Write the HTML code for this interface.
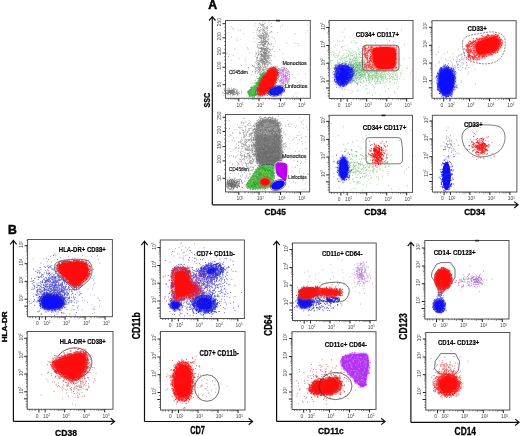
<!DOCTYPE html>
<html><head><meta charset="utf-8"><style>html,body{margin:0;padding:0;background:#fff;width:520px;height:436px;overflow:hidden}text{font-family:"Liberation Sans",sans-serif}</style></head>
<body><svg width="520" height="436" viewBox="0 0 520 436" style="display:block;font-family:'Liberation Sans',sans-serif"><filter id="gb" x="0" y="0" width="100%" height="100%"><feGaussianBlur stdDeviation="0.45"/></filter><g filter="url(#gb)"><rect width="520" height="436" fill="#fff"/><text x="208.2" y="8.6" font-size="12.2" font-weight="bold" fill="#000" stroke="#000" stroke-width="0.5">A</text><path d="M212.3 204.8V16.8M209.1 20.5L212.3 16.6L215.5 20.5" fill="none" stroke="#111" stroke-width="1.2"/><path d="M212.3 204.8H517.9M514.2 201.6L518.1 204.8L514.2 208" fill="none" stroke="#111" stroke-width="1.15"/><text transform="translate(209.5,107.5) rotate(-90)" font-size="9.64" font-weight="bold" fill="#000" stroke="#000" stroke-width="0.3" textLength="14.7" lengthAdjust="spacingAndGlyphs">SSC</text><text x="264.6" y="215" font-size="8.66" font-weight="bold" fill="#000" stroke="#000" stroke-width="0.3" textLength="21.2" lengthAdjust="spacingAndGlyphs">CD45</text><text x="364.2" y="215.2" font-size="8.66" font-weight="bold" fill="#000" stroke="#000" stroke-width="0.3" textLength="22.2" lengthAdjust="spacingAndGlyphs">CD34</text><text x="464.2" y="215.2" font-size="8.66" font-weight="bold" fill="#000" stroke="#000" stroke-width="0.3" textLength="21.0" lengthAdjust="spacingAndGlyphs">CD34</text><text x="7.9" y="233.8" font-size="12.2" font-weight="bold" fill="#000" stroke="#000" stroke-width="0.5">B</text><path d="M13.4 421.4V240.6M10.2 244.3L13.4 240.4L16.6 244.3" fill="none" stroke="#111" stroke-width="1.2"/><path d="M13.4 421.4H114.4M110.7 418.2L114.6 421.4L110.7 424.6" fill="none" stroke="#111" stroke-width="1.15"/><path d="M144.5 421.5V241.4M141.3 245.1L144.5 241.2L147.7 245.1" fill="none" stroke="#111" stroke-width="1.2"/><path d="M144.5 421.5H252.4M248.7 418.3L252.6 421.5L248.7 424.7" fill="none" stroke="#111" stroke-width="1.15"/><path d="M276.6 421.4V241.4M273.4 245.1L276.6 241.2L279.8 245.1" fill="none" stroke="#111" stroke-width="1.2"/><path d="M276.6 421.4H384.9M381.2 418.2L385.1 421.4L381.2 424.6" fill="none" stroke="#111" stroke-width="1.15"/><path d="M410.9 422.3V242.4M407.7 246.1L410.9 242.2L414.1 246.1" fill="none" stroke="#111" stroke-width="1.2"/><path d="M410.9 422.3H518.9M515.2 419.1L519.1 422.3L515.2 425.5" fill="none" stroke="#111" stroke-width="1.15"/><text transform="translate(6.9,342.3) rotate(-90)" font-size="6.84" font-weight="bold" fill="#000" stroke="#000" stroke-width="0.3" textLength="31.0" lengthAdjust="spacingAndGlyphs">HLA-DR</text><text transform="translate(139.9,339.2) rotate(-90)" font-size="10.34" font-weight="bold" fill="#000" stroke="#000" stroke-width="0.3" textLength="27.0" lengthAdjust="spacingAndGlyphs">CD11b</text><text transform="translate(272.3,335.7) rotate(-90)" font-size="10.34" font-weight="bold" fill="#000" stroke="#000" stroke-width="0.3" textLength="20.7" lengthAdjust="spacingAndGlyphs">CD64</text><text transform="translate(406.7,339.7) rotate(-90)" font-size="10.61" font-weight="bold" fill="#000" stroke="#000" stroke-width="0.3" textLength="26.4" lengthAdjust="spacingAndGlyphs">CD123</text><text x="55" y="435.6" font-size="9.78" font-weight="bold" fill="#000" stroke="#000" stroke-width="0.3" textLength="22.0" lengthAdjust="spacingAndGlyphs">CD38</text><text x="190.2" y="434" font-size="10.06" font-weight="bold" fill="#000" stroke="#000" stroke-width="0.3" textLength="14.8" lengthAdjust="spacingAndGlyphs">CD7</text><text x="318" y="434.2" font-size="9.50" font-weight="bold" fill="#000" stroke="#000" stroke-width="0.3" textLength="25.8" lengthAdjust="spacingAndGlyphs">CD11c</text><text x="454.6" y="434.8" font-size="10.06" font-weight="bold" fill="#000" stroke="#000" stroke-width="0.3" textLength="21.4" lengthAdjust="spacingAndGlyphs">CD14</text><rect x="225.5" y="20.5" width="84.8" height="77.8" fill="none" stroke="#555" stroke-width="1"/><path d="M244.9 98.3v1.2M248.4 98.3v1.2M251 98.3v1.2M252.9 98.3v1.8M254.5 98.3v1.2M255.9 98.3v1.2M257 98.3v1.2M258.1 98.3v1.2M265.5 98.3v1.2M269.3 98.3v1.2M271.9 98.3v1.2M274 98.3v1.8M275.7 98.3v1.2M277.2 98.3v1.2M278.4 98.3v1.2M279.5 98.3v1.2M286.5 98.3v1.2M290 98.3v1.2M292.5 98.3v1.2M294.5 98.3v1.8M296.1 98.3v1.2M297.4 98.3v1.2M298.6 98.3v1.2M299.6 98.3v1.2M228.5 98.3v1.2M231 98.3v1.2M232.9 98.3v1.2M234.4 98.3v1.2M235.7 98.3v1.2M236.9 98.3v1.2M237.9 98.3v1.2M225.5 80.3h-1.3M225.5 76h-1.3M225.5 71.7h-1.3M225.5 63.7h-1.3M225.5 60.1h-1.3M225.5 56.6h-1.3M225.5 49.2h-1.3M225.5 45.5h-1.3M225.5 41.7h-1.3M225.5 34.4h-1.3M225.5 30.8h-1.3M225.5 27.2h-1.3" stroke="#444" stroke-width="0.7" fill="none"/><path d="M238.8 98.3v3M259 98.3v3M280.5 98.3v3M300.5 98.3v3M225.5 84.7h-3M225.5 67.3h-3M225.5 53h-3M225.5 37.9h-3M225.5 23.7h-3" stroke="#222" stroke-width="1" fill="none"/><text x="236.6" y="106.5" fill="#444" font-size="4.9">10<tspan font-size="3" dy="-1.5">1</tspan></text><text x="256.8" y="106.5" fill="#444" font-size="4.9">10<tspan font-size="3" dy="-1.5">2</tspan></text><text x="278.3" y="106.5" fill="#444" font-size="4.9">10<tspan font-size="3" dy="-1.5">3</tspan></text><text x="298.3" y="106.5" fill="#444" font-size="4.9">10<tspan font-size="3" dy="-1.5">4</tspan></text><text transform="translate(220.9,87.2) rotate(-90)" fill="#444" font-size="4.9">50</text><text transform="translate(220.9,69.8) rotate(-90)" fill="#444" font-size="4.9">100</text><text transform="translate(220.9,55.5) rotate(-90)" fill="#444" font-size="4.9">150</text><text transform="translate(220.9,40.4) rotate(-90)" fill="#444" font-size="4.9">200</text><text transform="translate(220.9,26.2) rotate(-90)" fill="#444" font-size="4.9">250</text><rect x="329.2" y="20.5" width="83.8" height="78" fill="none" stroke="#555" stroke-width="1"/><path d="M353.1 98.5v1.2M356.5 98.5v1.2M358.9 98.5v1.2M360.8 98.5v1.8M362.4 98.5v1.2M363.7 98.5v1.2M364.8 98.5v1.2M365.8 98.5v1.2M372.7 98.5v1.2M376.2 98.5v1.2M378.7 98.5v1.2M380.7 98.5v1.8M382.3 98.5v1.2M383.6 98.5v1.2M384.8 98.5v1.2M385.8 98.5v1.2M392.7 98.5v1.2M396.2 98.5v1.2M398.7 98.5v1.2M400.7 98.5v1.8M402.3 98.5v1.2M403.6 98.5v1.2M404.8 98.5v1.2M405.8 98.5v1.2M331.7 98.5v1.5M334.2 98.5v1.5M337.2 98.5v1.5M343.7 98.5v1.5M329.2 75.6h-1.2M329.2 72.5h-1.2M329.2 70.3h-1.2M329.2 68.6h-1.8M329.2 67.1h-1.2M329.2 66h-1.2M329.2 64.9h-1.2M329.2 64h-1.2M329.2 57.9h-1.2M329.2 54.8h-1.2M329.2 52.5h-1.2M329.2 50.8h-1.8M329.2 49.4h-1.2M329.2 48.2h-1.2M329.2 47.2h-1.2M329.2 46.3h-1.2M329.2 40.1h-1.2M329.2 36.9h-1.2M329.2 34.7h-1.2M329.2 32.9h-1.8M329.2 31.5h-1.2M329.2 30.3h-1.2M329.2 29.2h-1.2M329.2 28.3h-1.2M329.2 96h-1.5M329.2 93.5h-1.5M329.2 90.5h-1.5M329.2 84h-1.5M329.2 22.2h-1.2" stroke="#444" stroke-width="0.7" fill="none"/><path d="M347.2 98.5v3M366.7 98.5v3M386.7 98.5v3M406.7 98.5v3M340.9 98.5v3.2M329.2 81h-3M329.2 63.2h-3M329.2 45.5h-3M329.2 27.5h-3M329.2 88h-3.2" stroke="#222" stroke-width="1" fill="none"/><text x="337.7" y="106.7" fill="#444" font-size="4.9">0</text><text x="345" y="106.7" fill="#444" font-size="4.9">10<tspan font-size="3" dy="-1.5">2</tspan></text><text x="364.5" y="106.7" fill="#444" font-size="4.9">10<tspan font-size="3" dy="-1.5">3</tspan></text><text x="384.5" y="106.7" fill="#444" font-size="4.9">10<tspan font-size="3" dy="-1.5">4</tspan></text><text x="404.5" y="106.7" fill="#444" font-size="4.9">10<tspan font-size="3" dy="-1.5">5</tspan></text><text transform="translate(324.6,83.2) rotate(-90)" fill="#444" font-size="4.9">10<tspan font-size="3" dy="-1.5">2</tspan></text><text transform="translate(324.6,65.4) rotate(-90)" fill="#444" font-size="4.9">10<tspan font-size="3" dy="-1.5">3</tspan></text><text transform="translate(324.6,47.7) rotate(-90)" fill="#444" font-size="4.9">10<tspan font-size="3" dy="-1.5">4</tspan></text><text transform="translate(324.6,29.7) rotate(-90)" fill="#444" font-size="4.9">10<tspan font-size="3" dy="-1.5">5</tspan></text><rect x="432" y="20.7" width="84.1" height="77.6" fill="none" stroke="#555" stroke-width="1"/><path d="M455.9 98.3v1.2M459.3 98.3v1.2M461.7 98.3v1.2M463.6 98.3v1.8M465.2 98.3v1.2M466.5 98.3v1.2M467.6 98.3v1.2M468.6 98.3v1.2M475.5 98.3v1.2M479 98.3v1.2M481.5 98.3v1.2M483.5 98.3v1.8M485.1 98.3v1.2M486.4 98.3v1.2M487.6 98.3v1.2M488.6 98.3v1.2M495.5 98.3v1.2M499 98.3v1.2M501.5 98.3v1.2M503.5 98.3v1.8M505.1 98.3v1.2M506.4 98.3v1.2M507.6 98.3v1.2M508.6 98.3v1.2M434.5 98.3v1.5M437 98.3v1.5M440 98.3v1.5M446.5 98.3v1.5M432 75.4h-1.2M432 72.3h-1.2M432 70.1h-1.2M432 68.4h-1.8M432 66.9h-1.2M432 65.8h-1.2M432 64.7h-1.2M432 63.8h-1.2M432 57.7h-1.2M432 54.6h-1.2M432 52.3h-1.2M432 50.6h-1.8M432 49.2h-1.2M432 48h-1.2M432 47h-1.2M432 46.1h-1.2M432 39.9h-1.2M432 36.7h-1.2M432 34.5h-1.2M432 32.7h-1.8M432 31.3h-1.2M432 30.1h-1.2M432 29h-1.2M432 28.1h-1.2M432 95.8h-1.5M432 93.3h-1.5M432 90.3h-1.5M432 83.8h-1.5M432 22h-1.2" stroke="#444" stroke-width="0.7" fill="none"/><path d="M450 98.3v3M469.5 98.3v3M489.5 98.3v3M509.5 98.3v3M443.7 98.3v3.2M432 80.8h-3M432 63h-3M432 45.3h-3M432 27.3h-3M432 87.8h-3.2" stroke="#222" stroke-width="1" fill="none"/><text x="440.5" y="106.5" fill="#444" font-size="4.9">0</text><text x="447.8" y="106.5" fill="#444" font-size="4.9">10<tspan font-size="3" dy="-1.5">2</tspan></text><text x="467.3" y="106.5" fill="#444" font-size="4.9">10<tspan font-size="3" dy="-1.5">3</tspan></text><text x="487.3" y="106.5" fill="#444" font-size="4.9">10<tspan font-size="3" dy="-1.5">4</tspan></text><text x="507.3" y="106.5" fill="#444" font-size="4.9">10<tspan font-size="3" dy="-1.5">5</tspan></text><text transform="translate(427.4,83) rotate(-90)" fill="#444" font-size="4.9">10<tspan font-size="3" dy="-1.5">2</tspan></text><text transform="translate(427.4,65.2) rotate(-90)" fill="#444" font-size="4.9">10<tspan font-size="3" dy="-1.5">3</tspan></text><text transform="translate(427.4,47.5) rotate(-90)" fill="#444" font-size="4.9">10<tspan font-size="3" dy="-1.5">4</tspan></text><text transform="translate(427.4,29.5) rotate(-90)" fill="#444" font-size="4.9">10<tspan font-size="3" dy="-1.5">5</tspan></text><rect x="225.5" y="114.5" width="84.1" height="77.4" fill="none" stroke="#555" stroke-width="1"/><path d="M244.9 191.9v1.2M248.4 191.9v1.2M251 191.9v1.2M252.9 191.9v1.8M254.5 191.9v1.2M255.9 191.9v1.2M257 191.9v1.2M258.1 191.9v1.2M265.5 191.9v1.2M269.3 191.9v1.2M271.9 191.9v1.2M274 191.9v1.8M275.7 191.9v1.2M277.2 191.9v1.2M278.4 191.9v1.2M279.5 191.9v1.2M286.5 191.9v1.2M290 191.9v1.2M292.5 191.9v1.2M294.5 191.9v1.8M296.1 191.9v1.2M297.4 191.9v1.2M298.6 191.9v1.2M299.6 191.9v1.2M228.5 191.9v1.2M231 191.9v1.2M232.9 191.9v1.2M234.4 191.9v1.2M235.7 191.9v1.2M236.9 191.9v1.2M237.9 191.9v1.2M225.5 174h-1.3M225.5 169.6h-1.3M225.5 165.2h-1.3M225.5 157.3h-1.3M225.5 153.8h-1.3M225.5 150.2h-1.3M225.5 142.8h-1.3M225.5 139.1h-1.3M225.5 135.3h-1.3M225.5 128h-1.3M225.5 124.4h-1.3M225.5 120.9h-1.3" stroke="#444" stroke-width="0.7" fill="none"/><path d="M238.8 191.9v3M259 191.9v3M280.5 191.9v3M300.5 191.9v3M225.5 178.3h-3M225.5 160.9h-3M225.5 146.6h-3M225.5 131.5h-3M225.5 117.3h-3" stroke="#222" stroke-width="1" fill="none"/><text x="236.6" y="200.1" fill="#444" font-size="4.9">10<tspan font-size="3" dy="-1.5">1</tspan></text><text x="256.8" y="200.1" fill="#444" font-size="4.9">10<tspan font-size="3" dy="-1.5">2</tspan></text><text x="278.3" y="200.1" fill="#444" font-size="4.9">10<tspan font-size="3" dy="-1.5">3</tspan></text><text x="298.3" y="200.1" fill="#444" font-size="4.9">10<tspan font-size="3" dy="-1.5">4</tspan></text><text transform="translate(220.9,180.8) rotate(-90)" fill="#444" font-size="4.9">50</text><text transform="translate(220.9,163.4) rotate(-90)" fill="#444" font-size="4.9">100</text><text transform="translate(220.9,149.1) rotate(-90)" fill="#444" font-size="4.9">150</text><text transform="translate(220.9,134) rotate(-90)" fill="#444" font-size="4.9">200</text><text transform="translate(220.9,119.8) rotate(-90)" fill="#444" font-size="4.9">250</text><rect x="329.2" y="115.3" width="83.3" height="77.1" fill="none" stroke="#555" stroke-width="1"/><path d="M353.1 192.4v1.2M356.5 192.4v1.2M358.9 192.4v1.2M360.8 192.4v1.8M362.4 192.4v1.2M363.7 192.4v1.2M364.8 192.4v1.2M365.8 192.4v1.2M372.7 192.4v1.2M376.2 192.4v1.2M378.7 192.4v1.2M380.7 192.4v1.8M382.3 192.4v1.2M383.6 192.4v1.2M384.8 192.4v1.2M385.8 192.4v1.2M392.7 192.4v1.2M396.2 192.4v1.2M398.7 192.4v1.2M400.7 192.4v1.8M402.3 192.4v1.2M403.6 192.4v1.2M404.8 192.4v1.2M405.8 192.4v1.2M331.7 192.4v1.5M334.2 192.4v1.5M337.2 192.4v1.5M343.7 192.4v1.5M329.2 169.5h-1.2M329.2 166.4h-1.2M329.2 164.2h-1.2M329.2 162.5h-1.8M329.2 161h-1.2M329.2 159.9h-1.2M329.2 158.8h-1.2M329.2 157.9h-1.2M329.2 151.8h-1.2M329.2 148.7h-1.2M329.2 146.4h-1.2M329.2 144.7h-1.8M329.2 143.3h-1.2M329.2 142.1h-1.2M329.2 141.1h-1.2M329.2 140.2h-1.2M329.2 134h-1.2M329.2 130.8h-1.2M329.2 128.6h-1.2M329.2 126.8h-1.8M329.2 125.4h-1.2M329.2 124.2h-1.2M329.2 123.1h-1.2M329.2 122.2h-1.2M329.2 189.9h-1.5M329.2 187.4h-1.5M329.2 184.4h-1.5M329.2 177.9h-1.5M329.2 116.1h-1.2" stroke="#444" stroke-width="0.7" fill="none"/><path d="M347.2 192.4v3M366.7 192.4v3M386.7 192.4v3M406.7 192.4v3M340.9 192.4v3.2M329.2 174.9h-3M329.2 157.1h-3M329.2 139.4h-3M329.2 121.4h-3M329.2 181.9h-3.2" stroke="#222" stroke-width="1" fill="none"/><text x="337.7" y="200.6" fill="#444" font-size="4.9">0</text><text x="345" y="200.6" fill="#444" font-size="4.9">10<tspan font-size="3" dy="-1.5">2</tspan></text><text x="364.5" y="200.6" fill="#444" font-size="4.9">10<tspan font-size="3" dy="-1.5">3</tspan></text><text x="384.5" y="200.6" fill="#444" font-size="4.9">10<tspan font-size="3" dy="-1.5">4</tspan></text><text x="404.5" y="200.6" fill="#444" font-size="4.9">10<tspan font-size="3" dy="-1.5">5</tspan></text><text transform="translate(324.6,177.1) rotate(-90)" fill="#444" font-size="4.9">10<tspan font-size="3" dy="-1.5">2</tspan></text><text transform="translate(324.6,159.3) rotate(-90)" fill="#444" font-size="4.9">10<tspan font-size="3" dy="-1.5">3</tspan></text><text transform="translate(324.6,141.6) rotate(-90)" fill="#444" font-size="4.9">10<tspan font-size="3" dy="-1.5">4</tspan></text><text transform="translate(324.6,123.6) rotate(-90)" fill="#444" font-size="4.9">10<tspan font-size="3" dy="-1.5">5</tspan></text><rect x="432.4" y="115.3" width="84.5" height="76.7" fill="none" stroke="#555" stroke-width="1"/><path d="M456.3 192v1.2M459.7 192v1.2M462.1 192v1.2M464 192v1.8M465.6 192v1.2M466.9 192v1.2M468 192v1.2M469 192v1.2M475.9 192v1.2M479.4 192v1.2M481.9 192v1.2M483.9 192v1.8M485.5 192v1.2M486.8 192v1.2M488 192v1.2M489 192v1.2M495.9 192v1.2M499.4 192v1.2M501.9 192v1.2M503.9 192v1.8M505.5 192v1.2M506.8 192v1.2M508 192v1.2M509 192v1.2M434.9 192v1.5M437.4 192v1.5M440.4 192v1.5M446.9 192v1.5M432.4 169.1h-1.2M432.4 166h-1.2M432.4 163.8h-1.2M432.4 162.1h-1.8M432.4 160.6h-1.2M432.4 159.5h-1.2M432.4 158.4h-1.2M432.4 157.5h-1.2M432.4 151.4h-1.2M432.4 148.3h-1.2M432.4 146h-1.2M432.4 144.3h-1.8M432.4 142.9h-1.2M432.4 141.7h-1.2M432.4 140.7h-1.2M432.4 139.8h-1.2M432.4 133.6h-1.2M432.4 130.4h-1.2M432.4 128.2h-1.2M432.4 126.4h-1.8M432.4 125h-1.2M432.4 123.8h-1.2M432.4 122.7h-1.2M432.4 121.8h-1.2M432.4 189.5h-1.5M432.4 187h-1.5M432.4 184h-1.5M432.4 177.5h-1.5" stroke="#444" stroke-width="0.7" fill="none"/><path d="M450.4 192v3M469.9 192v3M489.9 192v3M509.9 192v3M444.1 192v3.2M432.4 174.5h-3M432.4 156.7h-3M432.4 139h-3M432.4 121h-3M432.4 181.5h-3.2" stroke="#222" stroke-width="1" fill="none"/><text x="440.9" y="200.2" fill="#444" font-size="4.9">0</text><text x="448.2" y="200.2" fill="#444" font-size="4.9">10<tspan font-size="3" dy="-1.5">2</tspan></text><text x="467.7" y="200.2" fill="#444" font-size="4.9">10<tspan font-size="3" dy="-1.5">3</tspan></text><text x="487.7" y="200.2" fill="#444" font-size="4.9">10<tspan font-size="3" dy="-1.5">4</tspan></text><text x="507.7" y="200.2" fill="#444" font-size="4.9">10<tspan font-size="3" dy="-1.5">5</tspan></text><text transform="translate(427.8,176.7) rotate(-90)" fill="#444" font-size="4.9">10<tspan font-size="3" dy="-1.5">2</tspan></text><text transform="translate(427.8,158.9) rotate(-90)" fill="#444" font-size="4.9">10<tspan font-size="3" dy="-1.5">3</tspan></text><text transform="translate(427.8,141.2) rotate(-90)" fill="#444" font-size="4.9">10<tspan font-size="3" dy="-1.5">4</tspan></text><text transform="translate(427.8,123.2) rotate(-90)" fill="#444" font-size="4.9">10<tspan font-size="3" dy="-1.5">5</tspan></text><rect x="27.6" y="239.5" width="84.8" height="77.2" fill="none" stroke="#555" stroke-width="1"/><path d="M51.5 316.7v1.2M54.9 316.7v1.2M57.3 316.7v1.2M59.2 316.7v1.8M60.8 316.7v1.2M62.1 316.7v1.2M63.2 316.7v1.2M64.2 316.7v1.2M71.1 316.7v1.2M74.6 316.7v1.2M77.1 316.7v1.2M79.1 316.7v1.8M80.7 316.7v1.2M82 316.7v1.2M83.2 316.7v1.2M84.2 316.7v1.2M91.1 316.7v1.2M94.6 316.7v1.2M97.1 316.7v1.2M99.1 316.7v1.8M100.7 316.7v1.2M102 316.7v1.2M103.2 316.7v1.2M104.2 316.7v1.2M30.1 316.7v1.5M32.6 316.7v1.5M35.6 316.7v1.5M42.1 316.7v1.5M27.6 293.8h-1.2M27.6 290.7h-1.2M27.6 288.5h-1.2M27.6 286.8h-1.8M27.6 285.3h-1.2M27.6 284.2h-1.2M27.6 283.1h-1.2M27.6 282.2h-1.2M27.6 276.1h-1.2M27.6 273h-1.2M27.6 270.7h-1.2M27.6 269h-1.8M27.6 267.6h-1.2M27.6 266.4h-1.2M27.6 265.4h-1.2M27.6 264.5h-1.2M27.6 258.3h-1.2M27.6 255.1h-1.2M27.6 252.9h-1.2M27.6 251.1h-1.8M27.6 249.7h-1.2M27.6 248.5h-1.2M27.6 247.4h-1.2M27.6 246.5h-1.2M27.6 314.2h-1.5M27.6 311.7h-1.5M27.6 308.7h-1.5M27.6 302.2h-1.5M27.6 240.4h-1.2" stroke="#444" stroke-width="0.7" fill="none"/><path d="M45.6 316.7v3M65.1 316.7v3M85.1 316.7v3M105.1 316.7v3M39.3 316.7v3.2M27.6 299.2h-3M27.6 281.4h-3M27.6 263.7h-3M27.6 245.7h-3M27.6 306.2h-3.2" stroke="#222" stroke-width="1" fill="none"/><text x="36.1" y="324.9" fill="#444" font-size="4.9">0</text><text x="43.4" y="324.9" fill="#444" font-size="4.9">10<tspan font-size="3" dy="-1.5">2</tspan></text><text x="62.9" y="324.9" fill="#444" font-size="4.9">10<tspan font-size="3" dy="-1.5">3</tspan></text><text x="82.9" y="324.9" fill="#444" font-size="4.9">10<tspan font-size="3" dy="-1.5">4</tspan></text><text x="102.9" y="324.9" fill="#444" font-size="4.9">10<tspan font-size="3" dy="-1.5">5</tspan></text><text transform="translate(23,301.4) rotate(-90)" fill="#444" font-size="4.9">10<tspan font-size="3" dy="-1.5">2</tspan></text><text transform="translate(23,283.6) rotate(-90)" fill="#444" font-size="4.9">10<tspan font-size="3" dy="-1.5">3</tspan></text><text transform="translate(23,265.9) rotate(-90)" fill="#444" font-size="4.9">10<tspan font-size="3" dy="-1.5">4</tspan></text><text transform="translate(23,247.9) rotate(-90)" fill="#444" font-size="4.9">10<tspan font-size="3" dy="-1.5">5</tspan></text><rect x="27.2" y="331.5" width="85.8" height="77.8" fill="none" stroke="#555" stroke-width="1"/><path d="M51.1 409.3v1.2M54.5 409.3v1.2M56.9 409.3v1.2M58.8 409.3v1.8M60.4 409.3v1.2M61.7 409.3v1.2M62.8 409.3v1.2M63.8 409.3v1.2M70.7 409.3v1.2M74.2 409.3v1.2M76.7 409.3v1.2M78.7 409.3v1.8M80.3 409.3v1.2M81.6 409.3v1.2M82.8 409.3v1.2M83.8 409.3v1.2M90.7 409.3v1.2M94.2 409.3v1.2M96.7 409.3v1.2M98.7 409.3v1.8M100.3 409.3v1.2M101.6 409.3v1.2M102.8 409.3v1.2M103.8 409.3v1.2M29.7 409.3v1.5M32.2 409.3v1.5M35.2 409.3v1.5M41.7 409.3v1.5M27.2 386.4h-1.2M27.2 383.3h-1.2M27.2 381.1h-1.2M27.2 379.4h-1.8M27.2 377.9h-1.2M27.2 376.8h-1.2M27.2 375.7h-1.2M27.2 374.8h-1.2M27.2 368.7h-1.2M27.2 365.6h-1.2M27.2 363.3h-1.2M27.2 361.6h-1.8M27.2 360.2h-1.2M27.2 359h-1.2M27.2 358h-1.2M27.2 357.1h-1.2M27.2 350.9h-1.2M27.2 347.7h-1.2M27.2 345.5h-1.2M27.2 343.7h-1.8M27.2 342.3h-1.2M27.2 341.1h-1.2M27.2 340h-1.2M27.2 339.1h-1.2M27.2 406.8h-1.5M27.2 404.3h-1.5M27.2 401.3h-1.5M27.2 394.8h-1.5M27.2 333h-1.2" stroke="#444" stroke-width="0.7" fill="none"/><path d="M45.2 409.3v3M64.7 409.3v3M84.7 409.3v3M104.7 409.3v3M38.9 409.3v3.2M27.2 391.8h-3M27.2 374h-3M27.2 356.3h-3M27.2 338.3h-3M27.2 398.8h-3.2" stroke="#222" stroke-width="1" fill="none"/><text x="35.7" y="417.5" fill="#444" font-size="4.9">0</text><text x="43" y="417.5" fill="#444" font-size="4.9">10<tspan font-size="3" dy="-1.5">2</tspan></text><text x="62.5" y="417.5" fill="#444" font-size="4.9">10<tspan font-size="3" dy="-1.5">3</tspan></text><text x="82.5" y="417.5" fill="#444" font-size="4.9">10<tspan font-size="3" dy="-1.5">4</tspan></text><text x="102.5" y="417.5" fill="#444" font-size="4.9">10<tspan font-size="3" dy="-1.5">5</tspan></text><text transform="translate(22.6,394) rotate(-90)" fill="#444" font-size="4.9">10<tspan font-size="3" dy="-1.5">2</tspan></text><text transform="translate(22.6,376.2) rotate(-90)" fill="#444" font-size="4.9">10<tspan font-size="3" dy="-1.5">3</tspan></text><text transform="translate(22.6,358.5) rotate(-90)" fill="#444" font-size="4.9">10<tspan font-size="3" dy="-1.5">4</tspan></text><text transform="translate(22.6,340.5) rotate(-90)" fill="#444" font-size="4.9">10<tspan font-size="3" dy="-1.5">5</tspan></text><rect x="160.3" y="240" width="84.1" height="78.5" fill="none" stroke="#555" stroke-width="1"/><path d="M184.2 318.5v1.2M187.6 318.5v1.2M190 318.5v1.2M191.9 318.5v1.8M193.5 318.5v1.2M194.8 318.5v1.2M195.9 318.5v1.2M196.9 318.5v1.2M203.8 318.5v1.2M207.3 318.5v1.2M209.8 318.5v1.2M211.8 318.5v1.8M213.4 318.5v1.2M214.7 318.5v1.2M215.9 318.5v1.2M216.9 318.5v1.2M223.8 318.5v1.2M227.3 318.5v1.2M229.8 318.5v1.2M231.8 318.5v1.8M233.4 318.5v1.2M234.7 318.5v1.2M235.9 318.5v1.2M236.9 318.5v1.2M162.8 318.5v1.5M165.3 318.5v1.5M168.3 318.5v1.5M174.8 318.5v1.5M160.3 295.6h-1.2M160.3 292.5h-1.2M160.3 290.3h-1.2M160.3 288.6h-1.8M160.3 287.1h-1.2M160.3 286h-1.2M160.3 284.9h-1.2M160.3 284h-1.2M160.3 277.9h-1.2M160.3 274.8h-1.2M160.3 272.5h-1.2M160.3 270.8h-1.8M160.3 269.4h-1.2M160.3 268.2h-1.2M160.3 267.2h-1.2M160.3 266.3h-1.2M160.3 260.1h-1.2M160.3 256.9h-1.2M160.3 254.7h-1.2M160.3 252.9h-1.8M160.3 251.5h-1.2M160.3 250.3h-1.2M160.3 249.2h-1.2M160.3 248.3h-1.2M160.3 316h-1.5M160.3 313.5h-1.5M160.3 310.5h-1.5M160.3 304h-1.5M160.3 242.2h-1.2" stroke="#444" stroke-width="0.7" fill="none"/><path d="M178.3 318.5v3M197.8 318.5v3M217.8 318.5v3M237.8 318.5v3M172 318.5v3.2M160.3 301h-3M160.3 283.2h-3M160.3 265.5h-3M160.3 247.5h-3M160.3 308h-3.2" stroke="#222" stroke-width="1" fill="none"/><text x="168.8" y="326.7" fill="#444" font-size="4.9">0</text><text x="176.1" y="326.7" fill="#444" font-size="4.9">10<tspan font-size="3" dy="-1.5">2</tspan></text><text x="195.6" y="326.7" fill="#444" font-size="4.9">10<tspan font-size="3" dy="-1.5">3</tspan></text><text x="215.6" y="326.7" fill="#444" font-size="4.9">10<tspan font-size="3" dy="-1.5">4</tspan></text><text x="235.6" y="326.7" fill="#444" font-size="4.9">10<tspan font-size="3" dy="-1.5">5</tspan></text><text transform="translate(155.7,303.2) rotate(-90)" fill="#444" font-size="4.9">10<tspan font-size="3" dy="-1.5">2</tspan></text><text transform="translate(155.7,285.4) rotate(-90)" fill="#444" font-size="4.9">10<tspan font-size="3" dy="-1.5">3</tspan></text><text transform="translate(155.7,267.7) rotate(-90)" fill="#444" font-size="4.9">10<tspan font-size="3" dy="-1.5">4</tspan></text><text transform="translate(155.7,249.7) rotate(-90)" fill="#444" font-size="4.9">10<tspan font-size="3" dy="-1.5">5</tspan></text><rect x="160.5" y="331.5" width="84.5" height="78.5" fill="none" stroke="#555" stroke-width="1"/><path d="M184.4 410v1.2M187.8 410v1.2M190.2 410v1.2M192.1 410v1.8M193.7 410v1.2M195 410v1.2M196.1 410v1.2M197.1 410v1.2M204 410v1.2M207.5 410v1.2M210 410v1.2M212 410v1.8M213.6 410v1.2M214.9 410v1.2M216.1 410v1.2M217.1 410v1.2M224 410v1.2M227.5 410v1.2M230 410v1.2M232 410v1.8M233.6 410v1.2M234.9 410v1.2M236.1 410v1.2M237.1 410v1.2M163 410v1.5M165.5 410v1.5M168.5 410v1.5M175 410v1.5M160.5 387.1h-1.2M160.5 384h-1.2M160.5 381.8h-1.2M160.5 380.1h-1.8M160.5 378.6h-1.2M160.5 377.5h-1.2M160.5 376.4h-1.2M160.5 375.5h-1.2M160.5 369.4h-1.2M160.5 366.3h-1.2M160.5 364h-1.2M160.5 362.3h-1.8M160.5 360.9h-1.2M160.5 359.7h-1.2M160.5 358.7h-1.2M160.5 357.8h-1.2M160.5 351.6h-1.2M160.5 348.4h-1.2M160.5 346.2h-1.2M160.5 344.4h-1.8M160.5 343h-1.2M160.5 341.8h-1.2M160.5 340.7h-1.2M160.5 339.8h-1.2M160.5 407.5h-1.5M160.5 405h-1.5M160.5 402h-1.5M160.5 395.5h-1.5M160.5 333.7h-1.2" stroke="#444" stroke-width="0.7" fill="none"/><path d="M178.5 410v3M198 410v3M218 410v3M238 410v3M172.2 410v3.2M160.5 392.5h-3M160.5 374.7h-3M160.5 357h-3M160.5 339h-3M160.5 399.5h-3.2" stroke="#222" stroke-width="1" fill="none"/><text x="169" y="418.2" fill="#444" font-size="4.9">0</text><text x="176.3" y="418.2" fill="#444" font-size="4.9">10<tspan font-size="3" dy="-1.5">2</tspan></text><text x="195.8" y="418.2" fill="#444" font-size="4.9">10<tspan font-size="3" dy="-1.5">3</tspan></text><text x="215.8" y="418.2" fill="#444" font-size="4.9">10<tspan font-size="3" dy="-1.5">4</tspan></text><text x="235.8" y="418.2" fill="#444" font-size="4.9">10<tspan font-size="3" dy="-1.5">5</tspan></text><text transform="translate(155.9,394.7) rotate(-90)" fill="#444" font-size="4.9">10<tspan font-size="3" dy="-1.5">2</tspan></text><text transform="translate(155.9,376.9) rotate(-90)" fill="#444" font-size="4.9">10<tspan font-size="3" dy="-1.5">3</tspan></text><text transform="translate(155.9,359.2) rotate(-90)" fill="#444" font-size="4.9">10<tspan font-size="3" dy="-1.5">4</tspan></text><text transform="translate(155.9,341.2) rotate(-90)" fill="#444" font-size="4.9">10<tspan font-size="3" dy="-1.5">5</tspan></text><rect x="292.5" y="243" width="83.7" height="77.5" fill="none" stroke="#555" stroke-width="1"/><path d="M316.4 320.5v1.2M319.8 320.5v1.2M322.2 320.5v1.2M324.1 320.5v1.8M325.7 320.5v1.2M327 320.5v1.2M328.1 320.5v1.2M329.1 320.5v1.2M336 320.5v1.2M339.5 320.5v1.2M342 320.5v1.2M344 320.5v1.8M345.6 320.5v1.2M346.9 320.5v1.2M348.1 320.5v1.2M349.1 320.5v1.2M356 320.5v1.2M359.5 320.5v1.2M362 320.5v1.2M364 320.5v1.8M365.6 320.5v1.2M366.9 320.5v1.2M368.1 320.5v1.2M369.1 320.5v1.2M295 320.5v1.5M297.5 320.5v1.5M300.5 320.5v1.5M307 320.5v1.5M292.5 297.6h-1.2M292.5 294.5h-1.2M292.5 292.3h-1.2M292.5 290.6h-1.8M292.5 289.1h-1.2M292.5 288h-1.2M292.5 286.9h-1.2M292.5 286h-1.2M292.5 279.9h-1.2M292.5 276.8h-1.2M292.5 274.5h-1.2M292.5 272.8h-1.8M292.5 271.4h-1.2M292.5 270.2h-1.2M292.5 269.2h-1.2M292.5 268.3h-1.2M292.5 262.1h-1.2M292.5 258.9h-1.2M292.5 256.7h-1.2M292.5 254.9h-1.8M292.5 253.5h-1.2M292.5 252.3h-1.2M292.5 251.2h-1.2M292.5 250.3h-1.2M292.5 318h-1.5M292.5 315.5h-1.5M292.5 312.5h-1.5M292.5 306h-1.5M292.5 244.2h-1.2" stroke="#444" stroke-width="0.7" fill="none"/><path d="M310.5 320.5v3M330 320.5v3M350 320.5v3M370 320.5v3M304.2 320.5v3.2M292.5 303h-3M292.5 285.2h-3M292.5 267.5h-3M292.5 249.5h-3M292.5 310h-3.2" stroke="#222" stroke-width="1" fill="none"/><text x="301" y="328.7" fill="#444" font-size="4.9">0</text><text x="308.3" y="328.7" fill="#444" font-size="4.9">10<tspan font-size="3" dy="-1.5">2</tspan></text><text x="327.8" y="328.7" fill="#444" font-size="4.9">10<tspan font-size="3" dy="-1.5">3</tspan></text><text x="347.8" y="328.7" fill="#444" font-size="4.9">10<tspan font-size="3" dy="-1.5">4</tspan></text><text x="367.8" y="328.7" fill="#444" font-size="4.9">10<tspan font-size="3" dy="-1.5">5</tspan></text><text transform="translate(287.9,305.2) rotate(-90)" fill="#444" font-size="4.9">10<tspan font-size="3" dy="-1.5">2</tspan></text><text transform="translate(287.9,287.4) rotate(-90)" fill="#444" font-size="4.9">10<tspan font-size="3" dy="-1.5">3</tspan></text><text transform="translate(287.9,269.7) rotate(-90)" fill="#444" font-size="4.9">10<tspan font-size="3" dy="-1.5">4</tspan></text><text transform="translate(287.9,251.7) rotate(-90)" fill="#444" font-size="4.9">10<tspan font-size="3" dy="-1.5">5</tspan></text><rect x="292" y="331.7" width="84" height="77.8" fill="none" stroke="#555" stroke-width="1"/><path d="M315.9 409.5v1.2M319.3 409.5v1.2M321.7 409.5v1.2M323.6 409.5v1.8M325.2 409.5v1.2M326.5 409.5v1.2M327.6 409.5v1.2M328.6 409.5v1.2M335.5 409.5v1.2M339 409.5v1.2M341.5 409.5v1.2M343.5 409.5v1.8M345.1 409.5v1.2M346.4 409.5v1.2M347.6 409.5v1.2M348.6 409.5v1.2M355.5 409.5v1.2M359 409.5v1.2M361.5 409.5v1.2M363.5 409.5v1.8M365.1 409.5v1.2M366.4 409.5v1.2M367.6 409.5v1.2M368.6 409.5v1.2M294.5 409.5v1.5M297 409.5v1.5M300 409.5v1.5M306.5 409.5v1.5M292 386.6h-1.2M292 383.5h-1.2M292 381.3h-1.2M292 379.6h-1.8M292 378.1h-1.2M292 377h-1.2M292 375.9h-1.2M292 375h-1.2M292 368.9h-1.2M292 365.8h-1.2M292 363.5h-1.2M292 361.8h-1.8M292 360.4h-1.2M292 359.2h-1.2M292 358.2h-1.2M292 357.3h-1.2M292 351.1h-1.2M292 347.9h-1.2M292 345.7h-1.2M292 343.9h-1.8M292 342.5h-1.2M292 341.3h-1.2M292 340.2h-1.2M292 339.3h-1.2M292 407h-1.5M292 404.5h-1.5M292 401.5h-1.5M292 395h-1.5M292 333.2h-1.2" stroke="#444" stroke-width="0.7" fill="none"/><path d="M310 409.5v3M329.5 409.5v3M349.5 409.5v3M369.5 409.5v3M303.7 409.5v3.2M292 392h-3M292 374.2h-3M292 356.5h-3M292 338.5h-3M292 399h-3.2" stroke="#222" stroke-width="1" fill="none"/><text x="300.5" y="417.7" fill="#444" font-size="4.9">0</text><text x="307.8" y="417.7" fill="#444" font-size="4.9">10<tspan font-size="3" dy="-1.5">2</tspan></text><text x="327.3" y="417.7" fill="#444" font-size="4.9">10<tspan font-size="3" dy="-1.5">3</tspan></text><text x="347.3" y="417.7" fill="#444" font-size="4.9">10<tspan font-size="3" dy="-1.5">4</tspan></text><text x="367.3" y="417.7" fill="#444" font-size="4.9">10<tspan font-size="3" dy="-1.5">5</tspan></text><text transform="translate(287.4,394.2) rotate(-90)" fill="#444" font-size="4.9">10<tspan font-size="3" dy="-1.5">2</tspan></text><text transform="translate(287.4,376.4) rotate(-90)" fill="#444" font-size="4.9">10<tspan font-size="3" dy="-1.5">3</tspan></text><text transform="translate(287.4,358.7) rotate(-90)" fill="#444" font-size="4.9">10<tspan font-size="3" dy="-1.5">4</tspan></text><text transform="translate(287.4,340.7) rotate(-90)" fill="#444" font-size="4.9">10<tspan font-size="3" dy="-1.5">5</tspan></text><rect x="424.8" y="240.5" width="84.2" height="78.5" fill="none" stroke="#555" stroke-width="1"/><path d="M448.7 319v1.2M452.1 319v1.2M454.5 319v1.2M456.4 319v1.8M458 319v1.2M459.3 319v1.2M460.4 319v1.2M461.4 319v1.2M468.3 319v1.2M471.8 319v1.2M474.3 319v1.2M476.3 319v1.8M477.9 319v1.2M479.2 319v1.2M480.4 319v1.2M481.4 319v1.2M488.3 319v1.2M491.8 319v1.2M494.3 319v1.2M496.3 319v1.8M497.9 319v1.2M499.2 319v1.2M500.4 319v1.2M501.4 319v1.2M427.3 319v1.5M429.8 319v1.5M432.8 319v1.5M439.3 319v1.5M424.8 296.1h-1.2M424.8 293h-1.2M424.8 290.8h-1.2M424.8 289.1h-1.8M424.8 287.6h-1.2M424.8 286.5h-1.2M424.8 285.4h-1.2M424.8 284.5h-1.2M424.8 278.4h-1.2M424.8 275.3h-1.2M424.8 273h-1.2M424.8 271.3h-1.8M424.8 269.9h-1.2M424.8 268.7h-1.2M424.8 267.7h-1.2M424.8 266.8h-1.2M424.8 260.6h-1.2M424.8 257.4h-1.2M424.8 255.2h-1.2M424.8 253.4h-1.8M424.8 252h-1.2M424.8 250.8h-1.2M424.8 249.7h-1.2M424.8 248.8h-1.2M424.8 316.5h-1.5M424.8 314h-1.5M424.8 311h-1.5M424.8 304.5h-1.5M424.8 242.7h-1.2" stroke="#444" stroke-width="0.7" fill="none"/><path d="M442.8 319v3M462.3 319v3M482.3 319v3M502.3 319v3M436.5 319v3.2M424.8 301.5h-3M424.8 283.7h-3M424.8 266h-3M424.8 248h-3M424.8 308.5h-3.2" stroke="#222" stroke-width="1" fill="none"/><text x="433.3" y="327.2" fill="#444" font-size="4.9">0</text><text x="440.6" y="327.2" fill="#444" font-size="4.9">10<tspan font-size="3" dy="-1.5">2</tspan></text><text x="460.1" y="327.2" fill="#444" font-size="4.9">10<tspan font-size="3" dy="-1.5">3</tspan></text><text x="480.1" y="327.2" fill="#444" font-size="4.9">10<tspan font-size="3" dy="-1.5">4</tspan></text><text x="500.1" y="327.2" fill="#444" font-size="4.9">10<tspan font-size="3" dy="-1.5">5</tspan></text><text transform="translate(420.2,303.7) rotate(-90)" fill="#444" font-size="4.9">10<tspan font-size="3" dy="-1.5">2</tspan></text><text transform="translate(420.2,285.9) rotate(-90)" fill="#444" font-size="4.9">10<tspan font-size="3" dy="-1.5">3</tspan></text><text transform="translate(420.2,268.2) rotate(-90)" fill="#444" font-size="4.9">10<tspan font-size="3" dy="-1.5">4</tspan></text><text transform="translate(420.2,250.2) rotate(-90)" fill="#444" font-size="4.9">10<tspan font-size="3" dy="-1.5">5</tspan></text><rect x="425.8" y="332.5" width="84" height="77.5" fill="none" stroke="#555" stroke-width="1"/><path d="M449.7 410v1.2M453.1 410v1.2M455.5 410v1.2M457.4 410v1.8M459 410v1.2M460.3 410v1.2M461.4 410v1.2M462.4 410v1.2M469.3 410v1.2M472.8 410v1.2M475.3 410v1.2M477.3 410v1.8M478.9 410v1.2M480.2 410v1.2M481.4 410v1.2M482.4 410v1.2M489.3 410v1.2M492.8 410v1.2M495.3 410v1.2M497.3 410v1.8M498.9 410v1.2M500.2 410v1.2M501.4 410v1.2M502.4 410v1.2M428.3 410v1.5M430.8 410v1.5M433.8 410v1.5M440.3 410v1.5M425.8 387.1h-1.2M425.8 384h-1.2M425.8 381.8h-1.2M425.8 380.1h-1.8M425.8 378.6h-1.2M425.8 377.5h-1.2M425.8 376.4h-1.2M425.8 375.5h-1.2M425.8 369.4h-1.2M425.8 366.3h-1.2M425.8 364h-1.2M425.8 362.3h-1.8M425.8 360.9h-1.2M425.8 359.7h-1.2M425.8 358.7h-1.2M425.8 357.8h-1.2M425.8 351.6h-1.2M425.8 348.4h-1.2M425.8 346.2h-1.2M425.8 344.4h-1.8M425.8 343h-1.2M425.8 341.8h-1.2M425.8 340.7h-1.2M425.8 339.8h-1.2M425.8 407.5h-1.5M425.8 405h-1.5M425.8 402h-1.5M425.8 395.5h-1.5M425.8 333.7h-1.2" stroke="#444" stroke-width="0.7" fill="none"/><path d="M443.8 410v3M463.3 410v3M483.3 410v3M503.3 410v3M437.5 410v3.2M425.8 392.5h-3M425.8 374.7h-3M425.8 357h-3M425.8 339h-3M425.8 399.5h-3.2" stroke="#222" stroke-width="1" fill="none"/><text x="434.3" y="418.2" fill="#444" font-size="4.9">0</text><text x="441.6" y="418.2" fill="#444" font-size="4.9">10<tspan font-size="3" dy="-1.5">2</tspan></text><text x="461.1" y="418.2" fill="#444" font-size="4.9">10<tspan font-size="3" dy="-1.5">3</tspan></text><text x="481.1" y="418.2" fill="#444" font-size="4.9">10<tspan font-size="3" dy="-1.5">4</tspan></text><text x="501.1" y="418.2" fill="#444" font-size="4.9">10<tspan font-size="3" dy="-1.5">5</tspan></text><text transform="translate(421.2,394.7) rotate(-90)" fill="#444" font-size="4.9">10<tspan font-size="3" dy="-1.5">2</tspan></text><text transform="translate(421.2,376.9) rotate(-90)" fill="#444" font-size="4.9">10<tspan font-size="3" dy="-1.5">3</tspan></text><text transform="translate(421.2,359.2) rotate(-90)" fill="#444" font-size="4.9">10<tspan font-size="3" dy="-1.5">4</tspan></text><text transform="translate(421.2,341.2) rotate(-90)" fill="#444" font-size="4.9">10<tspan font-size="3" dy="-1.5">5</tspan></text><defs><filter id="b03" x="-30%" y="-30%" width="160%" height="160%"><feGaussianBlur stdDeviation="0.35"/></filter><filter id="b08" x="-30%" y="-30%" width="160%" height="160%"><feGaussianBlur stdDeviation="0.8"/></filter><filter id="b15" x="-40%" y="-40%" width="180%" height="180%"><feGaussianBlur stdDeviation="1.5"/></filter><filter id="b25" x="-50%" y="-50%" width="200%" height="200%"><feGaussianBlur stdDeviation="2.5"/></filter></defs><path d="M276 20.6h4" stroke="#222" stroke-width="1.6"/><path d="M253.3 32.9h0M280.4 27.0h0M270.9 49.2h0M231.3 60.0h0M229.6 54.4h0M232.3 28.4h0M261.7 84.2h0M236.8 38.4h0M278.5 93.3h0M274.3 51.6h0M307.3 25.0h0M297.6 43.5h0M238.4 30.4h0M252.0 83.4h0M241.5 65.6h0M279.4 49.7h0M271.9 26.3h0M231.4 37.1h0M282.8 53.9h0M252.5 65.9h0M264.0 44.2h0M292.3 74.5h0M246.7 65.0h0M270.0 87.8h0M286.9 43.3h0M307.7 30.4h0M261.1 78.9h0M239.1 58.6h0M229.7 72.2h0M289.8 64.9h0M299.0 45.3h0M284.1 66.6h0M274.5 56.1h0M296.0 93.1h0M265.8 71.8h0M231.5 74.7h0M280.1 96.8h0M294.6 43.1h0M258.4 72.2h0M228.4 56.5h0M240.4 30.4h0M231.4 79.7h0M237.2 40.3h0M258.9 87.6h0M233.2 55.5h0M272.0 88.5h0M294.3 87.0h0M249.6 53.0h0M256.2 88.5h0M305.8 32.9h0M241.1 39.1h0M245.8 58.3h0M275.3 41.4h0M226.8 53.3h0M257.1 64.4h0M305.4 73.8h0M269.2 68.3h0M282.5 25.6h0M301.0 80.6h0M298.9 82.0h0M259.0 51.7h0M235.1 69.6h0M231.7 26.6h0M243.8 33.8h0M254.7 25.5h0M226.5 33.0h0M234.9 49.1h0M228.6 87.8h0M277.3 32.8h0M247.4 47.8h0M256.7 30.8h0M296.8 96.8h0M265.1 58.2h0M233.6 29.2h0M254.9 41.6h0M295.1 33.7h0M228.4 93.6h0M270.2 32.6h0M271.5 23.5h0M270.2 95.7h0M298.0 74.3h0M248.1 49.3h0M240.3 80.0h0M270.6 80.6h0M253.8 38.4h0M293.7 96.2h0M297.1 82.6h0M294.3 77.6h0M245.3 60.7h0M255.9 23.7h0" stroke="#9a9a9a" stroke-width="0.80" stroke-linecap="round" fill="none" opacity="1"/><path d="M265.7 37.1h0M263.3 48.3h0M266.4 33.6h0M271.2 26.8h0M266.1 33.9h0M263.9 41.6h0M264.1 41.1h0M259.2 23.9h0M265.2 28.3h0M260.6 24.2h0M267.0 42.0h0M267.6 28.5h0M263.5 26.9h0M265.6 48.7h0M261.0 48.5h0M266.3 34.6h0M258.0 47.3h0M263.2 31.2h0M264.6 39.3h0M267.7 27.8h0M266.7 47.9h0M267.6 34.6h0M261.4 44.1h0M263.8 37.0h0M267.5 33.9h0M257.1 32.9h0M258.3 42.6h0M264.4 31.1h0M263.5 42.7h0M263.7 46.6h0M263.3 44.3h0M267.7 48.9h0M261.6 43.0h0M258.2 27.3h0M258.0 44.6h0M260.1 35.9h0M263.0 35.8h0M261.8 37.9h0M268.5 36.4h0M265.0 44.0h0M262.9 25.9h0M261.9 44.6h0M258.9 31.2h0M266.3 42.3h0M263.5 42.4h0M264.0 26.6h0M259.1 30.9h0M266.1 31.5h0M261.0 29.8h0M259.2 35.1h0M260.2 38.9h0M256.9 38.6h0M265.5 33.8h0M257.3 29.0h0M264.3 32.3h0M265.7 42.0h0M265.4 38.6h0M267.2 41.3h0M266.0 46.5h0M262.7 32.2h0M268.9 21.9h0M264.8 55.4h0M260.9 41.5h0M268.8 35.0h0M265.1 43.2h0M261.0 35.3h0M264.3 42.6h0M263.4 34.4h0M260.7 33.1h0M266.0 36.8h0M261.1 29.3h0M271.0 45.1h0M265.2 39.8h0M268.2 39.4h0M263.3 40.2h0M258.1 44.3h0M264.4 30.4h0M267.2 50.5h0M259.6 30.7h0M264.3 37.5h0M262.4 28.2h0M269.4 44.3h0M260.2 25.2h0M268.3 43.9h0M268.6 42.5h0M261.1 38.1h0M257.5 30.0h0M263.3 40.2h0M261.5 35.0h0M264.8 39.0h0M265.3 37.7h0M262.6 42.3h0M263.6 29.4h0M261.7 36.0h0M263.2 37.3h0M263.5 37.4h0M263.1 25.9h0M264.7 44.4h0M264.7 34.5h0M264.8 28.3h0M258.2 36.5h0M260.9 41.9h0M260.6 48.6h0M262.4 25.0h0M261.4 40.2h0M264.9 37.4h0M267.7 41.7h0M263.4 40.8h0M268.1 43.8h0M266.4 27.3h0M263.1 41.8h0M262.7 44.6h0M265.2 43.3h0M262.9 56.4h0M267.0 34.3h0M263.8 56.8h0M262.5 43.0h0M266.2 36.1h0M260.2 37.5h0M264.5 45.0h0M265.7 36.2h0M265.9 40.3h0M264.1 36.4h0M262.8 41.5h0M260.5 31.0h0M263.5 24.3h0M261.6 40.5h0M265.1 35.6h0M262.9 24.7h0M268.6 40.1h0M266.6 28.9h0M263.0 21.4h0M265.7 43.5h0M258.2 35.6h0M265.3 21.9h0M258.4 27.5h0M261.7 24.8h0M263.6 38.0h0M265.3 41.6h0M267.7 45.3h0M259.8 32.0h0M260.5 27.4h0M263.3 36.0h0M264.9 23.3h0M260.0 35.8h0M262.9 33.5h0M263.3 29.9h0M265.5 38.8h0M263.3 30.6h0M260.8 36.3h0M259.3 37.6h0M263.9 25.0h0M262.8 33.5h0M264.8 40.9h0M263.4 29.2h0M263.1 35.5h0M265.6 38.4h0M261.5 25.2h0M262.5 30.1h0M260.4 35.1h0M262.1 36.8h0M265.0 32.7h0M270.0 33.4h0M266.6 37.0h0M261.4 38.0h0M265.2 54.7h0M264.4 46.2h0M265.6 43.6h0M264.9 34.8h0M264.9 27.4h0M266.8 27.9h0M264.2 53.0h0M262.9 36.2h0M266.8 36.2h0M261.2 38.1h0M265.1 41.7h0M261.3 50.0h0M268.2 36.1h0M264.3 32.6h0M267.5 30.4h0M265.4 32.2h0M261.6 41.7h0M267.2 35.9h0M261.6 42.5h0M263.4 38.5h0M267.8 45.1h0M262.0 54.3h0M263.5 42.3h0M261.7 35.6h0M258.6 50.3h0M267.3 26.3h0M259.3 23.0h0M266.8 32.3h0" stroke="#8a8a8a" stroke-width="0.84" stroke-linecap="round" fill="none" opacity="1"/><path d="M263.8 52.2h0M263.6 45.2h0M264.1 42.1h0M263.7 57.8h0M265.7 52.9h0M260.7 56.4h0M262.3 69.1h0M266.8 54.0h0M262.3 48.7h0M260.6 51.8h0M265.1 59.6h0M266.0 73.9h0M261.5 55.1h0M274.1 38.2h0M262.1 56.5h0M264.6 58.7h0M263.1 58.3h0M264.2 61.9h0M257.2 47.0h0M264.0 45.7h0M260.2 60.6h0M261.7 60.7h0M266.7 57.8h0M265.8 54.1h0M258.9 54.7h0M265.6 50.2h0M263.6 61.7h0M260.8 60.8h0M270.7 50.0h0M264.5 53.6h0M269.5 57.8h0M267.2 48.8h0M263.9 54.9h0M257.6 68.0h0M267.2 39.3h0M266.7 53.8h0M265.6 58.3h0M258.6 53.1h0M269.4 49.8h0M260.3 42.8h0M259.6 58.0h0M270.1 58.9h0M264.9 75.1h0M262.1 48.9h0M265.9 59.9h0M260.3 44.5h0M265.0 57.2h0M259.3 53.2h0M262.0 59.1h0M263.6 54.2h0M262.7 64.5h0M269.0 51.7h0M267.0 48.2h0M264.3 61.7h0M269.5 51.6h0M263.7 56.8h0M258.6 55.1h0M261.6 58.3h0M259.9 37.2h0M264.1 57.3h0M262.0 63.0h0M263.0 49.5h0M265.7 40.9h0M261.6 54.8h0M267.1 53.5h0M265.1 49.1h0M265.1 70.0h0M261.5 76.3h0M261.7 55.2h0M264.6 64.2h0M259.5 36.1h0M266.2 62.2h0M266.2 78.7h0M264.7 57.3h0M267.3 58.3h0M270.0 43.9h0M262.6 24.0h0M266.9 51.6h0M267.3 74.4h0M264.0 52.7h0M262.2 47.5h0M261.7 60.8h0M264.1 55.6h0M263.4 63.2h0M265.8 53.7h0M266.4 53.6h0M259.8 68.1h0M265.7 46.4h0M267.9 58.1h0M258.4 69.5h0M265.2 63.0h0M264.7 53.7h0M258.4 63.7h0M264.1 52.4h0M265.3 55.7h0M266.4 51.7h0M263.9 35.7h0M262.5 61.1h0M268.8 51.7h0M263.6 69.3h0M262.8 61.6h0M270.0 55.4h0M268.4 48.6h0M264.7 54.3h0M264.4 65.2h0M272.6 49.0h0M261.9 59.5h0M260.2 59.5h0M266.1 52.5h0M265.9 41.1h0M266.7 41.1h0M261.5 50.0h0M262.6 62.7h0M264.3 51.4h0M266.0 69.2h0M264.0 58.3h0M268.5 57.4h0M259.4 77.4h0M272.0 37.1h0M263.9 58.8h0M267.5 61.0h0M263.0 45.5h0M264.4 64.3h0M260.1 45.8h0M263.9 37.6h0M263.1 51.1h0M265.6 48.7h0M260.8 51.5h0M263.8 49.0h0M264.0 61.8h0M268.3 70.3h0M261.2 51.2h0M255.1 72.1h0M261.4 54.7h0M265.9 42.8h0M265.7 54.8h0M257.4 57.6h0M268.3 38.2h0M266.9 56.9h0M265.7 59.0h0M268.7 53.0h0M267.1 51.3h0M266.6 47.7h0M263.6 70.6h0M265.6 53.6h0M259.9 47.9h0M264.7 63.5h0M265.5 59.7h0M263.8 67.2h0M262.6 50.1h0M267.2 55.6h0M263.0 49.8h0M263.1 60.6h0M265.3 44.1h0M265.5 56.6h0M260.4 62.0h0M263.0 52.0h0M266.9 66.9h0M261.5 58.9h0M260.8 75.8h0M262.2 65.8h0M261.7 62.3h0M272.0 32.1h0M262.4 59.5h0M263.7 49.0h0M271.7 55.7h0M258.1 62.7h0M257.8 65.4h0M261.9 56.3h0M268.5 56.1h0M259.0 39.7h0M268.3 61.7h0M261.1 62.7h0M265.8 60.8h0M255.9 52.3h0M267.2 61.6h0M267.2 32.9h0M264.6 59.4h0M273.2 46.4h0M262.8 55.3h0M267.2 51.0h0M268.1 47.9h0M265.0 50.3h0M264.6 48.8h0M258.2 64.8h0M265.1 50.0h0M264.7 63.9h0M260.5 54.0h0M265.9 59.7h0M262.8 36.0h0M268.5 58.0h0M264.0 52.5h0M264.9 51.2h0M260.3 48.3h0M261.9 49.5h0M259.8 60.7h0M259.3 60.9h0M260.3 58.2h0M268.9 56.8h0M261.4 55.4h0M264.5 39.4h0M261.8 56.5h0M262.3 55.7h0M266.6 61.9h0M267.3 60.3h0M263.0 54.8h0M263.0 52.2h0M263.4 39.5h0M262.8 54.8h0M260.5 54.8h0M265.9 53.5h0M271.5 31.5h0M263.3 38.6h0M267.5 78.9h0M255.0 56.2h0M265.9 52.3h0M266.0 34.8h0M267.1 58.3h0M264.1 49.7h0M266.3 50.6h0M264.8 50.4h0M255.9 54.7h0M264.7 61.8h0M260.8 54.7h0M266.2 56.3h0M268.5 72.9h0M260.7 37.7h0M267.1 68.8h0M267.3 62.3h0M261.8 48.6h0M267.2 46.8h0M257.5 46.0h0M273.0 72.3h0M261.5 48.4h0M264.8 48.3h0M268.7 54.3h0M260.1 66.8h0M261.9 57.0h0M264.0 52.2h0M265.2 48.8h0M257.4 35.1h0M259.4 48.2h0M263.9 55.5h0M266.0 56.1h0M261.1 48.6h0M256.4 53.5h0M265.7 59.8h0M263.6 53.4h0M267.4 55.1h0M266.7 60.2h0M264.8 66.8h0M261.9 51.8h0M261.1 47.8h0M269.6 70.8h0M264.1 60.1h0M268.2 62.3h0M268.3 43.6h0M261.7 59.1h0M269.2 55.9h0M260.9 51.8h0M261.6 47.3h0M269.4 49.4h0M264.1 74.5h0M268.3 58.0h0M261.8 58.7h0M269.8 60.6h0M268.5 55.9h0M265.9 53.2h0M265.5 66.7h0M258.8 54.4h0M264.9 49.9h0M262.9 62.1h0M271.2 60.7h0M265.2 41.0h0M270.9 55.7h0M263.9 44.9h0M263.8 45.1h0M264.3 59.2h0M264.1 57.5h0M260.9 67.9h0M261.6 38.6h0M263.3 48.1h0M260.4 51.8h0M265.0 44.4h0M263.5 67.8h0M266.5 53.6h0M264.5 53.9h0M263.8 61.6h0M263.7 33.4h0M263.9 47.0h0M266.3 49.5h0M264.5 74.6h0M260.2 44.9h0M258.9 33.4h0M257.2 58.3h0M261.7 38.2h0M258.7 60.6h0M261.2 51.7h0M265.2 67.2h0M271.0 64.3h0M264.5 56.7h0M270.5 67.9h0M262.9 59.1h0M265.0 55.5h0M262.2 43.1h0M262.1 41.1h0M268.4 59.8h0M259.7 67.6h0M267.2 37.8h0M270.6 62.3h0M271.4 43.9h0M265.9 58.8h0M264.7 56.5h0M267.8 41.6h0M259.5 42.5h0M262.0 49.6h0M265.3 57.4h0M264.1 48.9h0M262.4 63.6h0M266.7 55.9h0M262.8 69.0h0M261.9 60.8h0M268.2 52.6h0M267.0 45.0h0M267.6 56.8h0M258.3 61.0h0M260.8 66.5h0M261.6 53.5h0M265.0 52.0h0M264.9 50.0h0M266.4 55.0h0M264.8 30.2h0M268.2 55.3h0M257.6 55.9h0M265.7 64.6h0M260.1 68.9h0M263.4 76.6h0M263.5 61.1h0M262.7 45.0h0M267.9 63.2h0M269.5 62.7h0M261.9 40.0h0M261.7 48.9h0M261.1 60.2h0M265.2 52.6h0M264.6 53.7h0M264.8 61.8h0M267.5 48.8h0M258.6 67.8h0M264.4 65.0h0M258.1 52.0h0M264.1 42.0h0M262.1 61.5h0M267.9 69.3h0M260.9 42.4h0M265.9 63.5h0M264.7 43.3h0M266.8 62.1h0M266.0 50.6h0M265.1 62.1h0M262.0 38.4h0M265.2 59.3h0M264.0 63.0h0M261.9 54.3h0M262.9 60.1h0M269.7 52.7h0M271.4 68.8h0M266.8 60.3h0M270.4 53.4h0M263.6 45.4h0M265.7 67.1h0M265.9 58.8h0M263.3 56.5h0M258.9 64.4h0M262.5 45.1h0M261.3 47.6h0M267.1 64.5h0M259.1 63.3h0M267.2 49.8h0M258.6 48.3h0" stroke="#7e7e7e" stroke-width="0.84" stroke-linecap="round" fill="none" opacity="1"/><path d="M258.8 69.7h0M260.2 57.9h0M263.2 60.3h0M266.5 62.0h0M258.5 63.7h0M259.3 74.5h0M266.3 71.0h0M263.6 60.3h0M259.4 65.2h0M257.1 70.5h0M258.3 64.5h0M256.8 57.7h0M265.0 74.7h0M262.9 63.1h0M248.5 68.9h0M268.1 69.5h0M266.6 75.4h0M267.6 65.8h0M267.3 71.9h0M254.3 66.0h0M254.9 67.5h0M264.9 62.7h0M251.7 74.5h0M263.9 75.4h0M255.4 73.3h0M272.4 78.0h0M260.9 69.3h0M261.2 73.0h0M267.2 68.4h0M255.2 71.7h0M259.7 71.1h0M263.3 76.1h0M267.7 65.7h0M263.7 76.8h0M259.3 70.2h0M268.0 74.3h0M264.6 61.4h0M255.7 69.2h0M263.9 80.7h0M257.7 73.7h0M265.9 59.6h0M257.9 68.8h0M259.5 67.2h0M264.4 64.0h0M264.3 64.8h0M259.3 70.7h0M259.1 69.4h0M270.0 68.1h0M261.3 71.7h0M260.2 73.4h0M255.6 71.1h0M259.4 64.0h0M270.8 63.7h0M270.8 71.3h0M269.3 63.1h0M268.0 75.3h0M261.4 67.4h0M274.3 68.9h0M259.9 64.9h0M264.2 69.7h0M262.9 76.6h0M260.4 70.4h0M269.3 63.0h0M267.2 77.2h0M255.2 62.5h0M256.8 58.8h0M264.3 58.7h0M264.5 75.3h0M253.9 66.4h0M252.4 71.9h0M258.3 66.7h0M262.3 70.7h0M260.3 68.1h0M259.3 68.6h0M256.1 68.3h0M252.3 65.5h0M271.6 68.4h0M255.7 69.3h0M257.1 59.7h0M258.3 71.7h0M263.9 67.5h0M257.4 62.6h0M268.7 69.2h0M257.2 57.4h0M255.2 80.4h0M256.3 67.6h0M263.1 67.2h0M260.6 61.1h0M256.7 76.4h0M258.2 72.2h0M253.5 66.6h0M263.3 73.2h0M256.4 71.0h0M263.9 64.3h0M264.4 63.5h0M258.0 67.9h0M248.4 67.5h0M257.0 60.7h0M259.9 71.8h0M260.0 74.3h0M256.2 61.4h0M269.8 70.0h0M266.7 63.9h0M266.0 69.3h0M265.2 68.1h0M268.0 64.8h0M257.2 60.6h0M267.8 64.3h0M256.8 63.3h0M259.8 61.6h0M260.5 64.9h0M259.2 63.2h0M262.2 65.7h0M262.6 69.2h0M263.7 57.1h0M259.3 64.0h0M265.9 60.1h0M258.4 66.5h0M260.3 73.0h0M259.8 72.8h0" stroke="#8a8a8a" stroke-width="0.84" stroke-linecap="round" fill="none" opacity="1"/><path d="M225.9 89.1h0M235.3 92.7h0M232.7 92.2h0M232.7 90.1h0M234.3 91.1h0M234.4 92.1h0M224.1 89.9h0M234.9 91.8h0M229.6 92.4h0M229.5 91.1h0M231.4 92.2h0M236.3 92.1h0M237.6 94.9h0M237.0 93.7h0M231.5 92.2h0M230.5 90.8h0M230.8 91.0h0M236.7 92.9h0M229.4 88.9h0M230.8 91.3h0M227.2 90.2h0M223.1 92.9h0M230.8 96.1h0M230.9 91.8h0M236.1 92.2h0M231.6 91.4h0M228.9 94.4h0M234.5 94.7h0M229.8 92.0h0M227.9 93.5h0M226.1 92.9h0M234.8 94.3h0M227.7 93.7h0M228.5 90.8h0M226.4 93.8h0M236.8 91.0h0M228.3 91.5h0M239.8 93.6h0M229.1 89.1h0M228.6 93.9h0M237.5 91.6h0M228.6 91.2h0M224.4 93.5h0M227.2 93.7h0M225.0 90.0h0M232.0 90.8h0M233.7 92.0h0M226.9 93.0h0M233.9 88.9h0M237.4 92.8h0M233.7 89.0h0M228.5 91.4h0M234.8 89.7h0M227.9 88.8h0M230.2 92.6h0M225.1 91.1h0M232.8 94.5h0M233.3 91.5h0M226.9 90.5h0M228.7 92.2h0M230.8 94.7h0M232.0 90.3h0M236.4 93.5h0M231.4 90.8h0M224.5 90.4h0M234.2 90.7h0M226.4 92.3h0M231.9 93.0h0M233.3 94.3h0M228.1 93.6h0M227.5 93.1h0M231.6 92.4h0M234.4 92.0h0M234.9 93.4h0M231.5 91.1h0M228.4 91.2h0M230.3 92.0h0M241.4 93.0h0M233.7 90.6h0M228.5 91.5h0M231.7 90.3h0M236.6 91.1h0M234.8 88.3h0M231.0 92.4h0M231.7 93.0h0M232.0 92.3h0M224.4 90.9h0M222.8 93.0h0M232.1 91.7h0M228.1 91.1h0M237.5 94.8h0M230.8 94.1h0M225.4 88.9h0M229.3 90.6h0M229.0 92.3h0M241.6 90.9h0M231.2 92.4h0M230.9 93.5h0M237.2 90.0h0M231.6 91.6h0M232.2 89.5h0M224.8 88.3h0M232.8 92.3h0M231.3 88.2h0M229.7 90.8h0M226.1 90.5h0M233.4 92.9h0M230.9 92.8h0M228.9 92.1h0M231.1 92.9h0M230.8 91.8h0M230.5 91.0h0M238.8 92.8h0M232.5 95.7h0M235.9 89.5h0M233.4 93.3h0M237.6 94.1h0M233.7 90.1h0M228.0 92.4h0M232.8 90.4h0M229.7 91.4h0M231.2 92.5h0M230.0 90.0h0M235.3 94.6h0M230.6 93.6h0M232.6 93.1h0M232.7 90.8h0M233.0 93.6h0M227.9 95.1h0M238.3 94.9h0M238.0 93.2h0M229.8 91.0h0M228.2 92.2h0M230.9 93.1h0M223.9 95.7h0M239.0 92.0h0M233.4 92.8h0M232.0 91.7h0M230.6 90.7h0M231.6 92.0h0M232.1 90.6h0M231.1 92.1h0M233.1 90.3h0M232.5 93.6h0M233.1 91.4h0M229.3 91.6h0M233.6 94.5h0M230.4 91.0h0M232.3 92.3h0M227.8 90.8h0" stroke="#7a7a7a" stroke-width="0.90" stroke-linecap="round" fill="none" opacity="1"/><path d="M248.5 92C248.9 90.7 250.4 89.1 251.5 88C252.6 86.9 253.9 86.8 255 85.5C256.1 84.2 257 81.8 258 80C259 78.2 260 75.8 261 74.5C262 73.2 263.7 71.2 264 72C264.3 72.8 263.8 76.3 263 79C262.2 81.7 260 85.4 259 88C258 90.6 258 93.1 257 94.5C256 95.9 254.3 96.2 253 96.5C251.7 96.8 249.8 96.8 249 96C248.2 95.2 248.1 93.3 248.5 92Z" fill="#4cc04c" stroke="none" stroke-width="0.8" opacity="1"/><path d="M262.4 75.1h0M248.1 92.5h0M252.2 86.1h0M249.6 90.5h0M248.4 92.5h0M258.4 88.3h0M249.3 96.5h0M264.0 75.4h0M257.8 94.7h0M261.0 74.9h0M261.3 83.7h0M253.8 85.7h0M254.2 96.6h0M252.5 87.8h0M262.8 73.1h0M259.5 77.5h0M257.8 91.0h0M254.5 86.3h0M257.9 91.4h0M253.7 87.9h0M257.1 78.5h0M259.1 80.4h0M260.4 84.2h0M250.5 89.5h0M263.9 76.0h0M263.4 77.5h0M256.1 94.0h0M260.8 85.0h0M254.2 85.6h0M248.4 91.5h0M258.4 90.4h0M248.2 91.3h0M247.6 92.3h0M250.4 90.6h0M262.5 81.2h0M264.2 77.4h0M254.4 96.9h0M254.5 82.9h0M260.5 85.6h0M254.5 95.5h0M260.4 77.8h0M256.9 94.8h0M260.8 74.9h0M255.3 95.2h0M264.6 72.9h0M262.9 78.0h0M262.3 74.5h0M249.2 96.2h0M258.7 87.7h0M257.5 94.6h0M256.0 82.8h0M260.8 75.3h0M257.9 93.1h0M257.6 88.8h0M257.0 83.8h0M252.3 95.7h0M252.8 95.8h0M249.9 96.9h0M257.9 90.5h0M254.2 96.1h0M257.9 91.5h0M255.8 83.6h0M264.6 72.8h0M262.0 74.3h0M248.5 93.8h0M263.9 71.1h0M259.6 83.5h0M262.5 83.5h0M256.6 93.2h0M251.6 87.0h0M252.7 97.3h0M259.1 80.8h0M263.3 76.4h0M265.3 74.0h0M255.9 94.2h0M265.1 77.6h0M258.8 84.4h0M259.7 77.8h0M249.6 94.5h0M249.6 93.7h0M249.4 90.7h0M262.3 73.6h0M247.9 91.2h0M264.5 71.7h0M256.3 82.6h0M256.3 82.6h0M250.4 87.3h0M251.7 95.0h0M248.0 94.2h0M265.0 74.2h0M253.2 97.6h0M249.6 91.0h0M249.3 89.8h0M248.5 91.1h0M251.5 87.7h0M253.9 94.7h0M251.2 88.3h0M258.1 78.6h0M250.9 89.4h0M265.5 74.7h0" stroke="#3aa83a" stroke-width="1.00" stroke-linecap="round" fill="none" opacity="1"/><path d="M256.4 91C256.5 89.2 257.7 86.8 258.6 84.7C259.5 82.6 260.6 80.2 261.8 78.2C263.1 76.2 264.8 74.3 266.2 72.7C267.6 71.1 268.7 69.4 270 68.5C271.3 67.6 272.8 67.3 274 67.3C275.2 67.3 276.6 67.6 277.3 68.5C277.9 69.5 278 71.3 278 73C277.9 74.8 277.6 76.8 277 79C276.3 81.2 275.2 84.4 274 86.5C272.7 88.6 271.2 90.4 269.5 91.8C267.8 93.2 265.9 94.1 264 94.8C262.1 95.4 259.5 96.2 258.2 95.6C257 94.9 256.4 92.8 256.4 91Z" fill="#ff9090" opacity="0.85" filter="url(#b08)"/><path d="M258 89.6C258.1 88 259.2 86 259.9 84.2C260.7 82.3 261.6 80.3 262.7 78.6C263.8 76.9 265.3 75.2 266.5 73.8C267.6 72.5 268.6 71 269.7 70.2C270.8 69.5 272.1 69.2 273.2 69.2C274.2 69.2 275.4 69.4 276 70.2C276.6 71.1 276.7 72.6 276.6 74.1C276.6 75.6 276.3 77.3 275.8 79.3C275.2 81.2 274.2 83.9 273.2 85.7C272.1 87.5 270.7 89.1 269.3 90.3C267.9 91.5 266.2 92.3 264.6 92.9C263 93.4 260.7 94.1 259.6 93.5C258.5 93 258 91.1 258 89.6Z" fill="#ff1010" filter="url(#b03)"/><path d="M266.7 73.1h0M271.0 69.9h0M272.9 68.1h0M271.4 89.2h0M275.6 69.3h0M271.9 69.8h0M273.7 86.8h0M275.8 68.0h0M276.0 70.1h0M271.1 68.4h0M263.9 93.1h0M263.9 94.1h0M274.5 85.0h0M267.0 72.7h0M277.2 72.1h0M259.3 85.4h0M259.8 95.0h0M257.4 92.6h0M263.1 94.5h0M272.2 87.1h0M270.5 69.5h0M272.5 68.0h0M264.4 94.5h0M267.8 92.6h0M259.4 85.3h0M275.6 69.1h0M273.8 86.4h0M258.2 90.2h0M275.1 82.3h0M276.8 77.5h0M261.6 79.8h0M277.3 73.1h0M271.4 88.1h0M277.3 72.7h0M276.0 69.8h0M277.7 73.0h0M264.1 76.6h0M262.2 79.9h0M257.1 91.0h0M261.4 94.4h0M259.2 85.0h0M263.2 76.8h0M258.0 94.5h0M263.0 77.3h0M271.3 87.7h0M258.0 90.4h0M269.6 89.9h0M267.8 91.1h0M259.7 85.1h0M261.0 93.1h0M275.8 78.3h0M256.8 90.1h0M264.5 92.9h0M275.0 68.2h0M277.0 71.2h0M272.3 68.6h0M276.1 71.1h0M259.3 84.1h0M272.1 68.7h0M275.7 69.2h0M258.8 94.4h0M267.8 91.0h0M277.1 69.5h0M277.4 73.7h0M258.0 87.2h0M277.3 72.9h0M257.5 89.6h0M276.9 74.9h0M262.2 79.2h0M277.5 74.9h0M258.0 89.8h0M257.8 88.7h0M263.4 77.5h0M260.2 81.9h0M262.1 79.7h0M277.1 75.5h0M257.3 88.6h0M259.2 84.8h0M260.7 82.6h0M276.4 75.6h0M274.7 83.5h0M275.0 82.9h0M277.6 72.6h0M276.5 77.0h0M260.9 94.8h0M259.4 92.2h0M267.9 71.8h0M271.7 87.6h0M261.4 94.8h0M268.9 70.2h0M274.5 69.5h0M272.1 88.1h0M276.9 75.3h0M257.6 89.7h0M269.9 70.4h0M268.7 70.7h0M274.1 69.4h0M258.2 88.8h0M263.3 93.6h0M273.4 68.2h0M267.4 72.1h0M260.8 93.4h0M275.4 68.4h0M257.8 91.8h0M257.9 89.4h0M264.6 94.1h0M273.5 86.1h0M275.9 79.4h0M275.4 80.8h0M275.7 78.3h0M277.1 76.0h0M273.5 84.5h0M264.6 76.1h0M267.5 71.6h0M273.1 68.1h0M258.2 94.2h0M273.8 69.1h0M275.6 80.7h0M264.2 76.4h0M258.9 93.5h0M275.7 68.6h0M272.0 88.3h0M265.3 93.5h0M265.7 73.4h0M276.5 78.1h0M275.6 69.6h0M259.1 94.3h0M261.1 80.3h0M262.8 93.8h0M262.2 77.9h0M277.0 75.1h0M264.8 94.3h0M275.4 68.9h0M272.8 69.5h0M273.4 68.0h0M263.2 77.3h0M258.7 88.2h0M275.5 81.1h0M258.8 87.9h0M258.3 89.4h0M275.4 70.1h0M266.5 92.2h0M269.5 70.7h0M265.1 93.9h0M277.0 78.1h0M275.4 69.4h0M269.6 89.7h0M260.5 81.6h0M271.7 88.1h0M269.6 69.8h0M271.1 89.0h0M257.7 87.9h0M274.7 68.1h0M259.9 94.1h0M273.7 67.7h0M274.0 67.4h0M276.9 75.4h0M277.1 69.9h0M266.1 92.7h0M261.9 78.5h0M264.0 76.8h0M269.9 91.2h0M273.3 86.0h0M274.5 68.9h0M264.4 75.3h0M276.0 79.4h0M262.2 79.9h0M266.9 73.4h0M276.4 78.0h0M273.8 85.1h0M273.4 69.3h0M270.0 90.2h0M271.2 68.2h0M270.4 89.1h0M257.3 91.5h0M262.6 94.9h0M272.4 86.3h0M262.3 94.9h0M272.7 68.2h0M273.9 84.5h0M264.8 74.7h0M265.4 93.0h0M258.2 90.5h0M275.9 69.3h0M264.5 75.8h0M261.9 78.1h0M277.0 74.6h0M276.3 79.9h0M258.3 94.7h0M271.0 89.4h0M273.0 68.6h0M257.1 89.9h0M274.5 69.8h0M263.9 75.6h0M263.6 93.5h0M277.4 71.1h0M274.0 84.9h0M276.5 73.4h0M266.2 72.8h0M260.4 95.2h0M276.6 79.1h0M276.3 71.1h0M271.2 68.3h0M267.6 71.4h0M271.5 87.5h0M272.3 68.2h0M258.4 94.0h0M267.0 91.8h0M270.6 68.9h0M264.9 75.3h0M271.0 88.7h0M270.3 68.8h0M270.9 68.9h0M275.2 82.7h0M259.0 92.4h0M275.9 68.1h0M263.3 77.1h0M264.0 93.2h0M275.7 69.3h0M277.0 73.7h0M264.3 93.9h0M270.2 69.5h0M271.8 87.4h0M261.1 80.4h0M270.0 68.9h0M269.1 70.8h0M274.4 82.8h0M257.3 89.5h0M259.8 82.9h0M259.4 92.9h0M276.6 70.6h0M268.6 91.5h0M257.9 90.2h0M261.2 79.7h0M259.1 94.8h0M276.0 70.4h0M259.5 82.9h0M264.1 93.9h0M273.5 85.0h0M267.4 71.5h0M257.5 89.5h0M277.5 71.9h0M277.8 73.3h0M269.1 71.1h0M257.4 90.9h0M269.4 91.8h0M275.3 69.6h0M275.8 80.6h0M276.5 72.9h0M271.7 87.4h0M262.2 94.9h0M260.3 83.5h0M259.0 83.9h0M275.7 81.9h0M259.3 93.3h0M268.6 70.0h0M272.6 87.9h0M276.4 72.9h0M258.1 88.6h0M258.0 89.3h0" stroke="#ff1010" stroke-width="1.00" stroke-linecap="round" fill="none" opacity="1"/><path d="M276.9 69.8h0M261.7 80.1h0M261.3 80.5h0M275.0 68.7h0M258.1 94.1h0M276.0 70.4h0M260.0 95.9h0M273.7 68.9h0M260.8 94.8h0M265.6 73.6h0M274.1 69.4h0M275.6 69.2h0M258.5 85.3h0M275.6 82.7h0M274.6 67.6h0M271.3 88.3h0M272.1 88.5h0M260.3 93.2h0M277.5 75.2h0M258.1 87.6h0M275.8 70.2h0M275.1 69.3h0M266.3 73.7h0M259.8 84.4h0M259.5 95.0h0M257.4 93.5h0M276.6 77.0h0M259.0 86.6h0M278.4 72.5h0M271.7 89.5h0M272.1 88.4h0M271.0 88.7h0M275.1 81.3h0M268.3 71.5h0M257.2 94.4h0M267.4 71.0h0M274.1 68.7h0M269.5 70.6h0M264.3 93.6h0M272.5 69.2h0M260.5 95.2h0M262.8 94.8h0M277.8 72.9h0M271.1 69.5h0M259.7 93.2h0M265.7 74.9h0M258.1 88.1h0M258.1 95.7h0M275.6 79.8h0M277.1 71.8h0M274.0 68.4h0M275.7 78.9h0M258.4 88.9h0M263.8 75.9h0M260.7 94.9h0M277.0 70.9h0M262.5 78.0h0M273.8 87.1h0M258.3 94.1h0M268.4 91.4h0M261.8 94.1h0M258.2 90.4h0M274.3 83.0h0M269.5 68.7h0M262.4 95.4h0M262.9 95.2h0M264.2 76.0h0M261.3 79.5h0M258.7 90.7h0M265.3 93.2h0M277.5 78.3h0M277.9 75.1h0M271.3 68.9h0M268.5 71.8h0M276.0 80.3h0M260.0 82.8h0M276.0 82.4h0M266.7 92.3h0M267.7 70.9h0M260.5 93.9h0" stroke="#b04040" stroke-width="0.90" stroke-linecap="round" fill="none" opacity="1"/><path d="M255.5 91.8C255.5 89.8 256.9 87.3 257.8 85C258.8 82.7 259.9 80.1 261.3 78C262.7 75.8 264.6 73.8 266 72C267.5 70.3 268.7 68.5 270.2 67.5C271.6 66.5 273.2 66.2 274.5 66.2C275.8 66.2 277.3 66.5 278 67.5C278.8 68.5 278.8 70.5 278.8 72.4C278.7 74.3 278.4 76.4 277.7 78.8C277 81.3 275.8 84.6 274.5 86.9C273.1 89.3 271.4 91.2 269.6 92.7C267.8 94.2 265.7 95.2 263.7 95.9C261.6 96.6 258.8 97.5 257.4 96.8C256 96.1 255.4 93.8 255.5 91.8Z" fill="none" stroke="#444" stroke-width="0.6" opacity="1" stroke-dasharray="1.2 0.8"/><path d="M283.7 75.8h0M285.3 81.5h0M283.0 72.5h0M284.9 76.1h0M283.2 79.5h0M279.9 75.9h0M281.1 69.5h0M284.7 69.0h0M287.4 81.1h0M284.9 78.9h0M284.9 83.1h0M283.9 70.9h0M283.0 83.3h0M283.6 74.2h0M280.6 70.0h0M285.6 74.0h0M283.3 71.7h0M281.9 79.8h0M279.5 76.8h0M284.1 69.1h0M281.5 80.8h0M281.7 75.6h0M284.2 75.9h0M283.7 77.8h0M288.2 79.9h0M280.8 70.4h0M286.4 79.7h0M286.1 72.0h0M281.1 79.5h0M280.9 74.0h0M286.3 76.5h0M283.5 69.6h0M286.4 76.8h0M279.9 72.3h0M283.1 74.1h0M285.3 75.4h0M286.9 75.6h0M287.5 82.7h0M283.9 76.6h0M282.7 70.1h0M282.8 73.7h0M283.1 84.3h0M284.0 77.2h0M280.0 70.1h0M285.6 76.7h0M283.3 76.8h0M283.7 81.2h0M287.5 73.5h0M285.1 75.5h0M285.0 79.5h0M288.0 74.3h0M283.7 70.2h0M285.3 78.5h0M279.5 73.6h0M281.3 82.1h0M283.0 83.1h0M287.0 79.4h0M283.3 83.1h0M285.3 78.1h0M280.5 80.6h0M282.0 83.4h0M279.5 73.3h0M285.7 70.9h0M286.1 80.1h0M286.7 72.5h0M281.6 80.6h0M287.4 80.8h0M286.7 78.6h0M280.4 81.8h0M283.4 83.1h0M283.5 82.4h0M282.7 77.2h0M285.8 80.8h0M282.3 69.7h0M282.8 83.9h0M284.4 69.2h0M283.6 80.9h0M283.9 82.3h0M280.5 73.6h0M288.1 72.8h0M288.0 71.5h0M283.4 77.1h0M280.9 80.2h0M282.9 70.9h0M285.8 75.9h0M287.1 78.5h0M280.8 78.6h0M282.7 71.0h0M287.7 71.8h0M282.2 80.7h0M288.2 79.7h0M287.1 77.4h0M283.4 70.0h0M283.0 71.5h0M283.0 70.6h0M283.5 69.4h0M288.4 78.8h0M280.2 75.0h0M281.0 78.2h0M283.4 74.2h0M283.5 74.5h0M287.5 83.0h0M279.7 75.4h0M281.9 70.4h0M283.4 75.8h0M287.0 73.5h0M285.2 70.0h0M283.4 75.6h0M283.9 75.0h0M281.3 80.1h0M285.4 76.9h0M285.4 77.7h0M282.9 71.1h0M283.1 70.6h0M282.2 82.2h0M281.9 82.9h0M286.7 78.2h0M285.1 78.8h0M280.7 72.7h0M284.0 68.8h0M286.1 81.7h0M281.7 77.3h0M284.0 83.0h0M287.7 75.5h0M286.3 80.0h0M285.8 70.0h0M282.1 71.8h0M282.7 79.4h0M285.9 76.0h0M283.3 74.9h0M281.3 73.6h0M280.1 80.9h0M285.6 77.9h0M285.3 72.5h0M285.3 76.9h0M284.0 76.9h0M285.6 81.9h0M279.6 73.4h0M279.8 72.1h0M284.0 73.4h0M288.0 75.3h0M279.8 80.6h0M280.7 71.9h0M279.9 71.0h0M284.3 80.8h0M282.6 70.8h0M282.2 75.6h0M280.2 69.8h0M282.2 82.7h0M283.0 80.5h0M281.7 76.2h0M280.6 81.1h0M286.6 70.7h0M286.1 81.9h0M282.0 74.5h0M281.7 72.4h0M287.1 77.7h0M282.8 78.7h0M285.9 75.6h0M285.3 74.6h0" stroke="#d070e8" stroke-width="1.00" stroke-linecap="round" fill="none" opacity="1"/><path d="M279.1 69.3C280 68 282.5 67.5 284 67.7C285.6 67.9 287.5 68.9 288.4 70.4C289.3 72 289.6 74.8 289.5 77C289.4 79.2 289 82.2 287.9 83.6C286.8 85.1 284.3 86 282.9 85.8C281.6 85.7 280.4 84.2 279.6 82.5C278.9 80.9 278.6 78.1 278.5 75.9C278.4 73.7 278.2 70.7 279.1 69.3Z" fill="none" stroke="#555" stroke-width="0.6" opacity="1" stroke-dasharray="1.5 0.8"/><ellipse cx="276.5" cy="90.8" rx="7.6" ry="4.3" transform="rotate(-18 276.5 90.8)" fill="#1010ff" stroke="none" stroke-width="0.8" opacity="1"/><path d="M271.5 92.4h0M277.4 92.0h0M272.6 89.9h0M273.1 92.2h0M272.2 87.3h0M283.8 90.7h0M270.3 91.0h0M271.0 90.7h0M272.0 89.8h0M272.4 92.2h0M272.7 89.5h0M281.1 95.7h0M268.9 94.2h0M274.5 95.0h0M274.9 89.5h0M275.4 90.0h0M275.6 86.9h0M270.3 89.7h0M276.3 93.5h0M281.2 93.9h0M280.3 89.4h0M279.7 90.0h0M278.4 89.4h0M279.4 91.8h0M276.3 93.0h0M267.3 90.6h0M275.5 94.8h0M272.3 93.9h0M269.2 94.5h0M276.0 87.5h0M279.3 88.9h0M269.5 87.9h0M275.7 89.4h0M278.5 94.1h0M276.9 89.0h0M274.1 94.7h0M274.2 90.0h0M267.0 93.4h0M279.4 91.5h0M273.8 90.1h0M272.5 92.0h0M284.7 90.9h0M272.9 92.0h0M269.3 92.7h0M280.5 90.1h0M274.0 90.4h0M279.1 92.4h0M278.7 89.2h0M277.2 94.1h0M277.3 92.3h0M277.0 92.2h0M274.5 91.3h0M273.9 89.2h0M278.4 88.5h0M282.1 90.2h0M277.9 93.1h0M275.4 91.3h0M275.8 91.8h0M274.6 93.6h0M268.5 93.0h0M281.4 88.3h0M274.3 91.4h0M274.6 92.8h0M273.2 90.8h0M280.7 90.7h0M276.6 89.2h0M276.5 90.3h0M272.1 92.4h0M278.7 92.7h0M282.0 88.4h0M267.3 95.3h0M278.7 94.0h0M275.7 92.2h0M279.1 92.7h0M273.7 90.0h0M278.2 90.8h0M273.3 91.4h0M270.8 89.7h0M273.7 92.1h0M273.7 95.3h0M277.3 89.2h0M278.0 91.7h0M274.4 94.0h0M279.8 93.2h0M282.1 90.3h0M269.0 92.4h0M278.5 90.5h0M272.0 91.8h0M281.4 88.0h0M277.8 95.5h0M272.8 93.6h0M273.4 91.5h0M274.1 92.0h0M278.0 89.0h0M282.0 89.6h0M274.6 89.8h0M273.0 92.1h0M279.3 88.4h0M274.3 88.9h0M280.9 89.1h0M269.5 90.8h0M278.7 88.4h0M281.7 92.1h0M280.5 93.1h0M270.9 95.3h0M267.7 93.6h0M276.5 91.8h0M284.1 91.9h0M275.6 91.9h0M278.6 87.8h0M279.1 92.5h0M277.8 91.1h0M277.3 92.2h0M278.9 90.4h0M280.5 90.9h0M279.6 87.3h0M278.0 89.2h0M271.8 94.4h0M274.8 90.4h0M274.0 89.3h0" stroke="#2020e0" stroke-width="1.00" stroke-linecap="round" fill="none" opacity="1"/><ellipse cx="276.5" cy="90.8" rx="8.6" ry="5.1" transform="rotate(-18 276.5 90.8)" fill="none" stroke="#333" stroke-width="0.6" opacity="1"/><text x="229" y="73.8" font-size="4.47" fill="#111" stroke="#111" stroke-width="0.15" textLength="18.7" lengthAdjust="spacingAndGlyphs">CD45dim</text><text x="282.4" y="65" font-size="4.61" fill="#111" stroke="#111" stroke-width="0.15" textLength="24.2" lengthAdjust="spacingAndGlyphs">Monocitos</text><text x="285" y="88" font-size="4.75" fill="#111" stroke="#111" stroke-width="0.15" textLength="22.3" lengthAdjust="spacingAndGlyphs">Linfocitos</text><path d="M368.7 31.4h0M375.6 42.9h0M357.5 90.9h0M390.1 58.9h0M339.8 80.1h0M357.5 64.4h0M407.4 68.4h0M342.3 75.7h0M334.1 47.1h0M330.8 68.4h0M364.6 32.2h0M357.2 71.9h0M335.7 45.1h0M372.7 64.2h0M342.3 46.5h0M354.5 70.5h0M366.2 50.8h0M339.5 62.7h0M344.5 36.8h0M333.2 67.5h0M342.6 32.0h0M388.3 88.5h0M385.3 91.3h0M404.5 44.7h0M384.9 59.4h0M397.7 88.9h0M404.1 59.2h0M339.7 41.3h0M396.3 83.0h0M360.1 52.6h0M397.1 77.2h0M394.5 91.6h0M409.4 57.8h0M347.8 78.5h0M366.6 68.5h0M394.7 93.1h0M392.8 37.5h0M387.1 29.0h0M363.6 63.2h0M388.9 97.5h0M378.3 58.8h0M348.0 90.1h0M337.6 70.7h0M399.3 78.7h0M372.6 95.2h0M389.6 33.0h0M401.5 29.8h0M350.7 93.1h0M344.5 63.0h0M399.2 59.4h0M356.5 42.7h0M400.8 65.5h0M342.4 96.1h0M352.1 91.4h0M386.1 59.3h0M389.6 48.7h0M387.6 43.2h0M379.9 69.0h0M366.5 89.0h0M389.5 40.5h0" stroke="#9a9a9a" stroke-width="0.80" stroke-linecap="round" fill="none" opacity="1"/><path d="M368.8 60.1h0M392.2 50.8h0M369.2 74.5h0M389.3 75.9h0M356.7 60.6h0M375.0 64.2h0M369.6 92.1h0M366.5 62.5h0M371.6 57.7h0M355.5 62.0h0M337.4 40.9h0M364.8 59.4h0M352.2 50.8h0M374.0 89.6h0M367.9 69.4h0M354.9 75.0h0M377.0 54.3h0M353.4 51.8h0M385.7 75.2h0M341.8 57.1h0M359.1 64.6h0M334.4 53.7h0M380.5 75.3h0M369.6 62.9h0M342.2 63.3h0M369.7 57.9h0M370.9 61.2h0M389.0 69.9h0M338.4 71.4h0M368.0 55.7h0M357.9 50.6h0M392.3 66.0h0M343.9 54.0h0M355.2 71.3h0M353.9 60.3h0M363.8 62.5h0M345.4 71.2h0M355.1 57.9h0M357.2 77.9h0M391.6 53.8h0M349.0 62.9h0M333.9 52.0h0M358.4 64.6h0M347.8 71.6h0M384.5 86.9h0M342.8 68.5h0M368.4 74.7h0M380.4 76.1h0M364.2 64.6h0M371.0 69.7h0M349.5 79.7h0M392.5 53.8h0M352.8 64.2h0M381.2 61.1h0M349.6 61.8h0M368.2 76.0h0M352.3 66.2h0M358.4 70.0h0M355.7 70.9h0M341.0 74.1h0M341.2 60.1h0M336.1 65.5h0M382.3 78.1h0M341.8 58.2h0M377.2 60.0h0M355.6 61.5h0M344.4 79.0h0M369.0 67.7h0M374.4 87.6h0M361.1 68.9h0M363.1 58.9h0M371.3 73.6h0M344.1 46.0h0M339.3 65.6h0M374.6 70.3h0M360.8 61.7h0M359.4 68.4h0M359.2 54.6h0M357.4 57.3h0M342.8 58.6h0M353.6 66.1h0M389.3 78.7h0M347.0 53.2h0M354.1 56.5h0M396.0 77.2h0M351.4 84.1h0M373.6 86.4h0M354.0 63.4h0M359.8 79.4h0M378.8 66.1h0M342.9 50.6h0M373.6 68.1h0M363.4 80.7h0M366.5 45.8h0M336.5 74.6h0M377.8 83.2h0M380.7 57.3h0M362.7 65.3h0M368.9 61.5h0M352.1 74.9h0M373.0 47.6h0M378.1 71.0h0M375.9 77.6h0M375.1 77.3h0M355.7 57.9h0M349.5 52.1h0M386.7 67.7h0M343.8 59.1h0M379.8 69.7h0M370.9 59.4h0M358.8 64.5h0M355.2 65.6h0M352.0 68.1h0M351.1 53.2h0M342.9 66.5h0M385.5 52.6h0M346.0 57.8h0M344.8 60.4h0M392.4 49.6h0M363.8 75.8h0M344.9 68.6h0M359.3 54.4h0M383.5 63.2h0M363.9 72.9h0M361.5 74.2h0M350.7 68.4h0M378.2 69.8h0M387.6 62.7h0M340.8 71.7h0M365.4 54.7h0M356.2 60.9h0M331.3 65.7h0M355.8 67.3h0M375.6 65.8h0M351.1 55.9h0M386.4 72.8h0M392.2 63.8h0M362.3 74.8h0M347.0 55.4h0M350.3 74.6h0M376.2 63.9h0M366.1 44.7h0M373.5 62.6h0M359.0 49.0h0M377.3 81.3h0M391.8 73.8h0M374.5 60.4h0M375.7 67.6h0M363.7 76.9h0M373.0 68.0h0M351.1 67.9h0M350.8 73.9h0M378.5 74.0h0M356.6 52.7h0M379.1 74.2h0M359.6 56.9h0M332.8 51.7h0M364.1 58.0h0M374.8 69.4h0M366.9 67.2h0M379.9 73.3h0M345.2 61.2h0M350.9 59.4h0M350.4 62.5h0M392.1 84.6h0M363.4 50.3h0M373.3 59.9h0M361.9 71.7h0M358.6 49.2h0M375.8 65.1h0M371.2 58.2h0M365.4 59.8h0M348.3 55.5h0M365.4 63.1h0M381.8 68.0h0M365.8 64.2h0M373.6 51.7h0M351.7 72.0h0M370.6 61.2h0M368.2 80.0h0M372.6 57.6h0M372.6 75.0h0M343.4 55.2h0M359.1 51.4h0M365.7 66.4h0M371.0 61.0h0M373.0 70.6h0M361.7 70.3h0M355.6 59.8h0M362.2 70.2h0M355.7 62.6h0M388.8 64.2h0M352.8 65.3h0M348.3 70.4h0M339.3 59.0h0M377.5 75.4h0M355.8 65.0h0M360.9 82.1h0M366.5 63.7h0M356.2 56.5h0M377.4 67.4h0M380.2 83.1h0M359.7 69.6h0M336.8 50.1h0M368.9 74.7h0M339.8 52.6h0M361.7 75.8h0M377.6 52.3h0M343.6 62.5h0M335.7 57.5h0M368.2 72.2h0M370.3 60.4h0M368.8 69.2h0M367.9 76.3h0M394.4 67.9h0M346.0 65.0h0M346.1 57.9h0M375.1 92.7h0M369.9 65.6h0M364.0 58.0h0M356.1 70.5h0M356.7 60.2h0M372.1 65.2h0M394.9 59.3h0M387.7 66.4h0M365.5 64.0h0M360.9 64.5h0M355.4 43.2h0M401.1 76.5h0M392.0 68.5h0M363.1 57.6h0M363.8 64.9h0M349.1 54.2h0M341.4 66.0h0M375.9 82.9h0M359.8 55.7h0M338.9 55.2h0M375.0 60.5h0M351.1 82.8h0M388.6 72.5h0M376.5 72.9h0M368.1 56.2h0M381.4 56.8h0M331.8 62.9h0M387.7 80.8h0M358.6 74.4h0M377.3 60.9h0M337.7 45.2h0M352.5 68.3h0M355.6 53.4h0M356.6 54.8h0M351.7 41.8h0M353.8 62.3h0M340.4 59.8h0M360.8 64.9h0M366.1 72.7h0M335.8 72.8h0M346.9 74.5h0M332.6 60.8h0M364.9 73.9h0M372.5 68.1h0M372.8 67.1h0M362.1 68.6h0M352.4 72.0h0M363.1 87.2h0M356.4 67.7h0M376.3 75.6h0M330.4 62.0h0M381.4 76.8h0M366.1 67.2h0M382.9 83.1h0M340.8 59.9h0M351.2 67.3h0M347.4 74.2h0M351.3 72.7h0M379.2 69.0h0M379.6 66.7h0M369.7 62.3h0M362.6 73.8h0M382.5 62.0h0M338.9 54.2h0M341.1 58.0h0M361.9 54.6h0M361.8 62.4h0M387.8 69.8h0M345.0 49.4h0M366.2 71.3h0M347.9 61.2h0M371.3 58.1h0M373.6 55.3h0M367.9 63.2h0M359.5 73.7h0M371.8 76.4h0M352.4 75.8h0M352.0 52.9h0M376.7 73.6h0M348.0 49.1h0M353.4 65.0h0M378.8 65.4h0M363.6 66.2h0M368.1 77.5h0M367.9 78.6h0M370.8 57.1h0M357.2 60.1h0M336.1 53.5h0M349.2 82.0h0M373.7 74.6h0M375.8 76.3h0M398.7 68.4h0M374.8 67.2h0M365.7 75.5h0M373.1 74.3h0M360.1 75.1h0M343.9 67.9h0M375.7 84.0h0M373.8 79.0h0M377.1 81.0h0M350.2 37.1h0M363.7 71.9h0M347.2 69.9h0M358.6 57.9h0M342.8 41.2h0M394.0 79.8h0M385.2 71.6h0M363.0 61.9h0M334.1 76.7h0M342.3 73.0h0M344.3 58.2h0M386.3 70.1h0M372.5 79.6h0M387.4 61.7h0M366.5 65.6h0M357.8 71.1h0M368.8 75.1h0M376.9 63.4h0M336.3 64.3h0M385.7 77.2h0M350.7 67.8h0M344.9 85.8h0M337.2 67.4h0M357.2 47.5h0M360.9 63.2h0M343.4 62.9h0M357.4 60.7h0M369.8 60.7h0M355.8 65.1h0M375.6 61.8h0M380.0 67.2h0M358.2 73.5h0M350.4 57.1h0M357.8 62.5h0M355.3 68.7h0M365.9 58.8h0M342.6 69.1h0M366.6 62.1h0M396.2 67.8h0M362.8 74.2h0M374.4 76.8h0M346.5 57.7h0M381.9 72.6h0M368.9 61.5h0M355.1 51.2h0M332.3 53.0h0M354.6 73.6h0M346.6 63.8h0M351.5 64.0h0M350.7 63.3h0M352.1 64.8h0M363.1 54.7h0M379.3 65.7h0M397.6 51.4h0M338.0 61.3h0M361.2 69.4h0M363.4 62.1h0M350.7 64.3h0M388.9 79.6h0M338.9 75.1h0M369.4 64.8h0M375.9 56.1h0M365.8 76.9h0M353.7 60.6h0M361.7 66.9h0M340.3 71.0h0M361.4 59.3h0M370.5 61.4h0M371.5 72.4h0M370.1 61.9h0M341.9 47.2h0M350.3 54.0h0M397.6 60.7h0M363.3 67.2h0M366.3 82.3h0M353.7 70.7h0M366.9 65.6h0M353.2 73.7h0M362.3 73.0h0M375.0 81.5h0M368.0 63.9h0M358.7 90.1h0M365.5 84.7h0M367.6 73.9h0M353.8 72.5h0M365.0 71.3h0M377.8 66.2h0M366.3 56.4h0M367.8 68.5h0M371.3 67.5h0M362.3 61.8h0M361.9 74.0h0M348.6 50.8h0M381.1 66.9h0M380.5 77.4h0M366.2 62.5h0M344.3 62.3h0M364.3 49.0h0M372.9 72.4h0M374.9 73.0h0M355.0 70.5h0M346.5 56.7h0M375.1 70.7h0M346.9 73.5h0M374.3 52.1h0M373.6 66.2h0M351.0 64.5h0M361.6 65.1h0M377.9 80.5h0M351.1 42.7h0M370.2 70.1h0M352.8 61.6h0M368.4 65.1h0M355.0 70.6h0M391.7 69.2h0M365.4 72.1h0M344.6 68.1h0M368.9 68.2h0M363.7 68.9h0M362.5 58.6h0M361.8 57.1h0M346.5 69.4h0M395.2 75.9h0M376.9 72.9h0M383.3 74.7h0M346.6 65.3h0M349.8 58.1h0M389.6 76.5h0M359.9 64.9h0M378.1 83.8h0M358.7 76.7h0M330.4 60.6h0M368.3 65.0h0M367.7 70.2h0M392.5 74.7h0M338.4 72.9h0M361.5 74.1h0M369.7 73.2h0M356.9 57.1h0M352.4 75.6h0M359.6 64.1h0M372.8 62.7h0M353.7 59.7h0M356.0 73.4h0M362.2 70.0h0M334.5 65.1h0M374.8 75.6h0M371.4 61.6h0M352.4 55.9h0M337.4 63.0h0M359.2 66.3h0M359.3 67.4h0M396.7 79.4h0M350.3 68.9h0M368.7 66.2h0M381.5 70.8h0M353.6 69.9h0M369.1 74.9h0M350.1 70.3h0M378.3 76.5h0M376.5 71.0h0M359.1 65.3h0M369.6 74.0h0M359.7 62.0h0M364.7 60.6h0M399.4 43.0h0M398.6 60.3h0M374.5 67.0h0M378.1 66.5h0M358.3 60.2h0M349.7 59.7h0M386.7 84.9h0M379.7 56.1h0M352.0 59.1h0M366.1 46.5h0M383.5 61.3h0M388.2 59.8h0M363.0 71.1h0M382.1 79.4h0M349.4 59.4h0M344.1 80.8h0M371.9 50.9h0M361.8 60.9h0M350.6 62.2h0M357.6 71.4h0M330.9 52.5h0M353.3 75.1h0M368.0 73.5h0M350.8 70.8h0M365.2 56.2h0M390.8 77.9h0M357.7 62.0h0M368.9 70.1h0M375.9 68.3h0M400.6 72.7h0M335.3 68.4h0M365.4 78.3h0M377.1 73.3h0M356.3 58.5h0M381.9 80.7h0M372.5 59.0h0M385.7 86.2h0M350.8 52.6h0M352.2 69.0h0M355.9 64.7h0M348.2 71.3h0M361.2 75.7h0M368.4 70.6h0M385.1 68.8h0M351.2 80.2h0M379.9 53.9h0M362.2 67.4h0M346.9 71.8h0M365.8 54.8h0M358.6 75.1h0M344.9 62.3h0M367.6 68.1h0M365.0 69.1h0M350.2 48.5h0M364.3 63.3h0M383.5 71.6h0M358.8 57.5h0M354.2 60.9h0M371.9 72.1h0M354.4 63.5h0M350.3 65.5h0M392.6 66.3h0M380.6 58.4h0M353.2 60.4h0M354.1 51.8h0M368.1 93.2h0M355.0 72.9h0M366.9 58.4h0M351.9 62.4h0M368.6 55.8h0M361.3 53.9h0M351.8 64.5h0M360.3 55.1h0M364.7 66.4h0M353.0 61.5h0M352.4 74.3h0M353.8 64.0h0M373.2 61.4h0M370.0 65.2h0M355.0 69.5h0M330.1 64.2h0M389.9 67.8h0M333.5 54.5h0M377.6 73.2h0M362.6 60.0h0M342.3 63.9h0M378.1 72.1h0M361.3 54.0h0M379.9 94.6h0M357.6 67.8h0M366.9 85.4h0M335.0 56.3h0M341.0 58.0h0M344.9 29.2h0M365.5 77.4h0M375.0 73.1h0M377.1 71.2h0M389.5 60.8h0M353.9 40.5h0M333.5 55.4h0M354.5 64.6h0M337.2 65.0h0M346.4 77.8h0M365.8 64.1h0M337.7 60.5h0M372.4 47.5h0M365.7 74.6h0M342.7 76.6h0M374.2 87.7h0M372.1 64.7h0M354.4 63.6h0M377.6 62.3h0M353.8 58.4h0M363.4 78.2h0M347.0 73.4h0M378.5 67.4h0M355.2 74.8h0M347.6 73.7h0M383.6 59.8h0M362.1 83.5h0M374.0 51.6h0M337.6 65.0h0M364.0 51.0h0M367.0 68.7h0M330.3 61.2h0M365.9 55.3h0M363.1 48.5h0M366.2 69.1h0M357.1 67.1h0M374.0 63.6h0M410.4 73.3h0M392.7 73.8h0M390.8 78.6h0M361.7 74.8h0M379.4 67.0h0M369.0 75.7h0M369.2 62.6h0M351.9 69.5h0M359.0 73.3h0M373.9 77.3h0M354.5 55.4h0M364.6 73.5h0M342.3 67.8h0M368.1 50.1h0M359.7 63.4h0M387.3 78.3h0M374.8 81.3h0M370.3 69.3h0M387.4 64.3h0M354.4 57.4h0M351.8 63.7h0M372.2 69.7h0M372.7 76.2h0M381.8 68.1h0M348.6 72.2h0M339.2 85.2h0M361.2 63.4h0M356.7 54.3h0M341.7 71.8h0M365.7 64.7h0M388.2 64.8h0M349.6 50.9h0M367.0 65.6h0M353.9 54.7h0M380.4 82.7h0M380.8 68.6h0M337.3 72.8h0M365.0 90.0h0M376.1 76.1h0M352.6 66.6h0M337.0 70.3h0M395.7 53.0h0M366.9 88.4h0M368.6 69.5h0M369.6 55.6h0M357.4 65.8h0M346.5 65.8h0M355.4 65.3h0M342.6 67.9h0M357.3 65.7h0M348.0 71.4h0M345.9 57.1h0M361.5 76.5h0M369.0 69.0h0M372.2 76.7h0M379.9 70.2h0M348.4 55.2h0M374.4 65.0h0M333.4 68.2h0M354.8 60.3h0M373.7 67.1h0M347.9 56.6h0M364.7 68.3h0M356.5 62.9h0M341.4 73.4h0M388.1 63.3h0M376.5 69.9h0M362.0 61.6h0M352.7 67.3h0M369.8 80.6h0M366.8 57.1h0M357.6 62.3h0M346.7 64.2h0M348.4 56.5h0M365.0 52.5h0M350.8 58.9h0M351.4 65.4h0M371.5 75.8h0M365.7 78.8h0M373.8 67.2h0M335.0 70.0h0M359.4 65.6h0M334.1 72.2h0M345.0 67.1h0M380.4 57.4h0M364.5 60.2h0M343.7 75.9h0M358.8 70.8h0M368.6 65.5h0M337.0 78.0h0M368.9 70.0h0M347.2 45.8h0M349.5 75.9h0M335.2 55.0h0M378.3 77.5h0M383.1 70.5h0M369.3 57.9h0M331.4 54.7h0M371.0 82.0h0M346.3 61.6h0M383.0 77.4h0M371.8 76.8h0M403.5 79.3h0M365.6 55.7h0M364.8 65.3h0M356.3 64.4h0M367.5 60.3h0M382.9 76.2h0M370.9 76.1h0M363.0 64.9h0M361.2 51.3h0M341.5 47.3h0M336.5 55.4h0M365.8 69.3h0M360.7 62.8h0M365.1 73.3h0M359.4 59.6h0M353.0 74.4h0M372.5 75.1h0M381.2 79.6h0M355.9 64.7h0M356.2 65.1h0M361.9 79.5h0M367.2 72.2h0M378.2 79.1h0M359.9 67.4h0M375.1 71.9h0M376.3 65.1h0M352.8 70.2h0M330.9 81.8h0M397.0 62.2h0M331.3 48.0h0M360.0 72.2h0M376.5 52.8h0M376.8 82.2h0M360.7 69.5h0M380.8 69.8h0M337.6 56.1h0M371.2 67.5h0M384.0 62.3h0M352.6 64.7h0M340.1 64.8h0M362.1 65.2h0M374.4 66.7h0M367.0 42.6h0M361.2 48.6h0M354.2 42.4h0M335.3 64.2h0M342.1 61.9h0M352.6 66.2h0M353.6 64.6h0M360.6 70.2h0M359.2 66.6h0M367.2 60.3h0M380.9 71.6h0M365.9 75.3h0M396.3 65.2h0M375.9 66.5h0M369.9 77.1h0M383.8 67.3h0M342.7 61.3h0M380.2 66.0h0M368.6 74.2h0M360.4 69.3h0M356.3 60.6h0M355.6 74.3h0M358.3 68.0h0M356.5 74.8h0M368.7 73.4h0M349.6 58.5h0M373.8 76.0h0M343.5 67.2h0M343.1 40.3h0M360.5 66.8h0M382.3 77.2h0M356.2 66.9h0M371.1 56.7h0M346.6 50.8h0M365.0 52.1h0M382.1 52.6h0M361.8 63.3h0M371.5 71.2h0M369.9 62.2h0M382.8 57.2h0M352.5 66.5h0M389.4 82.0h0M378.7 74.6h0M377.8 77.9h0M356.8 80.2h0M345.4 75.6h0M380.1 57.1h0M357.6 63.9h0M344.0 60.4h0M352.3 59.7h0M385.1 70.0h0M390.8 51.6h0M384.3 60.2h0M377.9 78.3h0M381.7 64.0h0M392.8 67.1h0M356.9 73.6h0M361.1 57.4h0M363.7 62.0h0M378.4 60.7h0M375.9 66.3h0M379.4 81.3h0M356.7 56.0h0M351.9 83.4h0M350.6 55.4h0M373.3 69.2h0M361.5 64.3h0M375.1 59.1h0M355.3 71.6h0M331.6 60.7h0M367.1 93.4h0M339.4 51.7h0M338.5 55.8h0M372.0 58.0h0M370.0 65.1h0" stroke="#98d498" stroke-width="0.90" stroke-linecap="round" fill="none" opacity="1"/><path d="M354.3 57.6h0M368.1 66.5h0M350.3 64.6h0M357.6 78.3h0M364.2 75.0h0M353.5 69.7h0M354.6 71.8h0M364.6 62.4h0M350.5 65.4h0M363.7 61.2h0M354.0 76.0h0M337.8 75.7h0M335.5 78.2h0M350.2 59.4h0M360.9 75.4h0M342.5 56.0h0M359.8 78.2h0M358.8 62.4h0M356.7 74.0h0M362.4 64.4h0M346.9 73.7h0M360.7 67.3h0M344.7 66.0h0M357.6 67.8h0M377.8 64.9h0M357.0 70.0h0M360.6 70.6h0M344.1 71.9h0M351.4 71.5h0M360.3 85.5h0M351.3 69.9h0M352.7 76.1h0M350.3 68.6h0M359.8 65.3h0M364.4 64.7h0M370.0 79.7h0M355.7 63.1h0M351.0 64.9h0M346.9 75.9h0M349.9 71.7h0M349.6 68.4h0M362.3 68.8h0M364.9 73.1h0M370.1 67.5h0M343.9 67.9h0M355.2 65.9h0M357.4 70.6h0M353.3 80.5h0M359.9 79.7h0M360.8 57.4h0M356.9 76.0h0M376.5 73.4h0M364.3 71.7h0M372.5 78.5h0M349.6 61.1h0M349.6 62.6h0M359.6 65.9h0M366.9 54.3h0M361.0 74.4h0M372.5 77.9h0M357.7 65.8h0M359.7 68.9h0M361.8 70.5h0M359.6 72.1h0M356.5 67.5h0M353.2 65.6h0M358.3 69.8h0M351.6 81.3h0M358.3 68.4h0M353.8 68.3h0M358.8 54.1h0M347.2 74.6h0M364.0 62.1h0M361.1 72.6h0M361.2 62.5h0M358.0 66.4h0M338.9 63.3h0M364.6 71.9h0M349.5 69.4h0M352.7 70.1h0M362.7 63.3h0M361.8 68.5h0M335.0 74.4h0M358.7 63.4h0M380.9 73.3h0M360.8 77.1h0M360.4 81.1h0M374.8 75.2h0M360.5 66.4h0M355.9 65.7h0M354.3 69.1h0M358.4 72.8h0M366.5 67.6h0M370.8 67.5h0M354.1 69.3h0M359.4 69.0h0M363.2 81.7h0M355.8 72.8h0M347.4 65.5h0M345.8 61.5h0M364.0 77.3h0M370.0 82.6h0M354.7 79.9h0M360.9 62.3h0M391.2 66.1h0M354.0 75.1h0M365.5 70.2h0M378.1 78.8h0M348.1 80.3h0M353.5 78.8h0M371.2 77.9h0M368.4 67.0h0M369.3 67.2h0M359.7 62.7h0M342.5 65.4h0M364.1 82.2h0M362.4 75.2h0M363.6 70.5h0M346.2 74.7h0M359.2 67.8h0M361.9 71.8h0M363.5 69.4h0M369.6 71.6h0M354.4 73.4h0M352.3 68.5h0M358.6 71.8h0M346.5 63.4h0M364.4 60.8h0M355.4 68.1h0M349.2 64.3h0M366.6 72.5h0M357.4 77.2h0M364.5 69.3h0M367.7 72.8h0M356.8 64.8h0M355.3 68.9h0M343.8 74.5h0M360.5 72.5h0M364.1 63.8h0M355.3 75.5h0M361.0 70.7h0M358.0 65.5h0M358.0 77.8h0M365.6 70.1h0M362.2 69.4h0M377.3 61.9h0M364.1 74.4h0M381.4 69.4h0M368.4 75.2h0M359.4 69.0h0M361.4 78.8h0M353.6 73.9h0M359.4 70.3h0M348.6 72.8h0M334.4 74.4h0M353.8 72.7h0M360.2 75.5h0M360.7 57.4h0M379.3 68.9h0M353.9 66.2h0M344.8 63.1h0M367.6 68.6h0M348.7 66.2h0M355.7 58.5h0M374.2 66.4h0M357.1 69.9h0M363.2 68.4h0M364.4 66.3h0M364.8 69.8h0M358.1 66.6h0M366.5 66.1h0M347.9 71.8h0M366.7 80.8h0M342.3 78.8h0M360.5 65.1h0M359.3 63.9h0M356.5 71.1h0M359.4 78.1h0M356.4 67.4h0M377.4 67.2h0M356.2 58.0h0M345.9 76.5h0M356.1 77.8h0M357.8 75.3h0M362.3 63.4h0M359.8 67.6h0M359.4 64.8h0M356.1 63.8h0M352.2 69.2h0M369.0 65.5h0M360.0 74.3h0M353.5 74.4h0M376.9 71.4h0M342.7 72.8h0M356.6 67.0h0M351.2 62.6h0M359.2 62.4h0M369.6 76.2h0M349.3 75.0h0M344.1 58.1h0M351.2 70.7h0M353.8 72.1h0M363.7 60.7h0M351.9 76.5h0M343.2 82.9h0M368.5 76.7h0M354.7 73.0h0M345.2 63.2h0M356.5 80.7h0M359.7 63.9h0M361.0 76.5h0M342.0 72.9h0M354.8 68.1h0M366.2 78.7h0M374.0 69.7h0M362.9 71.4h0M344.5 70.6h0M365.6 70.6h0M336.6 69.3h0M362.1 67.5h0M377.0 77.8h0M358.8 70.0h0M361.5 68.7h0M354.4 66.8h0M361.0 70.9h0M357.2 73.9h0M368.0 68.9h0M378.1 73.4h0M353.3 73.2h0M350.9 75.1h0M357.5 67.8h0M356.4 62.7h0M357.9 72.1h0M354.4 72.1h0M351.6 66.8h0M356.8 69.9h0M364.6 75.5h0M352.7 73.9h0M352.6 60.0h0M351.8 67.5h0M357.2 65.6h0M356.1 71.5h0M345.3 74.5h0M355.7 66.0h0M360.5 74.8h0M362.6 76.4h0M370.2 75.8h0M350.9 60.9h0M368.2 69.8h0M372.7 84.9h0M351.7 61.6h0M363.2 76.9h0M369.0 78.1h0M340.5 62.1h0M372.2 79.5h0M353.2 70.2h0M364.6 69.6h0M356.7 73.4h0M368.1 70.4h0M347.7 68.7h0M347.1 61.3h0M348.1 72.8h0M354.1 73.1h0M364.4 60.9h0M366.3 79.9h0M353.1 70.6h0M362.6 74.1h0M334.3 74.8h0M354.9 60.2h0M363.7 72.5h0M353.5 65.2h0M357.9 68.4h0M366.4 65.4h0M356.7 64.7h0M352.3 77.8h0M363.2 71.3h0M353.2 64.6h0M361.6 60.5h0M347.4 73.3h0M349.8 69.6h0M358.0 72.7h0M368.2 83.6h0M355.2 78.1h0M361.8 66.1h0M361.0 82.5h0M356.3 71.8h0M352.3 55.5h0M361.2 74.1h0M369.3 82.3h0M353.8 74.1h0M361.9 74.5h0M354.5 63.8h0M356.3 62.4h0M353.8 74.8h0M357.0 68.8h0M345.7 68.3h0M352.7 69.2h0M346.8 62.9h0M362.3 70.6h0M351.9 69.9h0" stroke="#68b878" stroke-width="0.90" stroke-linecap="round" fill="none" opacity="1"/><path d="M376.3 77.9h0M370.3 78.5h0M376.6 75.2h0M391.5 76.5h0M385.0 78.4h0M374.2 77.9h0M362.8 74.8h0M370.5 72.5h0M393.5 74.8h0M389.6 75.5h0M375.0 75.2h0M381.2 79.4h0M376.4 69.2h0M392.6 77.7h0M389.4 73.2h0M381.1 75.7h0M376.1 83.7h0M398.5 86.5h0M397.3 77.1h0M379.5 71.7h0M385.9 77.1h0M387.8 74.5h0M378.9 76.7h0M377.7 71.8h0M374.6 73.5h0M383.2 71.3h0M381.5 72.4h0M377.5 69.8h0M364.0 76.3h0M390.1 81.2h0M380.7 76.8h0M378.8 81.4h0M384.5 71.8h0M368.1 80.4h0M394.6 83.0h0M377.0 65.0h0M383.5 78.3h0M374.3 81.4h0M381.4 75.9h0M372.8 75.9h0M375.7 68.2h0M396.0 75.4h0M371.4 81.1h0M386.5 79.3h0M374.3 68.8h0M385.0 78.6h0M375.4 79.8h0M371.8 67.3h0M368.2 75.7h0M383.3 80.9h0M380.4 74.6h0M375.0 68.8h0M397.3 81.1h0M392.0 68.5h0M366.4 72.1h0M377.7 79.7h0M394.3 71.8h0M381.9 78.7h0M377.8 75.7h0M368.1 76.8h0M383.8 79.7h0M390.0 81.6h0M372.2 72.2h0M395.6 73.9h0M383.2 71.0h0M373.4 75.2h0M376.6 67.1h0M380.2 76.2h0M368.6 70.5h0M375.3 72.1h0M375.2 73.5h0M389.1 68.4h0M367.2 71.6h0M385.1 76.8h0M379.3 75.8h0M385.7 76.3h0M381.4 69.1h0M371.1 75.3h0M359.8 78.1h0M380.5 82.2h0M375.1 83.8h0M383.5 77.2h0M377.1 72.8h0M394.0 78.4h0M368.6 74.7h0M384.5 74.2h0M387.1 66.9h0M383.6 68.4h0M387.9 78.5h0M365.4 75.0h0M366.2 65.8h0M380.6 68.8h0M379.5 76.2h0M393.6 77.1h0M358.7 68.0h0M385.5 74.1h0M376.3 72.9h0M376.9 74.2h0M377.0 71.1h0M381.6 69.0h0M370.2 77.3h0M369.7 77.5h0M376.0 77.4h0M375.3 76.4h0M382.4 72.9h0M395.9 74.8h0M385.7 71.2h0M381.3 77.6h0M392.5 79.4h0M377.4 78.3h0M389.1 70.4h0M376.9 75.4h0M387.0 76.6h0M382.6 70.2h0M377.6 79.1h0M375.8 75.0h0M384.5 72.1h0M376.3 77.8h0M382.3 76.5h0M368.4 78.6h0M396.6 71.7h0M381.7 74.3h0M402.0 70.8h0M372.5 76.0h0M358.9 74.7h0M400.6 74.5h0M385.0 66.9h0M369.7 73.1h0M375.4 78.0h0M393.3 68.7h0M397.3 79.4h0M378.0 69.3h0M380.8 76.9h0M374.5 73.3h0M370.7 71.0h0M380.8 80.7h0M385.7 71.2h0M360.7 71.6h0M396.8 72.9h0M386.8 73.9h0M393.1 72.3h0M378.2 69.5h0M364.4 75.4h0M364.9 73.8h0M376.3 70.4h0M374.9 73.8h0M374.0 72.0h0M390.5 74.4h0M388.3 72.1h0M376.9 81.4h0M401.7 73.2h0M380.0 83.1h0M398.9 70.1h0M382.5 73.9h0M361.0 69.2h0M394.4 73.2h0M355.3 78.1h0M389.9 78.3h0M384.9 82.6h0M395.5 79.3h0M383.8 74.2h0M374.6 71.4h0M392.7 76.9h0M383.9 72.7h0M386.2 81.8h0M383.9 76.1h0M376.4 73.8h0M383.2 81.2h0M377.0 74.1h0M392.0 72.0h0M368.8 79.5h0M394.3 79.6h0M387.8 74.5h0M374.3 79.0h0M389.6 69.8h0M368.9 80.6h0M397.4 75.2h0M411.6 70.6h0M381.6 73.1h0M351.6 73.8h0" stroke="#88cc88" stroke-width="0.90" stroke-linecap="round" fill="none" opacity="1"/><path d="M348.1 66.1h0M354.6 73.2h0M355.3 67.6h0M361.3 70.4h0M349.9 70.3h0M355.0 77.0h0M353.5 73.0h0M351.4 74.2h0M354.3 74.7h0M352.9 80.0h0M354.7 72.9h0M354.1 81.1h0M353.2 76.1h0M348.1 73.1h0M351.9 82.2h0M357.2 82.8h0M349.0 73.9h0M351.3 71.0h0M352.4 71.5h0M355.7 75.6h0M353.2 71.5h0M351.9 77.7h0M359.0 81.8h0M351.6 73.2h0M346.8 77.5h0M354.7 69.9h0M355.4 82.0h0M350.9 76.5h0M354.4 70.3h0M351.5 76.3h0M353.8 64.1h0M359.6 75.4h0M356.4 71.1h0M350.7 79.6h0M360.6 77.8h0M352.7 75.3h0M348.8 64.2h0M356.8 83.4h0M352.4 80.0h0M351.4 65.3h0M350.6 83.1h0M358.4 79.8h0M350.8 70.5h0M350.3 70.9h0M358.1 77.0h0M355.3 69.7h0M355.1 71.7h0M354.1 80.0h0M357.4 65.4h0M356.1 75.1h0M357.7 84.7h0M353.3 74.7h0M348.4 79.6h0M356.1 76.8h0M356.4 79.0h0M359.2 72.6h0M348.3 70.6h0M352.5 66.1h0M349.8 80.4h0M351.6 74.7h0M357.8 83.7h0M350.6 67.1h0M354.4 70.6h0M351.5 68.3h0M349.1 77.3h0M349.9 73.8h0M353.8 75.5h0M348.9 63.7h0M349.4 72.1h0M352.6 75.2h0M348.5 77.1h0M355.2 78.9h0M354.7 82.0h0M350.0 73.4h0M353.3 67.1h0M348.2 80.1h0M350.7 65.8h0M348.4 80.4h0M349.9 70.7h0M360.4 65.3h0M356.8 71.0h0M353.9 66.2h0M350.1 77.3h0M347.4 78.9h0M350.9 76.6h0M353.4 71.3h0M352.8 78.6h0M356.7 74.0h0M353.9 78.1h0M352.0 65.3h0" stroke="#4a8aa0" stroke-width="0.90" stroke-linecap="round" fill="none" opacity="1"/><path d="M336.6 66.6C337.5 65.4 339.1 65.1 340.9 65C342.6 64.8 345.3 64.9 347.2 65.5C349.2 66.1 351.5 67.1 352.5 68.7C353.5 70.3 353.6 72.9 353 75C352.5 77.2 350.8 79.6 349.3 81.4C347.8 83.2 345.8 85 344 85.6C342.3 86.3 340.2 86.2 338.7 85.1C337.3 84 336.1 81.5 335.6 79.3C335 77.1 335.4 74 335.6 71.9C335.7 69.7 335.7 67.7 336.6 66.6Z" fill="#3030e8" opacity="1" filter="url(#b08)"/><path d="M337 67C337.8 65.9 339.3 65.7 341 65.5C342.7 65.3 345.2 65.4 347 66C348.8 66.6 351.1 67.5 352 69C352.9 70.5 353 73 352.5 75C352 77 350.4 79.3 349 81C347.6 82.7 345.7 84.4 344 85C342.3 85.6 340.3 85.5 339 84.5C337.7 83.5 336.5 81.1 336 79C335.5 76.9 335.8 74 336 72C336.2 70 336.2 68.1 337 67Z" fill="#1010ff" filter="url(#b03)"/><path d="M335.9 70.9h0M339.5 65.3h0M349.4 67.4h0M347.8 81.7h0M346.0 84.8h0M351.1 77.2h0M338.0 66.2h0M345.3 66.4h0M336.2 68.7h0M335.9 71.0h0M350.8 70.6h0M345.9 83.4h0M347.3 82.7h0M343.8 85.9h0M352.1 69.1h0M335.4 67.9h0M336.8 73.4h0M339.2 65.5h0M343.5 66.8h0M347.8 65.8h0M336.6 81.2h0M335.7 75.9h0M335.8 68.1h0M342.0 84.4h0M345.6 65.6h0M338.2 67.0h0M343.5 65.9h0M343.5 84.8h0M337.5 69.4h0M351.5 79.0h0M347.7 67.8h0M352.3 75.1h0M346.5 67.2h0M352.2 74.1h0M342.4 65.3h0M350.9 69.2h0M340.4 86.2h0M341.1 68.0h0M346.4 83.9h0M335.9 71.8h0M335.7 82.3h0M347.7 83.4h0M342.4 83.3h0M343.6 85.5h0M349.2 79.4h0M341.8 65.7h0M349.8 79.1h0M335.0 79.7h0M337.4 67.3h0M350.6 76.2h0M337.8 82.3h0M339.0 66.6h0M337.4 67.5h0M347.2 80.8h0M351.5 78.6h0M344.7 66.1h0M349.9 78.5h0M341.4 66.9h0M352.7 70.9h0M335.6 75.7h0M348.6 81.7h0M337.1 82.9h0M345.0 82.8h0M339.0 82.5h0M349.1 68.8h0M351.1 73.4h0M346.6 65.1h0M338.3 65.3h0M345.0 82.4h0M345.7 65.0h0M340.1 64.7h0M335.5 77.4h0M344.3 83.8h0M339.9 66.1h0M334.7 68.9h0M344.7 85.8h0M337.4 82.0h0M343.6 66.1h0M336.7 82.9h0M352.2 74.2h0M343.4 85.4h0M352.4 75.1h0M351.5 74.8h0M340.7 66.4h0M336.8 69.7h0M342.0 65.7h0M352.5 69.3h0M335.6 67.9h0M349.4 68.9h0M343.9 85.0h0M352.2 68.9h0M344.9 66.0h0M350.7 68.4h0M343.1 67.2h0M340.1 85.0h0M347.8 82.0h0M345.1 66.1h0M341.9 64.0h0M343.1 66.0h0M341.7 66.6h0M339.2 64.2h0M335.0 76.9h0M334.5 80.4h0M339.2 66.3h0M348.5 81.1h0M339.1 81.3h0M352.3 76.4h0M350.4 76.9h0M349.0 80.1h0M347.0 83.5h0M348.6 66.3h0M335.3 73.2h0M350.8 80.5h0M340.0 85.2h0M338.8 75.0h0M336.7 71.7h0M341.4 84.2h0M337.0 79.9h0M338.9 67.2h0M342.1 83.9h0M337.0 68.6h0M347.1 82.6h0M335.9 81.8h0M343.2 65.3h0M339.4 81.3h0M341.0 84.6h0M351.7 68.7h0M346.4 81.9h0M333.9 71.5h0M335.1 68.5h0M352.5 75.0h0M349.9 76.4h0M339.6 65.6h0M350.1 81.0h0M343.8 86.4h0M343.1 86.6h0M335.5 71.4h0M351.4 75.9h0M337.3 74.5h0M352.6 72.3h0M345.3 64.3h0M352.6 72.4h0M347.5 65.9h0M352.7 73.2h0M351.6 76.2h0M337.2 70.8h0M341.6 84.9h0M346.5 84.7h0M347.1 83.0h0M350.3 79.5h0M336.6 67.6h0M335.8 75.7h0M337.8 70.2h0M348.4 64.9h0M340.6 85.0h0M344.6 84.7h0M344.3 84.7h0M343.0 86.4h0M348.8 69.0h0M338.9 80.7h0M335.1 73.7h0M341.6 65.1h0M350.5 78.5h0M352.1 70.1h0M352.9 76.6h0M334.4 79.2h0M352.4 74.1h0M338.5 84.7h0M341.0 64.7h0M337.9 80.9h0M344.5 81.3h0M335.9 71.4h0M339.5 66.9h0M336.7 75.1h0M346.0 82.9h0M335.4 66.3h0M336.3 75.5h0M345.9 63.8h0M335.1 73.4h0M334.8 69.4h0M351.0 72.6h0M350.6 68.6h0M351.6 74.8h0M351.7 71.4h0M351.4 74.8h0M341.9 84.4h0M335.9 68.2h0M338.0 83.7h0M339.5 67.4h0M346.9 84.5h0M342.1 63.7h0M344.5 65.0h0M343.3 65.5h0M335.1 65.3h0M334.5 74.6h0M342.9 63.4h0M350.8 75.4h0M343.4 85.1h0M348.2 66.7h0M351.9 67.5h0M350.1 76.6h0M336.9 79.0h0M337.1 80.9h0M352.0 77.1h0M351.0 78.9h0M353.2 73.5h0M339.9 65.7h0M342.5 85.3h0M334.9 75.8h0M353.5 67.3h0M348.9 83.0h0M342.2 66.7h0M336.6 77.0h0M339.5 83.0h0M352.8 71.8h0M337.9 72.0h0M341.4 83.5h0M339.4 85.7h0M346.8 82.4h0M337.5 67.6h0" stroke="#2828e8" stroke-width="1.00" stroke-linecap="round" fill="none" opacity="1"/><path d="M346.7 80.6h0M338.5 75.2h0M335.2 73.8h0M352.6 70.0h0M335.0 75.6h0M334.3 74.2h0M352.1 81.0h0M348.4 78.9h0M349.9 81.0h0M346.9 81.8h0M349.4 74.1h0M339.4 83.5h0M338.2 65.3h0M347.0 70.9h0M335.2 69.5h0M349.0 71.7h0M338.6 67.9h0M339.0 87.8h0M336.1 84.7h0M336.3 80.7h0M334.5 81.1h0M337.8 69.4h0M351.8 73.6h0M339.9 85.5h0M343.4 85.2h0M353.6 74.1h0M337.2 67.5h0M339.5 70.3h0M336.3 65.1h0M348.0 76.5h0M337.9 70.9h0M336.4 87.3h0M345.1 86.0h0M337.5 75.0h0M339.2 85.1h0M349.6 68.1h0M338.8 65.7h0M335.6 72.2h0M350.8 73.5h0M350.8 78.8h0M349.6 71.1h0M340.0 70.8h0M344.7 67.7h0M349.3 81.8h0M332.8 72.9h0M342.7 89.1h0M335.5 75.3h0M352.7 81.0h0M350.1 78.6h0M335.4 81.6h0M349.7 80.2h0M350.9 64.0h0M351.8 70.7h0M346.2 68.4h0M334.7 67.4h0M333.6 74.7h0M350.1 82.4h0M351.5 73.5h0M345.6 84.1h0M333.1 77.9h0M336.9 65.5h0M351.6 75.2h0M347.4 80.8h0M336.3 71.7h0M334.1 81.3h0M339.2 70.4h0M339.3 72.5h0M336.8 72.5h0M352.4 72.5h0M351.1 79.4h0M341.0 67.2h0M338.0 62.9h0M341.0 88.0h0M337.0 66.8h0M351.0 73.0h0M345.0 89.2h0M340.2 80.9h0M348.6 75.8h0M339.3 85.1h0M350.3 68.3h0" stroke="#5060c0" stroke-width="0.90" stroke-linecap="round" fill="none" opacity="1"/><rect x="362.6" y="45.2" width="36.4" height="25.6" rx="3.5" fill="#ffc8c8" fill-opacity="0.55" stroke="#444" stroke-width="0.8"/><path d="M378.9 69.2h0M376.7 55.8h0M396.1 63.1h0M379.1 55.7h0M371.4 50.0h0M379.6 61.2h0M367.5 57.5h0M369.7 60.3h0M375.4 61.8h0M389.8 55.8h0M376.6 48.3h0M371.0 60.8h0M390.6 49.7h0M396.2 67.5h0M376.1 58.9h0M386.2 54.1h0M376.1 63.1h0M380.0 56.5h0M382.6 49.2h0M379.5 53.3h0M369.5 58.6h0M387.2 58.6h0M380.5 61.9h0M377.9 69.1h0M371.1 46.7h0M382.8 62.5h0M376.6 55.7h0M375.3 52.1h0M390.1 66.4h0M373.2 59.5h0M379.2 49.5h0M388.2 58.7h0M396.7 67.4h0M393.8 52.5h0M367.6 65.1h0M367.6 62.3h0M369.8 62.7h0M365.8 48.5h0M392.6 58.4h0M378.9 68.9h0M389.9 51.7h0M387.3 55.4h0M379.3 53.7h0M371.5 53.5h0M373.0 50.8h0M392.8 55.2h0M382.5 65.2h0M386.4 50.1h0M395.4 67.9h0M391.7 54.1h0M391.4 61.3h0M365.0 55.2h0M387.0 59.0h0M395.3 64.7h0M391.6 69.0h0M375.3 67.4h0M364.1 64.9h0M366.9 58.0h0M378.6 48.2h0M385.0 64.6h0M371.4 52.1h0M389.4 58.7h0M364.6 53.6h0M395.1 52.8h0M373.5 56.9h0M393.3 65.1h0M376.7 61.8h0M364.9 48.0h0M376.3 61.1h0M368.6 47.5h0M392.2 50.8h0M365.8 48.5h0M366.6 53.1h0M383.1 61.6h0M373.4 58.4h0M375.0 59.8h0M367.6 60.9h0M364.0 67.7h0M370.9 59.3h0M370.2 56.7h0M372.7 61.2h0M389.7 65.9h0M396.1 57.0h0M382.1 54.6h0M373.5 58.2h0M396.1 47.8h0M388.7 53.9h0M383.7 52.6h0M387.7 57.9h0M374.2 56.8h0M364.2 48.8h0M394.0 48.4h0M377.1 61.9h0M365.2 67.9h0M370.8 68.6h0M378.3 60.0h0M383.9 48.5h0M380.7 63.7h0M390.1 63.4h0M386.5 49.4h0M377.5 58.2h0M365.3 64.1h0M367.4 59.5h0M372.8 50.2h0M395.4 60.8h0M388.2 60.4h0M382.6 66.6h0M366.1 55.2h0M371.2 60.2h0M377.0 67.7h0M371.7 52.7h0M394.3 63.1h0M378.2 55.1h0M388.2 49.9h0M387.8 51.7h0M390.6 48.2h0M394.2 66.3h0M364.8 50.2h0M394.2 65.3h0M373.6 64.9h0M383.1 52.2h0M386.7 56.0h0M368.7 66.1h0M387.7 52.1h0M378.1 62.2h0M376.3 52.4h0M381.4 68.4h0M367.1 52.3h0M379.9 69.1h0M396.8 46.7h0M385.2 49.7h0M370.8 49.6h0M380.5 69.4h0M395.9 54.9h0M393.6 62.3h0M366.5 67.2h0M373.0 69.0h0M368.4 67.2h0M380.9 58.4h0M370.0 57.7h0M389.1 59.3h0M396.3 58.8h0M393.8 49.6h0M388.3 60.3h0M393.1 54.2h0M379.3 65.2h0M372.4 55.0h0M391.9 61.4h0M380.2 46.9h0M389.2 56.0h0M371.8 55.4h0M368.5 65.8h0M390.3 68.7h0M386.2 50.2h0M377.9 69.4h0M364.0 54.4h0M368.9 50.4h0M373.1 60.7h0M366.2 66.4h0M378.2 50.5h0M367.3 58.6h0M375.5 58.0h0M367.6 54.7h0M380.7 48.4h0M380.5 65.8h0M383.5 49.5h0M384.8 48.4h0M368.7 46.7h0M381.5 50.6h0M373.2 49.3h0M393.5 49.8h0M386.3 65.0h0M378.8 59.9h0M375.0 65.3h0M386.6 48.3h0M387.2 49.7h0M379.9 50.7h0M380.0 61.6h0M388.2 54.0h0M365.8 56.9h0M394.2 59.2h0M384.4 64.1h0M385.1 68.3h0M395.5 63.5h0M390.6 49.8h0M372.7 62.9h0M383.2 66.3h0M389.5 54.1h0M369.7 61.6h0M367.7 57.9h0M373.1 55.7h0M385.6 61.1h0M384.4 47.9h0M393.5 62.7h0M393.9 60.6h0M385.3 66.9h0M388.6 61.1h0M365.3 47.1h0M387.7 66.0h0M376.8 51.3h0M378.6 65.8h0M388.9 49.5h0M370.7 51.3h0M388.6 52.3h0M393.3 56.0h0M370.4 56.1h0M368.6 66.7h0M364.8 56.1h0M376.5 47.4h0M371.3 69.2h0M392.3 56.2h0M392.8 67.4h0M392.3 63.2h0M382.7 58.3h0M387.6 60.3h0M396.1 50.6h0M393.6 63.9h0M378.6 66.0h0M373.4 55.5h0M383.0 68.8h0M372.0 66.0h0M385.7 67.7h0M373.9 61.8h0M393.3 66.8h0M387.0 65.8h0M384.9 59.2h0M370.3 58.4h0M396.2 68.3h0M365.4 53.5h0M371.9 65.9h0M370.0 64.1h0M370.5 54.3h0M396.1 49.4h0M383.2 52.8h0M388.9 48.0h0M386.3 52.4h0M395.6 54.1h0M386.1 47.2h0M395.0 61.1h0M394.2 63.6h0M366.0 63.6h0M376.6 51.1h0M393.4 61.8h0M375.5 48.2h0M385.4 47.9h0M371.9 47.6h0M369.7 63.7h0M372.8 69.2h0M373.2 64.9h0M388.3 61.3h0M384.0 49.7h0M391.3 67.7h0M381.5 50.8h0M366.8 52.4h0M396.1 53.8h0M373.3 58.6h0M365.1 64.7h0M389.7 53.6h0M365.0 67.2h0M390.7 64.1h0M371.0 68.4h0M385.1 47.2h0M396.4 62.6h0M370.1 67.0h0M383.7 61.1h0M364.9 51.4h0M390.1 46.8h0M370.4 48.1h0M383.2 49.7h0M389.9 56.9h0M389.8 67.5h0M396.1 50.9h0M376.0 64.8h0M375.0 68.1h0M375.1 60.9h0M372.4 63.1h0M373.4 56.2h0M387.9 65.5h0M368.6 50.5h0M371.0 64.1h0M386.2 63.0h0M390.7 51.9h0M380.4 46.6h0M375.6 60.3h0M372.6 64.8h0M371.0 56.7h0M386.6 51.6h0M385.9 55.7h0M365.6 48.9h0M385.5 65.4h0M386.4 66.3h0M386.0 64.4h0M391.7 60.2h0M381.5 50.2h0M371.8 48.5h0M367.7 55.5h0M373.6 59.4h0M391.3 52.7h0M393.5 65.7h0M370.3 60.1h0M370.5 48.0h0M371.3 51.2h0M364.3 47.1h0M390.6 66.4h0M392.5 48.2h0M364.8 66.2h0M376.4 54.4h0M387.1 58.7h0M374.9 50.0h0M367.8 62.9h0M393.9 47.4h0M371.4 58.6h0M372.8 57.8h0M380.6 52.6h0M367.9 56.1h0M390.8 49.7h0M381.8 65.1h0M382.8 54.5h0M394.6 64.5h0M396.9 53.4h0M380.0 56.9h0M391.7 60.8h0M382.2 58.3h0M393.4 54.6h0M368.3 50.6h0M372.0 48.7h0M396.2 59.3h0M390.3 56.9h0M381.2 51.7h0M393.4 56.2h0M377.4 63.6h0M392.7 69.4h0M379.9 56.3h0M391.3 56.3h0M370.7 57.5h0M374.1 52.4h0M389.5 54.5h0M384.6 53.5h0M367.8 64.5h0M389.6 62.7h0M384.1 50.5h0M380.5 65.7h0M389.9 60.1h0M384.8 50.4h0M365.8 66.0h0M364.6 52.3h0M377.2 62.6h0M387.0 66.4h0M394.7 52.7h0M372.2 49.3h0M374.9 48.9h0M395.7 59.7h0M380.2 47.8h0M394.1 52.1h0M389.4 51.2h0M372.9 49.7h0M381.7 53.0h0M382.9 62.9h0M371.5 49.5h0M381.0 55.7h0M378.7 55.0h0M369.4 49.3h0M388.0 61.1h0M386.7 61.2h0M380.9 51.0h0M394.2 58.8h0M379.1 52.5h0M376.4 69.1h0M377.4 65.0h0M368.1 60.3h0M373.0 51.9h0M374.0 55.6h0M385.2 55.9h0M392.4 50.1h0M392.2 56.5h0M390.2 55.6h0M372.5 67.1h0M385.0 63.1h0M381.2 62.8h0M395.6 63.5h0M396.0 54.5h0M373.8 66.8h0M391.5 66.9h0M378.4 56.0h0M395.3 51.2h0M369.5 50.5h0M374.0 56.1h0M376.6 57.1h0M365.2 54.4h0M380.8 47.7h0M379.9 67.3h0M385.6 68.3h0M392.4 57.9h0M364.7 47.9h0M383.0 65.9h0M374.9 49.5h0M389.0 58.9h0M379.4 49.4h0M382.3 59.7h0M387.4 67.2h0M366.5 65.6h0M374.6 56.1h0M375.4 65.1h0M378.6 48.1h0M379.6 49.9h0M364.5 47.7h0M376.6 56.9h0M364.0 49.6h0M393.8 59.0h0M396.3 59.0h0M395.5 62.4h0M376.8 47.7h0M368.9 64.7h0M385.9 53.3h0M369.4 61.2h0M394.7 52.2h0M396.9 58.8h0M370.9 50.7h0M387.5 67.8h0M370.7 52.0h0M368.7 51.3h0M371.4 56.1h0M371.8 61.7h0M371.9 52.6h0M377.8 50.4h0M365.7 48.6h0M364.2 62.0h0M365.6 57.5h0M393.3 60.6h0M374.1 55.7h0M378.1 53.9h0M365.8 50.1h0M368.7 51.3h0M374.9 48.9h0M384.3 51.1h0M380.8 62.4h0M380.4 63.5h0M389.7 56.8h0M371.0 47.5h0M386.9 55.0h0M373.6 48.4h0M369.9 67.0h0M379.6 66.0h0M391.9 52.2h0M371.5 66.9h0M371.8 60.3h0M394.9 57.2h0M378.0 68.5h0M392.5 67.8h0M387.3 51.7h0" stroke="#ff2a2a" stroke-width="1.10" stroke-linecap="round" fill="none" opacity="1"/><path d="M364.5 47.0h0M374.2 59.0h0M373.7 68.5h0M366.6 68.8h0M367.0 50.6h0M367.0 69.4h0M374.3 54.6h0M369.3 65.4h0M372.8 67.1h0M368.0 51.8h0M369.6 68.0h0M370.7 66.6h0M366.2 58.2h0M374.1 59.6h0M372.7 65.1h0M368.9 62.4h0M371.6 56.6h0M369.7 65.1h0M373.7 69.2h0M368.0 62.1h0M370.1 66.1h0M366.6 57.2h0M366.8 65.0h0M371.8 46.6h0M365.2 49.8h0M370.5 64.3h0M367.8 48.3h0M370.4 60.6h0M368.7 52.7h0M367.8 51.8h0M372.9 55.3h0M371.8 59.1h0M366.5 52.9h0M371.4 66.4h0M374.1 50.0h0M366.9 48.8h0M366.1 55.4h0M371.9 67.6h0M370.5 49.8h0M368.1 49.8h0M367.1 59.7h0M369.5 50.5h0M367.0 67.1h0M370.9 60.3h0M367.5 53.4h0M372.4 46.8h0M371.2 68.5h0M371.0 47.6h0M364.4 64.6h0M366.0 56.2h0M371.2 62.0h0M367.2 62.2h0M374.1 57.3h0M368.4 62.3h0M373.6 62.3h0M374.2 64.5h0M374.5 52.3h0M371.4 51.3h0M365.3 54.4h0M374.4 53.3h0" stroke="#c04040" stroke-width="0.90" stroke-linecap="round" fill="none" opacity="1"/><path d="M372.5 48.6C373.8 47.1 376.9 47.1 379.8 46.8C382.8 46.5 387.6 46.3 390.3 46.8C393 47.3 395.1 46.7 396.1 49.6C397.1 52.6 396.7 61.1 396.1 64.3C395.5 67.6 395.3 68.2 392.4 69.1C389.5 69.9 381.9 70.2 378.8 69.4C375.6 68.6 374.7 66.6 373.5 64.3C372.4 62.1 372.1 58.6 371.9 55.9C371.8 53.3 371.2 50.1 372.5 48.6Z" fill="#ff5050" opacity="1" filter="url(#b08)"/><path d="M373 49C374.2 47.5 377.2 47.6 380 47.3C382.8 47 387.4 46.8 390 47.3C392.6 47.8 394.6 47.2 395.5 50C396.4 52.8 396.1 60.9 395.5 64C394.9 67.1 394.8 67.7 392 68.5C389.2 69.3 382 69.5 379 68.8C376 68 375.1 66.1 374 64C372.9 61.9 372.7 58.5 372.5 56C372.3 53.5 371.8 50.5 373 49Z" fill="#ff1010" filter="url(#b03)"/><text x="355.8" y="36.5" font-size="7.26" font-weight="bold" fill="#000" stroke="#000" stroke-width="0.2" textLength="43.2" lengthAdjust="spacingAndGlyphs">CD34+ CD117+</text><path d="M461.0 80.7h0M470.8 51.2h0M455.7 78.2h0M459.3 61.6h0M466.4 59.5h0M468.0 74.3h0M445.8 76.8h0M450.5 68.0h0M457.9 64.7h0M441.9 80.0h0M474.8 46.2h0M468.1 61.0h0M458.1 57.1h0M464.3 60.2h0M473.4 59.3h0M439.0 47.0h0M472.4 56.7h0M456.6 57.1h0M484.2 56.6h0M457.1 59.1h0M468.8 67.6h0M466.5 65.2h0M461.7 62.8h0M448.4 69.9h0M458.1 61.2h0M457.5 65.4h0M452.4 64.0h0M458.0 84.5h0M445.3 59.2h0M451.8 62.3h0M438.2 52.1h0M475.9 59.4h0M457.5 67.8h0M441.6 57.7h0M463.3 63.9h0M452.4 65.9h0M467.3 57.1h0M462.1 64.8h0M435.2 65.4h0M448.8 70.8h0M444.3 53.2h0M464.4 55.7h0M475.2 69.5h0M438.8 63.0h0M473.2 65.1h0M462.9 62.1h0M466.6 62.3h0M451.1 74.1h0M464.2 53.7h0M448.3 64.0h0M455.7 68.8h0M464.4 57.8h0M447.4 52.2h0M450.0 57.9h0M455.1 67.4h0M475.3 83.9h0M448.5 63.5h0M447.5 66.8h0M460.3 70.2h0M446.3 79.1h0M460.8 54.9h0M453.3 67.2h0M461.5 58.0h0M456.8 63.0h0M450.4 69.9h0M462.9 59.1h0M448.7 68.5h0M458.5 64.7h0M458.4 69.8h0M470.6 61.2h0M465.4 68.6h0M456.9 61.2h0M446.4 70.3h0M463.5 48.9h0M458.6 49.3h0M468.7 72.2h0M453.1 54.2h0M459.7 59.4h0M462.1 54.1h0M441.7 68.8h0M467.4 65.3h0M460.3 60.6h0M462.7 56.9h0M455.3 66.1h0M464.6 52.6h0M459.1 55.1h0M452.8 67.3h0M443.3 64.1h0M445.6 64.9h0M461.1 82.3h0M463.2 59.0h0M436.4 54.4h0M458.7 55.5h0M464.7 53.5h0M444.5 65.4h0M439.2 61.7h0M461.4 54.6h0M461.1 54.5h0M453.6 59.8h0M450.6 60.9h0M469.9 53.2h0M449.7 84.0h0M473.2 62.1h0M456.4 61.7h0M454.6 65.6h0M461.8 59.4h0M446.9 60.6h0M479.1 63.4h0M445.0 65.0h0M460.2 66.1h0M458.1 64.2h0M466.0 67.3h0M452.2 76.5h0M463.9 63.0h0M444.6 69.2h0M458.7 67.6h0M466.6 62.6h0M453.0 77.5h0M462.6 67.6h0" stroke="#8a8aa8" stroke-width="0.80" stroke-linecap="round" fill="none" opacity="1"/><path d="M462.5 42C462.8 38.4 465.1 37.4 468 36C470.9 34.6 475.7 34.2 480 33.5C484.3 32.8 490 31.5 494 32C498 32.5 502.2 34 504 36.5C505.8 39 505.3 43.8 505 47C504.7 50.2 503.8 53.4 502 56C500.2 58.6 497.7 61.2 494 62.5C490.3 63.8 484.7 64.3 480 63.5C475.3 62.7 468.9 61.1 466 57.5C463.1 53.9 462.2 45.6 462.5 42Z" fill="none" stroke="#444" stroke-width="0.6" opacity="1" stroke-dasharray="2 1"/><path d="M491.8 40.4h0M497.5 42.9h0M476.4 46.2h0M474.0 53.7h0M480.3 54.9h0M498.2 39.8h0M489.3 39.6h0M480.6 52.6h0M482.2 55.2h0M486.2 41.7h0M474.1 48.4h0M472.7 46.3h0M481.9 44.3h0M473.2 44.4h0M485.1 40.1h0M477.7 47.7h0M498.3 46.7h0M484.2 43.5h0M470.9 46.5h0M487.5 43.7h0M491.5 50.1h0M484.5 49.5h0M485.5 40.9h0M478.5 52.1h0M480.2 47.8h0M474.6 50.1h0M490.4 46.3h0M475.8 51.8h0M480.9 43.0h0M470.9 49.5h0M490.7 53.3h0M488.2 38.6h0M488.0 41.6h0M485.7 53.2h0M478.5 50.5h0M492.8 51.0h0M487.1 51.4h0M485.6 40.7h0M499.3 40.7h0M496.8 43.3h0M473.4 48.9h0M487.6 37.9h0M483.4 47.7h0M477.5 51.1h0M481.8 54.5h0M489.6 41.5h0M494.6 36.3h0M470.0 56.3h0M493.4 44.4h0M483.6 42.1h0M485.0 47.7h0M473.2 47.8h0M489.3 39.1h0M484.4 38.7h0M496.4 40.5h0M499.1 42.1h0M489.7 37.2h0M477.9 54.2h0M467.4 48.1h0M487.7 38.5h0M482.9 56.2h0M485.6 50.3h0M482.3 43.8h0M468.8 53.0h0M494.7 40.4h0M495.3 44.4h0M495.5 41.1h0M477.0 47.7h0M474.4 41.5h0M478.7 46.4h0M486.5 49.2h0M497.5 48.6h0M499.0 46.6h0M477.8 46.7h0M470.8 49.1h0M476.9 47.9h0M481.2 48.7h0M469.2 49.7h0M487.4 40.0h0M496.7 49.8h0M484.3 52.8h0M482.1 51.9h0M479.4 48.4h0M491.4 49.1h0M487.1 44.4h0M478.7 50.7h0M481.9 45.7h0M479.6 42.3h0M473.5 50.5h0M484.7 50.3h0M489.1 44.8h0M484.4 50.1h0M488.8 43.7h0M493.5 38.6h0M496.5 46.9h0M482.1 51.5h0M486.8 40.8h0M484.6 42.3h0M479.1 40.8h0M470.2 55.6h0M481.7 45.6h0M474.9 55.9h0M474.5 55.9h0M478.1 54.2h0M486.2 43.9h0M475.8 41.0h0M477.6 54.5h0M467.2 47.1h0M483.9 39.2h0M490.1 40.4h0M491.7 39.5h0M496.3 42.8h0M477.5 57.9h0M479.5 44.7h0M492.1 37.3h0M469.9 55.6h0M477.9 39.6h0M473.1 52.7h0M499.6 44.8h0M490.7 46.2h0M473.8 42.8h0M478.3 41.4h0M493.4 37.7h0M479.9 52.5h0M487.5 50.6h0M486.9 37.8h0M484.1 52.8h0M468.3 51.8h0M471.1 44.3h0M484.8 42.5h0M491.2 47.4h0M488.5 43.2h0M482.6 48.2h0M481.0 45.8h0M474.4 47.1h0M492.5 52.5h0M483.1 43.2h0M484.9 53.4h0M491.2 47.6h0M493.6 48.7h0M492.6 48.3h0M472.9 56.3h0M485.4 46.8h0M475.9 57.3h0M483.6 47.1h0M469.1 45.4h0M469.1 50.7h0M473.7 51.6h0M488.1 40.3h0M482.4 45.3h0M473.0 44.7h0M469.1 51.9h0M480.3 47.4h0M471.8 52.6h0M490.0 38.0h0M496.0 37.1h0M494.8 40.0h0M484.6 52.0h0M472.1 52.1h0M481.3 39.5h0M482.8 41.3h0M495.3 38.1h0M489.9 42.4h0M495.3 39.2h0M497.6 39.0h0M489.0 47.9h0M486.0 54.2h0M491.0 46.4h0M474.2 55.8h0M491.0 39.5h0M494.6 52.0h0M490.1 44.1h0M498.2 39.1h0M474.6 45.7h0M475.7 52.5h0M477.8 48.9h0M477.5 48.2h0M484.7 39.1h0M492.9 37.7h0M474.8 52.8h0M493.9 49.8h0M498.1 45.4h0M474.6 46.5h0M477.0 44.4h0M493.0 43.0h0M490.7 49.2h0M467.7 47.3h0M495.9 50.5h0M495.3 50.3h0M481.2 40.1h0M492.2 42.4h0M489.1 50.7h0M478.0 41.4h0M488.5 50.1h0M474.1 52.0h0M491.7 48.7h0M484.6 47.9h0M481.5 40.2h0M484.9 45.3h0M487.6 37.5h0M484.8 38.6h0M484.9 54.4h0M489.4 46.4h0M472.3 57.0h0M496.0 46.8h0M468.7 51.2h0M480.4 44.7h0M479.6 41.9h0M471.7 50.6h0M484.3 45.5h0M492.0 47.2h0M485.6 50.9h0M488.1 52.8h0M478.9 53.2h0M486.4 41.5h0M471.2 50.0h0M486.6 41.2h0M476.9 55.4h0M476.1 46.7h0M493.6 49.1h0M470.2 53.3h0M490.8 36.6h0M498.4 42.3h0M482.5 47.7h0M485.5 48.7h0M469.2 55.2h0M484.4 37.9h0M483.7 40.0h0M481.4 52.1h0M492.1 39.3h0M476.6 57.9h0M487.9 39.9h0M487.3 41.3h0M469.5 50.7h0M469.3 52.8h0M477.7 40.0h0M494.2 38.0h0M488.1 38.9h0M488.8 38.6h0M475.9 46.0h0M485.3 38.3h0M489.3 51.3h0M486.5 44.5h0M494.3 37.1h0M485.2 48.1h0M475.0 44.4h0M486.8 44.3h0M482.1 38.8h0M497.3 38.8h0M492.6 49.2h0M476.5 51.1h0M493.9 40.4h0M474.6 45.1h0M486.7 41.7h0M491.2 39.1h0M486.2 48.9h0M482.5 48.3h0M486.5 44.9h0M482.6 52.7h0M469.0 46.9h0M473.3 44.4h0M472.3 57.1h0M477.0 42.6h0M493.1 48.2h0M496.8 49.8h0M488.4 45.4h0M494.8 45.9h0M493.5 36.9h0M473.0 50.0h0M489.7 46.3h0M488.7 45.3h0M486.2 43.4h0M482.5 45.2h0M474.5 51.0h0M476.9 43.7h0M493.7 43.9h0M497.5 46.8h0M495.9 38.6h0M483.2 46.3h0M499.3 44.5h0M484.6 52.4h0M494.8 51.0h0M470.6 50.5h0M496.0 46.5h0M481.2 50.4h0M470.8 50.9h0M472.4 42.6h0M490.1 38.7h0M479.4 49.9h0M494.9 40.0h0M485.6 49.5h0M485.4 49.3h0M479.7 41.1h0M489.7 50.7h0M498.9 41.4h0M486.1 54.6h0M484.0 54.4h0M473.7 44.7h0M485.1 49.3h0M495.3 46.1h0M480.4 49.7h0M477.0 55.0h0M499.3 40.2h0M472.5 43.7h0M482.0 38.9h0M493.9 39.2h0M485.0 41.9h0M488.5 38.3h0M483.5 55.1h0M469.4 54.8h0M489.3 41.2h0M497.0 39.6h0M483.3 52.4h0M487.0 37.1h0M488.1 40.2h0M479.6 52.2h0M493.2 46.0h0M490.5 49.1h0M474.5 41.5h0M487.9 53.0h0M488.2 39.0h0M475.5 49.0h0M492.1 45.2h0M490.1 43.3h0M480.8 48.9h0M470.7 57.0h0M478.5 57.2h0M490.0 44.3h0M494.2 50.9h0M481.7 50.8h0M489.7 43.2h0M473.5 50.6h0M472.4 45.5h0M470.0 47.7h0M480.2 42.4h0M492.0 52.6h0M469.2 49.3h0M474.4 43.1h0M475.5 47.1h0M488.2 41.7h0M477.1 53.9h0M476.8 55.3h0M475.1 47.3h0M491.2 48.1h0M493.5 37.9h0M488.1 40.5h0M490.8 39.8h0M468.1 48.8h0M477.3 43.5h0M495.9 48.6h0M470.9 51.7h0M491.0 48.7h0M498.8 46.5h0M488.6 36.9h0M477.0 42.5h0M481.3 47.4h0M470.8 51.5h0M477.9 54.2h0M491.4 44.2h0M472.6 52.9h0M495.9 37.5h0M480.9 48.2h0M490.1 40.3h0M494.4 49.6h0M489.8 51.0h0M476.9 41.9h0M479.4 54.2h0M486.8 42.0h0M497.1 47.5h0M491.5 43.5h0M489.4 44.9h0M484.4 39.7h0M479.3 45.1h0M491.7 39.2h0M473.6 50.4h0M482.8 55.9h0M478.8 47.5h0M496.0 40.0h0M476.5 48.4h0M490.2 50.5h0M477.3 43.4h0M479.6 42.3h0M473.9 46.9h0M472.0 43.1h0M484.6 43.1h0M470.6 55.7h0M476.9 45.7h0M489.9 41.6h0M479.6 56.3h0M488.1 45.8h0M474.1 53.7h0M498.0 41.1h0M495.3 44.2h0M475.1 41.1h0M473.8 54.6h0M498.7 42.9h0M493.7 42.5h0M486.3 40.1h0M497.3 47.5h0M486.7 53.9h0M484.4 46.9h0M490.7 46.5h0M486.2 42.5h0M486.4 47.4h0M469.4 54.1h0M498.7 44.4h0M487.9 51.4h0M493.5 52.1h0M494.3 43.4h0M493.5 49.3h0M499.0 43.1h0M492.3 51.6h0M477.6 50.6h0M468.1 50.8h0M476.2 48.2h0M495.6 49.2h0M471.3 43.9h0M474.3 46.0h0M476.5 55.4h0M496.8 40.0h0M479.8 55.7h0M479.1 50.1h0M492.5 43.4h0M472.2 53.9h0M477.3 51.8h0M481.3 52.0h0M489.2 41.5h0M473.8 46.3h0M483.5 56.1h0M490.2 45.6h0M481.7 49.4h0M487.0 40.4h0M474.4 44.1h0M474.3 54.6h0M490.9 53.5h0M485.8 41.2h0M468.2 49.3h0M467.4 47.5h0M492.8 38.8h0M481.5 48.0h0M487.3 39.6h0M470.7 48.8h0M475.4 50.6h0M476.5 43.6h0M498.6 38.8h0M471.4 46.5h0M477.4 42.9h0M479.4 55.2h0M475.3 40.8h0M478.7 42.9h0M489.3 52.1h0M493.3 39.7h0M490.1 37.3h0M489.5 40.7h0M482.6 52.3h0M488.6 49.8h0M478.9 51.3h0M471.7 46.1h0M489.2 45.4h0M473.9 57.4h0M476.7 48.0h0M483.3 39.8h0M496.7 42.5h0M498.4 39.7h0M470.0 51.7h0M468.7 46.3h0M478.8 52.4h0M468.5 52.2h0M498.9 42.4h0M480.4 52.6h0M477.2 55.1h0M482.7 39.0h0M485.6 44.6h0M494.5 44.4h0M489.1 38.2h0M478.6 56.8h0M483.5 44.9h0M487.6 49.3h0M475.7 55.8h0M482.0 53.4h0M484.2 49.1h0M492.7 40.9h0M490.1 52.8h0M493.6 40.2h0M496.2 50.3h0M495.8 36.9h0M472.5 48.3h0M489.2 44.5h0M469.4 56.0h0M469.4 56.0h0M474.8 51.8h0M486.7 41.0h0M477.9 41.1h0M484.8 42.0h0M485.1 42.1h0M471.0 51.6h0M475.7 57.4h0M480.5 41.6h0M479.3 52.5h0M487.8 42.2h0" stroke="#ff2020" stroke-width="1.00" stroke-linecap="round" fill="none" opacity="1"/><path d="M474.5 43.8C475.6 41.1 480.2 40.1 483.4 38.8C486.7 37.5 491.2 36.1 493.9 36C496.7 35.9 498.6 36.8 499.7 38.2C500.8 39.7 501.2 42.6 500.6 44.7C499.9 46.9 498.1 49.5 495.7 51.1C493.4 52.7 489.4 53.8 486.2 54.5C483 55.1 478.7 56.8 476.7 55C474.7 53.3 473.3 46.6 474.5 43.8Z" fill="#ff4040" opacity="1" filter="url(#b08)"/><path d="M476 44C477 41.6 481.1 40.7 484 39.5C486.9 38.3 491 37.1 493.4 37C495.8 36.9 497.5 37.7 498.5 39C499.5 40.3 499.9 42.9 499.3 44.8C498.7 46.7 497.1 49 495 50.5C492.9 52 489.3 52.9 486.5 53.5C483.7 54.1 479.8 55.6 478 54C476.2 52.4 475 46.4 476 44Z" fill="#ff1010" filter="url(#b03)"/><path d="M495.3 51.9h0M470.6 58.5h0M467.9 54.9h0M498.5 40.1h0M475.1 59.2h0M501.8 47.0h0M499.5 48.8h0M499.7 39.8h0M482.8 55.1h0M498.1 45.1h0M479.0 38.3h0M466.4 57.9h0M484.3 56.3h0M484.2 54.4h0M492.3 35.6h0M480.1 39.1h0M490.0 55.7h0M489.7 35.7h0M490.5 53.0h0M468.0 54.7h0M476.8 39.5h0M476.9 59.2h0M472.0 42.9h0M502.5 42.8h0M468.8 54.0h0M469.8 46.2h0M482.8 40.1h0M475.4 42.0h0M477.4 59.0h0M497.6 52.6h0M483.2 38.4h0M486.5 36.5h0M470.6 41.3h0M481.9 39.0h0M493.4 36.2h0M467.1 49.8h0M486.4 36.0h0M480.9 55.9h0M496.9 38.7h0M469.2 44.8h0M470.7 52.3h0M491.5 37.2h0M498.8 39.6h0M471.1 42.2h0M476.5 38.4h0M468.6 49.1h0M473.2 40.8h0M500.4 40.3h0M501.7 44.0h0M470.9 57.8h0M498.0 45.7h0M492.5 54.2h0M481.4 38.1h0M468.8 45.7h0M469.3 41.3h0M497.2 36.1h0M497.2 36.7h0M468.5 56.3h0M480.3 38.5h0M497.8 37.2h0M489.7 53.0h0M493.7 52.9h0M501.4 45.2h0M470.6 43.5h0M502.4 40.9h0M468.5 50.0h0M479.2 55.3h0M496.0 50.6h0M498.3 50.4h0M484.2 58.1h0M491.0 35.4h0M494.4 36.3h0M499.8 40.0h0M467.8 46.5h0M488.1 35.1h0M496.4 36.1h0M494.1 52.0h0M496.0 48.1h0M467.9 45.0h0M469.3 45.4h0M467.9 56.6h0M491.6 35.2h0M464.4 48.9h0M474.9 56.4h0M497.4 48.4h0M493.3 36.2h0M497.6 41.5h0M499.1 36.9h0M484.6 38.0h0M468.6 53.8h0M495.3 53.3h0M500.3 46.8h0M485.6 37.6h0M495.0 36.6h0M467.6 44.7h0M485.2 58.2h0M500.1 44.2h0M488.6 55.3h0M468.4 43.3h0M486.0 36.3h0M478.3 40.0h0M474.4 56.3h0M492.8 35.1h0M501.8 44.8h0M483.6 56.4h0M500.4 42.1h0M466.3 51.1h0M497.3 49.8h0M468.3 55.7h0M468.4 45.2h0M483.9 55.2h0M494.6 36.8h0M476.2 38.1h0M468.0 46.1h0M501.1 40.0h0M470.2 59.5h0M481.0 58.5h0M475.9 40.9h0M485.7 37.0h0M499.7 45.3h0M486.6 56.1h0M469.8 41.4h0M473.7 57.9h0M498.3 42.6h0M500.4 47.7h0M467.6 50.9h0M473.5 39.9h0M499.5 41.5h0M493.7 36.0h0M473.3 58.5h0M500.2 44.2h0M497.3 51.6h0M487.3 56.0h0M502.2 43.7h0M466.8 46.9h0M469.2 57.4h0M477.8 60.0h0M468.1 45.4h0M497.5 42.7h0M497.5 47.3h0M484.9 54.9h0M485.3 55.9h0M479.2 57.3h0M473.2 42.2h0M497.7 47.3h0M494.1 52.3h0M482.5 57.5h0M497.1 52.3h0M488.2 35.3h0M489.8 54.5h0M479.3 39.5h0M469.6 55.5h0M487.6 34.4h0M475.6 56.2h0M469.3 44.2h0M496.8 50.5h0M497.2 35.1h0M478.1 58.4h0M500.0 44.3h0M468.7 56.2h0M495.3 51.6h0M491.6 36.4h0M466.3 46.0h0M485.2 54.9h0M475.3 40.5h0M474.1 58.2h0M471.2 42.8h0M473.1 41.4h0M496.9 50.1h0M470.7 41.8h0M499.7 45.8h0M468.5 57.2h0M466.4 49.2h0M465.5 45.8h0M472.5 58.1h0M492.1 55.6h0M499.9 39.2h0M499.6 37.8h0M473.5 59.5h0M500.4 41.0h0M499.7 43.9h0M500.1 46.4h0M497.6 36.4h0M468.5 42.3h0M499.4 37.7h0M494.4 36.2h0M471.8 55.9h0M499.8 41.9h0M500.3 42.2h0M486.3 38.3h0M478.0 38.7h0M497.9 45.0h0M469.0 44.0h0M469.9 43.5h0M482.3 38.2h0M487.9 36.9h0M488.5 35.2h0M494.8 35.9h0M467.6 46.4h0M501.1 42.6h0M495.3 34.5h0M473.8 57.0h0M470.3 58.7h0M498.6 42.6h0M483.9 38.7h0M467.4 46.9h0M498.0 48.6h0M479.6 39.7h0M494.3 36.0h0M495.7 49.2h0M469.4 54.6h0M497.3 39.4h0M479.3 56.4h0M501.1 39.7h0M473.2 59.9h0M466.8 50.2h0M498.4 48.1h0M471.4 42.5h0M479.7 38.5h0M473.3 41.1h0M483.3 38.0h0M473.3 59.6h0M466.6 44.3h0M496.0 52.0h0M499.9 39.9h0M496.9 37.1h0M495.2 38.4h0M495.4 47.9h0M466.5 45.9h0M495.3 36.5h0M498.0 35.1h0M479.8 59.6h0M485.7 54.8h0M486.0 54.4h0M485.0 36.6h0M499.2 45.8h0M499.5 40.0h0M498.9 35.7h0M481.6 35.6h0M486.3 36.9h0M491.8 52.5h0M468.8 56.7h0M468.3 55.7h0M496.2 36.6h0M478.7 40.0h0M499.9 44.8h0M488.9 54.2h0M494.5 36.2h0M481.8 56.9h0M475.7 42.5h0M472.6 42.4h0M467.4 47.6h0M500.8 42.5h0M472.0 56.5h0M479.0 56.8h0M467.4 48.1h0M468.8 57.0h0M479.7 58.7h0M494.6 52.3h0M467.5 52.7h0M467.2 45.8h0M494.1 36.2h0M469.9 45.3h0M497.9 41.9h0M499.2 40.8h0M499.2 45.8h0M465.9 49.9h0M497.7 48.8h0M497.9 49.4h0M471.6 43.7h0M501.4 45.5h0M495.3 34.9h0M486.6 56.2h0M495.8 37.0h0M488.5 35.8h0M496.5 36.8h0M476.7 57.7h0M479.6 56.4h0M487.6 35.6h0M471.4 46.6h0M497.4 38.4h0M471.9 56.7h0M467.6 52.3h0M473.5 42.1h0M470.3 43.8h0M495.0 37.1h0M467.7 52.4h0M497.4 35.8h0M475.4 40.4h0M498.0 36.2h0M468.0 49.3h0M482.3 58.8h0M470.8 44.0h0M482.5 36.0h0M498.9 47.7h0M473.1 42.0h0M482.0 56.7h0M467.7 51.2h0M498.8 43.8h0M476.4 60.8h0M490.4 54.7h0M486.4 36.7h0M498.0 47.6h0M492.0 36.7h0M486.8 37.5h0M499.5 43.8h0M474.6 59.1h0M500.3 43.4h0M472.7 58.0h0M488.8 53.3h0M468.9 52.8h0M485.0 54.0h0M489.0 35.4h0M491.3 54.1h0M488.1 54.4h0M501.4 39.7h0M498.3 48.8h0M475.5 40.5h0M475.9 44.3h0M483.4 56.3h0M473.5 38.4h0M501.2 44.0h0M493.1 53.1h0M483.6 36.9h0M493.9 33.9h0M467.8 44.9h0M492.9 51.2h0M486.0 37.2h0M496.1 48.7h0M496.5 34.8h0M468.8 47.1h0M499.0 49.5h0M499.9 39.9h0M483.0 36.3h0M484.1 56.5h0M493.7 52.5h0M499.9 41.2h0M482.3 56.6h0M490.5 37.1h0M488.6 52.1h0M491.3 54.5h0M489.9 38.4h0M472.7 57.2h0M478.2 59.5h0M474.5 57.3h0M481.1 38.5h0M466.2 49.9h0M502.1 42.0h0M471.9 56.3h0M468.7 59.0h0" stroke="#ff2020" stroke-width="1.00" stroke-linecap="round" fill="none" opacity="1"/><path d="M439.9 69.9C441.3 68.1 444 66.9 446 66.9C448 66.9 450.5 68.1 452 69.9C453.6 71.8 454.7 75 455.1 78C455.4 81 454.9 85.2 454.1 88.1C453.2 90.9 451.9 93.9 450 95.1C448.2 96.4 444.9 96.8 443 95.6C441 94.4 439.3 91 438.4 88.1C437.6 85.1 437.7 81 437.9 78C438.2 75 438.6 71.8 439.9 69.9Z" fill="#3030e8" opacity="1" filter="url(#b08)"/><path d="M440.6 71.1C441.8 69.5 444.2 68.4 446 68.4C447.8 68.4 450.1 69.5 451.4 71.1C452.8 72.8 453.8 75.6 454.1 78.3C454.4 81 454 84.8 453.2 87.3C452.5 89.9 451.3 92.5 449.6 93.6C448 94.7 445.1 95.1 443.3 94.1C441.6 93 440 89.9 439.3 87.3C438.5 84.7 438.6 81 438.8 78.3C439.1 75.6 439.4 72.8 440.6 71.1Z" fill="#1010ff" filter="url(#b03)"/><path d="M447.9 68.6h0M438.6 76.2h0M448.6 95.6h0M436.8 83.0h0M439.1 75.2h0M440.1 69.2h0M448.6 68.2h0M445.8 97.2h0M437.7 78.3h0M450.0 94.2h0M451.9 87.3h0M448.3 96.5h0M452.4 92.1h0M454.1 87.8h0M439.5 70.8h0M443.2 92.4h0M452.1 70.5h0M453.0 69.2h0M444.3 94.3h0M437.7 87.2h0M438.2 89.5h0M452.0 90.1h0M453.1 82.9h0M438.5 89.5h0M450.3 69.8h0M452.3 70.4h0M451.9 86.1h0M438.1 81.8h0M448.5 66.9h0M440.0 93.7h0M454.6 70.1h0M442.4 93.1h0M444.4 93.7h0M452.8 70.6h0M441.8 67.5h0M452.5 88.7h0M454.2 80.9h0M440.2 68.3h0M442.8 93.4h0M440.9 69.8h0M444.5 95.2h0M441.7 88.5h0M440.7 70.1h0M438.4 77.8h0M448.7 67.6h0M441.5 67.9h0M444.0 66.5h0M439.3 74.5h0M450.3 93.3h0M438.6 74.0h0M437.5 84.9h0M447.3 69.4h0M440.4 68.0h0M440.5 91.9h0M452.1 80.9h0M441.2 69.6h0M437.9 80.0h0M445.3 96.4h0M439.6 77.0h0M443.1 70.0h0M450.4 95.9h0M454.2 72.2h0M453.0 76.7h0M454.9 89.8h0M441.9 92.3h0M451.9 68.8h0M453.3 86.7h0M436.6 77.0h0M447.4 96.3h0M445.7 95.0h0M439.0 84.8h0M453.2 77.0h0M451.6 69.2h0M447.8 95.8h0M444.0 68.7h0M441.3 68.4h0M446.2 97.0h0M449.5 93.4h0M437.8 84.0h0M451.0 94.2h0M446.2 66.5h0M445.7 93.7h0M437.7 89.2h0M442.9 95.7h0M442.9 72.6h0M446.3 96.1h0M443.9 95.0h0M454.0 74.9h0M435.2 77.9h0M450.8 70.0h0M437.4 73.0h0M444.7 66.7h0M444.6 69.4h0M439.3 75.3h0M438.7 74.5h0M454.3 75.6h0M438.5 84.5h0M443.5 69.0h0M443.5 69.8h0M439.4 79.4h0M437.0 80.1h0M440.1 73.6h0M437.8 89.8h0M437.7 86.6h0M436.9 75.6h0M449.2 94.7h0M450.8 70.0h0M440.7 71.2h0M437.5 88.0h0M440.6 91.8h0M454.9 72.1h0M446.7 96.6h0M454.6 83.2h0M439.0 87.3h0M442.3 70.9h0M444.9 95.3h0M440.8 70.3h0M441.0 87.3h0M454.5 74.1h0M451.4 89.3h0M453.4 85.3h0M457.3 87.9h0M437.9 74.1h0M438.1 87.4h0M439.2 72.4h0M453.3 70.0h0M439.7 87.2h0M455.3 71.4h0M454.7 87.1h0M448.6 96.4h0M448.5 92.3h0M438.1 86.8h0M453.3 78.2h0M451.9 95.0h0M441.8 71.6h0M448.5 94.1h0M444.3 95.2h0M446.9 68.5h0M445.6 67.3h0M446.0 68.9h0M438.0 73.4h0M439.4 81.0h0M443.1 95.2h0M440.9 91.3h0M451.4 93.9h0M452.8 70.8h0M446.6 68.9h0M440.6 92.0h0M455.3 74.2h0M453.3 68.7h0M437.8 84.0h0M455.0 76.5h0M451.7 86.3h0M437.5 76.2h0M451.8 69.9h0M446.3 67.8h0M438.6 74.2h0M437.8 85.7h0M454.3 79.0h0M438.5 85.9h0M441.3 70.5h0M454.6 76.6h0M446.5 96.3h0M440.5 73.5h0M441.9 96.7h0M439.5 90.4h0M438.2 90.4h0M446.6 94.8h0M454.1 75.5h0M439.0 79.2h0M438.3 88.9h0M443.8 97.4h0M453.6 84.1h0M440.9 90.0h0M446.4 67.0h0M436.7 76.6h0M450.9 95.5h0M440.8 68.5h0M450.7 92.5h0M441.5 69.4h0M450.3 90.7h0M450.5 91.7h0M451.5 68.0h0M450.6 91.6h0M446.4 67.6h0M451.8 96.5h0M438.6 74.9h0M450.0 91.0h0M443.8 65.8h0M456.1 72.9h0M455.7 87.0h0M437.5 83.8h0M440.7 92.1h0M440.9 70.9h0M453.4 86.2h0M455.3 78.8h0M439.2 71.2h0M448.5 69.9h0M452.3 88.7h0M448.9 88.9h0M441.4 72.0h0M453.6 71.4h0M453.9 73.5h0M450.8 92.7h0M439.4 93.5h0M451.0 92.8h0M438.4 83.3h0M442.0 68.5h0M452.5 91.0h0M439.6 91.6h0M445.4 64.9h0M454.6 77.7h0M452.5 71.7h0M451.7 68.8h0M452.8 84.9h0M447.9 94.5h0M456.7 87.2h0M447.6 68.4h0M442.3 94.4h0M441.3 71.0h0M453.2 89.6h0M449.5 67.7h0M445.2 95.4h0M454.3 76.9h0M440.3 91.4h0M439.5 69.9h0M438.6 86.4h0M453.7 84.3h0M442.9 90.9h0M442.1 93.7h0M447.0 95.2h0M438.7 83.3h0M441.6 70.8h0M448.5 67.3h0M443.2 94.8h0M452.4 94.0h0M443.2 66.9h0M438.9 89.2h0M454.1 79.5h0M449.6 94.9h0M455.4 77.9h0M439.5 76.7h0M444.9 94.5h0M455.6 81.4h0M439.3 74.3h0M456.8 85.7h0M444.7 93.8h0M447.3 65.6h0M447.2 67.7h0M438.8 81.3h0" stroke="#2020e8" stroke-width="1.00" stroke-linecap="round" fill="none" opacity="1"/><text x="467.6" y="31" font-size="6.84" font-weight="bold" fill="#000" stroke="#000" stroke-width="0.2" textLength="19.2" lengthAdjust="spacingAndGlyphs">CD33+</text><path d="M288.8 124.7h0M235.1 148.5h0M229.3 128.6h0M241.6 123.6h0M229.9 148.3h0M227.7 188.9h0M303.0 120.2h0M247.0 176.0h0M249.6 170.7h0M281.8 167.7h0M278.5 154.3h0M272.4 116.4h0M289.0 126.4h0M239.6 127.0h0M289.3 181.0h0M266.6 155.6h0M291.9 170.7h0M285.3 172.0h0M264.5 189.5h0M244.3 144.8h0M260.1 176.8h0M236.6 183.2h0M281.8 159.8h0M240.3 127.2h0M244.9 141.2h0M278.8 189.3h0M245.6 139.6h0M244.4 181.1h0M230.6 173.4h0M297.8 143.6h0M297.6 161.3h0M256.1 156.5h0M255.5 135.0h0M240.8 133.2h0M264.6 133.6h0M254.7 129.3h0M246.0 177.6h0M281.5 157.7h0M299.1 151.5h0M275.4 186.7h0M238.9 183.8h0M274.5 176.6h0M237.9 165.6h0M301.5 138.0h0M288.4 187.0h0M276.7 185.3h0M232.9 164.3h0M230.9 151.2h0M229.6 156.4h0M302.5 150.1h0M303.8 128.0h0M240.7 189.7h0M260.1 139.9h0M303.0 124.5h0M307.8 129.4h0M269.2 160.2h0M297.3 161.5h0M280.9 172.3h0M229.3 128.3h0M257.1 137.8h0M241.2 187.2h0M265.0 167.4h0M260.4 188.1h0M263.9 150.6h0M305.2 136.9h0M248.0 157.3h0M300.5 163.6h0M261.5 130.8h0M287.9 120.4h0M251.3 151.1h0M250.0 174.6h0M285.7 126.0h0M300.9 121.5h0M229.1 136.5h0M301.6 162.1h0M247.3 158.0h0M262.4 186.3h0M307.7 173.6h0M270.5 180.0h0M294.0 160.4h0M244.2 184.9h0M278.6 116.2h0M261.9 123.2h0M260.2 178.2h0M265.4 147.5h0M305.0 148.6h0M295.2 166.9h0M230.1 162.4h0M226.9 120.5h0M247.8 148.8h0M298.9 155.1h0M266.6 129.6h0M297.5 165.6h0M299.6 173.8h0M284.2 180.5h0M253.4 132.6h0M238.6 141.5h0M299.6 117.9h0M265.4 117.5h0M295.4 183.0h0M248.3 144.4h0M305.8 159.5h0M274.2 151.5h0M280.9 168.1h0M291.3 124.1h0M299.2 132.0h0M268.3 165.6h0M269.0 165.7h0M289.7 123.2h0M303.6 179.9h0M240.8 167.7h0M291.2 154.7h0M277.9 165.4h0M273.4 179.4h0M263.7 120.8h0M267.1 175.4h0M251.6 184.3h0M303.8 173.3h0M284.2 190.5h0M274.7 136.3h0M260.8 185.1h0M283.4 185.4h0M232.7 171.4h0M251.1 125.7h0M288.0 155.9h0M286.4 155.8h0M302.3 189.6h0M305.5 161.8h0M261.0 118.9h0M286.5 144.7h0M260.2 123.4h0M296.0 155.6h0M250.1 144.6h0M296.6 126.0h0M229.2 120.5h0M299.3 139.4h0M252.8 129.2h0M292.4 155.7h0M270.3 187.7h0M303.2 175.4h0M293.6 181.9h0M228.8 141.8h0M260.6 116.5h0M291.9 166.9h0M292.1 140.1h0M228.3 181.0h0M300.1 168.6h0M272.2 139.8h0M308.4 174.5h0M259.0 145.4h0M256.5 120.9h0M289.2 148.8h0M254.7 135.0h0M232.8 133.5h0M247.7 166.5h0M273.5 163.6h0M256.7 161.3h0M295.0 167.4h0M234.2 129.8h0M277.4 188.3h0M294.5 138.2h0M236.4 186.3h0M289.9 136.2h0M265.4 122.0h0M293.3 139.3h0M258.2 132.7h0M233.4 171.1h0M268.1 143.3h0M282.0 189.9h0M275.7 180.2h0M232.5 132.7h0M252.4 147.4h0M238.2 163.4h0M298.9 135.5h0M233.5 156.8h0M245.5 162.7h0M231.6 155.8h0M305.7 184.1h0M268.6 134.1h0M278.8 155.2h0M245.7 122.7h0M290.0 143.8h0M248.1 131.3h0M257.3 122.4h0M291.1 158.4h0M282.4 184.3h0M247.5 178.0h0M243.8 137.1h0M251.7 181.5h0M270.3 157.4h0M301.6 141.7h0M274.1 142.8h0M239.4 186.2h0M307.1 182.2h0M293.7 181.7h0M295.4 151.6h0M270.1 138.3h0M296.2 137.5h0M243.9 118.1h0M288.3 138.6h0M306.4 126.6h0M280.8 182.2h0M302.0 138.0h0M252.7 182.2h0M239.9 164.3h0M285.4 145.7h0M262.0 171.3h0M284.0 131.9h0M265.7 190.6h0M241.6 121.6h0M279.8 164.5h0M264.3 184.9h0M271.6 126.4h0M244.2 118.3h0M233.7 189.1h0M302.2 179.9h0M252.3 189.5h0M305.7 142.4h0M254.1 174.4h0M228.6 185.4h0M299.6 171.1h0M236.1 138.0h0M288.2 124.5h0M241.7 164.2h0M272.4 135.0h0M258.6 159.2h0M252.2 133.3h0M297.0 135.6h0M275.1 169.1h0M280.2 166.4h0M295.6 127.4h0M249.0 187.3h0M274.1 167.5h0M266.8 169.8h0M274.6 146.7h0M306.8 148.8h0M236.9 129.8h0M254.2 181.9h0M287.9 168.8h0M301.6 122.8h0M282.4 125.4h0M253.1 167.2h0M279.1 135.8h0M231.4 170.4h0M287.6 166.3h0M230.0 134.5h0M227.7 181.9h0M274.9 156.4h0M305.0 189.0h0M246.4 176.1h0M281.8 118.7h0M280.9 140.9h0M265.3 165.5h0M237.6 124.9h0M278.2 176.5h0M279.1 141.4h0M301.2 134.7h0M306.2 136.8h0M302.4 144.0h0M303.5 177.6h0" stroke="#9a9a9a" stroke-width="0.80" stroke-linecap="round" fill="none" opacity="1"/><path d="M239.9 133.4h0M256.3 149.5h0M251.2 133.8h0M258.5 152.4h0M247.2 153.6h0M258.4 145.9h0M254.0 147.4h0M256.1 123.7h0M262.6 131.8h0M254.3 136.4h0M244.0 155.9h0M231.0 135.5h0M253.5 167.4h0M263.1 136.8h0M251.0 156.2h0M245.6 148.7h0M238.7 148.3h0M252.0 150.6h0M237.8 155.0h0M253.2 161.2h0M238.1 185.4h0M259.4 157.5h0M248.0 163.6h0M246.0 156.5h0M251.7 140.5h0M264.2 135.0h0M247.1 139.4h0M255.9 153.8h0M253.0 137.4h0M253.0 133.0h0M251.6 145.2h0M244.2 155.7h0M241.5 143.9h0M233.5 137.8h0M247.4 124.8h0M252.0 147.9h0M243.4 130.4h0M264.6 145.8h0M246.0 130.9h0M243.3 132.4h0M252.1 136.0h0M251.6 163.2h0M251.2 177.4h0M252.6 148.1h0M249.0 163.4h0M265.7 151.1h0M266.2 148.4h0M252.4 159.2h0M264.4 129.4h0M256.4 156.3h0M253.4 160.1h0M247.2 149.0h0M266.4 158.5h0M250.9 149.1h0M250.3 135.2h0M246.7 142.2h0M247.6 150.1h0M240.4 154.5h0M255.4 142.6h0M250.4 133.3h0M257.1 151.1h0M257.8 148.9h0M264.6 155.0h0M255.0 135.4h0M251.9 145.5h0M249.9 150.6h0M250.3 158.2h0M251.4 144.9h0M254.2 139.4h0M245.5 145.1h0M250.8 150.7h0M257.4 155.5h0M240.9 151.2h0M248.2 153.3h0M257.2 149.7h0M250.4 125.1h0M243.8 122.8h0M246.2 135.0h0M255.9 140.9h0M261.9 148.9h0M257.1 143.1h0M246.6 145.8h0M245.8 139.6h0M261.1 161.7h0M256.5 136.8h0M253.1 154.7h0M250.0 133.6h0M254.2 155.5h0M238.7 127.6h0M263.3 156.0h0M253.0 154.2h0M252.1 140.1h0M251.0 157.5h0M249.5 136.7h0M250.6 160.7h0M249.5 128.7h0M251.8 156.9h0M249.9 139.8h0M254.3 147.9h0M253.5 154.6h0M257.8 169.9h0M244.3 135.5h0M246.7 142.4h0M241.4 161.8h0M262.1 128.9h0M247.2 167.3h0M249.7 135.9h0M246.1 134.4h0M251.3 128.1h0M250.5 163.5h0M243.0 151.4h0M256.6 138.1h0M258.1 135.3h0M251.7 160.9h0M241.2 153.5h0M242.8 125.4h0M238.4 164.2h0M256.8 147.5h0M246.8 156.3h0M250.0 174.2h0M256.5 135.8h0M246.7 157.0h0M246.5 163.3h0M263.5 178.4h0M247.3 160.6h0M241.5 141.9h0M252.5 152.4h0M259.9 116.8h0M247.2 148.0h0M254.2 146.9h0M253.7 131.2h0M240.5 142.4h0M262.5 140.3h0M248.2 150.0h0M242.2 140.5h0M232.1 140.3h0M248.4 140.3h0M233.6 156.0h0M258.7 139.8h0M246.6 168.8h0M262.4 147.7h0M245.9 171.2h0M262.1 147.8h0M250.7 139.0h0M249.5 147.2h0M246.5 149.6h0M256.9 155.7h0M255.2 138.7h0M242.7 165.0h0M250.7 170.5h0M258.3 136.0h0M249.6 130.4h0M251.8 170.0h0M252.8 177.2h0M252.7 154.3h0M261.9 128.1h0M269.8 152.7h0M255.5 138.8h0M251.4 161.0h0M243.5 158.7h0M239.6 186.3h0M253.5 146.6h0M248.6 147.8h0M261.0 147.5h0M245.8 144.8h0M254.2 137.8h0M251.4 133.3h0M252.5 152.1h0M232.6 164.2h0M242.1 155.0h0M234.7 141.1h0M247.8 141.7h0M255.0 123.2h0M241.4 146.2h0M257.0 150.6h0M244.9 131.9h0M248.4 146.7h0M249.1 168.9h0M250.1 156.9h0M255.0 172.5h0M236.4 144.0h0M243.1 168.0h0M245.5 150.0h0M245.7 141.7h0M252.4 142.3h0M240.5 159.6h0M249.5 155.8h0M248.2 164.9h0M248.7 123.5h0M253.4 153.9h0M257.9 144.3h0M226.9 140.9h0M239.2 142.1h0M241.5 137.9h0M246.7 150.3h0M248.1 167.5h0M243.3 133.1h0M247.7 153.6h0M260.1 144.6h0M246.9 149.3h0M249.2 150.2h0M243.4 134.1h0M244.4 156.7h0M241.7 149.0h0M245.8 127.1h0M242.2 155.4h0M252.0 149.6h0M241.8 122.3h0M245.8 130.1h0M259.5 146.9h0M249.6 146.5h0M262.4 172.1h0M242.9 144.1h0M249.9 134.8h0M262.2 170.0h0M268.3 131.3h0M248.9 171.3h0M250.2 173.4h0M264.8 150.3h0M246.4 135.3h0M241.5 172.1h0M241.1 160.2h0M249.1 135.0h0M249.8 141.0h0M256.9 123.8h0M241.2 157.8h0M249.3 161.6h0M245.0 121.2h0M253.8 160.0h0M244.0 134.8h0M252.7 139.9h0M240.2 142.0h0M243.6 144.7h0M251.4 133.2h0M242.4 148.1h0M261.7 151.0h0M249.4 162.4h0M246.1 145.1h0M253.2 143.6h0M249.1 123.1h0M251.0 156.3h0M249.4 154.1h0M245.2 156.7h0M244.6 142.6h0M240.0 161.7h0M235.3 147.6h0M259.6 161.2h0M254.7 144.6h0M248.4 140.1h0M242.0 122.8h0M250.4 141.8h0M255.5 153.3h0M257.5 149.5h0M251.6 145.5h0M238.2 151.1h0M255.8 136.6h0M258.6 158.5h0M243.9 143.9h0M253.9 151.7h0M245.1 147.3h0M240.8 140.9h0M247.8 153.5h0M246.9 140.7h0M251.5 136.9h0M245.6 126.7h0M252.1 170.2h0M255.2 146.0h0M246.7 133.3h0M248.3 130.2h0M257.2 138.0h0M247.9 149.5h0M246.6 166.1h0M246.1 158.4h0M259.1 153.3h0M248.1 153.8h0M243.7 137.4h0M259.2 170.0h0M258.8 172.3h0M258.7 119.5h0M259.8 165.0h0M255.2 165.6h0M251.2 138.0h0M252.7 161.9h0M244.5 172.1h0M249.8 154.9h0M244.6 157.7h0M252.6 162.1h0M240.6 152.4h0M253.5 143.7h0M248.5 178.2h0M250.5 134.6h0M248.2 153.7h0M239.5 132.1h0M226.3 128.5h0M237.9 162.6h0M252.6 158.6h0M241.1 161.7h0M251.3 141.3h0M253.8 143.6h0M244.9 149.1h0M253.1 142.6h0M247.4 146.4h0M253.6 169.0h0M245.5 143.5h0M254.2 146.6h0M245.5 136.2h0M248.1 125.6h0M249.5 152.3h0M251.5 146.5h0M246.8 170.1h0M240.1 132.8h0M256.9 149.7h0M252.7 163.3h0M248.1 136.7h0M256.3 163.0h0M251.2 139.4h0M251.2 152.9h0M243.7 123.8h0M260.1 144.2h0M259.7 157.1h0M246.3 165.0h0M249.9 161.0h0M246.7 164.5h0M251.7 138.0h0M248.1 150.6h0M244.3 137.8h0M251.1 138.2h0M238.3 173.7h0M244.4 154.5h0M246.0 142.8h0M249.8 156.9h0M245.0 152.8h0M242.6 159.6h0M252.9 163.1h0M244.5 145.1h0M238.5 145.4h0M242.1 129.8h0M240.0 128.2h0M258.2 165.6h0M242.5 130.4h0M255.3 150.8h0M258.3 151.8h0M254.3 154.1h0M245.9 129.2h0M249.9 167.7h0M239.5 158.9h0M245.1 126.2h0M250.3 162.9h0M245.3 163.2h0M259.2 152.0h0M260.5 145.6h0M253.1 140.3h0M252.7 146.2h0M250.2 162.4h0M259.5 156.6h0M247.0 147.1h0M250.0 156.9h0M249.3 149.7h0M252.7 167.5h0M260.3 145.4h0M263.0 158.0h0M246.3 140.1h0M245.9 149.1h0M235.4 157.9h0M264.7 134.5h0M261.3 138.3h0M260.5 161.6h0M249.5 159.0h0M254.0 148.6h0M253.0 169.7h0M242.4 174.8h0M255.3 132.9h0M241.9 139.5h0M259.6 145.3h0M257.6 124.9h0M253.3 137.5h0M261.4 177.2h0M250.7 160.4h0M262.3 154.9h0M258.6 147.2h0M251.5 134.1h0M242.0 156.2h0M249.5 139.6h0M254.8 134.6h0M248.8 158.9h0M253.3 142.9h0M249.5 145.4h0M242.1 127.6h0M244.6 156.3h0M252.3 152.1h0M240.2 155.2h0M253.9 138.7h0M244.5 136.6h0M253.9 139.7h0M255.5 146.2h0M250.7 161.2h0M255.0 148.5h0M243.9 146.6h0M248.1 155.8h0M251.6 135.0h0M243.2 163.2h0M251.1 149.4h0M250.1 128.6h0M247.5 132.0h0M249.8 156.1h0M239.2 148.2h0M236.6 148.0h0M251.9 145.3h0M247.5 132.1h0M251.4 148.8h0M249.2 140.0h0M233.1 150.2h0M252.3 159.0h0M262.0 128.6h0M248.6 155.6h0M252.9 129.1h0M244.9 140.1h0M248.6 139.7h0M245.2 178.3h0M251.1 163.7h0M243.8 169.1h0M249.1 120.3h0M242.3 143.5h0M244.7 161.0h0M244.4 159.3h0M241.0 155.8h0M236.0 156.3h0M242.9 159.5h0M247.9 155.2h0M242.3 146.6h0M241.9 167.8h0M244.9 132.9h0M257.9 142.1h0M243.8 144.9h0M250.6 167.0h0M249.5 162.2h0M253.1 144.9h0M251.3 166.3h0M248.5 128.8h0M259.6 117.7h0M248.8 150.0h0M249.3 148.6h0" stroke="#8c8c8c" stroke-width="0.90" stroke-linecap="round" fill="none" opacity="1"/><linearGradient id="gg" x1="0" y1="0" x2="0" y2="1"><stop offset="0" stop-color="#969696"/><stop offset="0.3" stop-color="#828282"/><stop offset="0.7" stop-color="#727272"/><stop offset="1" stop-color="#6e6e6e"/></linearGradient><path d="M259 123C260.1 121.9 261.2 121 263 120.5C264.8 120 267.9 119.9 270 120C272.1 120.1 274.1 120.4 275.5 121.2C276.9 122 277.7 122.7 278.5 125C279.3 127.3 280 131.2 280.5 135C281 138.8 281.5 143.8 281.5 148C281.5 152.2 281.4 157 280.5 160C279.6 163 279.1 165 276 166C272.9 167 265.2 167 262 166C258.8 165 258.1 163 257 160C255.9 157 255.8 152.2 255.5 148C255.2 143.8 255.3 138.5 255.5 135C255.7 131.5 255.9 129 256.5 127C257.1 125 257.9 124.1 259 123Z" fill="url(#gg)" filter="url(#b08)"/><path d="M273.5 128.3h0M270.5 141.0h0M276.4 141.6h0M278.3 139.0h0M260.2 141.4h0M263.5 148.5h0M261.7 138.8h0M272.6 160.7h0M268.3 160.6h0M274.2 148.4h0M268.8 139.6h0M259.6 159.2h0M265.9 157.7h0M260.0 144.3h0M255.5 146.7h0M279.6 143.9h0M262.8 144.7h0M264.3 137.9h0M272.4 142.3h0M279.4 150.1h0M267.1 162.4h0M277.3 129.1h0M278.2 149.3h0M270.7 129.4h0M271.0 122.3h0M275.7 164.8h0M272.4 153.2h0M258.6 149.8h0M262.8 163.1h0M274.0 127.5h0M269.4 120.2h0M264.0 160.6h0M274.5 141.9h0M270.6 132.2h0M257.5 159.5h0M273.7 122.1h0M266.8 151.8h0M276.0 160.3h0M258.6 155.0h0M265.3 133.4h0M256.0 131.5h0M269.6 158.1h0M260.3 131.7h0M272.3 132.4h0M265.9 153.1h0M262.1 122.1h0M280.9 143.8h0M265.1 130.2h0M276.0 164.6h0M269.5 130.4h0M258.6 141.6h0M267.3 141.6h0M274.4 139.1h0M268.7 159.8h0M273.0 126.2h0M277.3 123.8h0M268.8 130.9h0M269.6 137.3h0M260.4 162.5h0M273.3 160.5h0M267.8 133.3h0M278.0 128.9h0M280.5 157.3h0M258.4 136.8h0M269.9 161.4h0M271.3 162.9h0M262.9 129.5h0M264.2 139.0h0M271.2 158.5h0M259.5 139.3h0M278.6 147.2h0M277.0 135.7h0M279.9 137.4h0M257.9 145.2h0M261.7 137.5h0M267.4 147.8h0M264.3 158.4h0M278.0 126.7h0M268.6 151.1h0M275.8 150.9h0M256.3 145.5h0M263.9 143.6h0M277.2 123.8h0M264.9 165.4h0M264.0 127.3h0M276.0 131.6h0M271.8 152.2h0M273.6 140.3h0M271.5 160.8h0M258.1 159.3h0M276.3 157.8h0M260.7 131.2h0M263.7 155.0h0M266.7 121.9h0M259.4 139.0h0M256.7 148.9h0M255.6 139.6h0M277.0 152.5h0M276.2 162.9h0M270.3 152.3h0M264.2 138.4h0M276.2 146.6h0M271.8 152.1h0M263.5 150.2h0M272.2 152.2h0M262.0 149.6h0M269.7 139.3h0M268.4 163.1h0M259.7 147.6h0M273.8 138.8h0M260.9 124.8h0M260.9 126.8h0M274.9 123.3h0M266.7 140.1h0M264.2 125.2h0M279.7 156.7h0M267.1 142.4h0M278.6 162.2h0M266.0 165.2h0M274.2 160.6h0M268.2 147.5h0M279.6 137.2h0M257.4 135.8h0M268.1 129.3h0M277.5 155.1h0M273.1 151.6h0M274.0 127.7h0M271.7 165.2h0M262.6 158.6h0M272.0 142.3h0M271.1 136.6h0M279.5 160.3h0M280.1 152.0h0M261.0 135.9h0M277.6 154.0h0M275.4 151.7h0M268.6 153.4h0M269.3 148.8h0M272.0 145.2h0M268.9 123.9h0M262.3 121.2h0M278.0 153.5h0M265.3 157.3h0M272.5 160.0h0M261.1 149.7h0M272.1 134.3h0M272.0 149.5h0M258.5 150.0h0M278.1 131.5h0M265.7 141.2h0M266.0 154.0h0M269.0 149.3h0M273.7 123.1h0M277.9 139.3h0M276.9 147.1h0M262.2 158.4h0M269.9 131.3h0M265.2 145.4h0M265.5 122.5h0M257.0 150.9h0M266.4 127.2h0M258.0 156.3h0M267.5 147.2h0M268.7 150.2h0M276.5 157.2h0M268.6 163.3h0M270.0 131.5h0M280.5 143.8h0M267.3 157.4h0M274.1 135.6h0M269.9 126.7h0M267.5 127.2h0M270.5 155.9h0M256.6 127.6h0M264.8 146.8h0M270.4 151.8h0M277.4 159.8h0M273.7 147.2h0M277.4 127.9h0M260.6 160.3h0M258.7 155.5h0M270.6 121.4h0M271.4 144.9h0M273.7 126.0h0M265.1 140.5h0M266.1 123.9h0M269.5 150.2h0M275.6 161.6h0M277.1 158.3h0M258.2 141.4h0M266.5 152.6h0M261.8 153.5h0M264.5 164.8h0M266.6 151.0h0M267.5 158.6h0M276.5 136.2h0M278.2 150.8h0M268.3 156.9h0M263.5 150.1h0M273.8 165.4h0M271.2 128.5h0M277.6 146.0h0M275.8 125.2h0M268.9 122.7h0M278.6 141.7h0M268.5 165.9h0M278.3 147.4h0M279.0 161.2h0M267.6 141.8h0M256.4 139.8h0M260.8 130.0h0M271.2 122.2h0M256.4 147.5h0M258.1 142.7h0M274.7 143.6h0M260.5 141.0h0M267.7 149.2h0M279.1 153.7h0M267.2 127.4h0M278.4 141.5h0M276.6 129.8h0M275.0 137.5h0M275.1 128.2h0M275.1 164.6h0M276.0 151.2h0M275.0 140.6h0M262.0 127.7h0M269.8 141.9h0M266.1 133.9h0M263.0 129.8h0M275.1 125.4h0M280.1 152.3h0M271.9 162.5h0M271.6 138.3h0M263.2 149.8h0M276.3 158.9h0M259.7 153.9h0M276.2 152.3h0M274.2 163.3h0M279.9 136.8h0M266.0 139.6h0M266.9 147.4h0M276.9 140.9h0M267.2 137.4h0M269.8 131.0h0M268.1 151.0h0M267.8 123.8h0M259.1 159.7h0M275.6 128.5h0M266.8 146.5h0M272.9 139.8h0M256.2 148.5h0M270.7 134.0h0M261.7 150.1h0M278.9 154.5h0M277.2 133.8h0M277.1 128.4h0M267.7 143.3h0M262.9 163.6h0M275.3 132.0h0M261.2 123.3h0M265.2 127.5h0M262.8 140.5h0M274.6 164.0h0M280.4 135.9h0M262.0 122.9h0M265.2 137.7h0M258.7 131.7h0M279.5 138.9h0M277.2 157.7h0M262.2 134.4h0M267.9 127.7h0M259.1 138.4h0M266.9 127.6h0M273.2 165.6h0M263.1 164.5h0M267.4 162.0h0M265.3 165.4h0M257.3 155.0h0M278.2 158.9h0M273.4 162.9h0M263.5 124.5h0M260.0 129.3h0M261.8 161.8h0M270.3 136.9h0M262.5 125.7h0M271.3 133.4h0M259.3 137.3h0M280.3 136.5h0M277.3 153.2h0M277.2 139.6h0M279.5 133.6h0M270.5 127.3h0M265.6 129.7h0M275.6 142.6h0M275.2 163.3h0M266.7 121.6h0M279.0 158.5h0M264.1 152.9h0M279.2 146.7h0M276.0 155.6h0M278.0 132.9h0M258.4 147.1h0M270.5 158.4h0M280.6 142.0h0M276.9 141.9h0M258.6 161.0h0M281.1 146.0h0M271.7 126.8h0M280.6 153.8h0M269.9 154.4h0M277.5 126.2h0M275.6 150.2h0M257.2 128.9h0M275.3 146.0h0M265.1 138.0h0M264.6 165.3h0M265.2 145.2h0M266.1 151.6h0M263.6 130.4h0M260.9 152.5h0M274.5 165.9h0M272.9 129.8h0M269.4 131.9h0M275.6 122.1h0M260.2 135.9h0M256.2 142.1h0M271.7 129.5h0M277.3 162.8h0M258.6 124.9h0M265.5 154.9h0M273.8 143.7h0M257.1 143.5h0M260.4 129.8h0M260.8 160.7h0M265.3 130.8h0M275.3 136.6h0M270.0 123.4h0M267.4 132.4h0M278.4 130.2h0M268.1 145.7h0M273.7 131.3h0M263.1 121.9h0M278.9 141.2h0M270.5 161.2h0M257.1 151.8h0M275.5 147.0h0M268.0 133.0h0M268.1 155.9h0M260.1 157.0h0M281.0 150.4h0M263.0 163.4h0M264.4 145.1h0M262.9 125.0h0M275.3 158.9h0M275.9 165.3h0M273.3 150.5h0M264.3 149.3h0M271.9 150.4h0M261.0 138.9h0M259.8 148.8h0M272.8 139.9h0M258.9 149.5h0M280.0 158.0h0M259.4 133.2h0M278.6 126.7h0M261.5 150.4h0M267.4 139.4h0M261.9 137.8h0M278.7 130.3h0M265.5 135.1h0M274.2 136.4h0M266.3 154.7h0M264.2 153.4h0M273.1 143.5h0M263.9 120.9h0M274.3 134.5h0M260.5 130.2h0M257.0 140.0h0M259.5 161.9h0M272.7 145.3h0M273.8 151.4h0M279.2 149.1h0M274.3 147.7h0M258.4 159.9h0M277.7 162.4h0M274.8 136.5h0M271.5 149.2h0M259.9 160.4h0M257.6 149.6h0M279.6 150.2h0M276.0 144.6h0M269.5 121.3h0M274.1 127.3h0M271.5 163.7h0M264.3 122.0h0M267.9 161.9h0M257.9 155.1h0M258.8 131.1h0M269.8 164.1h0M274.2 139.8h0M262.4 125.6h0M259.8 152.8h0M258.6 155.9h0M256.2 139.1h0M272.0 161.1h0M271.4 157.6h0M271.7 129.0h0M278.8 145.2h0M273.5 130.4h0M276.5 133.0h0M275.6 128.5h0M269.8 161.9h0M272.6 143.8h0M274.1 146.4h0M266.6 147.3h0M276.5 138.2h0M264.5 141.8h0M277.1 132.3h0M275.6 125.2h0M275.0 143.9h0M280.8 154.4h0M281.0 152.3h0M274.3 144.6h0M279.4 151.1h0M279.1 140.8h0M272.7 145.4h0M264.8 135.2h0M278.7 151.5h0M276.5 135.0h0M255.5 145.4h0M276.0 123.4h0M255.7 137.1h0M275.3 162.2h0M276.4 135.8h0M274.9 154.2h0M273.5 147.2h0M256.9 149.5h0M274.6 149.4h0M267.5 125.1h0M277.8 125.8h0M267.7 162.6h0M259.2 127.1h0M263.3 148.7h0M255.9 149.7h0M271.5 143.8h0M274.7 125.7h0M276.7 152.2h0M271.9 130.8h0M277.8 126.8h0" stroke="#666" stroke-width="0.90" stroke-linecap="round" fill="none" opacity="1"/><path d="M269.3 129.4h0M262.9 130.7h0M257.4 129.4h0M263.1 129.2h0M261.2 133.8h0M278.2 133.9h0M275.6 130.7h0M267.1 126.8h0M267.6 131.2h0M274.7 129.5h0M268.5 123.5h0M274.3 126.0h0M269.7 129.0h0M268.3 133.0h0M261.4 132.2h0M271.4 124.5h0M274.4 122.9h0M267.9 120.7h0M267.0 134.0h0M266.6 133.3h0M277.6 130.2h0M263.2 127.3h0M278.1 133.2h0M265.6 131.5h0M275.5 124.0h0M271.6 129.3h0M270.1 134.4h0M266.5 126.3h0M270.9 127.7h0M278.1 132.8h0M277.0 132.7h0M257.2 133.3h0M266.3 123.1h0M270.9 134.5h0M274.5 128.0h0M258.0 131.6h0M275.3 122.4h0M270.4 132.2h0M277.5 127.4h0M257.5 128.7h0M269.5 129.0h0M273.7 127.0h0M271.8 127.4h0M270.4 128.8h0M278.1 128.4h0M267.7 124.8h0M263.8 129.1h0M269.3 126.7h0M263.1 123.5h0M276.1 126.2h0M268.0 120.8h0M266.0 127.8h0M263.6 133.9h0M258.8 134.1h0M270.9 122.9h0M276.5 132.5h0M264.1 131.5h0M259.4 132.0h0M270.2 124.7h0M268.8 132.9h0M273.3 132.6h0M261.9 127.7h0M274.1 129.8h0M276.3 129.3h0M267.6 122.2h0M265.2 124.5h0M269.3 129.7h0M258.5 131.6h0M259.2 124.8h0M257.5 129.0h0M274.7 129.0h0M273.9 133.3h0M263.0 122.8h0M277.1 132.8h0M263.8 127.9h0M265.7 124.5h0M264.9 124.9h0M259.2 129.7h0M260.6 128.5h0M278.0 126.6h0M264.4 133.0h0M259.9 130.1h0M259.9 126.4h0M259.8 134.4h0M270.8 128.9h0M275.7 128.7h0M272.2 125.2h0M263.8 122.3h0M273.8 133.0h0M266.9 132.9h0M270.3 133.4h0M273.6 122.5h0M268.0 128.7h0M264.8 133.8h0M275.2 130.8h0M273.2 126.7h0M259.5 129.7h0M267.4 130.2h0M276.5 128.5h0M261.6 128.9h0M273.2 121.4h0M276.5 124.5h0M260.2 125.1h0M268.3 128.7h0M257.7 131.8h0M266.8 134.1h0M261.8 131.7h0M265.4 132.7h0M267.4 133.6h0M260.4 132.3h0M274.6 124.2h0M258.5 131.5h0M265.3 131.2h0M276.2 128.1h0M265.1 123.0h0M270.2 132.6h0M267.4 123.0h0M266.6 122.8h0M264.7 126.6h0M277.1 126.8h0" stroke="#bdbdbd" stroke-width="0.90" stroke-linecap="round" fill="none" opacity="0.8"/><path d="M275.7 139.7h0M266.0 149.4h0M275.2 155.0h0M259.9 128.4h0M262.3 150.6h0M267.4 162.3h0M280.6 149.5h0M267.9 150.3h0M274.1 125.1h0M264.6 133.5h0M271.0 138.1h0M260.6 126.3h0M276.3 156.1h0M257.4 147.1h0M261.2 140.8h0M276.1 162.5h0M278.8 154.6h0M271.0 158.5h0M263.7 124.7h0M268.7 123.4h0M267.9 142.1h0M277.4 126.8h0M264.9 125.4h0M271.8 143.9h0M279.7 151.3h0M268.5 162.2h0M273.5 148.9h0M257.8 149.4h0M279.9 155.4h0M280.5 144.2h0M259.3 126.7h0M267.9 156.0h0M269.0 121.4h0M263.3 146.6h0M270.8 141.2h0M268.1 133.0h0M258.3 129.4h0M272.8 131.4h0M259.2 138.0h0M279.9 139.1h0M277.2 141.7h0M260.6 159.1h0M279.4 146.5h0M273.2 145.2h0M270.1 144.5h0M261.7 150.5h0M277.2 126.7h0M277.0 152.9h0M274.0 153.9h0M278.5 132.8h0M271.3 150.9h0M268.2 122.0h0M259.1 146.5h0M260.0 129.8h0M272.5 125.0h0M270.8 125.5h0M267.7 155.0h0M269.8 129.8h0M275.5 123.6h0M276.3 150.0h0M273.8 162.1h0M273.2 141.0h0M266.9 148.0h0M268.3 134.6h0M264.1 160.7h0M275.0 145.7h0M265.8 142.7h0M279.6 151.1h0M268.9 154.2h0M273.6 129.2h0M276.9 153.5h0M263.1 134.7h0M258.5 158.4h0M259.6 152.2h0M260.5 154.6h0M263.3 137.0h0M260.7 138.3h0M264.5 158.0h0M270.5 162.2h0M259.4 132.5h0" stroke="#aaaaaa" stroke-width="0.90" stroke-linecap="round" fill="none" opacity="0.8"/><path d="M273.7 123.2h0M257.4 125.7h0M256.3 159.7h0M271.1 167.0h0M270.4 119.9h0M260.8 122.8h0M270.7 123.2h0M278.1 125.6h0M278.6 144.3h0M271.5 121.2h0M282.4 159.0h0M281.4 161.0h0M282.3 161.3h0M257.6 137.2h0M278.7 132.1h0M272.2 168.6h0M255.0 133.5h0M258.3 165.5h0M278.4 162.8h0M255.0 140.7h0M267.1 121.0h0M263.1 166.2h0M261.7 121.3h0M258.3 127.1h0M253.8 156.3h0M271.8 122.1h0M256.4 123.7h0M279.2 139.8h0M265.1 122.3h0M272.3 121.1h0M285.0 134.9h0M260.2 136.0h0M262.9 165.3h0M280.7 124.4h0M254.1 155.1h0M255.5 151.2h0M283.7 157.5h0M276.1 166.2h0M261.5 125.5h0M277.7 126.8h0M260.9 121.1h0M272.9 123.8h0M275.3 162.6h0M253.8 129.5h0M280.1 132.8h0M275.5 165.5h0M259.7 161.6h0M256.8 125.6h0M280.4 161.5h0M253.3 130.0h0M265.3 120.8h0M279.7 158.0h0M267.5 122.1h0M256.3 154.4h0M258.6 122.7h0M272.9 117.4h0M259.2 164.3h0M253.4 144.3h0M277.3 136.3h0M257.4 163.7h0M257.5 161.5h0M256.4 144.6h0M260.2 161.4h0M258.4 122.0h0M260.3 157.9h0M283.2 146.0h0M270.7 118.1h0M259.3 124.3h0M256.1 157.6h0M270.8 119.4h0M263.6 122.0h0M272.3 163.6h0M262.9 123.9h0M263.3 122.0h0M279.8 123.4h0M278.6 155.7h0M279.6 152.0h0M257.2 136.1h0M280.2 121.9h0M254.0 145.6h0M282.8 151.9h0M268.5 166.5h0M260.1 122.2h0M275.9 167.9h0M265.2 119.9h0M276.9 125.4h0M262.0 123.3h0M273.5 167.0h0M260.5 118.4h0M260.1 121.8h0M272.9 122.1h0M265.6 166.2h0M256.3 134.5h0M272.0 122.2h0M262.6 120.5h0M255.5 144.9h0M266.4 164.7h0M278.5 125.9h0M260.4 122.6h0M259.3 120.1h0M258.7 130.9h0M275.6 165.8h0M276.3 168.2h0M281.1 123.7h0M257.4 161.9h0M255.2 144.2h0M258.6 127.4h0M260.3 125.2h0M266.3 120.7h0M253.4 154.0h0M259.6 162.6h0M274.8 120.1h0M266.4 120.6h0M262.3 162.7h0M259.9 163.7h0M257.2 161.0h0M278.8 148.6h0M280.7 160.2h0M279.5 165.7h0M282.8 152.1h0M273.5 122.0h0M262.6 120.4h0M280.2 160.5h0M271.5 124.3h0M283.8 132.9h0M256.5 160.0h0M276.8 125.3h0M276.8 163.1h0M258.0 137.0h0M282.0 153.3h0M252.8 148.9h0M258.0 130.8h0M275.1 121.0h0M263.9 118.1h0M268.2 119.3h0M263.9 119.4h0M277.5 124.4h0M276.8 123.1h0M281.2 157.6h0M263.9 166.5h0M262.4 167.4h0M278.4 130.7h0M257.7 153.0h0M260.1 124.6h0M283.2 155.9h0M274.7 120.8h0M256.6 158.7h0M255.7 131.4h0M276.4 121.9h0M281.2 139.1h0M261.5 122.7h0M255.5 130.8h0M280.2 129.9h0M275.8 165.8h0M261.1 118.0h0M280.4 162.2h0M277.4 165.7h0M254.8 131.8h0M257.0 154.0h0M254.5 125.2h0M263.5 164.0h0M255.0 158.3h0M252.6 150.9h0M260.1 166.5h0M255.6 143.0h0M278.2 132.4h0M281.9 158.4h0M280.3 149.4h0M266.8 119.5h0M257.0 126.2h0M259.4 164.7h0M260.6 120.1h0M279.7 141.1h0M280.4 129.9h0M276.1 166.3h0M280.0 164.6h0M259.1 121.5h0M253.2 139.5h0M275.9 123.8h0M283.3 147.0h0M270.4 117.7h0M277.8 168.2h0M278.5 163.3h0M269.8 122.2h0M279.3 160.8h0M277.3 161.7h0M271.8 120.2h0M269.2 168.1h0M262.6 119.3h0M260.0 168.1h0M280.2 136.4h0M257.9 129.8h0M273.2 121.8h0M273.5 120.3h0M257.3 134.2h0M257.2 135.2h0M267.7 165.8h0M280.1 132.3h0M267.8 165.9h0M279.4 149.0h0M281.5 161.0h0M256.0 138.6h0M264.5 117.8h0M256.1 149.1h0M280.2 132.5h0M259.2 126.5h0M279.9 131.3h0M256.8 123.2h0M274.0 121.1h0M255.5 131.4h0M269.8 120.2h0M255.8 128.9h0M274.1 122.6h0M281.0 157.0h0M279.8 145.1h0M277.2 128.2h0M282.5 157.0h0M271.5 164.2h0M279.0 126.0h0M257.3 124.6h0M267.7 118.7h0M256.8 123.3h0M272.2 120.2h0M276.9 124.8h0M256.5 159.2h0M265.9 119.9h0M256.7 147.8h0M256.3 129.5h0M279.7 158.9h0M257.3 163.3h0M254.5 156.0h0M259.4 122.3h0M252.3 130.7h0M281.2 154.3h0M280.6 146.1h0M259.6 165.8h0M258.3 157.6h0M281.1 130.6h0M269.4 120.0h0M259.8 161.7h0M274.1 124.8h0M262.8 119.3h0M281.3 155.8h0M276.4 166.5h0M260.0 126.0h0M272.2 167.8h0M261.8 163.3h0M261.9 126.3h0M281.8 141.5h0M278.6 135.8h0M269.7 164.7h0M282.3 137.8h0M252.6 132.8h0M256.1 125.8h0M258.7 122.8h0M258.0 125.4h0M260.7 120.0h0M281.1 139.5h0M254.3 132.4h0M277.1 139.0h0M284.4 149.3h0M269.6 120.4h0M279.4 122.1h0M275.6 120.7h0M280.0 134.5h0M277.2 145.5h0M274.0 121.7h0M272.2 121.1h0M280.1 165.1h0M254.5 128.4h0M281.2 136.1h0M255.0 126.5h0M276.1 163.7h0M282.2 153.0h0M255.2 124.2h0M270.1 167.9h0M259.2 139.0h0M282.9 144.8h0M255.8 133.4h0M259.7 123.6h0M281.0 147.1h0M281.0 154.1h0M259.2 125.7h0M276.6 163.4h0M271.4 118.0h0M269.9 120.9h0M274.2 168.1h0M279.4 131.5h0M270.7 121.7h0M275.5 166.1h0M260.4 120.4h0M259.6 124.1h0M279.3 155.6h0M275.5 118.4h0M253.7 129.6h0M254.7 151.2h0M269.5 123.6h0M257.1 141.7h0M280.1 137.1h0M261.2 162.5h0M255.8 147.5h0M254.8 151.5h0M261.5 123.2h0M257.2 160.5h0M254.6 129.2h0M277.8 134.8h0M274.4 120.7h0M259.5 124.9h0M270.4 120.0h0M272.5 122.7h0M275.4 120.6h0M279.0 127.7h0M265.9 167.6h0M257.3 124.8h0M271.2 119.0h0M280.6 147.9h0M268.2 120.8h0M268.2 121.9h0M265.4 166.2h0M279.7 123.6h0M262.3 121.7h0M276.1 124.6h0M265.0 168.0h0M268.4 167.2h0M261.2 122.9h0M280.7 141.5h0M255.8 152.2h0M279.9 152.7h0M269.8 119.6h0M276.4 126.3h0M279.3 129.4h0M277.7 120.5h0M276.6 159.3h0M260.4 122.7h0M279.6 128.5h0M275.9 120.2h0M281.1 158.5h0M273.7 167.4h0M275.8 122.8h0M275.1 165.3h0M259.1 166.7h0M279.0 164.8h0M280.4 155.3h0M264.6 121.0h0M270.3 119.7h0M266.3 120.0h0M254.1 135.5h0M259.7 129.9h0M281.7 144.8h0M282.9 152.0h0M260.9 162.8h0M279.6 166.6h0M280.0 155.9h0M256.7 126.1h0M275.0 166.0h0M252.6 145.4h0M268.3 117.5h0M269.0 170.0h0M257.2 128.6h0M278.7 123.5h0M253.8 145.4h0M258.9 125.4h0M275.5 167.1h0M260.3 124.3h0M269.1 117.5h0M280.5 138.2h0M273.3 123.4h0M270.4 123.9h0M260.1 123.8h0M263.4 120.6h0M281.4 160.0h0M255.7 144.1h0M281.5 131.9h0M274.6 122.0h0M257.1 125.4h0M255.1 150.7h0M262.5 121.6h0M257.1 163.3h0M266.3 118.4h0M272.1 165.8h0M264.0 119.6h0M272.4 120.0h0M252.9 150.2h0M254.7 144.7h0M274.2 119.8h0M278.9 145.1h0M279.4 130.6h0M272.1 123.1h0M262.9 165.1h0M281.1 156.5h0M274.9 163.5h0M259.3 122.4h0M281.2 128.3h0M265.7 120.9h0M256.5 157.0h0M280.8 160.8h0M255.3 155.7h0M268.5 120.7h0M272.8 121.1h0M279.7 164.6h0M270.3 120.7h0M260.1 166.7h0M281.5 140.7h0M270.3 120.3h0M280.6 125.8h0M256.3 139.1h0M265.7 169.4h0M275.6 120.3h0M274.1 164.4h0M282.4 137.5h0M270.0 164.8h0M264.9 120.8h0M259.3 161.6h0M253.4 138.3h0M256.8 125.2h0M263.1 121.7h0M256.7 132.9h0M267.0 120.8h0M280.1 163.0h0M263.2 164.1h0M280.0 130.8h0M257.1 122.9h0M280.6 150.0h0M282.3 150.2h0M257.9 150.2h0M275.4 164.9h0M281.2 157.3h0M256.7 142.0h0M278.7 122.5h0M257.9 162.7h0M281.7 158.4h0M279.9 130.0h0M278.2 124.8h0M261.4 121.9h0M252.9 126.4h0M278.5 144.6h0M255.1 128.8h0M262.9 121.8h0M278.3 137.6h0M256.8 158.9h0M273.7 121.1h0M263.9 120.4h0M277.7 122.0h0M278.0 162.8h0M262.4 164.7h0M253.9 145.0h0M278.1 135.8h0M255.5 140.1h0M264.2 121.9h0M275.0 119.3h0M281.3 147.5h0M280.0 163.7h0M284.9 147.0h0M273.9 118.3h0M279.0 131.9h0M282.4 155.6h0M255.7 154.1h0M269.6 164.2h0M257.4 128.8h0M269.6 163.2h0M273.2 121.8h0M277.9 119.5h0M259.6 120.9h0M260.2 160.8h0M280.3 135.9h0M257.3 132.1h0M254.3 133.1h0M259.8 161.8h0M271.5 121.1h0M265.1 120.7h0M269.0 165.8h0M272.5 120.8h0M278.4 125.9h0M267.3 121.8h0M276.1 120.5h0M278.7 161.5h0M281.2 128.5h0M261.1 162.7h0M276.1 123.0h0M269.8 117.0h0M257.3 137.9h0M256.0 123.9h0M274.8 164.2h0M257.7 130.3h0M280.8 157.8h0M277.3 121.8h0M281.3 157.7h0M275.5 122.6h0M257.1 140.6h0M276.9 120.2h0M285.7 143.1h0M265.3 117.6h0M276.4 163.5h0M283.5 158.0h0M271.1 168.2h0M258.3 126.1h0M274.1 119.1h0M256.9 161.7h0M257.0 158.0h0M260.3 160.3h0M274.7 166.0h0M255.9 129.8h0M283.1 152.3h0M278.7 142.5h0M278.0 145.6h0M265.6 165.4h0M279.7 133.1h0M261.6 121.3h0M281.4 151.0h0M267.0 119.5h0M262.8 119.5h0M254.8 137.4h0M279.8 125.6h0M281.3 161.1h0M284.5 143.9h0M254.6 134.8h0M279.1 135.1h0M277.1 151.8h0M266.4 168.4h0M254.7 154.9h0M272.3 118.5h0M254.5 132.2h0M265.0 166.0h0M280.5 131.2h0M258.2 122.7h0M257.9 124.8h0M280.8 129.6h0M257.4 120.7h0M261.8 163.9h0M279.8 154.6h0M263.4 162.0h0M281.6 142.4h0M275.6 119.7h0M276.5 164.8h0M256.5 131.7h0M268.5 120.6h0M277.8 124.6h0M281.5 135.5h0M264.7 164.1h0M258.9 161.2h0M261.0 122.4h0M280.1 164.5h0M275.0 165.6h0M279.5 132.5h0M272.8 166.0h0M286.0 146.6h0M278.7 163.6h0M276.9 160.1h0M280.2 152.6h0M266.5 165.3h0M278.5 126.7h0M268.8 165.8h0M275.0 122.3h0M268.8 166.3h0M278.0 144.0h0M277.6 123.5h0M257.2 160.3h0M258.3 121.2h0M255.7 161.7h0M272.1 162.9h0M277.7 164.6h0M265.4 122.0h0M261.7 118.8h0M280.9 147.9h0M253.5 125.7h0M282.0 135.6h0M258.9 127.7h0M273.7 163.4h0M253.8 139.5h0M259.5 124.8h0M279.3 155.3h0M274.5 124.7h0M258.9 127.5h0M281.2 149.8h0M268.3 118.8h0M260.6 162.8h0M276.8 125.3h0M281.9 156.8h0M254.5 126.5h0M258.6 145.8h0M266.2 118.1h0M257.1 125.7h0M254.4 145.1h0M260.3 165.9h0M267.4 166.0h0M262.8 120.5h0M278.0 123.2h0M258.1 124.2h0M258.7 128.0h0M278.9 125.8h0M278.1 160.5h0M255.2 149.6h0M253.6 140.6h0M263.3 123.6h0M256.8 129.5h0M258.1 128.7h0M261.6 124.2h0M253.8 159.8h0M277.3 124.1h0M274.6 122.6h0M280.5 153.5h0M280.3 157.8h0M278.5 136.5h0M261.3 124.2h0M258.2 122.3h0M256.3 129.6h0M261.5 124.6h0M254.9 153.2h0M270.5 120.2h0M261.0 123.5h0M263.5 163.6h0M257.4 146.3h0M279.9 159.8h0M279.5 164.4h0M275.5 125.1h0M264.8 119.7h0M278.2 125.0h0M283.4 143.9h0M280.2 163.3h0M257.2 150.8h0M265.8 119.3h0M256.8 159.1h0M263.6 122.4h0M274.3 168.4h0M254.4 135.7h0M282.4 148.4h0M255.2 154.4h0M281.1 151.3h0M282.5 140.9h0M271.0 120.2h0M277.9 128.9h0M268.3 118.2h0M256.7 157.3h0M278.1 143.4h0M262.9 118.8h0M271.8 166.9h0M256.7 126.6h0M279.1 126.9h0M267.5 119.0h0M269.6 117.5h0M277.1 123.1h0M273.1 165.1h0M257.8 158.7h0M277.5 163.7h0M272.6 118.3h0M267.1 119.7h0M279.0 122.8h0M277.4 161.2h0M258.4 124.8h0M258.1 157.8h0" stroke="#7a7a7a" stroke-width="0.90" stroke-linecap="round" fill="none" opacity="1"/><path d="M233.9 183.6h0M239.6 186.8h0M230.7 185.0h0M229.5 181.9h0M237.0 179.7h0M234.0 184.8h0M234.7 186.7h0M234.6 186.9h0M229.6 180.9h0M232.3 182.8h0M231.9 183.4h0M231.3 186.9h0M230.7 179.4h0M236.5 183.4h0M231.2 184.2h0M232.1 186.2h0M231.9 189.2h0M229.5 183.8h0M231.6 187.1h0M231.6 188.2h0M232.0 179.2h0M231.6 184.8h0M234.4 186.5h0M234.4 182.2h0M229.0 183.5h0M239.2 183.9h0M231.8 186.0h0M232.0 185.9h0M232.0 184.0h0M231.4 185.3h0M229.3 189.5h0M231.1 180.3h0M237.1 187.6h0M228.5 184.1h0M235.3 185.6h0M228.3 183.9h0M229.1 180.8h0M233.6 185.8h0M235.2 184.4h0M234.2 180.1h0M236.8 182.4h0M232.3 184.2h0M231.6 183.2h0M230.8 186.0h0M233.8 185.5h0M234.7 185.4h0M228.1 182.9h0M233.6 188.4h0M228.9 188.1h0M237.1 181.5h0M235.8 186.4h0M231.6 181.8h0M231.3 181.0h0M229.8 185.5h0M234.9 182.9h0M227.5 184.7h0M226.8 185.0h0M233.0 187.5h0M227.4 183.2h0M233.8 184.5h0M233.4 185.4h0M232.2 179.8h0M229.4 183.4h0M235.0 185.4h0M242.4 187.6h0M235.5 185.0h0M239.6 182.8h0M230.3 184.4h0M231.2 183.8h0M226.5 186.3h0M236.6 184.3h0M230.7 189.4h0M235.6 185.5h0M233.4 181.7h0M242.0 182.9h0M230.9 184.3h0M229.0 179.3h0M230.5 185.6h0M233.4 182.1h0M238.5 184.8h0M232.2 181.5h0M234.7 182.7h0M231.2 181.8h0M232.8 183.8h0M232.5 183.3h0M234.9 178.2h0M234.6 181.5h0M233.6 185.8h0M231.9 187.0h0M232.8 183.1h0M228.8 183.6h0M228.0 188.7h0M232.8 190.0h0M229.4 184.1h0M234.9 185.4h0M232.3 186.7h0M236.4 182.8h0M233.8 187.1h0M227.2 184.5h0M237.3 187.2h0M229.9 182.2h0M233.4 180.5h0M229.0 182.8h0M230.5 186.5h0M233.8 188.3h0M230.7 186.3h0M231.8 185.6h0M234.5 185.8h0M235.7 180.4h0M232.9 184.6h0M234.1 182.4h0M233.0 180.9h0M235.9 182.9h0M234.6 182.4h0M238.9 183.4h0M236.0 182.0h0M236.6 181.0h0M236.8 183.5h0M231.7 185.6h0M235.6 186.0h0M239.7 180.0h0M231.5 181.1h0M242.5 183.2h0M228.6 185.1h0M240.7 176.0h0M234.2 179.1h0M239.2 181.4h0M230.1 183.2h0M238.4 185.5h0M237.4 185.6h0M230.9 184.9h0M238.3 179.4h0M234.5 181.2h0M230.2 183.3h0M231.5 181.8h0M231.9 185.3h0M233.2 182.1h0M229.3 185.7h0M235.7 186.8h0M231.8 182.0h0M228.3 185.3h0M233.1 184.0h0M227.1 183.9h0M227.2 181.9h0M229.8 182.2h0M233.0 187.9h0M231.0 183.6h0M231.0 182.8h0M227.3 184.1h0M231.6 181.5h0M228.1 187.0h0M227.2 182.4h0M227.1 179.7h0M229.6 177.8h0M227.8 183.0h0M235.1 185.2h0M235.6 184.0h0M236.2 182.8h0M232.9 180.8h0M239.6 186.2h0M237.2 187.4h0M227.8 182.1h0M233.9 183.7h0M228.3 185.3h0M234.3 184.3h0M241.6 180.8h0M239.7 181.0h0M237.7 181.5h0M241.5 181.6h0M230.0 184.2h0M233.6 185.8h0M228.0 186.1h0M227.3 183.8h0M237.7 184.6h0M229.9 182.6h0M233.6 188.1h0M240.3 179.4h0M238.3 181.1h0M235.0 183.9h0M232.4 185.0h0M232.7 182.8h0M231.9 183.8h0M232.3 186.4h0M237.4 181.1h0M236.7 187.5h0M231.6 186.8h0M227.8 186.7h0M227.6 180.5h0M235.3 182.2h0M228.4 187.3h0M234.2 185.2h0M231.3 186.6h0M233.5 185.7h0M232.4 179.9h0M231.3 188.5h0M226.8 183.0h0M230.0 188.8h0M230.2 181.2h0M237.6 186.3h0M234.5 187.1h0M234.9 182.7h0M229.5 186.4h0M228.9 181.3h0M229.5 183.4h0M232.1 179.1h0M229.4 180.6h0M227.1 187.3h0M232.2 184.9h0M230.1 184.9h0M238.0 181.7h0M232.0 182.9h0M231.0 183.9h0M232.4 183.6h0M233.5 184.2h0M229.6 182.8h0M230.6 179.7h0M234.3 184.3h0M238.0 183.2h0M233.0 187.1h0M237.1 182.6h0M233.9 180.3h0M230.7 184.2h0M228.7 181.7h0M229.5 185.6h0M231.1 180.3h0M232.9 184.7h0M232.1 185.6h0M229.5 183.6h0M234.3 184.9h0M236.6 185.6h0M238.9 186.3h0M237.7 181.7h0M231.0 181.7h0M230.7 183.4h0M230.3 186.6h0" stroke="#6e6e6e" stroke-width="1.00" stroke-linecap="round" fill="none" opacity="1"/><path d="M247 184.5C247.8 182.6 251 178.6 252.5 176.2C254 173.8 254.7 171.5 256.2 169.8C257.7 168.1 259.4 166.9 261.7 166.1C264 165.3 268 165 270 165.2C272 165.3 272.9 165.5 273.6 167C274.3 168.5 274.4 172 274.2 174.4C274 176.8 273.4 179.7 272.7 181.7C272 183.7 271.5 185.2 270 186.3C268.5 187.4 266.1 187.7 263.5 188.1C260.9 188.5 257 188.8 254.4 188.7C251.8 188.6 249.2 188.3 248 187.6C246.8 186.9 246.2 186.4 247 184.5Z" fill="#48c048" stroke="none" stroke-width="0.8" opacity="1"/><path d="M271.0 175.8h0M249.8 180.9h0M251.7 185.8h0M269.5 185.7h0M273.7 174.2h0M261.2 186.4h0M265.1 170.0h0M259.8 175.5h0M268.6 183.4h0M268.4 171.3h0M262.6 183.6h0M264.4 178.1h0M267.9 177.2h0M260.5 173.3h0M259.8 172.7h0M260.9 174.2h0M271.1 165.8h0M261.0 167.3h0M265.7 186.7h0M261.8 182.6h0M272.7 167.5h0M258.1 187.8h0M264.5 175.7h0M262.2 178.8h0M251.9 180.0h0M253.8 185.6h0M255.7 185.2h0M264.8 185.9h0M264.7 170.7h0M265.0 185.8h0M269.9 178.1h0M261.6 174.4h0M268.0 179.8h0M254.0 183.9h0M252.8 175.9h0M265.4 170.7h0M265.2 171.6h0M253.1 187.1h0M252.6 185.7h0M254.8 184.3h0M267.1 181.4h0M255.6 181.1h0M260.1 180.8h0M269.6 169.1h0M257.9 173.7h0M250.0 187.5h0M249.3 182.4h0M264.4 168.5h0M264.9 182.7h0M262.5 167.2h0M260.1 169.2h0M261.3 168.0h0M258.1 179.1h0M258.0 178.6h0M253.7 182.4h0M268.0 180.8h0M261.4 185.2h0M251.6 182.9h0M250.4 186.3h0M267.1 178.7h0M266.2 169.7h0M266.6 177.2h0M264.2 187.6h0M256.6 177.1h0M250.4 186.0h0M266.6 179.1h0M268.4 181.7h0M257.8 176.7h0M260.9 170.7h0M267.4 184.8h0M256.6 187.6h0M256.9 171.3h0M256.6 171.2h0M259.6 174.5h0M259.4 178.0h0M253.6 180.3h0M259.3 188.2h0M268.0 170.2h0M266.5 169.1h0M251.3 186.2h0M255.9 187.0h0M258.4 172.2h0M258.6 181.4h0M254.3 185.0h0M253.5 182.0h0M261.9 167.6h0M265.7 179.7h0M262.2 177.7h0M264.7 173.9h0M258.2 184.5h0M255.4 185.0h0M264.2 184.3h0M252.9 187.4h0M265.6 170.8h0M256.5 187.7h0M264.5 176.5h0M254.0 183.5h0M263.9 187.3h0M258.8 174.4h0M247.9 183.4h0M249.9 186.5h0M263.3 177.0h0M267.9 175.3h0M255.0 172.8h0M272.5 168.1h0M259.2 182.3h0M268.6 176.9h0M262.5 169.4h0M261.8 185.3h0M257.2 169.9h0M265.5 173.8h0M263.4 167.9h0M256.2 177.4h0M257.6 183.2h0M255.1 180.9h0M254.3 182.9h0M250.6 179.4h0M267.5 177.8h0M255.6 184.6h0M257.3 173.2h0M269.3 170.4h0M266.4 171.8h0M272.5 175.7h0M259.5 169.4h0M265.4 183.1h0M260.1 186.9h0M261.1 178.9h0M264.6 169.8h0M254.4 176.9h0M263.7 175.1h0M247.4 184.0h0M269.4 180.0h0M268.4 179.9h0M264.2 166.9h0M263.5 181.3h0M258.5 168.7h0M258.3 184.2h0M251.2 181.1h0M265.3 174.9h0M271.5 175.8h0M267.6 170.6h0M256.4 183.5h0M270.8 181.8h0M270.4 171.2h0M268.1 176.6h0M273.3 172.9h0M266.8 181.1h0M255.7 183.9h0M258.5 168.8h0M257.3 171.0h0M263.6 168.3h0M271.8 173.1h0M262.8 179.4h0M265.4 183.6h0M255.3 176.1h0M269.5 173.8h0M271.1 171.7h0M252.9 176.6h0M252.2 187.7h0M270.1 178.7h0M248.3 186.6h0M256.8 184.0h0M269.4 173.0h0M257.9 173.3h0M272.3 172.9h0M267.9 167.1h0M265.8 173.5h0M266.1 170.6h0M271.9 176.4h0M262.7 182.2h0" stroke="#2a962a" stroke-width="1.00" stroke-linecap="round" fill="none" opacity="1"/><path d="M273.1 178.4h0M261.8 182.1h0M264.2 171.6h0M266.3 171.2h0M249.7 182.0h0M273.3 170.2h0M268.6 180.7h0M265.4 173.0h0M271.5 181.0h0M261.7 178.5h0M266.2 171.8h0M262.0 181.6h0M252.0 181.7h0M250.6 186.9h0M262.3 177.0h0M263.2 171.1h0M269.3 168.5h0M267.1 185.1h0M264.4 174.8h0M263.0 184.4h0M268.5 185.9h0M269.6 175.3h0M260.6 170.7h0M252.8 180.7h0M269.0 175.9h0M266.3 185.8h0M257.5 186.6h0M263.0 176.8h0M273.5 169.2h0M265.7 175.4h0M266.7 182.1h0M269.8 172.0h0M255.3 180.0h0M272.9 167.1h0M261.9 180.9h0M254.6 177.2h0M271.0 176.9h0M269.6 176.2h0M247.7 186.3h0M266.1 165.7h0M257.3 175.5h0M267.0 166.7h0M268.8 179.6h0M267.7 181.6h0M270.1 165.3h0M261.3 170.0h0M263.1 178.9h0M257.7 173.8h0M255.3 174.5h0M265.0 184.7h0M255.7 177.7h0M263.2 178.7h0M269.6 173.2h0M265.9 165.8h0M258.0 172.3h0M262.6 172.4h0M257.1 170.6h0M253.7 181.0h0M268.6 184.0h0M252.0 183.2h0" stroke="#b8d040" stroke-width="1.00" stroke-linecap="round" fill="none" opacity="1"/><path d="M250.9 178.2h0M254.1 175.4h0M251.8 187.4h0M272.0 165.4h0M274.7 178.3h0M265.5 187.2h0M271.0 183.8h0M271.8 184.0h0M274.3 168.1h0M266.1 187.1h0M269.1 185.4h0M272.9 180.5h0M262.1 188.2h0M254.1 173.5h0M266.0 185.3h0M253.1 178.3h0M270.6 166.1h0M252.6 177.6h0M254.0 188.0h0M271.5 185.5h0M269.6 186.2h0M255.4 188.8h0M273.7 170.2h0M247.6 185.9h0M251.7 177.1h0M270.9 181.7h0M271.2 177.2h0M265.0 165.4h0M272.6 181.5h0M248.4 181.4h0M269.4 185.0h0M246.3 183.8h0M264.5 163.3h0M256.0 169.7h0M263.8 187.5h0M272.1 165.1h0M246.9 184.5h0M251.0 188.5h0M254.0 174.8h0M255.4 173.4h0M273.5 175.5h0M273.2 177.4h0M247.7 187.7h0M266.3 187.1h0M271.2 163.8h0M253.5 178.1h0M254.7 187.9h0M267.9 185.3h0M271.2 181.4h0M269.1 185.1h0M273.5 170.3h0M273.8 173.3h0M275.0 172.5h0M269.8 185.6h0M271.9 186.4h0M256.2 169.5h0M275.6 172.3h0M274.1 173.6h0M255.7 170.8h0M263.8 188.1h0M271.7 182.4h0M257.5 169.4h0M253.0 175.1h0M250.5 179.8h0M246.9 187.0h0M265.0 164.1h0M271.6 183.4h0M270.9 165.6h0M256.9 168.9h0M251.1 179.6h0M253.2 174.5h0M273.0 179.8h0M271.9 166.2h0M258.0 167.2h0M264.4 165.7h0M266.3 166.4h0M272.4 170.7h0M254.4 175.4h0M253.5 189.3h0M270.2 185.8h0M248.4 180.7h0M264.6 188.1h0M273.0 171.1h0M247.6 187.3h0M257.8 187.8h0M271.8 166.2h0M250.7 189.0h0M271.6 186.2h0M270.7 166.2h0M267.3 189.2h0M249.9 176.3h0M262.7 190.0h0M273.4 180.5h0M274.5 169.4h0M256.2 173.1h0M252.9 176.6h0M272.7 173.5h0M272.8 183.5h0M251.5 187.2h0M261.3 166.9h0M266.7 166.1h0M265.9 188.2h0M256.8 187.7h0M255.8 172.7h0M267.0 166.1h0M274.6 169.8h0M258.1 187.4h0M251.9 187.1h0M246.8 185.8h0M253.8 188.4h0M257.8 169.9h0M249.7 186.5h0M269.0 166.9h0M259.5 168.3h0M265.2 164.6h0M249.1 180.1h0M264.3 166.5h0M273.7 167.3h0M250.0 188.6h0M252.3 176.6h0" stroke="#60c060" stroke-width="0.90" stroke-linecap="round" fill="none" opacity="1"/><path d="M246.1 184.9C246.9 182.9 250.3 178.7 251.9 176.1C253.6 173.5 254.2 171.1 255.9 169.3C257.5 167.5 259.2 166.2 261.7 165.4C264.1 164.6 268.4 164.3 270.5 164.4C272.6 164.6 273.6 164.7 274.3 166.3C275 168 275.1 171.6 274.9 174.2C274.8 176.8 274.1 179.8 273.3 181.9C272.6 184 272.1 185.7 270.5 186.8C268.9 187.9 266.3 188.3 263.6 188.7C260.8 189.1 256.7 189.4 253.9 189.3C251.2 189.3 248.5 188.9 247.2 188.2C245.9 187.4 245.3 186.9 246.1 184.9Z" fill="none" stroke="#333" stroke-width="0.6" opacity="1" stroke-dasharray="1.5 1"/><ellipse cx="265" cy="182" rx="5.8" ry="4.6" transform="rotate(0 265 182)" fill="#ff5050" opacity="1" filter="url(#b08)"/><ellipse cx="265" cy="182" rx="4.8" ry="3.8" transform="rotate(0 265 182)" fill="#ff1010" filter="url(#b03)"/><path d="M276 164.5C276.8 162.6 279.3 162.7 281 162.5C282.7 162.3 284.9 162.8 286 163.5C287.1 164.2 287.3 164.9 287.5 167C287.7 169.1 287.3 173.7 287 176C286.7 178.3 286.5 180.7 285.5 181C284.5 181.3 282.5 179.2 281 178C279.5 176.8 277.3 176.2 276.5 174C275.7 171.8 275.2 166.4 276 164.5Z" fill="#c000f0" filter="url(#b03)"/><path d="M275.2 163.7C276.1 161.6 278.9 161.7 280.8 161.5C282.7 161.3 285.2 161.8 286.4 162.6C287.6 163.5 287.9 164.2 288.1 166.5C288.3 168.9 287.9 174 287.5 176.6C287.2 179.2 287 181.8 285.9 182.2C284.7 182.6 282.5 180.2 280.8 178.9C279.1 177.6 276.7 176.9 275.8 174.4C274.8 171.9 274.4 165.9 275.2 163.7Z" fill="none" stroke="#fff" stroke-width="0.6" opacity="1"/><ellipse cx="278" cy="185" rx="7.2" ry="4.2" transform="rotate(-22 278 185)" fill="#1010ff" stroke="none" stroke-width="0.8" opacity="1"/><ellipse cx="278" cy="185" rx="8.2" ry="5" transform="rotate(-22 278 185)" fill="none" stroke="#333" stroke-width="0.6" opacity="1"/><text x="228.7" y="170.7" font-size="5.17" fill="#111" stroke="#111" stroke-width="0.15" textLength="20.2" lengthAdjust="spacingAndGlyphs">CD45dim</text><text x="281.9" y="158.2" font-size="5.59" fill="#111" stroke="#111" stroke-width="0.15" textLength="24.7" lengthAdjust="spacingAndGlyphs">Monocitos</text><text x="288.3" y="179" font-size="5.17" fill="#111" stroke="#111" stroke-width="0.15" textLength="18.3" lengthAdjust="spacingAndGlyphs">Linfocitos</text><path d="M381.5 115.4h4" stroke="#222" stroke-width="1.6"/><path d="M342.0 165.2h0M398.5 189.0h0M333.9 161.2h0M341.2 163.0h0M349.6 166.8h0M400.9 134.5h0M399.6 140.5h0M331.1 123.5h0M353.4 181.5h0M405.1 131.1h0M366.6 169.9h0M337.7 169.8h0M404.5 172.1h0M407.5 185.6h0M410.8 130.3h0M380.5 157.4h0M339.1 171.0h0M373.6 143.1h0M346.7 169.2h0M363.1 139.0h0M338.6 135.7h0M388.5 185.7h0M391.3 188.9h0M409.7 155.8h0M348.0 143.3h0M360.1 147.1h0M357.0 140.4h0M366.2 135.7h0M406.4 169.4h0M364.2 168.8h0M368.9 179.6h0M377.0 184.7h0M376.4 176.8h0M408.6 167.4h0M344.9 172.4h0M358.2 146.1h0M376.1 149.8h0M388.0 175.3h0M343.7 126.6h0M378.2 179.6h0" stroke="#9a9a9a" stroke-width="0.80" stroke-linecap="round" fill="none" opacity="1"/><path d="M350.2 163.3h0M360.6 161.7h0M353.1 178.9h0M350.3 170.6h0M346.5 149.2h0M363.8 173.5h0M352.1 172.6h0M346.7 177.3h0M355.8 169.5h0M356.9 162.9h0M333.6 161.4h0M356.3 164.9h0M361.5 169.6h0M347.5 162.1h0M362.4 176.1h0M360.2 177.2h0M352.5 156.6h0M361.1 173.4h0M338.4 162.2h0M342.2 181.1h0M355.3 168.6h0M354.9 156.9h0M353.9 188.4h0M359.6 171.8h0M350.1 173.0h0M357.4 182.8h0M349.8 165.4h0M364.5 177.1h0M340.8 166.7h0M341.3 174.9h0M343.3 144.2h0M357.9 163.6h0M365.1 157.9h0M359.0 164.2h0M345.8 150.2h0M348.1 153.0h0M354.7 172.1h0M363.6 166.8h0M354.1 166.1h0M356.2 177.4h0M344.8 168.5h0M351.1 171.0h0M368.2 153.7h0M354.4 162.6h0M371.6 177.7h0M363.1 158.2h0M349.1 163.4h0M360.7 165.3h0M358.2 183.0h0M347.1 154.9h0M354.6 166.1h0M359.2 159.2h0M362.9 176.3h0M373.7 169.8h0M348.2 153.1h0M344.9 171.2h0M339.5 176.2h0M356.0 188.9h0M363.7 171.6h0M355.4 174.8h0M343.2 172.5h0M351.8 162.8h0M377.8 166.8h0M363.7 165.3h0M352.7 169.1h0M366.6 155.5h0M332.9 156.6h0M342.2 161.7h0M367.5 166.0h0M351.1 161.9h0M352.6 179.7h0M351.2 158.3h0M356.5 156.8h0M356.6 155.6h0M350.2 172.9h0M362.3 155.7h0M367.9 156.5h0M342.3 170.7h0M347.2 169.3h0M344.7 161.3h0M348.7 169.9h0M366.7 175.7h0M346.7 173.2h0M359.2 181.3h0M345.3 172.6h0M361.5 158.9h0M342.6 164.2h0M347.0 167.9h0M349.2 163.3h0M340.9 158.8h0M356.7 184.1h0M361.1 154.9h0M367.8 164.3h0M351.8 149.3h0M352.2 159.3h0M366.6 185.8h0M370.2 183.7h0M357.2 181.6h0M344.3 174.3h0M349.4 164.5h0M356.0 172.4h0M365.4 167.4h0M341.4 174.2h0M340.5 171.3h0M363.0 184.7h0M372.7 171.4h0M344.0 182.1h0M361.3 173.1h0M341.7 162.0h0M353.9 163.3h0M366.0 147.4h0M357.7 171.0h0M345.9 165.3h0M351.3 170.7h0M353.5 171.9h0M354.5 166.5h0M355.5 151.5h0M348.1 167.9h0M349.0 179.8h0M352.7 154.8h0M345.7 155.4h0M351.3 149.5h0M363.4 156.6h0M345.7 175.2h0M345.5 175.6h0M350.6 159.3h0M338.6 172.1h0M339.2 171.3h0M341.8 160.2h0M343.3 174.2h0M339.1 168.7h0M353.7 168.4h0M368.4 167.1h0M356.1 155.6h0M353.6 165.2h0M337.2 158.9h0M365.5 173.2h0M351.6 150.3h0M333.9 161.9h0M341.8 170.2h0M365.7 155.3h0M353.9 173.0h0M362.4 190.8h0M337.6 164.3h0M365.8 164.3h0M345.0 167.5h0M344.3 164.0h0M360.7 154.7h0M349.3 156.9h0M342.5 166.3h0M352.4 142.1h0M347.0 158.4h0M360.2 171.4h0M353.2 169.5h0M347.1 163.4h0M351.5 154.4h0M352.0 151.0h0M349.9 170.7h0M362.9 163.2h0M342.2 166.8h0M361.6 148.9h0M356.0 171.5h0M342.9 173.4h0M357.7 170.3h0M352.6 170.2h0M337.9 166.8h0M343.3 191.2h0M350.0 162.2h0M333.9 173.2h0M367.0 174.0h0M348.7 170.3h0M343.0 164.9h0M350.3 165.6h0M356.9 151.5h0M343.4 163.6h0M357.1 161.9h0M364.2 173.4h0M339.2 187.8h0M362.4 168.6h0M347.6 172.6h0M341.5 175.8h0M350.3 183.1h0M358.5 171.2h0M348.6 172.5h0M346.5 175.9h0M340.3 167.1h0M344.9 148.9h0M339.2 172.8h0M337.1 169.8h0M349.7 179.1h0M345.9 160.5h0M348.6 172.5h0M356.0 151.4h0M352.1 166.9h0M350.6 163.2h0M358.6 163.5h0M347.6 162.9h0M364.1 167.7h0M355.8 173.1h0M360.5 177.5h0M344.5 168.3h0M350.4 159.4h0M357.0 177.2h0M350.5 170.8h0M353.6 172.4h0M370.1 170.7h0M350.9 189.9h0M356.1 170.8h0M347.1 159.8h0M347.4 157.9h0M355.1 162.4h0M365.2 176.0h0M349.9 173.2h0M360.1 183.1h0M341.1 151.5h0M353.5 165.0h0M336.5 171.8h0M352.5 175.3h0M359.6 173.0h0M355.6 165.9h0M349.8 169.7h0M362.2 164.5h0M345.3 165.4h0M350.7 167.2h0M341.5 175.2h0M345.9 166.6h0M360.9 164.4h0M334.7 161.3h0M357.0 152.7h0M351.3 169.4h0M359.9 163.8h0M349.1 167.4h0M369.9 173.3h0M363.2 169.6h0M358.9 168.3h0M345.5 165.8h0M345.5 170.3h0M354.8 181.9h0M360.9 168.9h0M343.2 164.2h0M348.8 166.9h0M360.3 164.1h0M348.2 162.5h0M368.0 161.9h0M355.0 167.1h0M358.0 174.5h0M359.1 167.0h0M353.4 167.5h0M333.9 176.6h0M345.5 167.0h0" stroke="#70c070" stroke-width="0.90" stroke-linecap="round" fill="none" opacity="1"/><path d="M370.6 160.4h0M388.0 171.6h0M360.8 163.1h0M378.3 177.7h0M379.6 166.9h0M368.3 175.9h0M386.1 159.0h0M364.8 158.9h0M388.6 166.3h0M373.9 163.1h0M375.9 163.4h0M373.2 173.5h0M381.6 162.7h0M358.6 168.1h0M377.7 170.1h0M367.3 169.9h0M376.9 167.5h0M369.5 167.3h0M389.0 165.3h0M370.5 175.5h0M367.9 161.7h0M377.8 166.1h0M378.3 152.3h0M383.0 170.9h0M372.9 165.5h0M373.7 172.0h0M379.2 169.3h0M382.3 176.3h0M372.5 167.7h0M349.7 174.4h0M375.4 157.1h0M387.7 161.9h0M369.3 167.2h0M376.8 172.0h0M357.2 167.5h0M355.9 154.9h0M376.8 171.4h0M359.0 165.4h0M386.7 158.0h0M385.9 166.2h0M365.5 170.8h0M373.9 168.9h0M364.8 165.3h0M362.2 165.9h0M370.7 156.8h0M388.4 173.7h0M370.6 164.9h0M385.5 167.3h0M380.6 168.9h0M370.9 178.1h0M390.8 160.0h0M359.9 164.4h0M353.1 162.2h0M373.7 165.2h0M385.0 164.4h0M383.2 162.4h0M387.9 163.3h0M373.8 170.2h0M379.0 160.9h0M366.5 157.1h0M370.4 159.8h0M373.2 165.2h0M372.6 170.4h0M369.8 163.4h0M374.6 153.1h0M391.2 155.6h0M369.4 165.8h0M385.1 167.1h0M378.1 160.0h0M381.6 159.3h0M380.3 164.8h0M368.8 170.5h0M380.9 158.2h0M357.6 171.1h0M366.5 159.4h0M375.3 165.2h0M377.4 157.8h0M374.1 168.5h0M380.4 158.2h0M376.9 158.8h0" stroke="#80c880" stroke-width="0.90" stroke-linecap="round" fill="none" opacity="1"/><ellipse cx="343.6" cy="168.5" rx="4.8" ry="11.8" transform="rotate(0 343.6 168.5)" fill="#3030e8" opacity="1" filter="url(#b08)"/><ellipse cx="343.6" cy="168.5" rx="4.3" ry="10.5" transform="rotate(0 343.6 168.5)" fill="#1010ff" filter="url(#b03)"/><path d="M340.8 172.8h0M344.0 179.2h0M343.5 163.6h0M343.6 173.8h0M342.3 168.6h0M344.0 158.0h0M337.8 179.0h0M342.0 164.7h0M344.1 167.3h0M341.4 163.0h0M343.6 160.5h0M347.7 161.2h0M344.6 167.7h0M342.5 171.6h0M345.9 171.6h0M341.8 173.6h0M349.5 177.2h0M346.4 168.1h0M346.0 172.3h0M344.0 176.2h0M347.7 170.7h0M341.8 163.5h0M343.5 165.0h0M345.4 165.1h0M345.1 161.4h0M341.9 179.7h0M342.6 177.7h0M344.3 162.3h0M343.5 169.7h0M340.3 157.8h0M345.0 165.3h0M349.1 167.0h0M339.3 169.8h0M347.4 174.3h0M344.4 161.0h0M342.5 176.8h0M349.9 172.0h0M345.2 164.4h0M348.8 177.7h0M346.1 167.6h0M346.2 174.3h0M340.7 160.6h0M345.1 163.2h0M343.7 165.8h0M342.9 167.2h0M338.5 163.4h0M346.5 179.6h0M346.6 176.7h0M348.1 169.2h0M340.7 163.1h0M341.4 173.2h0M343.9 171.8h0M345.0 165.9h0M343.4 163.8h0M342.9 179.1h0M345.5 157.4h0M340.0 171.9h0M344.5 165.1h0M344.3 177.5h0M344.3 169.4h0M339.4 167.3h0M343.4 161.1h0M341.5 161.9h0M345.1 164.6h0M341.9 173.5h0M339.9 181.2h0M340.2 171.1h0M339.3 170.0h0M342.0 172.6h0M345.0 164.1h0M346.8 169.3h0M345.7 162.0h0M341.5 169.8h0M340.3 171.2h0M344.5 169.8h0M346.6 166.1h0M349.2 176.3h0M340.7 173.1h0M345.0 159.3h0M343.2 171.1h0M339.0 160.9h0M342.5 161.3h0M342.6 159.1h0M340.0 164.6h0M338.4 170.9h0M349.5 154.4h0M347.5 167.7h0M342.5 171.0h0M342.9 170.5h0M344.7 157.2h0M347.5 166.7h0M343.7 160.0h0M341.5 176.2h0M344.2 162.1h0M341.4 177.8h0M343.2 174.5h0M346.7 163.0h0M343.6 160.6h0M346.7 175.3h0M343.1 163.4h0M337.1 163.0h0M343.5 167.7h0M342.0 173.4h0M344.1 164.1h0M344.7 172.6h0M343.7 179.1h0M343.4 166.2h0M344.3 166.4h0M342.3 165.2h0M343.2 162.6h0M343.0 174.2h0M346.8 165.2h0M344.6 179.2h0M344.2 167.6h0M340.4 175.8h0M343.4 166.6h0M343.1 179.4h0M347.5 176.7h0M341.1 172.1h0M342.4 167.7h0M344.0 173.1h0M347.9 174.7h0M341.6 171.2h0M344.6 171.8h0M342.4 168.1h0M343.0 164.8h0M340.7 162.7h0M347.1 172.5h0M348.2 172.8h0M346.6 162.7h0M344.6 165.4h0M343.7 163.8h0M341.5 173.5h0M344.9 172.2h0M345.6 165.1h0M344.9 166.0h0M343.4 175.3h0M345.5 170.4h0M343.1 163.5h0M348.5 170.1h0M343.5 159.8h0M342.3 156.1h0M343.8 171.6h0M340.7 164.0h0M344.7 168.0h0M340.1 175.7h0M345.0 171.0h0M347.8 176.0h0M345.7 164.5h0M342.2 161.4h0M346.6 172.2h0M343.6 171.4h0M340.8 176.3h0M344.3 169.8h0M342.0 175.0h0M339.0 168.9h0M340.7 169.9h0M346.3 167.7h0M344.8 170.3h0M346.3 166.4h0M337.8 171.0h0M343.7 172.8h0M343.5 167.4h0M344.7 169.6h0M347.0 162.5h0M347.8 168.2h0M344.1 169.6h0M340.7 163.6h0M343.8 157.0h0M346.7 170.1h0M344.1 166.4h0M346.2 174.7h0M345.3 168.4h0M343.7 167.4h0M342.8 170.8h0M341.9 169.4h0M337.7 161.9h0M345.2 170.0h0M343.6 172.0h0M342.0 164.0h0M346.5 168.6h0M339.6 169.8h0M340.5 164.9h0M340.1 174.4h0M344.4 163.9h0M343.5 168.5h0M347.5 169.4h0M343.2 165.4h0M348.3 168.6h0M344.4 161.4h0M343.5 167.0h0M340.2 164.3h0M344.0 173.3h0M346.8 170.9h0M345.7 163.5h0M345.0 172.8h0M343.3 164.8h0M347.4 165.9h0M343.3 168.1h0M339.5 164.2h0M343.6 173.5h0M341.8 167.9h0M344.7 163.2h0M342.6 171.0h0M346.8 173.1h0M340.4 160.5h0M346.8 175.6h0M341.9 177.8h0M341.8 167.5h0M341.2 170.4h0M341.7 174.9h0M342.9 169.5h0M339.6 172.0h0M344.9 151.6h0M347.3 177.2h0M346.9 168.8h0M342.0 157.3h0M344.3 159.5h0M345.7 164.9h0M343.8 171.5h0M344.9 166.0h0M345.3 170.9h0M342.9 155.9h0M344.6 165.4h0M351.5 170.2h0M346.8 165.2h0M338.1 170.6h0M343.0 175.1h0M342.4 170.8h0M346.2 167.2h0M341.4 171.3h0M344.8 165.8h0M343.9 158.8h0M343.8 167.6h0M338.9 175.4h0M340.8 168.7h0M344.8 176.4h0M342.6 164.9h0M343.8 175.0h0M343.1 179.5h0M343.3 169.2h0M344.1 165.3h0M339.2 161.2h0M340.7 158.9h0M346.0 168.1h0M338.6 181.3h0M345.6 172.4h0M342.7 167.0h0M346.3 161.4h0M349.5 175.5h0M341.6 172.3h0M344.7 177.4h0M342.1 160.4h0M344.2 171.9h0M346.4 165.4h0M346.4 171.5h0M339.4 162.8h0M344.9 164.0h0M339.5 168.3h0M338.5 174.1h0M343.7 165.9h0M347.9 170.7h0M344.6 165.6h0M342.6 169.8h0M342.3 165.7h0M341.8 164.7h0M340.6 173.8h0M342.8 168.2h0M344.4 167.6h0M341.6 168.3h0M339.2 173.6h0M345.0 165.1h0M344.0 176.0h0M337.9 167.4h0M342.9 172.8h0M342.7 172.0h0M343.5 168.0h0M337.3 161.3h0M341.5 162.5h0M348.2 161.9h0M344.1 166.3h0M339.5 162.8h0M342.9 163.9h0M344.2 161.6h0M344.0 179.7h0M343.0 172.6h0M347.2 167.5h0M342.2 166.9h0M343.7 164.5h0M343.6 165.0h0M343.8 175.9h0M343.6 170.7h0M340.8 168.8h0M342.6 170.1h0M340.7 169.9h0M347.9 167.4h0M345.1 167.1h0M340.0 167.8h0M342.6 172.9h0M346.9 163.5h0M339.9 174.8h0M346.7 173.1h0M346.7 174.7h0M339.8 174.8h0M345.8 162.9h0M341.2 171.5h0M337.8 163.2h0M341.9 164.8h0M344.4 166.5h0M344.7 163.1h0M336.6 155.2h0M346.7 169.8h0M346.8 173.8h0M344.2 170.9h0M345.2 172.2h0M343.0 157.3h0M342.1 164.6h0M345.7 164.6h0M344.0 171.9h0M345.4 167.1h0M340.4 177.2h0M344.6 171.5h0M341.4 159.2h0M342.6 167.2h0M343.0 182.8h0M346.3 169.0h0M342.8 166.0h0M337.6 162.7h0M342.4 154.9h0M342.3 168.0h0M341.6 164.5h0M337.4 172.6h0M341.1 164.4h0M344.4 167.7h0M345.0 173.7h0M343.6 170.8h0M346.5 172.8h0M343.7 162.3h0M348.6 177.9h0M341.7 175.6h0M340.9 161.2h0M339.3 165.5h0M350.0 171.5h0M341.2 160.6h0M344.0 162.6h0M341.3 167.8h0M344.3 168.8h0M341.6 172.6h0M344.8 163.5h0M340.6 170.7h0M344.2 176.0h0M340.4 165.0h0M342.5 178.0h0M342.5 170.6h0M344.2 175.5h0M344.5 177.5h0M344.4 173.8h0M344.8 180.4h0M343.2 168.5h0M346.2 163.9h0M337.6 167.9h0M340.6 165.0h0M345.3 173.4h0M340.7 170.3h0M341.0 169.0h0M345.8 163.9h0M348.7 165.4h0M343.0 170.9h0M336.1 167.3h0M339.1 161.0h0M341.9 159.9h0M343.8 166.3h0M344.6 166.0h0M348.4 167.9h0M342.9 172.0h0M344.8 162.8h0M343.7 165.3h0M344.4 170.8h0M343.2 157.6h0M342.1 163.2h0" stroke="#1515f0" stroke-width="1.00" stroke-linecap="round" fill="none" opacity="1"/><path d="M366 140Q366 137.6 369 137.6H398Q401.5 137.6 401.5 141L402.5 149V160Q402.5 163.8 398 163.8H369Q366 163.8 366 160Z" fill="none" stroke="#444" stroke-width="0.7"/><path d="M381.9 155.0h0M375.9 163.0h0M371.1 150.8h0M379.7 154.7h0M386.5 155.0h0M374.4 152.8h0M378.3 155.1h0M376.3 154.0h0M381.2 159.7h0M376.6 157.8h0M382.3 154.7h0M372.5 160.0h0M374.3 149.6h0M377.3 156.4h0M380.0 158.2h0M375.3 153.5h0M373.9 149.2h0M379.0 150.0h0M379.2 157.3h0M375.5 157.4h0M378.7 163.4h0M380.0 160.7h0M379.6 155.5h0M381.5 158.5h0M381.6 147.4h0M376.3 160.9h0M376.7 152.0h0M379.9 154.4h0M378.1 153.1h0M378.7 150.6h0M379.3 148.7h0M377.5 163.2h0M377.8 160.1h0M386.4 157.0h0M379.1 151.7h0M380.8 161.2h0M381.7 153.3h0M376.5 157.7h0M380.9 160.2h0M375.9 151.7h0M373.3 148.8h0M378.8 155.4h0M379.0 145.9h0M373.6 156.1h0M379.0 152.6h0M375.4 150.3h0M380.5 154.4h0M371.3 148.6h0M379.5 153.3h0M374.7 151.3h0M381.7 159.6h0M373.6 155.5h0M375.5 156.7h0M381.9 161.0h0M379.5 151.1h0M374.6 147.3h0M374.8 156.1h0M374.0 151.8h0M376.2 154.1h0M375.5 151.2h0M373.4 154.9h0M377.2 149.6h0M376.3 152.0h0M378.5 154.3h0M378.6 159.3h0M378.9 155.1h0M375.4 156.1h0M380.3 157.0h0M380.6 153.1h0M380.1 158.1h0M377.3 147.9h0M377.4 152.6h0M377.3 156.3h0M376.6 161.4h0M374.4 157.4h0M377.1 162.0h0M371.8 153.5h0M375.0 162.1h0M375.7 156.4h0M378.9 150.7h0M376.0 154.7h0M378.8 148.1h0M378.7 162.4h0M379.6 161.7h0M382.2 149.9h0M377.2 159.0h0M377.7 152.3h0M379.5 160.2h0M372.7 154.9h0M376.8 158.3h0M375.9 148.8h0M376.9 147.4h0M379.2 157.8h0M379.9 160.7h0M375.6 159.9h0M381.0 142.9h0M378.2 147.3h0M374.8 148.9h0M371.8 153.7h0M373.5 156.5h0M379.4 151.3h0M378.1 148.2h0M374.9 150.6h0M374.5 150.5h0M379.0 158.0h0M375.5 154.8h0M381.7 155.0h0M374.2 156.7h0M379.7 153.6h0M375.8 149.3h0M383.6 152.3h0M379.7 146.9h0M378.7 149.6h0M378.6 154.5h0M380.0 157.6h0M375.1 159.8h0M375.4 151.7h0M377.1 153.6h0M383.3 155.9h0M375.1 149.6h0M378.5 151.9h0M376.9 159.6h0M376.2 148.8h0M373.5 150.2h0M377.9 150.9h0M373.5 154.7h0M378.8 155.2h0M377.3 158.9h0M375.9 165.1h0M375.0 147.9h0M376.1 162.7h0M374.8 144.4h0M378.5 145.2h0M381.8 157.1h0M379.0 149.7h0M376.5 150.0h0M379.4 156.5h0M377.4 150.2h0M376.7 157.8h0M379.6 157.4h0M377.6 158.5h0M376.3 154.2h0M377.1 151.5h0M374.3 150.1h0M375.1 146.7h0M378.7 149.0h0M379.5 159.7h0M379.8 148.4h0M374.5 148.7h0M376.8 147.2h0M378.1 145.8h0M379.0 149.0h0M380.9 164.2h0M375.7 153.8h0M375.0 160.5h0M377.9 154.4h0M372.6 162.4h0M380.9 152.3h0M380.8 152.6h0M376.8 154.9h0M382.8 154.3h0M370.3 154.8h0M376.6 152.5h0M382.7 158.9h0M377.2 159.7h0M378.2 159.9h0M377.7 153.6h0M381.7 154.0h0M380.6 160.3h0M375.1 148.5h0M370.8 150.5h0M383.2 150.5h0M378.5 152.4h0M379.8 159.9h0M374.0 156.2h0M377.7 155.3h0M378.6 153.6h0M381.7 157.4h0M371.4 155.8h0M379.7 151.9h0M381.5 152.3h0M381.2 153.3h0M375.0 155.8h0M376.6 145.1h0M378.9 159.9h0M381.1 155.8h0M376.6 146.9h0M377.2 155.6h0M373.9 148.6h0M380.8 149.7h0M378.1 157.4h0M376.3 157.3h0M379.5 152.3h0M375.4 150.3h0M375.4 150.4h0M378.5 152.3h0M376.6 158.8h0M376.7 158.4h0M382.0 151.9h0M387.2 162.1h0M379.1 151.2h0M376.2 157.5h0M380.1 158.5h0M381.4 150.6h0M375.7 165.2h0M378.6 164.4h0M376.3 156.8h0M376.0 150.3h0M384.8 153.6h0M377.1 152.6h0M380.9 147.0h0M376.3 150.8h0M374.6 158.3h0M380.0 149.6h0M373.8 156.1h0M377.8 152.4h0M373.9 154.0h0M378.0 160.6h0M378.2 157.0h0M379.2 153.2h0M381.1 147.2h0M377.9 153.6h0M373.9 157.3h0M377.7 151.4h0M372.4 153.5h0M382.2 161.8h0M374.1 154.1h0M374.4 152.9h0M379.1 154.7h0M373.3 159.2h0M375.8 149.6h0M375.2 154.8h0M376.0 166.8h0M378.7 154.7h0M374.7 155.2h0M377.6 161.2h0M376.3 157.1h0M379.6 152.8h0M377.0 153.8h0M374.2 156.3h0M377.1 151.4h0M376.0 152.5h0M381.5 148.5h0M376.8 147.2h0M381.8 159.6h0M379.1 149.6h0M375.1 145.9h0M370.9 155.4h0M379.6 155.7h0M379.4 155.8h0M375.7 161.1h0M377.3 150.7h0M374.4 162.5h0M380.4 156.6h0M381.1 155.3h0M383.2 148.0h0M374.5 153.2h0M377.6 155.3h0M379.7 156.3h0M385.3 146.9h0M377.1 161.0h0M373.0 166.8h0M375.7 156.2h0M381.7 149.2h0M377.2 153.2h0M376.3 149.1h0M375.4 148.6h0M377.9 156.7h0M372.4 160.7h0M373.5 150.8h0M377.3 156.9h0M379.5 156.1h0M375.2 159.2h0M376.0 155.1h0M375.3 154.2h0M376.1 153.9h0M372.8 157.9h0M377.4 162.0h0M374.1 155.2h0M373.2 160.3h0M378.2 153.7h0M377.9 157.1h0M380.3 163.3h0M378.4 155.3h0M379.7 151.1h0M380.5 156.9h0M378.0 152.4h0M377.7 154.2h0M378.5 152.9h0M380.1 153.6h0M378.1 158.5h0M377.0 155.5h0M376.2 160.2h0M373.7 150.3h0M382.2 158.2h0M379.2 150.3h0M374.7 152.7h0M375.7 153.7h0M378.2 151.1h0M377.9 163.2h0" stroke="#ff1010" stroke-width="1.10" stroke-linecap="round" fill="none" opacity="1"/><path d="M372.0 144.8h0M379.0 159.4h0M369.9 151.1h0M385.7 151.8h0M387.4 157.8h0M385.4 162.8h0M371.8 156.1h0M379.8 163.0h0M384.5 152.9h0M384.2 161.7h0M381.6 153.9h0M374.4 162.3h0M372.9 153.6h0M379.2 153.3h0M368.7 153.2h0M387.3 145.5h0M378.3 161.5h0M378.7 150.2h0M386.0 158.3h0M372.4 155.3h0M369.3 154.5h0M383.4 159.4h0M376.3 160.4h0M371.8 144.6h0M376.3 147.9h0M382.6 163.0h0M376.1 161.2h0M374.2 157.5h0M374.3 143.7h0M376.0 155.5h0M371.7 157.0h0M370.5 145.5h0M380.3 162.5h0M384.7 146.0h0M369.5 141.2h0M376.1 146.4h0M375.2 146.6h0M369.7 155.0h0M382.8 149.2h0M383.5 155.6h0M386.1 141.6h0M370.5 151.3h0M377.0 155.1h0M385.7 160.8h0M384.1 143.7h0M372.4 156.6h0M384.3 145.3h0M386.5 142.3h0M384.2 145.5h0M387.8 154.0h0M382.7 141.6h0M384.3 161.7h0M387.2 146.7h0M369.5 149.9h0M368.5 154.0h0M386.1 150.1h0M375.2 148.1h0M375.0 159.5h0M385.0 149.9h0M381.6 154.8h0" stroke="#e04040" stroke-width="0.90" stroke-linecap="round" fill="none" opacity="1"/><text x="362.8" y="130.3" font-size="6.56" font-weight="bold" fill="#000" stroke="#000" stroke-width="0.2" textLength="43.5" lengthAdjust="spacingAndGlyphs">CD34+ CD117+</text><path d="M449.0 147.5h0M448.5 151.1h0M449.8 139.0h0M447.7 141.1h0M456.7 139.9h0M447.9 144.5h0M446.6 144.5h0M447.6 146.2h0M455.4 151.4h0M452.5 146.7h0M449.3 149.1h0M449.8 140.7h0M457.1 152.9h0M446.1 143.7h0M455.8 154.1h0M451.6 145.1h0M450.1 143.9h0M448.0 141.0h0M450.3 147.8h0M444.1 155.7h0M451.4 144.6h0M445.4 149.4h0M446.5 136.7h0M446.4 130.6h0M454.9 149.6h0M446.4 138.8h0M446.7 143.7h0M449.4 141.7h0M453.7 150.8h0M450.0 156.2h0M453.3 154.6h0M448.2 137.3h0M453.1 150.0h0M443.9 142.2h0M446.6 143.4h0M445.9 146.7h0M444.4 149.4h0M453.3 156.8h0M450.4 135.6h0M447.4 145.4h0M449.3 147.5h0M451.9 141.9h0M451.1 143.9h0M453.6 148.3h0M448.3 144.6h0M448.1 127.9h0M451.4 150.9h0M441.0 145.8h0M445.6 148.9h0M450.4 144.9h0M448.0 147.7h0M451.7 148.4h0M451.5 140.8h0M444.2 146.8h0M451.1 140.2h0M459.1 153.6h0M445.5 147.0h0M454.2 143.8h0M450.1 143.8h0M451.7 152.2h0" stroke="#8888a0" stroke-width="0.90" stroke-linecap="round" fill="none" opacity="1"/><path d="M462 138C461.8 134.5 463 131.2 466 129C469 126.8 474.3 125.3 480 125C485.7 124.7 495.8 124.7 500 127C504.2 129.3 505.3 134.8 505 139C504.7 143.2 502.2 149 498 152C493.8 155 485.2 157.3 480 157C474.8 156.7 470 153.2 467 150C464 146.8 462.2 141.5 462 138Z" fill="none" stroke="#444" stroke-width="0.7" opacity="1"/><path d="M489.3 145.8h0M477.9 148.4h0M484.9 143.8h0M469.6 145.8h0M476.4 151.2h0M485.8 146.6h0M478.8 146.1h0M478.3 155.3h0M477.8 142.7h0M482.9 147.1h0M479.6 144.5h0M480.8 157.6h0M482.9 145.9h0M482.9 147.5h0M485.4 150.2h0M479.4 150.1h0M483.8 158.1h0M484.0 143.0h0M479.0 146.3h0M477.1 149.2h0M472.7 144.1h0M477.6 151.6h0M482.0 148.3h0M481.9 142.8h0M483.0 145.5h0M477.1 148.7h0M477.5 146.2h0M477.7 145.3h0M478.4 143.5h0M480.1 150.2h0M488.7 144.5h0M481.3 145.4h0M482.4 149.4h0M476.3 147.7h0M486.8 150.1h0M476.6 146.9h0M487.6 145.9h0M480.9 146.4h0M482.0 146.8h0M480.6 145.6h0M483.0 147.6h0M482.7 143.7h0M477.5 146.2h0M482.7 147.8h0M485.0 145.7h0M483.2 143.2h0M480.4 146.9h0M482.2 148.4h0M481.5 138.4h0M479.2 144.7h0M484.6 144.4h0M478.2 146.1h0M478.3 152.4h0M477.5 142.6h0M480.4 148.5h0M482.8 144.4h0M480.2 149.4h0M482.9 147.5h0M481.3 148.1h0M473.5 144.1h0M476.3 145.8h0M480.9 148.1h0M485.0 144.0h0M477.4 145.6h0M479.4 145.0h0M487.1 145.2h0M479.5 148.8h0M487.3 153.7h0M483.0 142.0h0M481.0 146.4h0M479.2 145.9h0M480.8 144.2h0M481.2 145.4h0M482.5 143.9h0M478.8 150.2h0M485.2 151.3h0M482.8 145.7h0M483.2 149.0h0M479.5 148.3h0M481.1 145.9h0M484.5 153.8h0M483.3 142.2h0M479.2 147.6h0M483.6 152.5h0M482.5 141.4h0M477.5 141.4h0M479.3 144.8h0M478.4 145.6h0M482.0 151.8h0M478.4 148.9h0M484.7 148.1h0M481.3 148.5h0M482.3 147.6h0M481.3 147.2h0M480.4 150.3h0M473.8 145.1h0M482.5 150.5h0M482.8 149.2h0M480.8 144.6h0M483.5 144.0h0M479.2 148.5h0M478.0 146.5h0M478.6 146.6h0M473.6 136.4h0M483.4 147.6h0M481.5 146.6h0M484.8 144.8h0M479.3 140.7h0M477.1 147.3h0M477.8 148.2h0M480.6 144.8h0M481.2 146.5h0M483.9 150.4h0M477.5 148.0h0M478.8 152.6h0M477.4 151.1h0M478.6 143.6h0M483.8 146.9h0M477.7 146.6h0M483.4 148.0h0M482.8 145.2h0M481.5 148.3h0M473.5 150.3h0M486.7 146.2h0M480.9 146.8h0M478.0 147.8h0M478.8 146.7h0M478.0 145.1h0M483.6 147.2h0M480.6 144.7h0M479.5 147.4h0M483.7 150.2h0M484.1 146.2h0M475.4 147.6h0M480.4 145.2h0M487.0 148.9h0M481.2 147.9h0M472.5 151.1h0M478.1 140.2h0M484.5 145.6h0M473.0 147.4h0M478.8 148.2h0M481.3 146.9h0M477.1 149.1h0M480.3 138.2h0M481.1 144.4h0M481.2 144.2h0M479.9 148.0h0M488.6 147.0h0M473.9 150.3h0M482.0 150.2h0M477.8 146.0h0M476.7 147.0h0M481.9 142.7h0M479.9 145.4h0M482.2 146.5h0M482.7 144.8h0M478.0 146.8h0M481.2 148.5h0M478.1 148.3h0M482.2 143.4h0M481.6 150.9h0M482.0 144.8h0M481.8 152.5h0M485.5 144.9h0M485.1 149.4h0M481.6 150.9h0M476.8 152.2h0M482.2 145.3h0M477.5 138.5h0M482.0 146.1h0M484.0 138.9h0M476.2 139.4h0M482.5 148.0h0M485.5 146.7h0M480.3 152.8h0M480.5 148.4h0M481.8 144.1h0M478.6 142.5h0M478.9 147.0h0M479.7 142.3h0M477.6 151.2h0M479.3 149.7h0M487.2 150.3h0M476.3 142.7h0M477.6 145.7h0M485.3 144.5h0M477.0 142.4h0M478.5 154.8h0M477.0 149.3h0M476.9 154.4h0M477.8 149.3h0M483.4 146.2h0M476.1 142.8h0M484.6 145.5h0M482.7 145.0h0M481.8 153.5h0M482.5 148.3h0M477.1 149.0h0M480.8 146.0h0M475.7 152.5h0M479.4 145.0h0M475.8 145.2h0M479.4 149.9h0M484.7 151.3h0M482.6 146.4h0M482.5 151.5h0M482.3 151.0h0M485.2 143.9h0M486.0 149.4h0M484.6 152.0h0M494.2 156.1h0M474.5 146.5h0M486.5 145.5h0M473.4 142.8h0M484.6 143.7h0M484.4 148.7h0M467.7 149.6h0M469.3 145.4h0M483.1 139.9h0M487.7 150.7h0M481.7 149.3h0M476.8 146.5h0M484.1 145.2h0M479.8 145.8h0M479.2 145.8h0M484.2 145.4h0M480.2 148.3h0M483.6 146.6h0M481.2 149.8h0M482.6 152.9h0M484.0 144.1h0M483.8 147.3h0M483.1 138.8h0M479.7 146.8h0M483.6 147.9h0M485.6 149.1h0M480.0 144.6h0M475.7 146.2h0M485.4 147.8h0M478.5 146.0h0M482.9 151.6h0M480.0 145.5h0M479.4 146.6h0M481.0 147.2h0M482.3 147.6h0M481.2 145.9h0M478.8 145.6h0M480.7 152.9h0M476.0 144.5h0" stroke="#ff1010" stroke-width="1.10" stroke-linecap="round" fill="none" opacity="1"/><path d="M473.0 132.5h0M472.4 144.6h0M479.1 154.8h0M486.6 150.8h0M470.7 139.7h0M476.3 152.8h0M477.7 152.3h0M472.0 141.6h0M475.8 153.2h0M472.6 147.1h0M481.6 151.7h0M477.9 148.4h0M474.4 133.5h0M469.4 149.5h0M483.3 139.6h0M480.8 144.6h0M474.4 143.7h0M474.3 143.7h0M473.8 146.8h0M479.2 146.3h0M479.9 143.8h0M490.9 157.8h0M480.1 149.3h0M458.8 145.4h0M484.0 143.7h0M482.1 147.0h0M477.6 141.2h0M481.2 140.0h0M474.9 155.7h0M478.2 150.1h0M486.4 150.5h0M473.0 146.3h0M487.1 153.8h0M480.8 142.5h0M477.7 152.0h0M483.6 151.5h0M477.3 138.7h0M475.3 150.2h0M474.3 149.5h0M479.7 139.7h0M477.9 146.6h0M472.3 141.9h0M471.7 142.1h0M480.1 154.2h0M479.2 146.6h0M480.0 152.4h0M474.9 149.2h0M483.0 154.4h0M480.4 146.4h0M463.6 145.6h0M473.8 145.0h0M486.4 137.2h0M471.5 146.8h0M480.1 140.9h0M476.0 145.9h0M488.6 136.6h0M477.0 131.8h0M481.7 140.2h0M471.8 141.4h0M472.3 156.6h0M479.7 143.4h0M486.0 154.3h0M476.2 147.7h0M478.0 145.7h0M471.5 145.3h0M481.7 147.9h0M480.4 147.9h0M475.2 134.7h0M483.0 146.1h0M475.1 145.8h0M481.4 151.1h0M479.3 148.2h0M480.4 146.9h0M482.5 146.6h0M476.7 159.4h0M471.9 142.0h0M473.5 139.9h0M482.8 140.2h0M492.0 142.6h0M484.8 152.9h0M484.7 146.8h0M481.9 150.3h0M472.3 147.2h0M480.1 140.0h0M481.2 143.2h0M478.4 157.9h0M485.6 140.5h0M492.2 153.1h0M488.2 141.7h0M477.9 146.5h0M486.8 145.4h0M487.8 137.2h0M480.2 127.6h0M481.9 152.3h0M475.6 145.8h0M483.8 148.2h0M482.6 137.9h0M480.1 145.5h0M472.0 148.8h0M484.9 145.6h0" stroke="#e05050" stroke-width="0.90" stroke-linecap="round" fill="none" opacity="1"/><ellipse cx="446.5" cy="176" rx="4.2" ry="14" transform="rotate(0 446.5 176)" fill="#1010ff" stroke="none" stroke-width="0.8" opacity="1"/><path d="M444.4 175.1h0M444.2 170.9h0M440.3 178.4h0M442.9 187.3h0M449.3 171.5h0M447.1 181.7h0M446.9 181.8h0M446.2 172.2h0M445.7 178.5h0M448.3 177.9h0M444.1 175.3h0M448.5 176.3h0M448.0 173.2h0M447.7 172.8h0M446.0 164.7h0M441.2 182.5h0M447.0 175.8h0M447.4 178.8h0M448.5 186.8h0M450.1 177.0h0M444.7 176.8h0M442.7 175.3h0M446.3 178.6h0M445.5 180.0h0M442.9 180.8h0M450.8 180.1h0M448.9 176.9h0M447.9 185.3h0M447.3 173.2h0M443.4 178.8h0M442.9 174.9h0M446.9 172.9h0M443.3 166.9h0M446.3 169.8h0M445.1 175.2h0M441.3 175.0h0M443.0 175.2h0M444.8 176.0h0M444.1 164.8h0M441.1 186.6h0M447.9 166.9h0M446.3 175.4h0M450.1 177.3h0M444.7 163.7h0M446.7 169.5h0M442.9 181.5h0M447.8 173.2h0M444.8 188.1h0M441.2 179.4h0M448.5 179.0h0M445.4 169.9h0M448.6 177.1h0M445.5 184.9h0M445.9 171.3h0M451.3 174.0h0M444.7 171.1h0M448.6 178.3h0M444.2 182.4h0M450.2 184.6h0M449.3 178.2h0M447.8 186.0h0M449.2 169.0h0M448.0 176.9h0M446.7 179.5h0M446.0 180.9h0M447.6 178.7h0M448.8 175.3h0M445.4 173.0h0M441.5 184.0h0M441.7 184.5h0M447.1 182.1h0M446.1 167.9h0M452.4 174.0h0M445.8 173.0h0M443.1 171.8h0M445.5 171.8h0M447.4 168.2h0M443.9 173.6h0M444.7 179.7h0M441.6 183.2h0M443.4 168.1h0M449.7 173.4h0M445.2 182.3h0M446.6 179.0h0M447.1 170.7h0M448.1 186.2h0M448.9 185.3h0M445.9 189.5h0M444.6 181.5h0M446.4 178.3h0M445.7 170.7h0M446.0 171.2h0M446.9 173.0h0M448.2 167.9h0M447.9 171.5h0M448.5 167.3h0M447.1 176.6h0M446.6 182.6h0M447.5 162.6h0M450.4 178.7h0M441.6 172.4h0M446.2 183.9h0M443.9 180.8h0M443.0 163.4h0M446.7 166.8h0M446.2 170.4h0M447.7 162.5h0M448.6 172.7h0M441.2 184.1h0M445.6 191.3h0M445.4 181.7h0M445.9 187.6h0M448.2 175.9h0M444.4 169.3h0M446.8 174.0h0M444.9 182.5h0M443.2 185.0h0M445.3 186.3h0M444.9 181.7h0M453.2 179.6h0M447.1 170.1h0M446.9 170.6h0M448.2 169.8h0M445.8 172.4h0M446.5 181.9h0M444.3 174.0h0M442.9 175.2h0M449.5 168.3h0M443.4 149.7h0M446.8 178.9h0M447.9 180.1h0M442.5 178.6h0M447.9 171.1h0M443.8 163.4h0M447.0 170.1h0M447.1 182.7h0M448.2 183.3h0M446.7 173.2h0M449.2 187.5h0M445.1 171.0h0M444.0 182.6h0M447.4 179.3h0M450.0 176.0h0M443.5 185.7h0M447.2 167.0h0M444.0 175.1h0M446.5 175.1h0M452.9 171.0h0M447.0 182.2h0M448.5 177.8h0M450.3 185.4h0M445.6 162.1h0M450.9 185.0h0M442.5 169.2h0M445.7 169.4h0M451.6 185.0h0M445.1 177.4h0M447.1 175.1h0M446.0 178.9h0M440.2 169.7h0M443.4 174.8h0M444.8 168.5h0M443.8 185.5h0M449.1 171.2h0M446.8 173.7h0M449.0 170.2h0M446.1 183.1h0M450.5 174.7h0M445.8 174.5h0M444.2 172.5h0M445.1 182.6h0M445.9 180.3h0M448.0 171.3h0M450.7 175.2h0M448.3 177.5h0M447.6 171.1h0M448.8 174.2h0M443.5 176.6h0M444.8 168.2h0M442.9 175.6h0M447.4 186.7h0M442.8 179.5h0M446.0 159.1h0M446.9 189.1h0M446.9 173.6h0M443.4 187.4h0M443.5 177.1h0M448.1 162.6h0M447.8 188.7h0M449.7 161.6h0M442.2 179.5h0M445.7 178.9h0M448.1 170.2h0M442.9 163.8h0M444.2 160.0h0M446.4 173.2h0M446.4 175.0h0M445.4 171.1h0M445.6 182.3h0M448.5 177.1h0M444.0 190.2h0M446.7 164.6h0M446.6 175.2h0M447.5 177.1h0M446.8 182.9h0M448.3 185.4h0M445.1 163.7h0M448.5 178.2h0M450.1 176.8h0M451.3 170.2h0M445.3 181.8h0M449.1 177.4h0M445.8 178.0h0M446.8 176.9h0M443.9 169.3h0M446.7 172.8h0M447.0 180.8h0M441.5 172.9h0M442.2 180.9h0M447.0 167.4h0M444.1 177.5h0M448.3 173.0h0M449.4 176.1h0M444.3 163.8h0M445.0 170.0h0M451.9 174.6h0M447.2 182.4h0M446.3 185.2h0M450.9 167.1h0M442.4 187.8h0M451.3 183.6h0M442.5 178.5h0M448.3 176.9h0M447.8 181.4h0M444.8 168.9h0M442.0 182.1h0M445.9 181.5h0M447.1 178.3h0M453.2 169.9h0M448.5 156.1h0M441.3 181.0h0M451.7 164.0h0M448.5 186.4h0M448.6 189.8h0M448.5 170.0h0M445.0 168.0h0M451.6 175.1h0M447.5 182.7h0M443.5 178.5h0M443.4 166.8h0M443.1 180.4h0M439.1 177.2h0M451.1 180.5h0M446.5 181.6h0M448.4 174.8h0M441.8 172.0h0M447.4 181.8h0M446.4 178.8h0M448.7 173.1h0M444.6 176.9h0M448.4 166.5h0M454.2 156.6h0M441.2 176.5h0M450.9 169.7h0M444.1 171.9h0M449.1 177.8h0M449.0 175.6h0M449.7 175.0h0M447.1 166.0h0M450.3 162.6h0M447.7 183.9h0M449.9 183.9h0M443.5 170.6h0M449.4 175.3h0M447.0 173.8h0M446.3 180.3h0M443.5 173.9h0M447.2 179.7h0M448.2 186.0h0M444.9 173.2h0M449.9 171.9h0M448.5 178.5h0M449.0 174.0h0M447.5 180.5h0M445.7 179.6h0M448.9 157.9h0M445.1 175.9h0M446.0 181.4h0M450.3 177.3h0M447.9 171.7h0M446.3 183.4h0M447.2 168.9h0M451.8 183.7h0M451.7 169.8h0M446.7 174.7h0M447.7 161.1h0M444.6 175.6h0M444.6 180.5h0M449.4 171.0h0M449.9 175.7h0M446.4 179.3h0M452.7 178.2h0M448.9 176.6h0M445.6 174.9h0M447.8 173.7h0M441.5 174.7h0M445.0 183.4h0M447.1 171.1h0M449.7 171.0h0M442.6 171.8h0M445.9 172.7h0M447.4 177.7h0M445.0 173.8h0M444.0 190.6h0M440.7 171.9h0M446.4 185.4h0M446.1 166.4h0M448.0 177.6h0M444.8 176.7h0M447.8 178.3h0M444.2 184.1h0M444.8 172.2h0M444.6 170.3h0M449.5 189.1h0M447.6 177.5h0M448.6 173.1h0M451.6 184.4h0M448.4 176.4h0M448.5 185.7h0M445.7 181.6h0M445.6 181.8h0M451.8 173.7h0M446.5 169.7h0M445.0 186.7h0M447.8 169.1h0M446.4 171.8h0M444.5 179.7h0M445.0 172.4h0M444.1 183.4h0M447.9 172.1h0M444.1 170.8h0M446.1 172.8h0M444.5 182.6h0M447.8 183.6h0M446.5 182.3h0M449.6 175.3h0M448.8 166.7h0M449.3 178.1h0M443.6 171.7h0M446.9 173.6h0M452.1 166.3h0M446.4 166.4h0M449.8 186.5h0M443.9 182.4h0M444.7 178.8h0M448.3 168.7h0M444.0 176.5h0M444.6 166.5h0M448.2 177.2h0M446.6 183.7h0M447.3 176.2h0M448.1 166.8h0M447.9 173.2h0M453.3 184.0h0M448.2 178.8h0M447.6 183.0h0M447.0 183.6h0M449.7 188.1h0M446.5 183.1h0M447.8 170.1h0M443.1 168.9h0M447.0 168.1h0M445.1 181.2h0M447.1 156.9h0M450.6 180.6h0M442.5 178.8h0M446.1 181.6h0M450.0 186.2h0M446.4 169.8h0M445.9 169.2h0M442.6 162.9h0M441.7 165.0h0M442.0 169.7h0M450.6 186.0h0M449.4 176.4h0M444.5 180.1h0M444.3 183.1h0M446.9 189.6h0M447.6 166.1h0M444.4 186.9h0M446.6 163.8h0M446.4 177.4h0M443.8 184.1h0M447.3 183.9h0M445.7 176.6h0M445.5 166.1h0M448.9 170.7h0M446.4 170.9h0M445.6 175.3h0M448.8 170.6h0M448.5 173.8h0M446.4 178.1h0M442.8 171.4h0M447.5 181.6h0M447.0 183.8h0M447.9 173.4h0M447.6 174.5h0M444.2 160.3h0M446.2 167.8h0M442.5 186.4h0M449.2 176.3h0M444.4 180.7h0M445.9 189.8h0M450.1 175.7h0M451.3 186.8h0M445.2 177.7h0M446.9 171.5h0M442.7 172.1h0M448.0 183.3h0M447.9 179.5h0M452.7 166.1h0M445.9 165.0h0M449.4 173.9h0M443.0 172.1h0M445.4 181.3h0M446.7 166.3h0M446.8 171.9h0M443.0 181.4h0M448.6 175.9h0M446.7 170.7h0M444.8 173.1h0M448.7 179.0h0M443.3 185.1h0M446.1 179.7h0" stroke="#1515f0" stroke-width="1.00" stroke-linecap="round" fill="none" opacity="1"/><text x="464" y="126.6" font-size="6.42" font-weight="bold" fill="#000" stroke="#000" stroke-width="0.2" textLength="18.6" lengthAdjust="spacingAndGlyphs">CD33+</text><path d="M59.2 289.8h0M55.0 297.8h0M48.5 278.2h0M72.7 277.3h0M38.6 285.7h0M50.8 295.4h0M47.4 296.9h0M49.1 294.8h0M40.7 292.5h0M56.8 297.6h0M46.0 285.5h0M67.0 283.2h0M52.8 311.7h0M59.2 276.2h0M51.4 286.5h0M59.8 292.0h0M71.0 281.5h0M43.5 298.3h0M52.4 284.9h0M78.2 306.0h0M46.2 287.6h0M50.6 289.1h0M52.8 269.3h0M54.0 299.6h0M59.4 294.2h0M64.2 289.9h0M46.3 285.8h0M56.9 267.9h0M39.4 291.8h0M37.6 289.8h0M68.9 302.5h0M52.6 292.6h0M46.5 294.2h0M49.2 291.0h0M48.4 297.6h0M54.8 296.8h0M65.9 289.2h0M58.8 284.6h0M32.3 281.2h0M54.4 284.1h0M65.2 300.8h0M48.9 283.1h0M47.6 292.8h0M34.8 278.5h0M61.9 305.0h0M46.0 288.9h0M34.6 300.2h0M62.0 295.0h0M48.5 301.2h0M44.7 292.6h0M40.7 305.4h0M60.6 295.7h0M50.9 284.7h0M63.4 279.2h0M60.1 301.6h0M55.6 298.7h0M37.8 295.5h0M58.2 301.4h0M46.2 258.1h0M57.0 300.8h0M61.8 289.9h0M49.7 299.4h0M54.9 299.7h0M71.2 300.8h0M61.5 294.7h0M51.3 276.3h0M62.0 291.6h0M58.5 293.9h0M37.4 293.8h0M54.4 315.5h0M63.4 286.6h0M48.4 290.5h0M50.6 305.2h0M47.5 304.9h0M45.5 301.6h0M69.8 301.8h0M44.7 294.0h0M55.8 292.5h0M44.1 294.9h0M44.7 293.2h0M50.5 278.0h0M58.0 301.3h0M58.4 296.5h0M47.0 298.5h0M58.0 308.6h0M48.1 298.0h0M50.9 289.6h0M50.5 281.3h0M58.9 304.6h0M59.6 277.8h0M50.6 293.2h0M61.8 299.8h0M55.6 284.7h0M58.1 288.8h0M62.0 282.2h0M58.0 291.9h0M61.9 295.9h0M43.3 292.1h0M76.6 312.6h0M55.2 297.8h0M65.5 304.3h0M47.2 280.0h0M68.3 297.7h0M70.0 313.9h0M53.1 276.8h0M55.1 282.2h0M51.5 288.5h0M38.3 285.5h0M56.4 299.9h0M53.0 282.3h0M64.5 307.3h0M55.9 285.4h0M44.2 300.7h0M57.7 302.0h0M54.1 294.1h0M57.5 288.2h0M58.2 276.8h0M53.8 304.0h0M47.2 283.7h0M54.1 292.0h0M64.6 292.8h0M54.6 294.9h0M63.8 304.9h0M62.2 277.1h0M54.7 286.1h0M47.0 294.6h0M50.2 296.3h0M50.6 298.0h0M71.2 300.8h0M40.1 291.7h0M62.5 295.4h0M53.0 301.6h0M42.6 295.0h0M55.0 281.1h0M64.1 292.8h0M48.7 281.6h0M41.6 298.6h0M36.9 276.9h0M57.4 304.6h0M63.3 288.7h0M55.3 292.6h0M64.1 280.5h0M42.0 277.7h0M56.9 281.8h0M54.6 293.8h0M75.7 315.2h0M67.3 299.5h0M41.0 292.4h0M35.0 294.1h0M43.6 284.7h0M58.9 282.6h0M45.5 301.8h0M42.3 281.6h0M76.3 273.5h0M65.5 280.7h0M53.6 296.3h0M43.8 298.3h0M45.9 300.2h0M45.5 287.0h0M58.3 305.9h0M49.3 306.1h0M39.1 294.7h0M41.9 307.7h0M51.1 278.4h0M42.5 295.5h0M61.0 295.0h0M52.0 290.0h0M67.3 289.6h0M34.0 282.5h0M54.4 286.3h0M40.8 283.5h0M44.5 294.3h0M61.0 310.3h0M57.2 292.6h0M50.1 280.5h0M69.7 283.7h0M55.6 285.8h0M64.6 304.0h0M47.8 287.8h0M54.7 276.2h0M59.7 289.4h0M49.3 282.3h0M57.1 287.2h0M50.1 281.4h0M51.4 285.7h0M41.1 291.5h0M63.7 302.3h0M47.0 282.2h0M64.0 296.3h0M57.4 292.2h0M52.3 276.8h0M49.3 291.3h0M43.9 305.1h0M52.1 293.9h0M46.1 280.5h0M73.3 297.2h0M66.6 297.2h0M41.1 314.1h0M46.6 303.7h0M75.4 278.3h0M40.0 267.5h0M60.5 296.0h0M64.3 302.0h0M46.3 301.2h0M56.2 288.2h0M64.8 307.9h0M51.6 307.2h0M79.5 284.9h0M36.1 301.7h0M64.3 283.1h0M53.8 285.5h0M63.1 300.4h0M63.1 292.9h0M59.7 300.1h0M52.8 280.5h0M53.5 292.1h0M46.5 281.7h0M58.7 284.0h0M53.6 294.5h0M40.1 289.1h0M50.0 287.0h0M33.6 280.5h0M79.1 289.2h0M49.7 297.1h0M43.8 289.6h0M63.8 287.6h0M33.3 285.2h0M60.8 294.8h0M48.6 296.5h0M42.6 291.4h0M64.5 304.7h0M48.5 294.2h0M56.8 307.9h0M60.4 291.7h0M51.2 302.8h0M59.9 285.3h0M48.4 267.6h0M49.0 281.2h0M50.5 291.6h0M67.0 280.1h0M57.6 281.8h0M50.9 295.8h0M58.9 279.4h0M55.3 284.9h0M72.9 301.1h0M60.9 305.1h0M62.2 272.8h0M78.6 277.7h0M43.0 274.8h0M67.8 300.4h0M50.3 302.3h0M50.4 267.3h0M64.4 290.9h0M57.3 293.9h0M44.1 301.3h0M44.2 266.7h0M61.6 289.3h0M38.9 270.6h0M44.2 272.9h0M68.2 293.5h0M54.8 294.7h0M45.5 309.2h0M45.8 294.7h0M49.8 285.1h0M69.6 297.7h0M58.1 308.5h0M59.1 273.0h0M45.4 281.7h0M58.1 290.6h0M59.2 279.8h0M47.2 299.7h0M50.4 286.6h0M55.0 304.2h0M60.0 291.6h0M60.0 309.7h0M42.3 302.1h0M53.6 309.0h0M61.8 308.7h0M62.1 292.4h0M46.1 284.5h0M45.2 282.5h0M48.0 293.8h0M47.1 298.0h0M48.8 309.3h0M54.0 292.4h0M44.8 289.3h0M66.9 309.5h0M58.0 278.4h0M59.2 291.0h0M67.1 292.3h0M62.2 287.3h0M49.5 288.8h0M47.0 286.6h0M59.8 310.3h0M50.2 299.8h0M55.3 296.7h0M61.4 298.7h0M57.4 291.5h0M64.9 294.8h0M33.2 289.7h0M41.8 298.0h0M37.4 291.5h0M56.7 282.4h0M48.3 303.8h0M65.5 289.1h0M59.1 292.4h0M55.5 280.7h0M53.8 279.9h0M64.5 299.2h0M37.9 300.1h0M50.9 291.7h0M59.9 277.4h0M41.4 287.9h0M59.5 300.6h0M73.5 289.6h0M65.3 290.0h0M54.1 283.3h0M59.7 291.8h0M53.3 292.9h0M58.0 302.5h0M53.6 285.8h0M62.4 290.3h0M50.4 297.8h0M64.8 293.5h0M43.0 300.6h0M33.5 268.9h0M79.4 295.0h0M67.1 299.2h0M51.0 294.8h0M61.3 312.5h0M51.5 282.4h0M61.3 283.5h0M62.2 298.2h0M54.8 292.8h0M57.0 311.9h0M53.6 291.3h0M38.5 289.8h0M48.6 306.9h0M56.0 291.8h0M55.1 278.5h0M58.1 295.8h0M50.1 293.1h0M62.3 285.2h0M64.2 294.3h0M39.7 273.3h0M47.4 292.4h0M47.4 284.3h0M53.8 290.6h0M62.8 297.5h0M51.6 290.9h0M44.3 289.4h0M57.6 297.4h0M58.1 297.9h0M49.8 290.8h0M53.0 282.3h0M74.5 278.4h0M69.7 290.2h0M52.5 283.7h0M52.8 287.5h0M74.4 290.1h0M55.3 294.5h0M48.3 300.2h0M56.7 287.5h0M49.5 279.9h0M56.3 294.9h0M80.0 287.5h0M55.6 290.1h0M55.4 277.1h0M64.6 303.7h0M38.6 297.9h0M55.2 290.1h0M58.3 285.4h0M52.4 290.5h0M60.0 292.3h0M63.2 295.9h0M62.3 291.8h0M44.0 287.4h0M42.1 290.9h0M76.5 289.3h0M44.8 301.9h0M48.4 273.3h0M49.6 275.6h0M50.2 295.4h0M56.0 293.9h0M64.0 298.6h0M73.0 305.5h0M52.6 295.5h0M40.4 286.4h0M59.7 294.8h0M51.2 294.3h0M67.5 295.3h0M55.5 306.1h0M55.5 311.4h0M59.9 294.7h0M65.7 286.1h0M57.2 295.0h0M60.8 291.1h0M52.3 284.5h0M31.0 281.4h0M43.5 294.0h0M63.5 276.6h0M40.6 303.9h0M47.7 302.1h0M50.9 288.2h0M52.5 276.8h0M48.7 305.9h0M63.8 291.6h0M77.9 282.7h0M74.6 299.7h0M48.3 289.8h0M41.8 314.1h0M51.4 298.2h0M41.3 294.1h0M67.9 280.2h0M53.7 301.9h0M39.6 277.5h0M41.3 290.1h0M42.1 304.4h0M65.3 287.4h0M50.9 295.0h0M61.9 287.8h0M37.1 297.9h0M60.3 298.1h0M44.5 300.2h0M56.2 309.8h0M54.1 302.9h0M55.5 303.5h0M50.8 284.1h0M49.6 298.5h0M45.5 290.1h0M44.4 288.5h0M51.2 310.8h0M54.9 303.4h0M48.0 265.1h0M69.3 289.3h0M58.8 275.1h0M44.0 295.9h0M39.3 299.0h0M58.3 302.9h0M72.6 293.5h0M62.5 283.2h0M42.8 274.5h0M51.4 312.1h0M47.3 294.7h0M40.2 296.6h0M60.7 279.8h0M51.0 307.3h0M40.6 298.6h0M46.6 278.6h0M47.1 307.0h0M63.7 290.7h0M53.5 305.5h0M65.1 303.4h0M74.3 281.8h0M50.9 282.8h0M63.2 313.0h0M31.7 303.2h0M40.3 281.7h0M56.0 300.5h0M48.3 280.9h0M57.3 306.5h0M64.8 297.4h0M49.1 305.1h0M48.2 293.7h0M58.6 292.9h0M68.6 298.5h0M57.0 294.6h0M60.7 284.1h0M48.8 290.2h0M40.6 300.8h0M48.3 270.8h0M46.1 284.4h0M53.8 281.1h0M80.4 293.7h0M65.1 293.5h0M67.3 274.0h0M62.3 284.6h0M64.4 295.2h0M76.7 302.9h0M70.0 300.2h0M68.5 302.3h0M72.0 291.5h0M53.1 286.7h0M71.0 283.5h0M49.7 279.1h0M46.3 281.7h0M46.6 292.4h0M57.9 273.5h0M50.5 291.3h0M56.8 302.8h0M53.1 294.1h0M59.8 280.6h0M47.8 279.9h0M52.6 277.2h0M36.2 291.1h0M52.1 301.4h0M46.3 291.8h0M49.8 308.7h0M78.2 287.7h0M54.1 279.3h0M65.1 298.2h0M54.3 289.9h0M31.4 278.7h0M50.8 293.9h0M49.8 272.6h0M54.3 286.0h0M64.5 281.4h0M54.4 305.9h0M50.8 274.8h0M53.8 296.1h0M76.2 289.8h0M54.7 285.2h0M45.4 299.3h0M34.2 288.5h0M66.4 284.4h0M68.5 294.1h0M60.9 280.2h0M75.2 297.8h0M64.6 304.0h0M39.3 272.2h0M61.0 285.0h0M49.0 302.7h0M47.0 290.4h0M66.3 315.9h0M42.9 296.7h0M75.8 285.9h0M67.3 279.8h0M57.4 259.5h0M71.6 294.7h0M39.6 296.3h0M44.1 305.1h0M55.1 284.1h0M71.5 297.3h0M39.8 289.7h0M59.4 296.5h0M58.7 301.2h0M48.8 274.5h0M66.7 301.5h0M53.6 303.6h0M56.0 296.1h0M46.1 289.3h0M33.7 301.6h0M65.9 279.8h0M53.3 282.5h0M71.3 302.6h0M69.3 298.1h0M67.1 280.6h0M58.8 298.5h0M55.0 287.1h0M64.9 286.7h0M38.1 289.0h0M49.8 292.6h0M45.7 280.7h0M45.8 303.0h0M45.1 293.3h0M64.4 280.1h0M64.9 294.4h0M62.6 290.9h0M49.4 286.3h0M41.1 287.0h0M41.2 282.1h0M44.0 307.3h0M54.0 298.9h0M55.2 292.1h0M52.6 284.5h0M47.1 290.2h0M56.4 296.2h0M41.6 274.2h0M37.4 287.1h0M70.3 289.3h0M56.0 279.6h0M60.6 301.5h0M55.7 281.3h0M64.0 267.6h0M54.6 295.9h0M34.7 287.2h0M52.7 279.2h0M54.9 287.5h0M71.1 283.3h0M68.0 288.4h0M41.0 285.7h0M46.2 280.1h0M57.7 288.9h0M53.4 288.5h0M53.9 289.4h0M48.2 294.1h0M48.8 299.6h0M49.2 273.2h0M48.8 294.9h0M55.0 302.5h0M61.7 273.7h0M39.2 311.3h0M64.5 298.8h0M55.4 290.2h0M49.7 297.5h0M48.7 299.2h0M69.5 296.1h0M49.9 293.7h0M40.8 289.4h0M57.9 280.5h0M44.2 296.5h0M39.1 301.9h0M50.6 291.6h0M68.9 275.8h0M49.4 266.9h0M77.2 277.9h0M56.7 293.3h0M47.1 286.2h0M68.1 271.8h0M61.4 307.1h0M47.0 273.5h0M48.2 304.2h0M50.2 284.4h0M38.9 293.7h0M62.2 285.3h0M34.8 286.3h0M44.7 297.1h0M47.9 289.1h0M59.8 294.3h0M52.6 302.1h0M46.7 281.4h0M51.5 290.9h0M56.1 301.3h0M55.7 278.2h0M56.5 284.6h0M67.5 293.0h0M56.3 293.9h0M69.9 285.9h0M57.8 295.5h0M68.6 286.6h0M55.2 282.6h0M63.3 297.4h0M52.1 286.9h0M62.5 297.3h0M57.2 305.7h0M36.4 295.4h0M42.1 293.2h0M68.0 284.8h0M51.4 306.0h0M38.5 277.6h0M58.1 282.3h0M54.6 289.8h0M40.1 290.0h0M53.3 281.5h0M56.8 305.9h0M44.7 300.3h0M51.7 277.8h0M49.6 287.8h0M62.0 286.0h0M66.6 289.8h0M57.0 314.1h0M69.1 298.4h0M47.2 275.3h0M57.8 301.2h0M55.9 285.7h0M43.8 293.6h0M35.9 271.3h0M34.6 299.3h0M67.1 294.4h0M39.2 296.6h0M41.3 276.6h0M44.4 290.5h0M44.9 282.9h0M32.3 283.6h0M55.5 277.6h0M40.5 276.7h0M51.1 265.3h0M66.3 282.8h0M59.3 293.6h0M59.8 288.3h0M54.7 288.0h0M42.3 282.7h0M46.9 273.1h0M53.3 276.1h0M63.6 305.0h0M63.9 298.6h0M53.5 274.8h0M68.3 282.1h0M61.5 291.0h0M37.4 300.9h0M54.1 282.5h0M62.2 299.5h0M48.5 279.3h0M58.2 286.6h0M53.9 302.4h0M58.7 303.5h0M54.4 278.1h0M61.7 279.2h0M55.7 273.7h0M46.6 298.8h0M43.6 287.7h0M49.5 299.3h0M33.4 296.6h0M46.9 292.3h0M46.9 296.6h0M39.5 287.9h0M57.5 294.8h0M54.0 289.9h0M50.7 288.8h0M44.7 290.8h0M37.9 272.2h0M63.7 280.1h0M42.5 282.2h0M59.3 294.6h0M68.1 279.5h0M68.5 293.4h0M61.6 291.4h0M47.6 286.6h0M66.9 295.5h0M63.5 281.1h0M54.4 293.4h0M37.3 290.3h0M56.7 276.6h0M38.8 276.3h0M46.8 300.5h0M65.6 301.8h0M49.4 287.1h0M29.9 303.8h0M49.1 299.9h0M46.4 303.0h0M58.9 274.5h0M47.8 281.1h0M53.1 289.6h0M48.3 277.3h0M31.8 289.3h0M44.1 302.9h0M50.2 295.3h0M37.7 285.1h0M61.4 290.6h0M45.3 267.4h0M56.8 290.1h0M46.2 312.0h0M60.8 297.4h0M59.3 272.6h0M74.1 309.7h0M57.9 296.1h0M65.0 298.1h0M40.2 298.9h0M42.9 306.6h0M41.0 294.2h0M54.6 310.7h0M53.8 277.9h0M48.7 306.8h0M49.3 293.7h0M53.4 300.8h0M43.3 299.1h0M64.1 297.6h0M61.9 312.9h0M60.9 275.7h0M43.8 293.5h0M74.0 298.0h0M53.6 255.6h0M53.9 270.1h0M29.4 301.6h0M56.4 289.6h0M66.0 307.2h0M50.3 296.3h0M38.2 279.5h0M43.8 285.2h0M42.8 287.9h0M34.4 305.3h0M61.2 288.8h0M63.6 286.8h0M37.5 272.8h0M63.8 298.6h0M61.2 268.7h0M58.6 312.0h0M50.7 303.7h0M65.3 277.2h0M41.0 263.1h0M47.2 266.4h0M64.4 289.0h0M61.9 288.8h0M54.0 310.7h0M65.6 287.4h0M52.6 282.2h0M52.8 289.1h0M56.1 287.2h0M37.1 292.7h0M45.0 286.7h0M45.3 286.2h0M56.1 293.3h0M42.4 294.3h0M65.8 293.9h0M55.8 289.5h0M56.5 299.1h0M67.1 297.3h0M63.4 290.5h0M62.5 305.2h0M49.3 306.9h0M47.4 280.2h0M38.8 297.4h0M68.2 303.1h0M79.0 280.5h0M44.5 288.7h0M63.0 302.6h0M50.8 303.3h0M64.2 295.3h0M44.0 279.1h0M55.7 284.1h0M55.5 277.0h0M63.3 280.7h0M58.8 305.6h0M61.9 278.8h0M55.3 271.7h0M66.5 302.9h0M58.9 292.8h0M44.1 279.0h0M51.8 274.0h0M53.3 300.5h0M77.5 307.8h0M47.8 280.3h0M59.7 297.2h0M45.1 283.0h0M39.4 285.7h0M47.5 300.4h0M58.2 286.0h0M43.1 299.9h0M58.7 293.6h0M62.9 289.5h0M48.5 288.4h0M56.5 290.7h0M57.5 292.6h0M57.0 281.5h0M61.6 286.7h0M36.6 287.3h0M59.5 285.7h0M56.6 285.9h0M54.2 296.0h0M55.1 280.0h0M76.5 262.5h0M56.4 298.6h0M62.6 294.9h0M36.0 295.0h0M56.5 303.1h0" stroke="#3838c8" stroke-width="0.90" stroke-linecap="round" fill="none" opacity="1"/><path d="M67.3 280.5h0M59.5 279.4h0M63.0 277.2h0M49.1 303.7h0M53.6 287.4h0M79.1 272.7h0M71.4 279.2h0M57.6 281.3h0M49.5 278.1h0M66.8 268.5h0M61.1 293.3h0M69.0 268.4h0M69.9 285.3h0M51.4 279.5h0M73.9 268.0h0M69.5 291.8h0M62.0 274.9h0M45.3 277.5h0M57.5 275.6h0M79.4 281.6h0M36.5 295.0h0M55.9 283.4h0M46.4 292.1h0M60.7 257.8h0M62.7 284.6h0M66.8 277.9h0M68.3 281.2h0M56.1 302.1h0M65.2 279.2h0M45.1 290.5h0M59.0 291.3h0M64.9 274.9h0M61.5 286.0h0M45.4 281.5h0M42.5 280.5h0M83.7 267.9h0M37.4 290.9h0M65.6 277.2h0M57.7 269.1h0M67.9 268.5h0M64.8 271.7h0M58.7 292.6h0M57.4 284.8h0M60.3 296.8h0M59.7 292.4h0M73.6 289.1h0M64.7 271.7h0M67.7 265.4h0M44.6 301.2h0M61.8 284.7h0M49.0 292.9h0M61.6 274.0h0M52.7 284.5h0M57.5 267.5h0M57.9 287.6h0M58.1 285.3h0M62.5 291.1h0M54.9 287.9h0M80.1 264.0h0M75.6 294.5h0M76.4 280.8h0M62.0 275.5h0M73.5 270.4h0M74.1 267.8h0M59.5 266.7h0M47.2 261.8h0M66.2 278.9h0M62.5 276.4h0M67.9 294.6h0M80.0 293.2h0M69.9 276.6h0M62.7 262.8h0M83.5 275.3h0M72.2 272.9h0M44.9 282.5h0M62.2 262.0h0M59.6 297.2h0M66.1 281.1h0M54.7 300.8h0M73.2 266.1h0M71.6 276.0h0M64.4 282.5h0M65.7 298.3h0M44.7 285.6h0M46.4 280.6h0M67.1 282.1h0M54.5 277.6h0M77.1 292.3h0M53.0 279.5h0M61.5 277.3h0M77.4 281.8h0M72.7 268.5h0M61.1 269.8h0M83.2 281.3h0M51.8 290.4h0M57.9 266.7h0M62.5 276.3h0M55.0 277.2h0M78.0 280.5h0M46.6 289.3h0M56.3 287.4h0M48.9 267.9h0M65.0 277.7h0M44.8 295.4h0M66.7 277.8h0M62.1 290.4h0M60.7 292.8h0M71.7 265.3h0M72.9 281.1h0M77.5 280.2h0M48.6 286.4h0M54.6 282.9h0M60.9 286.3h0M48.4 279.5h0M73.0 285.0h0M62.7 282.4h0M74.8 258.3h0M69.6 270.3h0M58.0 276.6h0M69.3 287.5h0M79.8 280.4h0M68.8 282.1h0M72.8 271.8h0M60.3 294.1h0M77.0 283.6h0M76.4 269.8h0M69.5 270.2h0M56.0 272.8h0M54.9 280.3h0M61.2 290.2h0M69.2 277.9h0M65.8 296.8h0M64.4 288.7h0M72.1 266.0h0M51.2 285.0h0M55.8 255.8h0M67.8 289.7h0M75.2 287.2h0M43.9 279.8h0M66.9 279.7h0M53.9 277.8h0M60.3 272.8h0M57.4 265.8h0M77.7 274.0h0M53.7 283.0h0M48.7 259.4h0M55.3 288.4h0M67.3 270.4h0M81.4 273.4h0M51.0 297.4h0M71.5 280.4h0M38.0 283.2h0M60.4 266.5h0M75.2 281.1h0M56.3 280.5h0M63.8 288.1h0M73.1 273.5h0M57.7 281.3h0M32.2 287.9h0M60.7 285.0h0M66.0 266.7h0M61.0 271.7h0M66.4 286.4h0M64.2 271.0h0M59.9 288.7h0M71.3 280.7h0M63.9 291.7h0M71.7 263.9h0M74.2 267.0h0M58.0 280.1h0M54.7 274.4h0M66.9 291.5h0M51.9 286.0h0M48.7 284.9h0M56.8 278.1h0M56.3 287.4h0M53.6 288.1h0M60.7 289.0h0M56.5 282.7h0M75.2 283.2h0M73.5 275.0h0M63.0 280.4h0M70.7 265.2h0M52.4 279.2h0M65.1 281.2h0M93.3 269.3h0M65.7 287.7h0M49.8 277.2h0M72.3 270.1h0M61.8 269.8h0M50.4 266.5h0M65.0 284.9h0M72.4 269.7h0M72.8 293.4h0M60.7 273.8h0M54.4 291.3h0M37.8 291.6h0M59.1 285.1h0M36.8 291.0h0M62.6 282.7h0M51.8 284.0h0M77.8 267.3h0M43.8 290.5h0M74.1 264.2h0M62.5 275.6h0M68.8 282.8h0M76.8 278.9h0M83.4 279.3h0M69.9 267.7h0M54.9 254.1h0M72.4 258.9h0M64.2 288.4h0M63.7 278.7h0M59.2 287.2h0M49.6 284.6h0M61.9 287.9h0M58.8 289.6h0M74.3 267.3h0M54.8 290.5h0M66.6 280.5h0M55.6 267.2h0M45.7 296.2h0M44.5 280.0h0M65.0 275.0h0M52.0 269.3h0M48.0 280.9h0M62.2 278.0h0M42.4 291.5h0M56.6 294.0h0M49.5 273.5h0M48.5 308.5h0M51.7 289.3h0M79.1 277.0h0M62.0 274.5h0M60.9 283.9h0M50.1 278.2h0M72.1 282.1h0M78.3 245.5h0M72.1 289.6h0M43.3 285.5h0M57.4 297.4h0M41.8 275.5h0M42.8 291.4h0M69.9 272.7h0M47.5 296.3h0M40.5 292.7h0M52.7 296.6h0M45.5 304.4h0M66.7 282.0h0M56.7 269.2h0M62.8 272.0h0M57.6 275.6h0M61.0 284.9h0M58.6 305.4h0M60.8 275.0h0M53.8 288.3h0M47.3 289.5h0M66.3 292.7h0M66.0 292.2h0M64.8 283.2h0M70.6 272.2h0M81.9 275.9h0M54.2 291.6h0M56.1 287.0h0M61.6 269.6h0M50.3 286.4h0M68.9 272.0h0M71.6 285.8h0M47.6 280.1h0M67.6 274.6h0M79.3 284.7h0M73.7 286.1h0M59.4 280.6h0M62.0 279.5h0M43.2 287.6h0M68.4 267.7h0M71.3 279.1h0M69.5 273.6h0M57.1 289.4h0M52.8 268.7h0M54.2 287.2h0M46.5 272.1h0M63.0 269.4h0M47.3 294.1h0M58.1 290.4h0M67.9 304.3h0M55.6 289.1h0M69.5 274.6h0M58.8 285.9h0M60.1 305.0h0M58.1 287.3h0M64.5 293.7h0M59.0 287.4h0M66.1 271.3h0M65.3 281.9h0M72.2 290.0h0M68.4 288.0h0M69.9 289.0h0M76.9 275.0h0M74.7 251.2h0M59.2 277.9h0M58.3 283.2h0M55.2 277.1h0M58.5 277.6h0M70.7 280.7h0M58.7 269.5h0M87.3 272.2h0M46.3 277.8h0M81.1 267.7h0M36.9 294.5h0M62.1 287.2h0M73.3 280.2h0M59.8 280.1h0M68.5 276.5h0M57.2 290.5h0M65.2 273.4h0M64.3 280.6h0M54.6 295.3h0M63.6 292.4h0M77.9 287.6h0M71.2 272.6h0M66.0 274.7h0M44.2 282.9h0M56.6 281.5h0M62.9 267.7h0M52.9 272.9h0M62.9 272.7h0M68.7 287.7h0M80.6 268.1h0M71.6 290.0h0M68.9 282.8h0M54.4 281.4h0M64.7 276.0h0M54.1 291.9h0M79.4 274.7h0M59.9 291.0h0M58.6 280.8h0M62.8 272.2h0M66.2 272.6h0M64.5 270.6h0M62.1 284.8h0M58.8 274.7h0M56.4 293.1h0M69.3 268.6h0M47.6 269.9h0M75.3 272.1h0M56.1 265.5h0M71.3 287.2h0M71.8 291.5h0M64.0 271.0h0" stroke="#5858d8" stroke-width="0.90" stroke-linecap="round" fill="none" opacity="1"/><path d="M94.8 306.7h0M94.3 312.8h0M78.1 281.9h0M78.2 295.0h0M75.1 260.4h0M77.0 300.5h0M59.8 261.1h0M70.3 285.5h0M65.6 267.1h0M73.2 309.2h0M78.1 301.7h0M50.7 256.5h0M73.6 296.2h0M71.4 265.3h0M43.7 258.8h0M39.0 291.5h0M77.9 266.0h0M39.1 282.9h0M94.8 309.3h0M90.9 294.9h0M82.3 255.5h0M68.0 290.7h0M45.8 284.4h0M71.7 310.0h0M56.3 292.1h0M88.0 289.2h0M66.5 304.4h0M46.9 281.6h0M75.4 264.0h0M52.5 285.7h0M64.2 313.3h0M51.5 262.0h0M64.6 260.3h0M92.6 313.5h0M38.2 311.9h0M36.9 302.1h0M51.2 268.0h0M65.2 293.3h0M99.9 263.0h0M71.3 279.1h0M59.7 296.5h0M58.6 296.6h0M36.5 284.0h0M39.5 303.6h0M53.9 269.1h0M54.8 270.0h0M91.4 256.2h0M51.6 305.1h0M34.9 285.7h0M42.9 290.7h0M43.5 276.4h0M72.6 287.9h0M53.1 312.8h0M93.0 309.3h0M68.1 282.0h0M82.1 279.0h0M92.1 304.9h0M94.9 283.3h0M97.5 255.8h0M52.1 300.1h0M93.3 284.6h0M58.5 279.6h0M62.7 277.9h0M53.5 302.2h0M49.5 302.7h0M42.3 282.0h0M37.1 269.9h0M79.5 291.6h0M57.4 301.8h0M40.4 272.3h0M89.9 261.9h0M92.0 278.5h0M93.4 280.1h0M33.2 258.8h0M40.9 269.6h0M81.8 293.8h0M98.3 259.5h0M39.8 310.1h0M79.8 262.3h0M55.3 298.9h0M66.8 281.8h0M87.4 275.8h0M99.4 306.3h0M37.6 311.5h0M75.6 267.1h0M87.5 302.4h0M45.1 295.3h0M68.4 256.6h0M61.7 296.3h0M66.0 293.9h0M74.3 302.5h0M45.4 270.4h0M82.5 309.7h0M34.0 285.7h0M99.6 300.5h0M93.8 308.2h0M80.1 283.6h0M84.8 300.2h0M46.2 277.9h0M55.0 281.3h0M88.8 260.4h0M41.1 292.4h0M41.3 284.6h0M92.4 289.0h0M45.8 312.1h0M98.0 298.1h0M86.5 260.1h0M75.8 264.8h0M94.0 276.3h0M51.9 291.0h0M72.0 276.8h0M82.2 297.5h0M80.8 286.3h0M78.8 310.1h0M62.6 263.5h0M61.6 312.8h0M76.8 288.9h0M94.2 295.1h0M67.3 264.2h0M82.7 300.9h0" stroke="#6a6ad0" stroke-width="0.80" stroke-linecap="round" fill="none" opacity="1"/><path d="M41.2 297.1C42.2 295.8 44 294.6 46.1 294.2C48.2 293.8 51.5 294.2 53.9 294.7C56.4 295.2 59 296 60.8 297.1C62.6 298.2 64.2 299.6 64.7 301C65.2 302.5 65 304.5 63.7 305.9C62.4 307.3 59.6 308.7 56.9 309.3C54.1 310 49.6 310.2 47.1 309.8C44.6 309.4 42.9 308.2 41.7 306.9C40.6 305.6 40.3 303.6 40.3 302C40.2 300.4 40.3 298.4 41.2 297.1Z" fill="#3a3ae0" opacity="1" filter="url(#b08)"/><path d="M42.6 297.7C43.4 296.6 45 295.5 46.8 295.2C48.7 294.8 51.5 295.2 53.6 295.6C55.8 296 58 296.8 59.6 297.7C61.2 298.6 62.6 299.8 63 301.1C63.4 302.4 63.3 304.2 62.1 305.4C61 306.6 58.6 307.8 56.2 308.3C53.8 308.9 49.9 309.1 47.7 308.8C45.5 308.4 44 307.4 43 306.2C42 305.1 41.8 303.4 41.7 302C41.7 300.6 41.7 298.9 42.6 297.7Z" fill="#1010ff" filter="url(#b03)"/><path d="M53.6 309.0h0M43.5 304.4h0M42.8 300.6h0M48.4 293.4h0M62.0 296.5h0M63.3 302.6h0M46.1 306.5h0M60.1 297.5h0M61.5 306.5h0M60.9 307.5h0M51.9 297.2h0M54.7 309.8h0M44.2 308.9h0M39.9 303.0h0M60.1 309.0h0M62.3 303.0h0M44.3 309.3h0M41.3 300.6h0M44.9 292.2h0M58.4 298.6h0M57.2 295.7h0M60.4 306.8h0M41.0 298.1h0M55.9 298.1h0M58.5 307.3h0M44.4 308.1h0M59.7 304.9h0M62.8 302.3h0M59.1 297.5h0M57.8 295.3h0M63.1 303.3h0M49.6 294.8h0M61.7 303.3h0M42.9 302.1h0M63.5 298.9h0M56.8 295.5h0M43.2 301.7h0M52.2 293.8h0M46.3 308.5h0M60.7 306.8h0M63.4 304.1h0M62.9 302.7h0M47.0 308.1h0M55.4 297.8h0M63.5 300.9h0M41.5 301.9h0M49.8 309.1h0M45.7 296.6h0M56.5 307.9h0M42.8 306.6h0M44.4 297.1h0M47.4 293.2h0M44.3 295.6h0M58.7 307.7h0M63.6 302.7h0M43.3 297.2h0M50.6 296.7h0M56.4 305.4h0M47.0 309.6h0M41.8 301.1h0M50.5 294.7h0M45.0 306.6h0M47.8 294.8h0M49.5 294.6h0M49.3 305.9h0M59.6 307.0h0M40.7 308.2h0M62.6 307.3h0M54.7 294.1h0M57.8 309.3h0M60.8 297.1h0M64.2 303.6h0M41.6 296.7h0M58.3 300.2h0M58.1 306.0h0M50.8 308.2h0M62.6 297.9h0M62.6 308.0h0M40.4 304.5h0M61.1 303.3h0M55.8 308.9h0M60.9 296.6h0M41.0 298.7h0M64.0 298.4h0M44.7 307.5h0M45.6 296.7h0M42.6 298.4h0M63.4 301.3h0M50.1 294.4h0M51.6 293.8h0M44.5 297.0h0M57.5 305.7h0M49.1 297.3h0M39.6 300.9h0M59.6 308.2h0M46.8 294.9h0M55.4 309.7h0M42.9 301.0h0M39.5 296.7h0M45.0 298.6h0M45.8 307.0h0M56.1 295.8h0M43.8 307.3h0M64.1 299.7h0M57.7 297.6h0M41.0 304.4h0M63.1 304.5h0M60.1 296.2h0M41.4 298.7h0M65.4 300.4h0M62.4 299.0h0M42.2 302.4h0M38.5 301.0h0M62.0 296.9h0M59.4 296.8h0M41.5 303.1h0M50.2 295.8h0M43.5 296.6h0M45.9 307.6h0M41.1 301.6h0M59.5 298.6h0M52.6 310.0h0M49.1 295.0h0M54.4 309.3h0M54.4 296.6h0M40.5 297.8h0M62.3 300.5h0M40.5 306.0h0M45.5 295.5h0M45.0 293.7h0M38.7 300.7h0M58.0 296.7h0M61.1 297.2h0M58.2 299.2h0M50.0 295.7h0M45.2 295.9h0M50.6 295.1h0M40.7 300.3h0M63.4 306.3h0M54.3 295.3h0M56.6 294.9h0M43.9 296.7h0M58.7 297.1h0M62.0 299.2h0M61.0 304.4h0M49.1 295.1h0M60.4 307.1h0M55.0 295.0h0M39.4 299.4h0M48.0 309.8h0M62.6 305.6h0M44.8 295.8h0M43.4 294.2h0M42.7 302.2h0M46.4 297.1h0M58.8 294.4h0M47.8 294.8h0M42.3 305.7h0M39.7 305.3h0M43.9 299.6h0M42.1 305.3h0M39.4 300.1h0M56.1 296.8h0M48.2 308.5h0M63.8 299.8h0M38.8 300.8h0M58.8 306.0h0M46.2 307.3h0M43.7 307.8h0M50.8 308.6h0M42.9 302.9h0M49.7 295.5h0M47.9 309.6h0M42.7 307.8h0M44.8 295.4h0M62.4 300.9h0M42.0 297.1h0M60.6 294.2h0M53.9 295.2h0M59.5 297.7h0M49.6 309.0h0M46.5 294.2h0M61.2 306.9h0M52.8 308.0h0M62.5 301.7h0M61.1 299.5h0M55.6 309.7h0M48.2 311.1h0M48.3 296.5h0M39.7 301.4h0M58.5 296.1h0M49.2 295.9h0M43.9 294.3h0M47.5 308.8h0M46.3 295.4h0M58.7 297.8h0M58.6 308.5h0M57.5 296.6h0M44.3 293.7h0M52.3 309.3h0M51.1 296.6h0M52.1 310.5h0M46.2 307.7h0M42.2 303.5h0M47.1 295.2h0M51.9 292.9h0M58.0 294.7h0M41.5 300.2h0M44.1 306.0h0M42.8 306.8h0M41.8 301.4h0M61.2 298.1h0M46.5 293.6h0M45.2 307.7h0M41.5 296.2h0M49.5 309.8h0M40.6 306.5h0M57.0 296.5h0M44.2 297.3h0M44.3 308.5h0M43.4 296.8h0M53.8 295.2h0M57.7 294.9h0M59.0 298.2h0M62.7 297.3h0M40.1 300.4h0M51.2 309.3h0M51.3 294.1h0M55.9 309.4h0M43.1 305.6h0M44.5 297.2h0M45.4 307.3h0M63.6 301.0h0M59.7 308.0h0M59.6 298.3h0M60.6 307.7h0M53.9 296.2h0M42.3 304.9h0M40.6 303.4h0M58.6 296.3h0M63.7 298.6h0M53.7 294.6h0M50.1 306.0h0M43.1 297.6h0M54.4 296.6h0M43.2 298.3h0M46.8 305.3h0M59.1 309.6h0M43.1 305.8h0M53.1 294.7h0" stroke="#2020d0" stroke-width="1.00" stroke-linecap="round" fill="none" opacity="1"/><path d="M56.2 265.3C56.7 263.7 58.3 262.9 60 262.2C61.7 261.4 63.8 261.1 66.3 260.8C68.9 260.4 72.2 260.2 75.2 260.2C78.3 260.2 82.4 260.1 84.7 260.8C87.1 261.4 88.3 262.3 89.3 263.9C90.3 265.5 90.9 268 90.8 270.4C90.7 272.7 90.1 275.6 88.7 278C87.3 280.3 84.5 282.6 82.3 284.4C80 286.2 77.5 288.7 75.2 288.5C73 288.3 70.9 285 68.8 283.2C66.7 281.4 64.3 279.5 62.4 277.6C60.4 275.8 58.1 274.2 57.1 272.1C56.1 270.1 55.7 267 56.2 265.3Z" fill="#ffb0b0" opacity="0.85" filter="url(#b08)"/><path d="M58.7 266.2C59.1 264.8 60.5 264.1 62 263.5C63.5 262.9 65.2 262.6 67.4 262.3C69.6 262 72.4 261.8 75 261.8C77.6 261.8 81.1 261.8 83.1 262.3C85.1 262.8 86.1 263.6 87 265C87.9 266.4 88.4 268.5 88.3 270.5C88.2 272.5 87.7 275 86.5 277C85.3 279 82.9 281 81 282.5C79.1 284 76.9 286.2 75 286C73.1 285.8 71.3 283.1 69.5 281.5C67.7 279.9 65.7 278.3 64 276.7C62.3 275.1 60.4 273.8 59.5 272C58.6 270.2 58.3 267.6 58.7 266.2Z" fill="#ff1010" filter="url(#b03)"/><path d="M75.2 286.6h0M57.0 269.1h0M77.7 285.1h0M78.9 285.6h0M85.5 263.4h0M72.9 285.3h0M61.2 275.9h0M58.6 266.2h0M87.5 268.2h0M90.2 269.2h0M57.5 265.8h0M57.7 271.1h0M59.5 263.8h0M81.9 282.3h0M84.3 263.0h0M74.5 285.3h0M82.0 284.4h0M73.8 260.8h0M83.2 261.8h0M62.8 277.8h0M57.5 270.6h0M59.6 272.8h0M81.3 284.8h0M85.0 263.9h0M67.6 260.9h0M60.3 265.4h0M60.4 273.6h0M69.9 284.0h0M80.0 285.5h0M72.8 286.0h0M57.6 265.3h0M83.3 261.9h0M72.7 283.7h0M77.0 261.2h0M65.1 261.6h0M87.1 278.6h0M87.8 268.6h0M57.9 264.1h0M70.1 283.0h0M62.2 276.9h0M86.4 263.1h0M73.9 260.6h0M78.6 284.6h0M88.0 265.8h0M71.5 283.5h0M89.3 274.8h0M69.4 262.0h0M86.1 263.6h0M69.7 262.4h0M72.0 283.3h0M68.6 282.8h0M88.2 274.9h0M79.5 260.8h0M86.2 262.0h0M68.5 282.4h0M88.6 275.2h0M63.8 278.7h0M67.7 261.3h0M75.4 285.4h0M62.5 262.6h0M87.9 269.7h0M58.5 264.8h0M70.2 283.2h0M59.2 269.6h0M78.0 261.0h0M88.1 274.6h0M57.4 265.6h0M87.3 276.9h0M58.1 268.9h0M89.2 265.8h0M58.5 264.3h0M65.9 262.5h0M70.9 261.9h0M76.2 285.0h0M81.6 261.3h0M69.3 282.8h0M69.4 283.4h0M57.4 268.8h0M77.3 261.6h0M69.0 261.1h0M89.6 269.2h0M74.2 260.4h0M65.2 261.2h0M80.6 283.2h0M87.6 272.9h0M83.4 261.8h0M68.2 262.4h0M69.1 281.5h0M77.0 287.3h0M66.5 261.8h0M59.1 264.0h0M67.8 282.3h0M86.6 276.3h0M69.7 281.6h0M88.6 273.8h0M83.2 280.9h0M78.4 286.6h0M59.4 265.0h0M87.0 275.1h0M80.4 261.7h0M68.1 281.0h0M83.5 279.5h0M86.8 279.6h0M70.3 282.9h0M59.1 271.8h0M85.1 280.4h0M89.1 266.0h0M57.6 265.1h0M87.8 269.0h0M63.6 261.5h0M82.5 283.0h0M63.7 276.8h0M65.7 280.4h0M65.8 280.6h0M71.2 261.7h0M64.0 276.9h0M74.7 287.5h0M59.4 270.5h0M77.9 262.0h0M72.8 261.8h0M77.2 261.0h0M69.9 261.7h0M70.5 284.2h0M70.2 282.9h0M87.7 276.7h0M77.0 261.9h0M85.9 279.6h0M87.1 274.5h0M73.4 260.4h0M88.7 277.0h0M57.3 265.6h0M76.4 262.1h0M65.6 261.0h0M62.1 263.3h0M60.4 265.2h0M69.9 282.3h0M70.9 262.3h0M85.8 278.4h0M58.8 265.9h0M77.1 262.1h0M59.1 268.7h0M79.1 284.0h0M62.2 263.0h0M90.2 268.7h0M70.9 261.3h0M87.1 275.4h0M86.2 278.9h0M85.9 278.9h0M78.5 284.4h0M87.5 264.3h0M59.2 265.4h0M78.4 285.3h0M58.2 264.3h0M58.9 268.7h0M61.4 274.1h0M78.9 285.6h0M78.0 262.2h0M74.7 287.6h0M86.9 265.2h0M86.8 277.2h0M74.9 287.5h0M72.7 285.2h0M79.6 284.9h0M71.9 284.4h0M70.0 282.0h0M88.2 269.2h0M86.4 279.7h0M59.1 269.0h0M88.8 276.2h0M80.8 283.8h0M68.1 261.6h0M75.0 260.8h0M62.9 277.7h0M82.6 282.7h0M90.7 270.7h0M87.8 272.3h0M88.1 275.5h0M78.3 261.2h0M86.4 262.9h0M64.2 279.0h0M70.5 284.4h0M62.5 261.9h0M62.7 275.0h0M56.9 265.6h0M58.7 268.5h0M80.3 283.1h0M76.3 262.1h0M60.9 275.0h0M66.4 279.8h0M88.4 269.8h0M83.0 261.1h0M87.5 277.0h0M89.3 271.8h0M83.6 281.5h0M84.9 281.6h0M75.8 287.5h0M86.6 278.8h0M59.1 265.4h0M78.5 261.1h0M59.3 273.1h0M89.2 275.8h0M82.5 261.1h0M78.7 262.2h0M69.2 262.0h0M62.2 276.5h0M89.3 273.4h0M57.8 266.6h0M89.6 266.2h0M74.1 260.6h0M89.1 274.6h0M56.9 267.0h0M78.0 285.8h0M88.3 272.7h0M72.8 284.5h0M58.5 270.8h0M86.0 279.0h0M62.5 274.6h0M85.2 280.6h0M86.1 262.5h0M74.6 262.0h0M88.3 263.8h0M78.9 261.0h0M58.4 270.6h0M64.3 262.1h0M85.8 264.6h0M64.6 261.2h0M77.5 284.8h0M58.3 264.2h0M86.7 279.5h0M87.0 265.8h0M73.7 287.1h0M69.3 261.9h0M65.1 279.2h0M84.9 279.0h0M61.6 262.5h0M83.9 280.9h0M66.7 279.4h0M65.6 261.4h0M86.0 263.1h0M58.8 272.3h0M77.8 284.9h0M69.5 261.2h0M87.9 267.8h0M62.9 277.5h0M76.4 287.1h0M59.3 270.4h0M59.6 262.9h0M63.2 262.6h0M88.9 270.5h0M66.3 278.6h0M85.7 264.3h0M89.4 271.6h0M81.3 282.1h0M65.3 280.1h0M89.5 273.2h0M73.8 285.2h0M58.5 268.6h0M87.0 264.5h0M86.2 278.5h0M77.2 260.9h0" stroke="#ff1010" stroke-width="1.00" stroke-linecap="round" fill="none" opacity="1"/><path d="M74.7 287.1h0M81.2 282.0h0M82.0 285.4h0M75.1 261.8h0M79.2 260.0h0M61.5 274.0h0M57.1 270.2h0M66.2 261.4h0M61.9 263.9h0M87.2 275.7h0M56.4 271.3h0M59.0 270.3h0M64.4 262.7h0M57.1 268.7h0M81.1 283.4h0M57.5 268.5h0M63.1 261.3h0M76.3 285.7h0M68.0 261.0h0M62.3 275.4h0M74.1 287.9h0M59.0 263.2h0M63.5 278.5h0M61.3 261.4h0M74.3 286.6h0M81.6 283.9h0M88.4 270.0h0M63.8 262.7h0M69.1 283.7h0M80.0 283.4h0M63.3 263.0h0M57.0 268.1h0M81.9 262.3h0M63.2 276.2h0M69.1 282.2h0M72.1 285.1h0M81.3 261.6h0M76.4 286.5h0M72.3 285.9h0M79.3 286.1h0M59.9 275.7h0M84.0 282.1h0M71.7 285.5h0M70.3 283.5h0M80.9 261.7h0M75.8 260.5h0M85.7 277.6h0M85.5 260.6h0M78.9 284.2h0M58.0 267.2h0M66.1 261.8h0M73.1 286.0h0M57.5 270.2h0M69.0 281.9h0M76.6 288.6h0M88.8 269.9h0M88.7 276.9h0M60.3 273.0h0M87.0 264.6h0M67.3 281.7h0M80.7 285.7h0M77.0 261.1h0M71.6 284.6h0M64.8 263.1h0M90.2 266.6h0M58.1 266.5h0M86.4 262.1h0M82.8 262.4h0M86.1 262.3h0M88.4 268.0h0M58.4 262.7h0M79.6 261.3h0M67.3 281.6h0M70.3 283.6h0M68.9 261.1h0M63.5 261.9h0M65.5 278.8h0M86.9 278.7h0M64.1 276.6h0M81.5 261.0h0M62.2 275.3h0M77.0 260.6h0M90.5 273.9h0M74.8 287.4h0M80.3 284.5h0M91.4 270.3h0M73.5 286.2h0M69.7 282.7h0M76.3 286.0h0M72.7 283.8h0M58.1 270.0h0M75.0 261.1h0M62.7 263.6h0M55.8 268.2h0M85.0 261.8h0M86.3 278.1h0M80.5 283.4h0M56.5 271.5h0M77.0 260.5h0M59.1 273.9h0M59.6 264.3h0M79.2 284.7h0M60.9 276.6h0M65.1 278.2h0M89.4 273.3h0M86.9 275.3h0M87.1 273.8h0M72.2 283.8h0M71.3 284.1h0M61.4 274.5h0M88.2 272.2h0M63.0 262.3h0M58.8 267.8h0M90.6 273.9h0M66.3 260.7h0M59.1 271.9h0M71.4 261.3h0M90.8 267.7h0M72.9 285.8h0M74.6 286.3h0M80.1 284.0h0M58.3 271.7h0M67.5 261.0h0M70.5 282.5h0M62.6 278.2h0M73.6 261.3h0M67.4 279.8h0M82.8 281.0h0M83.4 282.3h0M60.3 261.6h0M57.0 265.6h0M88.2 275.3h0M74.9 286.8h0M74.0 285.5h0M74.4 261.9h0M87.8 273.7h0M74.5 287.9h0M62.3 274.9h0M76.3 260.3h0M90.1 266.7h0" stroke="#a03a5a" stroke-width="0.90" stroke-linecap="round" fill="none" opacity="1"/><path d="M54.8 264.9C55.3 263.1 57.2 262.3 59 261.5C60.8 260.6 63.1 260.3 65.8 260C68.5 259.6 72.1 259.3 75.4 259.3C78.7 259.3 83 259.3 85.6 260C88.1 260.6 89.4 261.6 90.5 263.4C91.6 265.1 92.2 267.8 92.1 270.3C92 272.8 91.4 276 89.8 278.5C88.3 281 85.3 283.5 82.9 285.4C80.5 287.3 77.8 290 75.4 289.8C72.9 289.6 70.7 286.1 68.4 284.1C66.1 282.2 63.6 280.1 61.5 278.1C59.4 276.1 56.9 274.4 55.8 272.2C54.7 270 54.3 266.7 54.8 264.9Z" fill="none" stroke="#3a3a3a" stroke-width="0.7" opacity="1"/><text x="58.8" y="251.5" font-size="6.98" font-weight="bold" fill="#000" stroke="#000" stroke-width="0.2" textLength="47.0" lengthAdjust="spacingAndGlyphs">HLA-DR+ CD38+</text><path d="M73.4 379.5h0M72.4 370.8h0M59.7 366.4h0M82.9 375.2h0M56.0 385.3h0M81.0 372.5h0M63.1 375.4h0M80.1 387.1h0M85.3 383.2h0M76.7 367.1h0M66.4 382.5h0M59.6 378.0h0M82.8 380.4h0M83.4 372.3h0M59.7 370.9h0M78.8 364.7h0M84.8 377.5h0M68.3 368.1h0M71.0 367.9h0M65.0 368.8h0M52.7 381.9h0M73.6 383.4h0M72.8 404.1h0M67.2 374.9h0M73.8 388.7h0M62.9 380.9h0M74.4 377.1h0M82.3 360.5h0M62.9 385.9h0M67.8 371.7h0M57.8 371.6h0M92.0 370.0h0M59.1 364.0h0M70.7 382.4h0M63.6 368.4h0M65.5 376.3h0M82.1 396.7h0M76.2 369.3h0M62.0 358.7h0M73.7 360.9h0M75.1 374.4h0M68.7 383.9h0M74.6 393.5h0M85.8 380.7h0M62.6 374.8h0M59.3 386.7h0M75.1 361.9h0M65.9 373.5h0M73.0 378.3h0M82.7 375.7h0M79.0 378.8h0M69.0 386.3h0M63.7 380.7h0M88.5 385.9h0M83.1 373.9h0M70.2 388.6h0M95.1 380.7h0M82.3 374.0h0M62.1 387.9h0M63.1 365.0h0M83.0 374.6h0M55.8 376.1h0M53.8 371.1h0M60.1 378.4h0M51.7 373.3h0M64.9 373.8h0M68.6 368.6h0M80.4 376.2h0M59.8 372.4h0M55.7 376.4h0M68.6 371.5h0M77.6 392.2h0M80.5 377.7h0M46.7 379.2h0M77.0 389.1h0M68.0 383.3h0M65.1 359.3h0M51.6 375.3h0M88.4 360.1h0M80.5 381.6h0M78.2 357.8h0M71.2 382.1h0M55.3 376.9h0M53.2 369.1h0M80.1 372.4h0M80.8 378.1h0M76.5 371.5h0M66.9 368.1h0M80.3 366.5h0M73.8 372.4h0M63.8 381.5h0M78.0 369.8h0M52.0 365.2h0M63.7 367.6h0M76.9 366.5h0M84.9 379.5h0M85.2 378.4h0M59.5 370.3h0M73.3 377.9h0M84.6 396.2h0M63.2 363.1h0M55.9 371.9h0M68.7 367.9h0M71.0 375.2h0M59.5 376.8h0M68.2 380.6h0M68.8 375.9h0M62.0 359.7h0M56.5 373.2h0M76.8 383.3h0M60.8 375.3h0M83.0 388.7h0M76.4 380.1h0M66.3 393.2h0M79.9 387.5h0M88.9 379.4h0M57.8 379.1h0M57.4 386.9h0M66.4 370.2h0M94.6 367.9h0M79.5 372.5h0M81.7 370.9h0M90.0 372.5h0M58.7 382.8h0M75.0 369.8h0M48.0 381.1h0M94.8 378.7h0M68.5 396.2h0M80.1 376.8h0M80.0 385.4h0M75.9 363.3h0M67.0 355.2h0M80.1 377.3h0M83.2 385.9h0M70.0 376.9h0M75.7 378.3h0M51.7 366.7h0M87.5 390.0h0M78.8 397.1h0M82.1 376.7h0M72.9 382.6h0M84.2 384.8h0M68.1 385.0h0M56.2 365.9h0M75.5 371.7h0M78.7 385.1h0M96.0 373.3h0M82.2 377.1h0M66.8 364.4h0M65.6 389.7h0M68.1 382.0h0M57.2 375.7h0M85.7 389.2h0M78.9 364.9h0M70.2 377.7h0M66.9 379.9h0M59.8 362.3h0M41.1 395.3h0M63.6 363.6h0M76.5 360.3h0M60.9 377.6h0M84.6 376.5h0M62.5 390.1h0M67.3 364.1h0M74.5 367.3h0M65.6 368.5h0M58.5 385.4h0M75.3 369.3h0M69.3 365.6h0M82.0 392.4h0M75.8 383.7h0M77.9 397.2h0M47.3 372.9h0M60.9 370.4h0M77.6 366.2h0M71.4 383.3h0M63.8 380.5h0M76.7 385.7h0M78.8 378.7h0M69.1 373.9h0M69.2 362.3h0M87.0 375.2h0M56.3 384.1h0M41.9 374.4h0M68.7 383.3h0M79.6 354.4h0M83.8 375.4h0M63.4 373.4h0M82.7 375.9h0M81.3 369.6h0M54.9 377.8h0M69.3 374.4h0M86.0 385.9h0M71.8 387.5h0M88.4 377.6h0M67.7 385.6h0M62.4 375.7h0M63.3 384.2h0M82.7 367.3h0M75.1 397.3h0M70.9 351.3h0M65.7 370.6h0M80.8 384.0h0M59.5 378.8h0M88.3 383.8h0M82.8 381.7h0M55.8 363.7h0M77.5 395.2h0M54.5 381.9h0M73.4 391.5h0M68.6 375.1h0M54.0 391.4h0M87.6 377.7h0M72.6 379.4h0M66.5 385.9h0M57.7 370.3h0M82.0 368.1h0M73.1 378.4h0M63.9 388.2h0M67.5 362.5h0" stroke="#cc6060" stroke-width="0.90" stroke-linecap="round" fill="none" opacity="1"/><path d="M86.3 381.6h0M76.3 381.2h0M81.3 387.1h0M76.6 388.4h0M78.5 390.0h0M71.0 381.8h0M78.8 381.6h0M71.6 389.6h0M77.8 382.4h0M81.3 386.4h0M77.9 379.5h0M71.9 392.7h0M74.4 382.8h0M81.9 387.8h0M79.1 386.7h0M78.1 398.1h0M74.1 389.0h0M79.3 393.2h0M81.3 383.8h0M74.3 384.5h0M87.8 377.6h0M71.3 390.6h0M74.6 375.5h0M74.1 393.4h0M75.0 389.3h0M87.0 389.3h0M81.1 389.3h0M79.1 386.5h0M80.9 381.9h0M84.0 395.9h0M77.0 385.8h0M81.0 382.1h0M82.8 383.9h0M80.9 385.8h0M79.4 394.6h0M89.6 387.0h0M72.6 384.1h0M77.4 386.5h0M93.5 382.1h0M83.5 382.7h0M84.6 378.5h0M77.0 393.4h0M70.6 388.2h0M77.2 377.8h0M75.9 386.4h0M78.9 390.0h0M81.8 381.6h0M71.4 383.8h0M79.0 389.9h0M71.0 389.5h0M80.6 383.2h0M68.1 385.4h0M87.6 389.3h0M82.4 376.5h0M67.1 384.6h0M85.1 381.7h0M86.6 389.8h0M75.1 387.7h0M75.2 386.7h0M84.3 384.3h0M62.5 387.1h0M66.6 390.4h0M62.7 398.9h0M82.5 382.1h0M67.6 389.0h0M81.0 387.3h0M88.4 387.5h0M77.2 382.3h0M75.6 405.0h0M74.4 387.1h0" stroke="#b07070" stroke-width="0.80" stroke-linecap="round" fill="none" opacity="1"/><ellipse cx="73.5" cy="363.5" rx="18.5" ry="15.5" transform="rotate(-12 73.5 363.5)" fill="none" stroke="#333" stroke-width="0.7" opacity="1"/><path d="M52.8 360.9C54.1 359.3 57 358.2 59.6 357.1C62.1 356 65.1 355.1 68.1 354.2C71.2 353.2 74.9 351.6 77.7 351.3C80.6 351 83.6 351.2 85.4 352.3C87.2 353.5 88 355.5 88.4 358C88.7 360.6 88.1 364.8 87.3 367.6C86.5 370.5 85.2 373.2 83.6 375.3C82 377.4 79.8 379.1 77.7 380.1C75.6 381.1 73.2 381.6 71 381.1C68.8 380.6 66.9 378.7 64.4 377.2C61.8 375.8 57.8 374.2 55.7 372.4C53.6 370.7 52.4 368.5 51.9 366.6C51.4 364.7 51.6 362.5 52.8 360.9Z" fill="#ffa0a0" opacity="0.8" filter="url(#b08)"/><path d="M55.3 361.6C56.4 360.2 58.9 359.3 61.1 358.3C63.3 357.3 65.9 356.6 68.5 355.8C71.2 354.9 74.3 353.6 76.8 353.3C79.3 353 81.9 353.2 83.4 354.2C84.9 355.1 85.7 356.9 86 359.1C86.2 361.3 85.8 364.9 85.1 367.4C84.4 369.9 83.2 372.2 81.8 374C80.5 375.8 78.6 377.3 76.8 378.1C75 378.9 72.9 379.4 71 379C69.1 378.6 67.5 376.9 65.3 375.6C63.1 374.4 59.6 373 57.8 371.5C56 370 55 368.2 54.5 366.5C54.1 364.8 54.2 362.9 55.3 361.6Z" fill="#ff1010" filter="url(#b03)"/><path d="M53.0 362.7h0M60.6 374.6h0M67.1 354.6h0M81.3 353.6h0M60.1 372.6h0M84.1 353.1h0M63.1 356.4h0M83.6 369.7h0M84.9 369.2h0M55.8 367.8h0M70.5 355.2h0M54.5 362.5h0M54.4 360.8h0M67.7 355.1h0M79.1 377.7h0M85.4 357.4h0M79.1 378.0h0M61.2 373.9h0M68.9 377.4h0M78.4 377.5h0M64.5 376.1h0M71.2 380.5h0M76.3 377.8h0M83.1 370.8h0M85.3 371.6h0M56.0 372.2h0M73.5 380.6h0M67.8 378.4h0M85.4 366.6h0M86.0 355.9h0M52.8 364.9h0M78.3 378.7h0M76.2 380.0h0M56.8 372.8h0M83.7 369.9h0M85.0 364.8h0M79.8 376.8h0M54.8 368.1h0M66.3 376.6h0M86.2 369.3h0M55.6 362.0h0M62.3 356.2h0M87.1 360.9h0M86.8 367.9h0M70.9 353.6h0M79.0 377.3h0M86.8 359.9h0M59.4 373.9h0M66.9 376.4h0M52.8 366.5h0M85.5 369.8h0M54.4 367.4h0M54.6 361.8h0M84.1 369.3h0M82.7 375.9h0M54.6 362.5h0M54.7 370.8h0M86.2 366.4h0M75.3 353.2h0M83.8 354.0h0M86.1 368.1h0M52.7 364.3h0M87.9 359.2h0M55.3 371.7h0M78.1 352.4h0M84.8 355.8h0M83.8 369.6h0M85.1 365.2h0M87.3 363.0h0M83.5 372.3h0M85.9 368.5h0M62.9 356.9h0M64.7 357.2h0M81.1 376.5h0M54.6 362.7h0M53.8 364.2h0M58.4 371.5h0M67.5 378.1h0M78.5 353.9h0M71.8 379.0h0M77.0 353.5h0M82.6 374.5h0M84.3 371.2h0M79.1 377.2h0M57.2 370.9h0M72.7 378.4h0M85.8 360.8h0M55.9 361.5h0M67.3 355.5h0M60.2 372.9h0M79.9 353.2h0M82.4 376.0h0M86.8 363.3h0M84.9 354.3h0M86.8 361.1h0M56.6 371.4h0M79.2 376.8h0M82.1 373.7h0M57.7 371.7h0M85.5 355.9h0M75.3 378.2h0M62.3 373.8h0M80.9 374.8h0M78.6 376.6h0M86.4 364.1h0M69.6 353.9h0M53.7 362.2h0M79.5 375.9h0M77.4 351.8h0M65.8 376.9h0M85.9 358.3h0M53.2 365.0h0M84.7 370.2h0M86.3 354.5h0M67.1 377.0h0M74.1 379.5h0M60.8 357.5h0M86.8 366.8h0M85.5 370.2h0M85.5 353.7h0M56.7 372.8h0M69.5 355.0h0M72.9 379.5h0M68.1 377.9h0M57.6 370.7h0M56.2 360.4h0M54.3 363.3h0M68.0 378.1h0M65.6 377.0h0M64.6 356.6h0M87.1 367.1h0M64.7 376.3h0M70.2 353.9h0M65.4 377.1h0M53.7 366.1h0M60.4 357.5h0M84.6 371.7h0M74.0 379.5h0M78.1 378.9h0M86.6 368.0h0M57.2 370.3h0M65.2 375.4h0M84.8 353.9h0M74.3 378.2h0M80.0 353.3h0M72.3 380.7h0M57.7 359.3h0M85.5 362.4h0M76.9 379.2h0M83.2 371.8h0M72.4 379.5h0M59.0 374.0h0M55.4 370.6h0M64.6 376.8h0M86.3 365.0h0M66.4 378.2h0M83.9 369.0h0M55.5 360.0h0M71.1 354.9h0M85.1 367.5h0M83.6 373.8h0M69.7 380.1h0M53.9 364.0h0M87.8 360.8h0M86.6 360.7h0M79.2 378.6h0M80.5 352.1h0M61.9 358.3h0M80.7 375.7h0M55.4 371.4h0M84.4 369.0h0M82.6 353.3h0M71.0 381.1h0M86.8 368.2h0M59.5 357.3h0M73.1 354.2h0M85.4 371.0h0M63.0 356.9h0M54.2 362.0h0M84.2 373.3h0M84.7 353.8h0M77.3 377.9h0M70.6 378.8h0M64.1 377.0h0M60.0 374.1h0M74.8 352.7h0M84.0 353.2h0M86.8 362.5h0M84.5 353.8h0M84.0 355.1h0M85.5 360.3h0M83.4 375.1h0M76.2 353.6h0M69.6 354.3h0M77.9 353.7h0M76.0 378.3h0M67.1 377.4h0M86.1 365.2h0M85.6 354.2h0M86.6 362.9h0M55.4 371.3h0M74.2 379.2h0M86.5 363.8h0M68.5 354.6h0M78.7 378.0h0M60.3 357.6h0M52.8 367.8h0M85.8 367.5h0M54.4 365.3h0M78.2 352.3h0M53.9 367.6h0M79.8 377.0h0M86.3 365.0h0M86.3 357.8h0M81.4 375.7h0M85.0 366.0h0M60.3 358.6h0M58.5 372.5h0M86.2 363.2h0M63.0 374.0h0M52.7 362.5h0M55.5 370.5h0M75.9 379.9h0M63.9 375.1h0M87.5 357.1h0M62.3 375.2h0M82.8 372.2h0M66.7 377.0h0M54.9 371.1h0M53.4 366.3h0M68.1 377.8h0M66.6 356.1h0M87.3 362.5h0M75.5 379.4h0M71.7 354.8h0M83.1 371.8h0M83.1 370.8h0M83.3 352.2h0M53.7 362.0h0M85.8 360.0h0M53.2 362.1h0M69.4 378.6h0M74.0 352.9h0M79.2 377.8h0M65.0 376.2h0M87.5 359.2h0M57.1 359.8h0M53.0 363.9h0M70.6 355.2h0M67.9 355.3h0M80.2 376.4h0M53.2 361.3h0M87.5 358.8h0M79.7 353.3h0M86.2 355.6h0M57.2 370.2h0M67.3 355.9h0M80.3 375.3h0M65.0 355.3h0M80.0 351.8h0M57.1 360.4h0M59.4 357.8h0M85.9 362.1h0M70.4 378.6h0M52.4 366.3h0M77.2 377.7h0M55.7 371.9h0M84.8 356.3h0M85.7 357.4h0M52.8 362.2h0M65.3 376.7h0M83.9 355.8h0M64.1 375.2h0M67.7 376.9h0M74.6 352.7h0M66.4 376.9h0M79.2 353.6h0M86.6 359.5h0M55.3 362.0h0M53.1 363.1h0M55.3 364.3h0M87.6 358.4h0M80.6 376.4h0M73.9 380.1h0M85.6 362.2h0M53.6 368.4h0M61.6 374.5h0M85.3 364.0h0M84.3 371.8h0M56.0 371.3h0M65.3 356.3h0M56.3 371.6h0M81.2 353.8h0M81.3 353.7h0M65.4 356.6h0M84.9 354.0h0M52.5 364.9h0M81.1 377.2h0M87.3 363.1h0M81.7 375.3h0M85.7 353.1h0M63.8 376.7h0M86.6 363.1h0M81.2 376.2h0M55.4 371.9h0M85.4 364.4h0M54.6 362.4h0M63.0 374.6h0M87.8 357.9h0M83.5 354.0h0M53.0 361.8h0M68.8 379.7h0M87.3 359.3h0M85.2 371.5h0M74.8 379.4h0M85.5 354.5h0M71.4 355.0h0M87.3 367.5h0M71.6 380.6h0M68.0 354.7h0M67.6 356.2h0M78.0 379.0h0M56.9 372.7h0M86.0 361.4h0M84.6 353.2h0M85.4 363.2h0M60.1 359.2h0M74.5 378.6h0M77.0 351.8h0M87.0 367.6h0" stroke="#ff1010" stroke-width="1.00" stroke-linecap="round" fill="none" opacity="1"/><path d="M69.2 354.7h0M66.5 378.2h0M57.4 373.0h0M55.7 371.9h0M55.3 360.7h0M80.3 352.2h0M85.9 353.0h0M87.5 364.3h0M86.5 362.7h0M86.9 368.9h0M86.2 357.3h0M84.5 352.8h0M61.2 374.5h0M64.0 356.1h0M70.2 378.9h0M59.6 359.0h0M70.3 380.3h0M62.4 375.1h0M72.7 380.9h0M62.8 375.7h0M60.8 357.1h0M59.7 358.6h0M80.0 378.5h0M71.5 379.0h0M75.3 379.9h0M85.3 366.2h0M86.1 365.5h0M65.3 378.2h0M74.6 380.8h0M58.4 358.9h0M78.4 379.3h0M85.9 367.0h0M78.8 378.9h0M76.4 351.6h0M86.8 360.9h0M75.5 378.5h0M81.3 375.7h0M56.1 370.3h0M58.3 357.4h0M81.3 353.1h0M88.1 360.7h0M57.9 359.2h0M87.9 368.3h0M56.2 372.8h0M54.9 369.7h0M57.0 360.2h0M53.2 362.8h0M53.6 365.8h0M56.0 361.0h0M84.9 371.4h0M85.4 357.2h0M72.3 380.0h0M62.3 376.3h0M87.7 362.4h0M86.5 363.5h0M87.0 360.3h0M78.9 351.8h0M54.7 371.3h0M67.9 354.0h0M54.4 369.5h0M78.2 352.5h0M68.2 379.0h0M76.7 378.8h0M87.4 355.9h0M62.9 356.5h0M55.6 368.1h0M86.1 371.1h0M76.9 379.1h0M65.3 354.8h0M52.0 361.1h0M85.3 351.7h0M64.0 375.2h0M61.6 356.6h0M67.8 380.0h0M60.0 357.8h0M81.2 353.1h0M75.8 352.4h0M85.4 360.5h0M54.5 365.0h0M77.6 353.8h0M64.3 355.8h0M61.8 358.0h0M86.8 360.0h0M86.5 370.1h0M85.9 372.2h0M85.4 367.1h0M52.5 363.3h0M84.3 370.2h0M63.3 356.4h0M87.8 355.2h0M64.6 355.1h0M72.2 380.0h0M88.8 359.0h0M77.2 380.5h0M71.0 354.2h0M65.6 355.0h0M62.0 374.6h0M76.6 378.5h0M85.1 371.7h0M63.0 357.4h0M61.4 358.5h0M76.6 352.3h0M69.3 379.6h0M53.7 364.8h0M69.6 379.4h0M81.1 351.9h0M56.2 368.7h0M52.2 368.2h0M77.3 353.7h0M80.3 377.9h0M83.1 370.6h0M87.0 369.0h0M87.5 366.3h0M76.2 379.6h0M53.0 368.8h0M72.6 380.7h0M69.8 378.9h0M68.5 355.7h0M81.5 351.7h0M53.6 367.0h0" stroke="#c04050" stroke-width="0.90" stroke-linecap="round" fill="none" opacity="1"/><path d="M64.9 359.1h0M88.8 366.3h0M75.7 351.2h0M59.7 371.7h0M88.9 362.4h0M63.1 375.7h0M86.3 352.8h0M50.3 362.1h0M48.2 361.8h0M62.6 357.4h0M52.7 358.1h0M55.9 372.7h0M58.1 371.5h0M88.9 354.4h0M83.3 351.8h0M83.5 353.5h0M71.7 382.0h0M51.2 365.7h0M69.4 379.5h0M79.4 377.1h0M85.2 349.3h0M58.2 373.6h0M58.8 355.6h0M85.9 351.1h0M61.5 360.2h0M86.8 357.1h0M69.7 381.7h0M56.4 360.4h0M86.5 370.6h0M66.3 355.9h0M86.8 368.3h0M58.2 376.2h0M75.7 378.7h0M75.6 378.4h0M79.3 379.9h0M86.7 366.4h0M69.2 357.2h0M89.0 372.3h0M81.9 350.2h0M64.4 378.3h0M80.8 372.5h0M90.8 355.4h0M88.8 368.0h0M80.3 380.1h0M76.6 355.9h0M65.0 356.6h0M76.0 379.1h0M74.5 348.5h0M54.5 370.8h0M50.4 364.5h0M65.9 374.5h0M53.5 362.7h0M85.0 361.5h0M54.8 355.6h0M76.0 380.5h0M82.4 378.1h0M87.2 367.3h0M83.6 351.0h0M67.3 386.0h0M68.7 379.6h0M66.8 376.7h0M87.1 366.5h0M86.3 357.6h0M88.5 367.0h0M77.6 379.4h0M72.1 381.6h0M85.9 351.6h0M80.3 351.1h0M65.6 382.5h0M88.7 360.0h0M79.8 353.3h0M53.7 366.1h0M54.5 357.3h0M87.8 366.9h0M57.5 369.2h0M55.1 370.1h0M63.7 375.4h0M66.0 357.0h0M56.3 367.1h0M60.1 357.5h0M87.5 371.4h0M61.8 376.4h0M55.8 355.7h0M81.8 370.2h0M84.7 366.3h0M76.6 380.0h0M58.7 377.8h0M74.2 376.1h0M84.4 372.9h0M87.4 360.6h0M58.5 360.1h0M83.0 351.4h0M78.3 376.7h0M90.1 363.9h0M72.7 381.5h0M75.9 380.7h0M74.0 383.0h0M64.9 377.0h0M84.5 354.2h0M90.3 359.5h0M78.7 349.5h0M61.5 373.9h0M90.1 365.5h0M64.0 352.6h0M82.5 373.2h0M67.1 352.9h0M74.1 380.8h0M51.5 364.7h0M73.1 355.3h0M87.9 353.6h0M85.0 352.5h0M68.7 353.8h0M84.0 349.4h0M64.4 355.7h0M89.5 367.8h0M84.4 373.3h0M71.2 353.6h0M76.1 379.7h0M53.6 367.3h0M73.3 381.9h0M85.4 355.9h0M53.0 360.8h0M89.6 362.6h0M67.1 378.1h0M73.7 380.5h0M53.7 362.1h0M51.6 365.7h0M88.7 363.4h0M56.8 356.1h0M85.6 351.5h0M53.9 369.5h0M54.6 360.9h0M88.1 354.9h0M51.8 362.6h0M88.0 373.0h0M84.9 372.3h0M53.2 368.6h0M73.3 353.9h0M70.6 380.5h0M86.7 365.9h0M87.1 372.6h0M66.7 379.5h0M83.4 352.5h0M47.3 364.6h0M61.9 358.1h0M83.5 351.5h0M59.8 358.2h0M70.1 350.6h0M56.3 368.7h0M87.6 360.9h0M54.8 364.0h0M48.5 372.2h0M87.2 364.7h0M56.3 371.8h0M80.2 374.9h0M69.1 380.6h0M83.1 374.2h0M92.5 367.6h0M61.2 355.5h0M85.8 364.8h0M90.0 364.9h0M86.9 371.7h0M55.0 366.8h0M88.5 363.8h0M53.4 358.9h0M86.2 365.4h0M86.5 353.8h0M79.1 375.4h0M82.3 349.4h0M86.4 352.3h0M85.4 352.9h0M86.7 359.5h0M71.0 350.9h0M53.7 362.9h0M72.8 358.0h0M81.5 366.3h0M59.6 360.5h0M61.9 360.7h0M81.1 376.4h0M86.4 356.0h0M82.0 350.1h0M56.2 372.3h0M63.9 356.6h0M61.6 376.9h0M89.3 356.4h0M85.6 372.0h0M64.6 379.3h0M85.0 374.2h0M51.3 367.0h0M77.3 354.9h0M75.4 383.2h0M60.7 376.7h0M64.2 353.7h0M71.0 377.2h0M74.0 355.1h0M77.6 349.6h0M66.6 376.4h0M66.6 376.3h0M83.3 375.6h0M53.1 359.1h0M56.7 373.3h0M84.7 356.1h0M63.7 378.3h0M84.9 374.5h0M61.5 370.8h0M55.6 358.3h0M64.1 355.4h0M60.3 357.8h0M80.5 352.6h0M62.4 376.8h0M74.0 352.8h0M85.1 361.4h0M57.5 373.0h0M73.7 379.0h0M73.6 383.3h0M54.6 371.8h0M55.6 366.3h0M57.1 371.3h0M56.3 371.9h0M49.8 362.0h0" stroke="#e83030" stroke-width="0.90" stroke-linecap="round" fill="none" opacity="1"/><text x="59.8" y="343.5" font-size="6.98" font-weight="bold" fill="#000" stroke="#000" stroke-width="0.2" textLength="46.0" lengthAdjust="spacingAndGlyphs">HLA-DR+ CD38+</text><path d="M187.6 249.9h0M184.5 252.1h0M182.8 261.7h0M181.3 242.8h0M175.6 248.4h0M181.4 250.0h0M192.7 253.2h0M169.3 249.4h0M183.3 253.0h0M189.8 247.4h0M194.5 243.6h0M181.9 249.6h0M173.7 256.1h0M183.8 255.9h0M181.0 243.4h0M189.2 253.7h0M186.5 251.2h0M171.2 252.3h0M191.6 252.5h0M174.4 251.3h0M192.5 257.6h0M177.5 253.8h0M179.6 264.9h0M185.4 247.3h0M188.6 259.3h0M189.7 250.5h0M192.8 260.4h0M185.6 255.7h0M180.7 257.9h0M188.1 248.0h0M179.7 257.7h0M183.8 252.6h0M179.1 247.4h0M195.8 255.4h0M183.2 257.5h0M187.0 255.1h0M179.2 254.0h0M182.9 246.1h0M171.4 254.7h0" stroke="#9a9a9a" stroke-width="0.90" stroke-linecap="round" fill="none" opacity="1"/><path d="M169.1 293.5h0M171.2 284.4h0M203.1 283.8h0M222.9 292.9h0M197.7 286.7h0M188.6 280.0h0M170.3 306.2h0M208.6 280.0h0M216.0 287.5h0M189.0 260.6h0M169.1 299.8h0M201.3 275.8h0M165.1 296.8h0M229.9 297.6h0M206.5 265.8h0M209.0 272.1h0M183.3 290.1h0M176.1 283.9h0M176.2 265.9h0M189.4 290.6h0M192.4 284.4h0M192.3 287.4h0M212.1 314.4h0M182.0 300.0h0M194.0 285.7h0M204.7 299.9h0M191.6 296.6h0M193.9 280.2h0M225.2 302.3h0M188.9 280.9h0M202.2 311.1h0M188.2 304.1h0M208.5 263.7h0M190.1 286.0h0M201.0 308.6h0M208.8 311.0h0M173.6 282.4h0M200.6 281.1h0M196.8 275.4h0M185.3 279.6h0M205.4 295.4h0M190.7 274.0h0M200.2 304.6h0M187.7 266.2h0M216.7 280.4h0M214.5 290.4h0M195.1 279.9h0M205.1 298.1h0M211.4 270.3h0M201.2 295.8h0M199.2 285.5h0M214.2 300.1h0M205.1 281.3h0M195.3 285.2h0M224.5 294.2h0M188.1 275.3h0M199.5 263.3h0M200.3 296.5h0M218.7 291.6h0M173.9 269.3h0M208.6 298.5h0M189.0 303.0h0M193.3 283.6h0M184.0 273.3h0M177.9 276.8h0M210.2 289.0h0M204.1 281.6h0M193.0 278.3h0M206.5 293.1h0M201.2 306.9h0M218.6 270.8h0M211.2 316.5h0M206.9 295.4h0M181.5 290.9h0M217.1 273.7h0M191.6 285.8h0M185.5 283.7h0M175.4 283.8h0M188.7 304.4h0M196.6 276.0h0M195.9 286.7h0M191.1 307.0h0M198.7 294.0h0M180.1 312.1h0M181.3 291.5h0M193.5 274.0h0M214.7 296.3h0M165.3 275.9h0M184.4 291.6h0M182.4 306.4h0M194.4 254.7h0M200.3 290.3h0M182.6 277.4h0M176.0 281.6h0M201.7 297.3h0M186.6 285.6h0M185.3 280.8h0M180.9 282.5h0M200.4 293.0h0M176.5 288.7h0M194.5 291.1h0M220.9 301.7h0M190.9 300.2h0M204.1 277.9h0M230.5 303.4h0M207.3 284.8h0M197.1 293.7h0M211.0 284.2h0M194.0 302.8h0M189.5 303.9h0M212.6 280.1h0M201.8 273.3h0M215.8 278.0h0M182.1 299.8h0M180.1 296.7h0M190.4 271.3h0M216.2 281.1h0M178.3 309.3h0M207.8 285.8h0M198.5 294.2h0M202.0 288.5h0M204.1 270.8h0M211.1 272.2h0M176.0 275.2h0M189.1 286.2h0M189.6 307.0h0M182.0 313.4h0M192.6 267.5h0M211.0 265.4h0M190.0 315.8h0M212.3 269.8h0M168.4 297.1h0M228.3 267.6h0M199.2 282.6h0M197.4 290.8h0M184.9 292.4h0M205.6 262.5h0M184.3 282.3h0M211.7 296.6h0M216.3 272.7h0M199.9 297.9h0M201.6 297.7h0M230.3 260.0h0M184.4 316.0h0M173.1 287.9h0M171.9 296.2h0M226.3 304.1h0M210.6 280.6h0M184.2 288.6h0M199.3 254.4h0M170.9 286.7h0M202.3 281.0h0M183.2 259.0h0M192.6 304.5h0M187.4 293.9h0M196.7 269.7h0M195.7 291.0h0M203.6 314.6h0M218.8 295.9h0M215.6 292.1h0M206.0 295.2h0M221.5 299.4h0M199.2 289.9h0M220.3 286.4h0M196.4 276.3h0M195.9 309.2h0M221.1 287.9h0M210.2 298.8h0M193.9 296.8h0M194.6 288.4h0M194.5 258.3h0M201.5 268.0h0M210.2 303.1h0M182.9 295.2h0M186.0 270.0h0M181.5 288.5h0M189.2 279.4h0M196.2 307.9h0M190.9 272.7h0M187.3 310.0h0M200.6 279.0h0M193.4 285.2h0M225.8 291.8h0M172.9 251.4h0M212.6 271.4h0M222.5 269.2h0M226.3 274.0h0M208.7 265.0h0M165.7 260.6h0M195.3 286.5h0M215.1 282.2h0M221.7 279.0h0M208.7 263.0h0M174.7 300.0h0M198.5 282.2h0M206.9 278.9h0M221.8 291.0h0M206.8 269.3h0M182.4 278.2h0M195.9 292.0h0M191.8 281.6h0M197.3 270.9h0M176.2 303.7h0M230.4 292.6h0M177.1 275.2h0M217.9 287.0h0M199.9 296.5h0M186.6 291.6h0M217.5 274.9h0M203.3 305.9h0M226.4 278.3h0M195.4 288.5h0M170.0 262.3h0M196.2 305.1h0M200.1 270.7h0M206.4 277.9h0M193.1 275.9h0M174.5 314.5h0M206.4 300.1h0M195.3 289.3h0M204.8 302.6h0M206.1 264.5h0M163.6 276.8h0M209.2 296.8h0M194.9 299.7h0M169.5 293.3h0M198.2 286.6h0M184.7 302.3h0M206.3 291.6h0M211.5 301.3h0M166.7 301.0h0M225.4 276.8h0M182.6 287.7h0M219.4 301.2h0M212.4 277.6h0M187.5 289.8h0M187.3 286.6h0M202.1 306.4h0M189.5 283.8h0M206.9 277.9h0M198.1 299.4h0M185.1 306.1h0M217.5 296.0h0M173.1 298.7h0M199.2 274.0h0M198.7 300.9h0M217.5 270.8h0M196.7 306.8h0M200.5 298.1h0M216.3 312.3h0M225.1 258.5h0M204.2 288.1h0M209.4 287.5h0M235.0 285.7h0M188.4 285.3h0M184.9 274.7h0M207.7 271.1h0M191.6 278.2h0M195.1 301.4h0M211.7 286.9h0M187.1 288.4h0M183.0 281.1h0M193.9 270.6h0M182.4 270.7h0M212.1 283.3h0M188.3 268.4h0M219.9 283.6h0M178.2 286.2h0M193.4 313.1h0M194.3 277.7h0M203.5 282.3h0M192.0 294.2h0M225.0 308.7h0M175.9 291.1h0M215.9 286.1h0M186.1 297.4h0M202.6 278.4h0M193.1 312.8h0M210.7 291.5h0M193.8 277.6h0M204.0 284.6h0M192.4 290.5h0M210.3 294.8h0M180.8 264.3h0M186.7 289.8h0M181.3 286.8h0M200.0 302.1h0M206.8 287.5h0M202.2 270.9h0M204.5 301.3h0M229.9 284.5h0M219.2 284.3h0M193.1 282.8h0M187.9 267.5h0M171.2 298.5h0M220.9 284.3h0M196.9 263.6h0M222.3 286.2h0M201.7 315.0h0M218.0 285.0h0M213.8 290.2h0M191.2 289.7h0M200.7 305.3h0M189.2 299.7h0M212.7 284.0h0M186.7 274.0h0M228.4 266.3h0M198.1 303.5h0M196.0 274.8h0M180.5 275.7h0M217.7 273.1h0M166.2 283.9h0M182.2 310.3h0M220.6 305.6h0M209.0 275.7h0M181.7 278.4h0M176.2 303.2h0M204.2 247.9h0M200.3 280.6h0M212.7 287.2h0M166.2 284.4h0M174.1 295.6h0M174.7 304.1h0M197.3 297.3h0M170.9 276.5h0M201.2 291.0h0M201.3 291.4h0M195.8 299.0h0M215.3 274.1h0M227.2 279.6h0M184.6 292.3h0M194.2 308.8h0M233.5 302.3h0M203.2 283.5h0M186.8 285.1h0M224.4 312.9h0M187.3 304.1h0M205.3 271.3h0M194.2 295.0h0M206.4 306.7h0M211.3 279.4h0M184.7 297.8h0M213.0 291.8h0M195.3 284.5h0M198.7 275.8h0M204.9 288.5h0M191.9 276.4h0M178.6 264.4h0M183.5 297.2h0M213.0 275.3h0M199.3 279.0h0M195.3 286.2h0M209.7 299.0h0M207.1 264.3h0M203.6 308.3h0M168.2 275.5h0M198.6 299.0h0M195.1 283.7h0M199.8 301.8h0M183.8 278.3h0M200.0 290.5h0M190.3 309.2h0M175.6 287.5h0M231.2 269.9h0M189.7 286.4h0M192.7 288.2h0M194.7 285.0h0M209.6 289.8h0M180.8 273.4h0M212.1 305.5h0M192.2 280.1h0M190.4 287.5h0M201.1 251.7h0M181.3 276.1h0M192.4 290.4h0M181.9 291.0h0M207.3 290.3h0M211.3 286.2h0M233.7 308.1h0M214.6 295.4h0M201.3 267.7h0M181.9 279.0h0M217.8 296.2h0M208.4 281.1h0M225.6 294.2h0M204.4 296.2h0M169.9 305.8h0M164.7 298.6h0M203.2 292.3h0M219.9 291.5h0M182.4 307.4h0M183.3 285.9h0M194.9 313.4h0M176.6 269.1h0M196.3 297.4h0M198.5 287.0h0M212.4 304.9h0M193.8 305.7h0M198.6 273.4h0M199.7 292.6h0M179.8 290.9h0M190.0 272.2h0M199.0 289.2h0M204.4 284.0h0M204.9 293.3h0M212.6 302.4h0M193.9 293.9h0M204.8 292.0h0M216.6 304.0h0M204.0 278.7h0M192.1 294.1h0M207.7 289.8h0M187.0 277.3h0M200.4 289.3h0M201.0 277.9h0M224.7 288.4h0M207.8 281.0h0M186.5 280.9h0M195.2 292.0h0M207.4 285.8h0M235.0 296.4h0M206.5 297.6h0M216.4 266.5h0M227.1 296.3h0M196.6 283.5h0M183.3 300.8h0M209.0 291.0h0M212.3 287.9h0M189.0 268.4h0M209.5 273.3h0M195.8 285.7h0M189.8 297.0h0M175.1 272.0h0M207.8 288.4h0M181.7 294.9h0M203.2 267.3h0M200.0 305.4h0M228.7 284.9h0M189.4 297.2h0M189.3 257.7h0M184.3 275.6h0M207.5 300.1h0M220.1 293.5h0M188.0 277.8h0M208.3 275.3h0M188.1 276.2h0M192.4 286.0h0M199.2 284.2h0M188.6 285.5h0M203.2 290.5h0M182.4 266.0h0M221.8 292.5h0M220.4 278.7h0M183.8 298.9h0M215.3 288.8h0M227.8 293.4h0M178.1 283.9h0M203.3 279.7h0M182.7 295.7h0M187.7 269.5h0M184.5 274.5h0M197.3 284.7h0M182.9 278.2h0M200.4 300.7h0M211.0 266.5h0M202.5 290.7h0M217.7 294.3h0M191.6 293.0h0M212.5 293.6h0M182.3 289.7h0M183.8 275.8h0M214.0 283.5h0M204.4 305.6h0M223.2 307.4h0M207.1 273.8h0M190.7 301.1h0M215.4 276.7h0M203.0 292.1h0M200.2 292.2h0M196.2 279.5h0M217.0 269.2h0M196.8 259.8h0M204.1 317.2h0M186.6 297.1h0M202.6 293.0h0M185.2 292.3h0M183.3 295.9h0M215.5 285.3h0M224.9 299.8h0M192.6 272.2h0M197.3 281.9h0M193.5 285.2h0M192.7 269.2h0M211.1 266.3h0M205.9 286.6h0M208.0 286.1h0M184.1 264.5h0M204.3 295.4h0M180.8 288.3h0M213.9 271.4h0M201.0 291.1h0M194.7 298.9h0M198.4 279.7h0M180.5 313.8h0M212.8 303.4h0M181.3 293.4h0M197.1 285.7h0M207.9 311.2h0M198.2 302.0h0M175.8 304.4h0M200.0 301.5h0M215.7 296.7h0M203.7 284.8h0M187.4 282.4h0M181.7 296.4h0M208.1 298.1h0M192.9 286.4h0M200.9 296.6h0M187.1 293.7h0M176.3 273.2h0M200.1 274.5h0M180.2 274.7h0M181.1 279.9h0M204.6 296.4h0M202.8 285.5h0M203.6 292.5h0M185.2 281.5h0M209.5 307.3h0M195.1 275.6h0M200.6 259.6h0M173.4 298.3h0M182.5 297.4h0M214.4 284.4h0M212.6 292.5h0M179.1 294.7h0M201.3 268.7h0M211.9 295.1h0M189.7 309.5h0M238.5 306.2h0M200.5 275.8h0M185.4 295.5h0M179.6 315.2h0M195.7 288.6h0M231.9 279.3h0M177.6 294.7h0M211.7 281.4h0M204.3 302.0h0M210.3 292.3h0M201.5 297.4h0M199.2 307.3h0M208.3 265.0h0M187.4 284.6h0M203.4 314.5h0M205.2 292.6h0M209.4 276.2h0M215.3 277.2h0M224.4 285.6h0M190.3 294.5h0M218.9 311.6h0M194.8 303.6h0M182.4 274.1h0M200.7 296.2h0M224.3 296.3h0M189.7 284.3h0M198.3 268.9h0M223.0 283.5h0M197.7 288.8h0M214.3 296.9h0M200.2 287.6h0M209.2 297.1h0M187.9 274.4h0M177.0 294.7h0M184.9 291.0h0M226.0 289.9h0M218.7 287.9h0M194.2 290.1h0M202.8 294.1h0M212.7 285.0h0M181.4 264.4h0M193.2 315.3h0M171.3 285.1h0M216.7 256.7h0M186.9 308.8h0M209.3 293.8h0M186.3 302.7h0M222.3 276.1h0M226.3 258.8h0M206.2 279.4h0M211.2 309.5h0M190.4 277.8h0M197.0 292.0h0M207.4 297.8h0M187.7 313.5h0M181.8 296.3h0M203.9 258.7h0M224.1 289.1h0M179.9 310.4h0M204.6 283.4h0M207.7 281.5h0M177.0 268.7h0M200.4 313.9h0M211.4 304.4h0M178.6 279.2h0M201.1 311.7h0M180.9 283.2h0M185.5 280.4h0M183.0 284.8h0M197.7 284.0h0M175.1 273.5h0M201.0 280.9h0M177.4 286.9h0M213.2 275.5h0M213.4 301.6h0M186.9 303.0h0M178.3 276.4h0M208.0 285.8h0M172.3 314.4h0M187.9 307.3h0M184.1 293.6h0M197.2 281.1h0M217.5 285.7h0M196.9 306.3h0M191.1 295.9h0M211.5 263.9h0M186.1 288.0h0M168.5 304.5h0M197.2 277.1h0M196.4 268.8h0M191.1 267.6h0M192.4 281.1h0M202.5 259.9h0M205.8 282.8h0M196.8 282.2h0M217.3 296.2h0M207.1 294.3h0M207.8 302.3h0M225.0 281.9h0M211.5 292.2h0M188.6 288.7h0M193.4 303.2h0M205.7 287.6h0M222.0 296.2h0M172.4 280.9h0M173.1 287.2h0M192.0 304.0h0M198.1 300.7h0M196.3 281.4h0M209.9 290.3h0M199.7 295.0h0M192.7 311.2h0M184.5 288.6h0M213.1 279.5h0M168.1 286.9h0M188.1 291.9h0M215.2 287.8h0M202.7 291.4h0M203.0 294.5h0M206.6 297.8h0M190.7 250.6h0M191.8 299.6h0M210.1 293.9h0M180.2 277.7h0M194.2 287.6h0M195.7 271.4h0M190.6 291.8h0M195.1 305.3h0M215.0 285.8h0M186.4 307.9h0M198.5 294.6h0M203.0 295.2h0M211.3 296.0h0M214.2 289.0h0M194.4 270.7h0M221.1 281.9h0M195.6 280.4h0M195.8 309.0h0M183.9 271.8h0M211.0 298.6h0M183.2 292.2h0M206.2 284.9h0M201.1 270.5h0M210.7 298.7h0M176.6 278.8h0M203.3 284.3h0M209.1 309.9h0M206.6 287.1h0M199.2 283.5h0M201.4 274.4h0M210.2 272.2h0M185.8 290.3h0M204.1 280.5h0M176.8 267.7h0M208.4 297.0h0M215.8 295.8h0M198.1 271.0h0M221.7 289.7h0M198.4 277.9h0M201.5 293.8h0M187.8 281.7h0M180.4 299.2h0M206.7 301.7h0M191.0 301.6h0M183.0 272.2h0M195.3 274.5h0M241.7 292.5h0M169.9 311.5h0M202.1 294.4h0M196.6 278.0h0M214.3 293.6h0M182.1 281.6h0M204.1 276.9h0M179.1 267.7h0M217.4 304.2h0M209.4 291.2h0M182.8 285.9h0M205.5 269.3h0M202.5 298.1h0M216.2 277.6h0M212.8 290.6h0M203.7 307.5h0M218.7 273.9h0M213.4 301.8h0M180.1 296.1h0M206.6 280.1h0M196.3 303.5h0M211.7 310.9h0M206.3 296.5h0M201.5 287.2h0M209.1 286.5h0M201.4 285.5h0M176.2 270.4h0M197.0 282.8h0M203.1 274.9h0M234.9 310.5h0M208.1 283.6h0M201.8 289.5h0M188.4 273.5h0M197.3 282.5h0M200.7 306.3h0M216.5 312.2h0M184.3 282.6h0M202.5 308.6h0M181.4 308.1h0M205.9 287.7h0M220.7 290.4h0M216.4 303.9h0M194.9 261.5h0M195.6 276.2h0M207.4 283.6h0M192.4 293.1h0M183.6 288.7h0M177.8 292.7h0M198.9 303.9h0M192.7 285.7h0M207.2 297.1h0M179.5 274.4h0M206.3 287.0h0M210.1 282.0h0M219.0 296.7h0M217.3 263.9h0M192.1 282.9h0M206.5 296.7h0M190.0 275.1h0M195.8 280.0h0M189.0 293.9h0M198.3 283.2h0M211.2 305.7h0M201.2 292.9h0M171.7 288.8h0M219.7 303.5h0M201.1 281.0h0M211.8 283.4h0M209.1 283.1h0M195.7 293.7h0M207.6 282.1h0M207.7 310.7h0M202.1 256.0h0M207.3 282.4h0M195.5 276.1h0M197.2 301.5h0" stroke="#3a3ad0" stroke-width="0.90" stroke-linecap="round" fill="none" opacity="1"/><path d="M205.7 276.5h0M193.8 278.4h0M210.0 281.6h0M202.9 283.5h0M216.7 275.7h0M225.1 270.2h0M208.8 267.4h0M208.5 282.9h0M210.0 281.0h0M212.7 267.9h0M216.1 274.9h0M211.1 270.1h0M217.7 287.4h0M210.7 286.2h0M214.6 278.0h0M222.6 279.2h0M206.5 285.3h0M202.9 283.9h0M217.0 279.2h0M217.1 279.0h0M222.6 269.6h0M209.2 285.1h0M216.1 274.8h0M218.5 267.2h0M219.8 280.1h0M215.7 273.9h0M212.6 276.8h0M200.4 276.5h0M213.8 271.7h0M209.5 269.3h0M216.2 270.9h0M214.1 272.6h0M200.9 281.6h0M226.7 283.4h0M211.5 266.7h0M199.5 271.1h0M209.0 278.1h0M211.8 276.1h0M219.9 270.8h0M215.4 268.1h0M210.6 278.0h0M215.5 275.7h0M200.9 275.2h0M227.1 267.4h0M222.5 271.2h0M204.6 288.9h0M219.9 262.3h0M229.1 267.6h0M227.2 275.6h0M217.8 272.8h0M193.6 277.5h0M206.3 282.5h0M224.3 266.7h0M222.8 274.6h0M199.0 282.6h0M216.9 270.4h0M218.1 284.7h0M216.9 273.4h0M216.5 264.3h0M221.6 269.4h0M205.4 274.8h0M204.8 286.2h0M201.8 279.1h0M216.9 267.5h0M226.8 268.7h0M220.7 269.0h0M217.1 273.4h0M202.0 283.4h0M212.0 278.7h0M219.3 269.3h0M213.2 284.7h0M220.3 269.6h0M217.0 281.1h0M210.0 282.0h0M216.2 267.8h0M214.4 281.3h0M199.7 270.3h0M224.3 279.7h0M203.1 273.5h0M214.4 272.6h0M195.2 276.6h0M207.3 281.8h0M213.3 265.6h0M227.7 272.2h0M216.0 264.1h0M221.6 267.1h0M213.1 266.4h0M218.8 281.1h0M224.5 282.5h0M216.6 284.6h0M203.0 265.7h0M212.7 280.8h0M209.6 271.3h0M216.4 268.6h0M224.4 280.2h0M215.6 273.2h0M236.0 271.6h0M217.5 278.1h0M213.5 290.6h0M199.2 286.2h0M211.6 270.7h0M213.8 265.0h0M214.2 272.8h0M214.1 271.8h0M219.5 280.2h0M213.0 271.3h0M216.1 273.2h0M213.4 271.5h0M222.2 263.8h0M213.7 267.9h0M212.7 272.2h0M215.2 261.8h0M232.9 261.2h0M192.2 280.0h0M207.1 281.4h0M213.8 276.7h0M218.0 271.1h0M219.2 271.0h0M214.0 279.1h0M202.0 276.0h0M195.5 275.2h0M203.7 274.2h0M223.6 262.3h0M205.0 278.9h0M211.6 272.2h0M211.1 277.7h0M214.2 266.7h0M220.0 259.2h0M209.7 285.5h0M210.9 271.9h0M196.6 286.4h0M200.2 264.9h0M220.1 263.7h0M203.9 276.1h0M212.8 276.9h0M221.3 280.9h0M197.4 270.8h0M214.4 279.8h0M195.3 282.5h0M201.9 273.7h0M205.7 266.9h0M212.6 279.0h0M223.2 277.6h0M216.1 272.0h0M205.9 268.2h0M212.5 268.7h0M201.8 285.8h0M209.9 263.5h0M192.9 276.6h0M198.0 285.6h0M202.2 278.2h0M217.6 277.7h0M214.5 281.5h0M219.2 276.0h0M211.1 283.3h0M202.7 269.0h0M205.6 270.0h0M191.8 276.1h0M220.9 269.0h0M233.3 264.7h0M233.1 271.6h0M208.6 280.3h0M215.3 274.5h0M208.4 274.6h0M211.5 278.8h0M198.8 283.2h0M221.0 265.8h0M217.5 275.6h0M209.7 269.5h0M207.8 281.3h0M202.9 276.2h0M213.6 270.2h0M201.4 276.5h0M209.4 272.1h0M207.7 279.3h0M206.1 265.7h0M220.6 264.3h0M220.0 271.3h0M207.3 271.9h0M218.0 273.5h0M208.5 269.8h0M226.8 272.2h0M220.6 273.4h0M216.3 280.8h0M212.0 281.7h0M215.5 275.5h0M193.5 275.0h0M214.4 283.3h0M211.4 274.4h0M216.6 269.0h0M214.1 269.3h0M212.4 269.8h0M206.2 273.9h0M214.6 279.6h0M202.5 271.1h0M213.4 274.2h0M197.1 277.4h0M208.7 278.1h0M204.4 275.8h0M194.3 274.5h0" stroke="#3a3ad0" stroke-width="0.90" stroke-linecap="round" fill="none" opacity="1"/><path d="M203.5 271C203.8 269.8 205.8 268.6 207.3 267.8C208.8 267 210.7 266.3 212.4 266.2C214.1 266.1 216.5 266.4 217.5 267.1C218.6 267.8 219.1 269.2 218.8 270.3C218.5 271.5 217 273.2 215.6 274.2C214.2 275.1 212.2 276 210.5 276.1C208.8 276.2 206.5 275.7 205.4 274.8C204.2 274 203.1 272.2 203.5 271Z" fill="#5050e0" opacity="0.6" filter="url(#b15)"/><path d="M206.4 271C206.6 270.2 207.9 269.5 208.8 269C209.8 268.5 211 268 212 268C213.1 267.9 214.6 268.1 215.2 268.6C215.9 269 216.2 269.8 216 270.6C215.8 271.3 214.9 272.4 214 273C213.2 273.6 211.9 274.1 210.8 274.2C209.8 274.2 208.4 273.9 207.6 273.4C206.9 272.8 206.2 271.7 206.4 271Z" fill="#1010ff" filter="url(#b03)"/><path d="M211.8 277.8h0M211.2 277.8h0M207.5 268.2h0M215.8 273.9h0M212.0 265.3h0M221.5 271.2h0M212.1 266.3h0M202.7 271.4h0M205.1 268.4h0M204.6 274.7h0M203.7 274.8h0M210.2 274.2h0M207.4 277.0h0M213.0 267.8h0M203.7 272.7h0M209.6 268.9h0M205.0 268.4h0M218.3 267.6h0M204.4 277.4h0M221.2 269.8h0M209.3 270.6h0M208.4 268.2h0M214.0 272.3h0M215.6 265.1h0M214.6 271.0h0M208.7 265.3h0M219.8 265.5h0M217.4 274.6h0M209.0 273.5h0M209.7 273.3h0M204.3 274.5h0M215.6 273.4h0M209.5 267.9h0M201.5 275.4h0M214.0 269.6h0M217.1 269.3h0M209.6 270.3h0M206.8 271.3h0M206.1 269.6h0M215.8 270.7h0M217.0 274.3h0M206.8 268.1h0M211.4 272.8h0M210.5 277.1h0M215.0 264.6h0M214.3 276.1h0M213.3 273.2h0M213.2 275.5h0M212.4 267.9h0M212.9 267.7h0M211.7 267.1h0M205.1 267.6h0M215.9 270.6h0M207.9 276.9h0M213.7 267.9h0M221.6 267.8h0M215.8 264.7h0M219.8 268.2h0M211.4 273.8h0M201.6 273.8h0M210.8 271.3h0M206.7 266.5h0M210.9 266.6h0M201.2 270.3h0M209.8 270.4h0M206.4 265.7h0M201.2 272.7h0M207.3 278.1h0M219.2 271.0h0M220.7 266.7h0M217.0 269.3h0M210.7 267.5h0M204.7 271.5h0M204.7 271.8h0M211.6 272.5h0M214.8 272.4h0M206.7 266.0h0M208.2 271.7h0M219.1 266.2h0M202.1 276.1h0M213.7 267.6h0M219.9 265.6h0M209.3 270.5h0M213.3 268.1h0M204.8 266.5h0M217.9 269.6h0M222.0 268.7h0M207.8 271.8h0M207.7 276.4h0M204.7 273.1h0M207.5 277.2h0M219.5 264.8h0M211.6 272.4h0M211.1 277.8h0M219.4 265.8h0M218.8 269.3h0M212.0 277.6h0M220.9 269.7h0M208.7 267.8h0M215.6 274.5h0M211.0 266.4h0M213.3 268.7h0M216.3 267.2h0M215.3 272.0h0M214.9 264.3h0M208.8 266.9h0M220.8 269.2h0M207.3 268.2h0M211.0 265.0h0M211.6 265.3h0M200.7 271.7h0M221.5 271.4h0M215.6 269.0h0M220.8 265.5h0M212.7 271.3h0M216.3 265.1h0M214.0 268.5h0M203.6 273.4h0M204.7 267.5h0M212.2 274.5h0M209.4 271.6h0M214.6 276.7h0M213.9 269.4h0M211.7 274.1h0M204.0 270.8h0M215.0 268.8h0M204.4 274.5h0M209.7 278.0h0M216.2 268.3h0M213.8 271.1h0M204.1 277.5h0M206.6 275.0h0M220.2 266.0h0M204.2 267.5h0M208.7 277.1h0M200.5 273.4h0M211.8 267.4h0M213.3 277.2h0M217.3 268.5h0M209.0 266.9h0M213.8 268.6h0M209.0 276.4h0M218.0 268.4h0M204.1 267.9h0M217.4 274.6h0M214.9 272.0h0M217.0 275.3h0M206.0 270.0h0M214.4 268.2h0M209.2 272.4h0M220.3 272.6h0M220.5 267.0h0M205.3 275.4h0M212.3 271.3h0M206.3 273.1h0M215.6 267.6h0M209.6 265.2h0M207.7 271.8h0M214.0 277.0h0M211.1 269.6h0M214.0 274.6h0M213.2 266.0h0M208.0 271.0h0M207.0 269.1h0M214.7 271.2h0M209.8 268.4h0M202.4 270.0h0M222.1 268.6h0M203.8 273.8h0M206.3 266.4h0M203.9 268.2h0M204.6 269.5h0M216.0 268.5h0M216.0 265.1h0M201.5 270.6h0M216.3 266.7h0M205.3 273.4h0M216.1 274.1h0M200.8 271.5h0M212.0 268.4h0M203.5 268.4h0M216.0 274.4h0M217.1 266.5h0M201.8 271.9h0M204.7 267.2h0M218.4 272.0h0M207.6 266.7h0M202.9 272.9h0M202.8 268.1h0M220.4 268.4h0M201.5 269.6h0M212.8 275.4h0M220.6 266.2h0M217.1 269.2h0M210.7 265.3h0M208.4 268.5h0M201.9 276.5h0M213.8 274.2h0M204.8 273.6h0M210.2 271.2h0M216.5 269.3h0M210.6 275.6h0M220.2 272.0h0M206.0 268.4h0M203.8 271.3h0M221.4 271.4h0M218.2 270.4h0M218.5 266.5h0M211.6 271.4h0M204.4 271.7h0M203.4 268.0h0M208.2 270.4h0M213.5 268.7h0M203.5 276.2h0M209.8 267.9h0M220.0 273.4h0M203.1 276.2h0M218.2 273.0h0M204.8 269.5h0M221.7 269.5h0M214.5 269.5h0M209.5 277.9h0M211.8 263.9h0M208.6 268.9h0M207.0 267.2h0M215.2 270.4h0M218.1 267.2h0M204.8 268.0h0M203.7 269.2h0M203.4 271.3h0" stroke="#2828d0" stroke-width="1.00" stroke-linecap="round" fill="none" opacity="1"/><path d="M198.1 275.4h0M199.4 272.9h0M213.6 279.6h0M216.3 276.4h0M221.2 271.9h0M219.7 265.0h0M222.9 270.8h0M208.6 264.9h0M200.9 274.7h0M221.6 267.5h0M203.9 274.8h0M200.4 280.4h0M202.0 266.6h0M221.8 270.8h0M223.6 268.6h0M216.9 275.0h0M201.6 268.1h0M216.9 276.0h0M207.4 265.7h0M224.7 269.3h0M221.7 271.7h0M205.3 267.0h0M218.9 272.0h0M200.5 268.6h0M215.0 277.5h0M217.2 263.8h0M200.9 268.2h0M218.9 272.0h0M222.5 272.6h0M210.9 276.3h0M217.0 275.5h0M220.1 272.1h0M212.7 265.6h0M219.1 274.7h0M223.8 268.3h0M201.6 276.3h0M200.3 274.8h0M221.9 272.8h0M210.9 262.4h0M211.3 280.4h0M217.5 263.8h0M215.6 264.7h0M216.5 264.7h0M210.8 279.1h0M223.6 269.0h0M203.5 275.8h0M211.5 266.6h0M216.5 265.0h0M216.8 277.6h0M223.5 267.4h0M200.1 272.0h0M217.1 278.3h0M198.6 269.4h0M220.1 276.8h0M200.4 274.4h0M201.3 267.5h0M219.5 273.0h0M198.9 271.1h0M205.6 275.1h0M218.5 265.7h0M196.5 273.3h0M213.6 278.1h0M222.6 272.7h0M216.7 263.4h0M212.7 261.9h0M201.8 269.8h0M200.6 276.4h0M220.4 267.5h0M220.4 274.0h0M196.9 271.0h0M223.4 270.5h0M219.1 276.0h0M219.8 276.7h0M218.1 265.1h0M223.0 275.0h0M199.0 272.0h0M219.9 273.6h0M214.0 277.9h0M221.3 277.9h0M220.1 272.9h0M203.1 270.2h0M222.6 273.0h0M219.3 265.6h0M203.5 277.7h0M215.4 276.2h0M202.4 274.3h0M214.2 261.6h0M222.9 268.5h0M220.6 274.1h0M199.3 272.8h0M202.1 269.6h0M210.8 277.7h0M219.8 264.3h0M205.2 276.4h0M218.2 275.5h0M218.8 274.9h0M206.3 278.7h0M222.3 267.8h0M201.7 269.1h0M200.7 270.6h0M213.5 264.5h0M199.6 272.3h0M221.7 270.2h0M200.6 273.4h0M199.3 272.4h0M218.5 263.4h0M210.4 264.4h0M214.7 264.8h0M216.2 278.8h0M211.2 280.9h0M223.1 272.6h0M208.5 276.0h0M220.6 269.7h0M212.0 263.6h0M202.8 273.2h0M204.7 268.3h0M203.1 265.8h0M214.9 264.8h0M218.2 263.4h0M200.3 268.2h0M215.4 266.7h0M210.1 263.3h0M207.3 265.4h0M206.0 265.4h0M223.1 270.0h0M204.6 279.2h0M219.7 275.0h0M222.7 268.0h0M222.3 271.2h0M209.0 265.7h0M223.0 264.4h0M203.9 269.4h0M203.3 268.6h0M206.5 279.8h0M215.8 273.0h0M204.9 276.8h0M222.0 270.7h0M204.3 279.7h0M225.3 269.4h0M223.4 271.2h0M201.7 268.1h0M209.7 275.9h0M220.7 271.1h0M214.1 275.1h0M207.1 265.4h0M205.9 265.0h0M203.7 268.8h0M223.9 271.9h0M211.1 282.5h0M210.3 279.6h0" stroke="#3030d0" stroke-width="1.00" stroke-linecap="round" fill="none" opacity="1"/><path d="M194.1 299.5C195.1 298 197.3 296.5 199.5 295.9C201.8 295.3 205.2 295.4 207.6 295.9C210 296.3 212.6 297.1 213.9 298.6C215.2 300.1 215.4 302.9 215.3 304.9C215.1 306.8 214.7 309 213 310.2C211.3 311.4 207.6 312 204.9 312C202.2 312 198.7 311.4 196.8 310.2C195 309 194.1 306.7 193.7 304.9C193.2 303.1 193.2 301 194.1 299.5Z" fill="#4040e0" opacity="0.85" filter="url(#b15)"/><path d="M197.3 300.7C198 299.7 199.5 298.7 201 298.3C202.6 297.8 205 297.9 206.6 298.3C208.3 298.6 210.1 299.1 210.9 300.1C211.8 301.1 212 303.1 211.9 304.5C211.8 305.8 211.5 307.3 210.3 308.2C209.1 309 206.6 309.4 204.7 309.4C202.9 309.4 200.5 309 199.2 308.2C197.9 307.3 197.3 305.7 197 304.5C196.7 303.2 196.6 301.8 197.3 300.7Z" fill="#1010ff" filter="url(#b03)"/><path d="M210.1 308.8h0M203.6 308.2h0M208.4 301.0h0M208.3 310.8h0M194.5 307.8h0M198.6 311.4h0M213.5 303.4h0M206.3 310.7h0M215.5 306.0h0M198.6 302.0h0M192.9 304.3h0M199.7 297.0h0M210.0 304.3h0M210.2 301.2h0M212.6 309.3h0M203.3 306.9h0M197.8 297.4h0M203.5 299.0h0M208.6 300.9h0M198.7 304.6h0M195.5 297.6h0M197.4 297.5h0M200.4 300.2h0M201.1 301.0h0M206.2 299.2h0M193.6 305.8h0M197.2 303.7h0M205.2 297.9h0M202.5 304.1h0M203.3 295.4h0M202.3 299.2h0M194.2 303.2h0M210.5 299.4h0M203.8 300.4h0M213.3 308.7h0M197.1 298.4h0M197.0 303.9h0M201.3 301.3h0M214.7 301.6h0M207.3 305.3h0M208.1 307.9h0M199.8 306.8h0M204.9 306.5h0M198.9 297.6h0M196.5 309.9h0M214.1 304.8h0M204.1 305.5h0M206.6 310.5h0M197.0 307.4h0M214.3 300.7h0M193.1 301.6h0M206.6 309.8h0M194.6 307.1h0M206.3 295.4h0M200.0 302.3h0M201.1 305.9h0M198.2 300.6h0M195.3 303.2h0M196.5 309.9h0M205.9 303.7h0M212.2 306.3h0M213.3 303.3h0M213.5 301.4h0M204.8 311.8h0M213.2 298.4h0M198.6 297.4h0M197.3 296.3h0M205.0 302.2h0M211.2 304.6h0M195.4 305.7h0M210.9 306.1h0M193.4 306.3h0M202.2 297.7h0M212.1 309.5h0M204.9 310.7h0M200.2 309.3h0M209.4 308.8h0M205.4 312.1h0M211.4 307.3h0M207.8 309.7h0M205.0 310.8h0M195.1 301.1h0M215.4 302.2h0M199.4 311.5h0M202.9 303.8h0M213.5 301.6h0M200.0 309.4h0M208.2 311.0h0M208.0 312.1h0M209.5 296.0h0M206.4 305.9h0M211.5 296.9h0M213.1 304.7h0M199.5 310.1h0M204.0 311.7h0M213.2 302.1h0M195.7 300.0h0M196.6 304.6h0M211.5 297.9h0M199.4 308.5h0M196.3 298.5h0M201.4 306.3h0M196.2 298.5h0M211.8 306.3h0M204.9 296.7h0M207.1 301.0h0M209.1 300.8h0M206.9 312.1h0M206.2 303.2h0M207.9 298.7h0M193.7 299.1h0M202.5 297.2h0M215.5 305.6h0M197.2 306.0h0M209.0 311.5h0M198.6 303.3h0M198.9 305.1h0M205.5 298.8h0M211.5 310.6h0M201.6 308.9h0M193.8 304.2h0M204.5 306.4h0M203.7 296.3h0M199.8 307.0h0M206.2 306.4h0M205.1 303.3h0M211.2 296.8h0M200.1 295.6h0M196.0 309.3h0M210.3 296.9h0M200.2 295.6h0M206.3 299.3h0M213.9 309.5h0M206.8 307.9h0M210.8 305.2h0M211.6 306.3h0M208.2 309.0h0M198.1 296.0h0M199.1 305.3h0M195.2 297.6h0M195.0 302.0h0M198.2 308.8h0M197.2 300.8h0M198.3 300.8h0M211.2 308.5h0M211.2 301.4h0M209.8 308.2h0M195.2 298.6h0M198.9 302.3h0M204.0 312.5h0M210.9 298.5h0M199.7 298.7h0M203.7 299.9h0M207.1 309.4h0M199.5 300.7h0M199.2 302.5h0M205.7 302.1h0M201.1 306.0h0M208.9 310.5h0M203.4 303.8h0M199.2 298.4h0M212.5 303.5h0M195.9 301.5h0M210.4 309.9h0M204.5 295.9h0M201.5 295.6h0M204.0 300.7h0M201.4 296.2h0M203.2 305.4h0M193.7 304.8h0M200.4 308.0h0M209.7 304.8h0M199.9 309.7h0M201.9 302.5h0M207.5 301.3h0M211.8 302.6h0M211.5 310.4h0M204.2 308.8h0M196.4 310.5h0M207.1 310.8h0M209.3 304.4h0M197.5 302.0h0M196.4 299.0h0M194.4 306.4h0M198.7 311.5h0M200.0 304.3h0M201.2 307.6h0M194.3 300.2h0M211.1 307.6h0M210.3 297.7h0M199.3 305.3h0M203.4 303.4h0M205.3 300.4h0M199.4 309.2h0M210.5 307.7h0M193.2 305.2h0M203.8 302.3h0M206.5 311.6h0M201.5 296.6h0M203.1 297.8h0M209.1 304.5h0M213.2 300.6h0M206.7 296.8h0M203.2 306.9h0M197.7 306.4h0M196.1 310.2h0M206.0 302.1h0M197.4 297.0h0M202.1 302.1h0M214.3 304.7h0M206.8 300.1h0M200.0 296.6h0M200.0 311.6h0M208.5 310.2h0M198.8 296.5h0M205.7 311.0h0M202.4 303.3h0M207.0 307.3h0M200.2 299.5h0M211.2 299.2h0M194.2 300.4h0M206.3 308.5h0M196.2 303.3h0M194.2 301.9h0M198.9 304.6h0M197.7 309.6h0M201.3 303.8h0M202.4 296.9h0M208.2 300.5h0M209.8 300.6h0M206.2 309.6h0M206.5 297.1h0M207.3 304.9h0M214.4 300.2h0M200.8 298.2h0M209.9 296.6h0M200.5 305.4h0M215.0 299.3h0M213.7 307.4h0M196.1 302.8h0M206.0 298.0h0M208.9 305.1h0M199.1 296.9h0M199.9 304.2h0M210.2 305.0h0M209.1 311.0h0M196.2 302.5h0M199.7 303.8h0M205.2 298.0h0M193.9 298.4h0M210.3 301.2h0M199.2 310.6h0M196.2 297.4h0M208.2 305.3h0M204.4 296.0h0M213.6 303.3h0M205.9 304.4h0M207.7 302.9h0M205.2 307.7h0M207.7 296.4h0M207.3 301.4h0M201.6 310.2h0M212.3 310.4h0M206.6 309.0h0M204.4 310.4h0M206.3 298.3h0M209.3 297.4h0M215.6 300.8h0M199.1 307.5h0M196.5 305.7h0M201.1 299.0h0M214.4 306.0h0M205.7 308.0h0M193.1 305.1h0M204.1 310.5h0M210.6 303.2h0M198.2 304.9h0M208.2 297.8h0M196.6 310.9h0M205.2 308.1h0M214.0 304.3h0M202.2 300.7h0M199.9 304.2h0M208.5 295.6h0M203.7 309.4h0M194.6 303.9h0M209.9 309.3h0M213.0 301.4h0M206.9 308.4h0M214.2 307.9h0M198.6 298.0h0M212.0 301.5h0M213.8 301.0h0M208.6 308.3h0M204.3 295.7h0M195.6 303.1h0M209.4 305.5h0M213.5 300.9h0M198.5 305.4h0M200.7 310.5h0" stroke="#1a1ad8" stroke-width="1.00" stroke-linecap="round" fill="none" opacity="1"/><path d="M192.6 305.3h0M215.9 303.7h0M206.4 313.0h0M203.0 294.5h0M197.9 310.1h0M195.4 298.0h0M207.0 311.2h0M195.2 305.6h0M216.4 305.9h0M192.1 298.2h0M214.0 307.1h0M201.2 310.3h0M199.0 296.7h0M193.8 303.1h0M218.5 302.7h0M192.2 299.3h0M207.5 296.2h0M217.1 302.9h0M203.8 296.2h0M215.6 300.0h0M211.0 313.0h0M200.5 311.5h0M216.9 306.7h0M191.4 308.8h0M190.3 306.0h0M208.6 312.0h0M214.5 302.8h0M190.0 301.2h0M215.2 307.9h0M202.6 295.7h0M206.8 295.2h0M207.8 312.9h0M195.8 299.1h0M197.3 293.6h0M193.6 304.2h0M194.7 302.8h0M205.1 312.3h0M216.4 304.6h0M204.1 313.1h0M192.3 301.3h0M215.0 308.6h0M199.0 297.5h0M201.2 296.2h0M198.1 293.5h0M190.7 304.7h0M199.4 294.0h0M191.0 301.6h0M213.5 307.6h0M193.5 312.0h0M192.7 310.6h0M214.3 300.1h0M214.3 311.6h0M196.6 313.4h0M208.7 295.4h0M193.9 306.9h0M209.9 297.7h0M193.0 299.2h0M190.8 300.7h0M194.4 305.2h0M212.4 310.9h0M213.5 300.4h0M210.3 294.5h0M201.3 296.8h0M194.4 305.9h0M215.4 300.8h0M217.7 300.5h0M199.8 297.8h0M193.1 298.0h0M204.8 313.1h0M213.3 293.3h0M195.4 298.6h0M193.5 298.9h0M193.1 298.6h0M194.0 301.7h0M208.0 295.6h0M212.3 294.6h0M216.9 304.3h0M204.4 293.2h0M216.3 299.3h0M212.5 294.8h0M196.3 294.0h0M216.7 304.5h0M196.6 295.8h0M208.2 312.4h0M194.7 305.8h0M214.3 309.1h0M217.1 307.2h0M204.7 295.7h0M191.6 304.1h0M202.1 294.1h0M196.2 300.4h0M215.5 306.8h0M194.2 296.1h0M217.5 302.7h0M196.2 296.4h0M209.4 296.4h0M200.7 311.0h0M196.2 297.9h0M214.2 300.7h0M193.2 299.4h0M215.5 311.8h0M198.9 295.2h0M196.2 308.0h0M202.0 295.6h0M215.0 311.6h0M214.2 312.0h0M210.2 295.7h0M197.6 294.9h0M211.3 311.1h0M215.5 304.2h0M197.6 310.0h0M200.0 310.1h0M216.6 306.6h0M195.9 297.8h0M200.5 295.5h0M211.3 311.8h0M208.0 292.9h0M198.7 312.4h0M217.2 303.6h0M192.8 301.2h0M209.8 310.9h0M211.0 311.8h0M203.1 315.3h0M210.1 310.5h0M193.5 308.6h0M213.8 306.5h0M213.6 298.9h0M194.4 302.7h0M214.9 303.6h0M215.6 307.0h0M193.0 304.7h0M211.6 295.2h0M208.2 312.7h0M193.8 304.2h0M192.8 309.5h0M205.5 313.7h0M215.5 305.3h0M202.1 297.1h0M192.3 308.1h0M206.3 296.2h0M201.4 296.7h0M216.6 304.2h0M213.8 311.4h0M215.3 309.5h0M197.9 311.9h0M190.0 307.4h0M214.8 308.1h0M208.4 295.6h0M212.9 313.6h0M192.9 302.4h0M219.2 311.4h0M198.7 312.6h0M192.7 301.0h0M193.7 306.2h0M192.8 295.2h0M198.4 311.3h0M218.1 305.8h0M207.3 298.1h0M204.3 309.3h0M211.1 310.7h0M193.9 304.6h0M203.5 293.1h0M192.6 304.0h0M215.5 299.1h0M203.8 294.7h0M209.4 313.6h0M203.6 295.9h0M199.4 293.2h0M203.1 293.2h0M212.4 311.4h0M192.9 300.9h0M211.7 312.4h0M208.3 312.4h0M214.7 302.6h0M191.5 302.3h0M208.2 294.0h0M203.4 297.7h0M215.1 307.3h0M199.2 311.0h0M192.6 303.6h0" stroke="#3030d0" stroke-width="1.00" stroke-linecap="round" fill="none" opacity="1"/><ellipse cx="175.5" cy="304.5" rx="5.2" ry="5.6" transform="rotate(0 175.5 304.5)" fill="#4040e0" opacity="1" filter="url(#b08)"/><ellipse cx="175.5" cy="304.5" rx="4" ry="4.3" transform="rotate(0 175.5 304.5)" fill="#1010ff" filter="url(#b03)"/><path d="M180.3 304.5h0M174.1 310.2h0M170.9 307.9h0M170.6 300.8h0M181.2 302.3h0M173.4 307.7h0M172.7 306.6h0M173.1 302.4h0M179.7 305.0h0M181.3 304.2h0M179.6 304.8h0M173.8 308.7h0M179.6 302.5h0M179.5 306.5h0M174.3 308.5h0M172.5 307.5h0M173.8 310.3h0M170.8 303.3h0M171.3 302.7h0M170.2 305.6h0M172.9 298.7h0M179.6 309.7h0M172.2 299.2h0M181.1 303.4h0M172.1 307.6h0M173.1 307.9h0M177.6 299.8h0M172.7 308.4h0M180.1 305.4h0M170.1 305.7h0M179.9 309.6h0M173.1 307.7h0M178.5 299.5h0M171.8 300.2h0M174.7 311.5h0M173.3 300.7h0M171.9 299.4h0M177.9 300.5h0M174.9 300.8h0M171.8 308.1h0M173.8 298.6h0M178.9 305.0h0M176.9 298.6h0M170.2 304.6h0M168.5 303.9h0M181.8 305.5h0M169.9 304.3h0M170.5 307.2h0M171.4 302.6h0M173.4 301.2h0M175.1 297.3h0M177.7 308.6h0M169.2 304.3h0M177.7 308.4h0M180.6 303.5h0M171.3 300.7h0M178.0 308.9h0M183.1 305.6h0M176.3 301.0h0M171.7 302.3h0M178.6 301.9h0M170.2 301.3h0M179.0 300.5h0M174.5 309.5h0M179.8 310.1h0M174.5 309.3h0M178.6 303.4h0M173.0 308.8h0M175.9 308.2h0M171.0 306.1h0M175.7 310.8h0M177.6 308.2h0M176.7 307.6h0M169.9 306.8h0M179.7 301.0h0M181.4 305.2h0M178.0 300.3h0M171.8 307.7h0M181.6 304.4h0M181.1 305.2h0" stroke="#2020d0" stroke-width="1.00" stroke-linecap="round" fill="none" opacity="1"/><path d="M172.5 269.4C173.6 267.1 175.6 267.2 177.7 266.8C179.8 266.5 183 266.7 185 267.3C187 267.9 188.6 268.7 189.7 270.5C190.7 272.2 190.5 275.7 191.2 277.7C192 279.8 193 281.4 194.4 282.9C195.7 284.5 198.5 285.5 199.6 287.1C200.6 288.7 201.3 290.9 200.6 292.3C199.9 293.7 197.3 294.5 195.4 295.4C193.5 296.4 191.6 297.2 189.2 298C186.7 298.9 183.3 300.2 180.8 300.6C178.3 301.1 175.6 301.8 174.1 300.6C172.6 299.4 172.2 296.6 171.8 293.3C171.3 290 171.3 284.8 171.5 280.9C171.6 276.9 171.5 271.8 172.5 269.4Z" fill="#ff9a9a" opacity="0.75" filter="url(#b08)"/><path d="M175.4 272.9C176.2 271.1 177.8 271.2 179.4 270.9C181 270.6 183.5 270.8 185 271.3C186.6 271.8 187.8 272.4 188.6 273.7C189.4 275 189.2 277.7 189.8 279.3C190.4 280.9 191.2 282.1 192.2 283.3C193.3 284.5 195.4 285.3 196.2 286.5C197 287.7 197.6 289.4 197 290.5C196.5 291.6 194.5 292.2 193 292.9C191.6 293.6 190.1 294.2 188.2 294.9C186.4 295.6 183.8 296.6 181.8 296.9C179.9 297.2 177.8 297.8 176.6 296.9C175.5 296 175.2 293.8 174.9 291.3C174.6 288.8 174.6 284.8 174.6 281.7C174.7 278.6 174.6 274.7 175.4 272.9Z" fill="#ff1010" filter="url(#b03)"/><path d="M193.8 283.8h0M173.1 276.4h0M193.6 292.6h0M171.6 287.4h0M199.1 291.1h0M189.1 272.0h0M189.5 270.5h0M180.0 299.8h0M176.1 269.1h0M172.7 274.6h0M198.9 291.0h0M190.5 294.9h0M173.3 291.6h0M174.3 297.9h0M178.2 296.5h0M193.4 294.1h0M186.5 297.6h0M194.2 295.1h0M174.6 274.6h0M174.6 289.6h0M173.8 291.8h0M182.3 268.6h0M196.3 287.7h0M200.0 290.0h0M180.3 267.5h0M198.5 293.2h0M180.7 268.8h0M171.7 287.7h0M193.9 292.4h0M192.2 295.1h0M172.7 272.2h0M187.9 271.1h0M177.5 300.4h0M188.3 296.1h0M187.6 295.4h0M194.5 294.1h0M177.7 300.0h0M174.2 295.4h0M176.5 298.6h0M171.8 290.4h0M196.5 286.7h0M177.6 298.2h0M173.7 279.9h0M191.6 295.3h0M173.1 287.0h0M192.4 282.5h0M197.1 293.4h0M174.5 293.9h0M188.3 297.1h0M193.6 292.7h0M174.2 295.2h0M188.6 295.7h0M176.1 298.0h0M185.8 271.0h0M173.5 277.4h0M188.3 297.9h0M191.5 293.6h0M190.6 296.4h0M177.2 298.8h0M175.4 300.6h0M186.6 268.8h0M197.7 286.6h0M172.7 286.4h0M184.1 299.2h0M173.8 280.0h0M181.9 267.5h0M195.3 294.9h0M179.2 297.1h0M191.2 295.4h0M187.6 295.3h0M177.9 270.2h0M189.0 275.9h0M181.5 298.3h0M197.8 290.8h0M197.8 291.7h0M174.6 270.6h0M172.6 286.6h0M176.3 297.3h0M180.3 269.8h0M185.4 271.5h0M183.9 269.8h0M186.6 297.6h0M178.3 296.5h0M176.8 297.0h0M193.6 293.6h0M172.6 295.1h0M189.8 277.9h0M186.4 271.1h0M188.1 271.1h0M181.3 299.1h0M184.4 269.1h0M174.7 283.2h0M199.1 288.3h0M173.5 285.3h0M197.0 285.9h0M184.7 298.4h0M181.3 296.7h0M185.2 267.6h0M196.6 292.0h0M172.2 290.6h0M191.2 279.9h0M180.7 270.9h0M180.6 267.3h0M189.4 277.0h0M185.5 271.3h0M176.6 300.3h0M189.7 275.8h0M186.1 270.7h0M196.6 291.9h0M187.8 271.3h0M193.3 295.6h0M185.2 269.1h0M172.8 273.4h0M174.0 292.2h0M175.6 272.5h0M189.0 295.3h0M173.8 275.2h0M180.1 299.0h0M176.3 272.8h0M199.0 288.9h0M196.4 291.1h0M185.7 269.4h0M193.6 293.9h0M191.1 296.1h0M198.6 291.3h0M184.7 271.1h0M173.5 272.8h0M181.4 269.2h0M175.6 268.7h0M183.9 271.0h0M173.8 269.6h0M173.4 297.4h0M189.8 294.1h0M175.9 268.1h0M172.9 284.5h0M178.0 271.0h0M174.8 282.0h0M175.8 298.9h0M173.9 286.0h0M172.2 274.4h0M188.9 274.7h0M174.1 283.4h0M176.9 300.1h0M179.5 268.0h0M174.4 269.6h0M173.9 279.1h0M196.3 286.5h0M193.6 292.4h0M174.0 291.7h0M171.9 276.1h0M188.4 272.7h0M178.5 300.2h0M173.2 297.4h0M187.0 272.4h0M189.5 272.0h0M180.4 297.3h0M173.6 286.9h0M174.1 269.1h0M196.9 290.2h0M172.5 272.2h0M187.4 270.8h0M177.8 270.3h0M175.9 299.4h0M172.5 272.1h0M178.5 297.2h0M184.0 270.4h0M187.5 272.2h0M175.8 269.1h0M178.7 267.8h0M190.2 278.4h0M193.5 284.0h0M192.3 292.9h0M172.8 271.4h0M171.9 276.2h0M171.9 282.2h0M189.7 296.0h0M191.8 294.8h0M172.9 283.1h0M173.7 282.9h0M190.0 275.5h0M189.0 272.6h0M181.9 297.3h0M175.3 297.5h0M189.0 270.4h0M173.1 270.8h0M188.1 272.6h0M172.0 277.3h0M195.6 284.7h0M172.8 282.7h0M187.4 271.7h0M176.5 296.8h0M186.4 296.8h0M174.9 286.5h0M189.7 277.8h0M189.5 297.9h0M195.1 294.6h0M191.4 280.9h0M182.7 270.6h0M197.0 293.1h0M171.7 278.1h0M174.6 296.7h0M183.8 298.7h0M182.7 267.9h0M172.9 284.4h0M195.6 295.1h0M186.3 270.5h0M183.0 270.1h0M195.6 293.3h0M195.5 284.5h0M171.9 280.5h0M173.1 277.0h0M172.0 277.8h0M174.8 283.1h0M179.3 299.6h0M185.3 269.5h0M174.2 280.3h0M171.8 284.9h0M198.6 288.4h0M192.7 293.5h0M193.5 295.3h0M177.5 297.1h0M189.8 296.7h0M195.1 292.9h0M173.5 271.8h0M188.4 273.2h0M172.6 292.8h0M172.2 279.9h0M195.9 293.0h0M178.9 298.3h0M182.6 297.2h0M183.7 268.0h0M198.1 286.0h0M174.5 274.6h0M173.2 296.5h0M173.2 276.9h0M177.6 267.3h0M177.1 298.4h0M176.9 271.7h0M184.4 269.2h0M193.2 295.4h0M176.1 270.0h0M198.4 292.0h0M175.6 300.3h0M172.2 275.4h0M193.5 282.7h0M183.6 269.5h0M172.6 285.4h0M191.4 281.3h0M174.9 277.4h0M178.4 298.4h0M184.7 298.9h0M193.3 295.1h0M172.4 271.1h0M190.6 296.1h0M182.9 299.9h0M196.2 284.8h0M172.6 290.0h0M192.7 294.0h0M182.6 299.5h0M175.0 272.4h0M178.1 271.0h0M199.1 290.2h0M174.4 284.4h0M197.1 288.3h0M186.7 272.3h0M178.2 297.7h0M188.6 296.0h0M179.1 297.2h0M181.4 298.4h0M189.0 271.8h0M183.5 268.0h0M178.7 300.4h0M191.9 296.4h0M171.6 286.4h0M186.7 272.0h0M189.9 276.9h0M183.2 296.8h0M174.7 298.8h0M176.9 299.8h0M180.8 270.0h0M181.5 270.1h0M185.2 269.3h0M181.3 297.2h0M176.1 268.4h0M172.5 284.9h0M174.3 277.2h0M172.3 291.8h0M180.7 271.3h0M173.8 275.6h0M188.0 294.7h0M181.6 299.7h0M180.9 299.3h0M195.3 293.2h0M188.4 297.1h0M172.4 281.1h0M195.1 285.6h0M198.4 290.6h0M197.0 292.3h0M174.1 273.8h0M171.6 282.7h0M176.8 268.9h0M197.1 291.4h0M195.7 284.5h0M172.8 282.8h0M190.1 279.3h0M187.6 295.8h0M182.7 296.6h0M177.5 270.2h0M196.0 285.8h0M184.2 267.6h0M174.8 268.3h0M196.7 289.4h0M174.4 284.1h0M195.4 292.9h0M173.6 279.3h0M192.0 282.5h0M174.5 297.4h0M188.4 270.7h0M173.0 277.8h0M196.0 284.7h0M186.0 270.7h0M182.5 270.2h0M174.4 296.7h0M188.2 270.7h0M174.6 275.4h0M173.2 295.8h0M180.0 299.2h0M192.2 282.6h0M189.5 295.8h0M186.5 272.0h0M189.6 296.0h0M173.7 271.6h0M173.0 293.4h0M184.5 295.8h0M175.2 290.1h0M180.4 267.6h0M174.8 278.0h0M176.4 269.1h0M174.1 273.7h0M182.7 269.6h0M172.4 285.8h0M176.0 297.5h0M189.2 270.8h0M176.9 298.2h0M185.0 296.8h0M176.6 297.3h0M173.6 279.3h0M187.2 295.6h0M174.0 294.4h0M173.6 279.9h0M187.6 271.7h0M194.9 292.4h0M186.3 271.1h0M183.1 267.4h0M194.7 285.3h0M198.2 287.6h0M197.1 291.2h0M179.5 299.2h0M172.7 286.1h0M195.9 290.9h0M175.2 271.5h0M172.4 291.7h0M175.8 297.7h0M188.3 273.0h0M172.7 284.1h0M173.5 285.9h0M183.3 268.9h0M197.8 292.1h0M172.4 271.2h0M173.3 296.1h0M174.6 270.0h0M173.9 297.6h0M200.4 291.8h0M189.6 277.6h0M187.6 295.8h0M188.9 272.7h0M172.5 278.6h0M175.5 297.0h0M180.4 298.4h0M177.0 270.2h0M198.7 291.5h0M184.7 269.1h0M174.9 281.9h0M174.8 298.4h0M192.5 296.6h0M187.2 295.7h0M197.4 286.0h0M197.4 287.9h0M194.0 293.1h0M171.8 282.6h0M172.3 293.1h0M197.0 293.4h0M180.6 269.8h0M192.5 280.0h0M186.4 270.0h0M196.6 285.6h0M194.4 283.4h0M174.5 277.9h0M173.6 296.3h0M186.9 298.3h0M186.0 270.5h0M191.1 281.4h0M181.8 299.0h0M172.1 274.2h0M182.0 299.4h0M179.9 271.3h0M175.8 294.0h0M186.6 268.6h0M195.6 291.8h0M172.4 283.5h0M178.3 266.9h0M191.9 281.4h0M197.7 287.7h0M189.8 297.3h0M195.8 294.9h0M196.4 287.4h0M173.6 270.7h0M181.4 298.3h0M174.4 282.0h0M174.0 274.0h0" stroke="#ff1010" stroke-width="1.00" stroke-linecap="round" fill="none" opacity="1"/><path d="M195.4 292.8h0M194.3 284.0h0M171.6 283.6h0M189.6 271.5h0M174.6 268.4h0M177.4 270.0h0M200.1 293.1h0M192.5 294.7h0M171.3 290.9h0M172.2 285.3h0M192.2 281.1h0M188.6 273.1h0M196.4 293.7h0M186.9 268.2h0M193.4 295.1h0M191.9 293.3h0M176.7 272.0h0M193.6 294.7h0M174.4 296.7h0M171.5 283.3h0M184.6 297.4h0M171.1 282.7h0M176.9 268.1h0M185.4 296.9h0M184.3 271.3h0M184.6 295.7h0M192.1 296.5h0M174.3 296.7h0M191.5 279.5h0M191.1 280.8h0M171.9 279.1h0M188.7 298.8h0M199.0 290.7h0M182.5 299.0h0M173.2 272.8h0M175.6 273.3h0M190.9 278.8h0M173.8 297.2h0M172.9 293.5h0M171.9 280.5h0M174.6 291.8h0M172.2 270.5h0M194.3 282.6h0M176.6 299.9h0M177.2 266.3h0M171.2 276.9h0M178.7 298.2h0M189.6 276.9h0M174.4 277.4h0M192.1 278.8h0M180.0 268.4h0M175.1 291.6h0M173.5 272.4h0M177.8 269.9h0M193.6 282.9h0M189.5 297.8h0M174.7 294.6h0M171.2 276.7h0M185.1 269.0h0M183.0 271.5h0M172.9 289.8h0M173.5 286.5h0M197.4 289.1h0M189.7 270.0h0M184.3 296.4h0M172.7 292.7h0M189.1 297.9h0M185.5 268.6h0M191.8 279.3h0M183.5 297.3h0M181.5 301.1h0M192.2 296.1h0M197.4 292.3h0M176.5 295.6h0M172.9 273.4h0M171.7 278.7h0M191.3 297.2h0M188.0 273.5h0M198.9 289.1h0M186.4 271.1h0M188.4 271.6h0M172.9 282.8h0M171.6 280.6h0M175.0 284.5h0M175.3 298.7h0M173.7 275.5h0M173.3 300.3h0M191.4 296.4h0M175.9 295.2h0M173.5 285.9h0M174.8 300.5h0M172.5 287.5h0M178.6 268.8h0M193.2 294.4h0M185.9 268.0h0M181.7 300.7h0M186.9 298.0h0M176.1 300.8h0M200.3 288.6h0M197.0 286.7h0M172.4 270.4h0M183.0 268.8h0M176.0 297.8h0M193.6 292.6h0M171.8 272.7h0M174.2 286.4h0M195.6 283.8h0M174.7 281.0h0M184.7 267.8h0M193.9 283.9h0M174.7 273.5h0M173.9 294.9h0M185.4 270.6h0M174.1 283.8h0M188.7 272.8h0M178.4 271.1h0M184.2 300.1h0M172.6 273.5h0M173.4 284.0h0M171.4 286.3h0M172.0 294.2h0M186.7 269.8h0M194.3 282.7h0M173.7 292.7h0M173.6 301.4h0M198.9 286.2h0M171.2 292.9h0M183.8 298.2h0M171.9 291.2h0M180.4 298.9h0M184.2 267.9h0M196.5 292.4h0M196.0 295.9h0M175.3 268.3h0M177.0 271.6h0M171.2 286.0h0M196.9 285.7h0M197.8 291.9h0M177.9 266.2h0M200.8 292.7h0M174.6 298.0h0M174.4 273.0h0M186.7 272.4h0M195.5 291.4h0M193.5 283.3h0M175.5 271.3h0M192.7 282.5h0M182.6 269.7h0M171.4 288.2h0M179.9 269.5h0M190.8 275.0h0M174.1 298.3h0M183.3 300.3h0M181.4 299.0h0M173.1 291.4h0M173.9 285.8h0M186.7 272.6h0M190.3 298.0h0M175.2 294.1h0M197.7 294.4h0M171.0 288.3h0M175.2 267.4h0M174.5 269.7h0M196.6 293.2h0M196.5 285.1h0M192.4 294.0h0M173.7 268.3h0M190.4 295.0h0M174.3 297.0h0M196.6 291.0h0M188.9 273.3h0M182.0 267.3h0M174.8 295.9h0M176.9 301.1h0M185.6 268.3h0M177.7 270.4h0M180.7 298.9h0M182.2 298.1h0M174.0 293.5h0M172.3 275.2h0M172.2 286.4h0M173.7 301.1h0M199.0 289.1h0M191.0 276.7h0M180.4 299.4h0M174.2 293.8h0M173.5 300.4h0M185.2 267.8h0M193.0 293.0h0M195.1 284.9h0M197.3 291.0h0M172.4 268.7h0M184.4 299.7h0M190.9 277.3h0M171.5 284.9h0M199.7 293.0h0M171.7 277.0h0M179.3 267.7h0M181.2 269.4h0M186.0 298.3h0M174.6 268.3h0M197.9 289.6h0M193.6 293.4h0M171.7 270.9h0M191.8 281.8h0M177.0 268.6h0M171.6 275.1h0M191.9 280.0h0M179.0 270.1h0M171.7 285.2h0M172.0 284.0h0M200.3 288.2h0M174.0 280.1h0M175.5 295.9h0M190.9 295.2h0M172.4 297.0h0M193.5 293.3h0M179.1 300.7h0M184.4 298.7h0M188.9 271.2h0" stroke="#7040b0" stroke-width="0.90" stroke-linecap="round" fill="none" opacity="1"/><path d="M186.5 301.1h0M185.0 269.0h0M177.0 299.4h0M174.2 292.5h0M173.8 296.1h0M191.7 295.8h0M190.8 273.5h0M196.7 294.4h0M192.6 294.9h0M176.7 273.1h0M189.8 271.9h0M190.9 296.1h0M171.0 285.2h0M171.1 285.8h0M171.6 295.2h0M173.8 271.8h0M194.6 282.0h0M181.7 268.5h0M189.2 294.6h0M190.4 273.9h0M174.5 298.2h0M185.7 271.0h0M190.4 297.3h0M188.6 273.5h0M176.1 294.3h0M179.7 268.4h0M173.9 281.7h0M174.1 293.7h0M189.3 299.1h0M175.7 270.4h0M196.6 292.7h0M190.7 275.9h0M179.9 268.0h0M187.3 268.5h0M183.6 268.6h0M175.1 266.8h0M175.6 298.1h0M185.3 297.0h0M173.4 284.7h0M189.7 283.8h0M195.0 283.9h0M171.3 295.8h0M176.9 267.8h0M180.5 300.3h0M195.8 296.6h0M175.3 294.7h0M170.8 274.9h0M188.4 270.6h0M174.5 285.2h0M172.1 285.2h0M191.4 279.1h0M172.1 287.9h0M195.8 283.6h0M171.0 287.5h0M192.4 297.8h0M182.3 269.1h0M182.2 269.2h0M189.1 267.2h0M182.9 270.5h0M198.0 288.7h0M169.2 280.6h0M199.0 283.1h0M176.4 300.1h0M192.6 275.6h0M187.0 268.8h0M172.7 271.2h0M187.0 297.3h0M175.7 301.7h0M180.7 267.4h0M176.6 297.2h0M192.7 298.1h0M172.8 274.6h0M194.8 295.7h0M189.2 271.3h0M175.8 297.2h0M198.2 291.4h0M199.4 292.8h0M176.4 272.3h0M170.4 298.5h0M174.6 267.4h0M185.8 268.8h0M172.1 285.6h0M201.2 294.2h0M192.0 282.4h0M193.0 297.0h0M177.4 267.4h0M188.9 272.5h0M199.8 289.6h0M171.2 288.8h0M183.3 266.5h0M181.9 299.2h0M190.6 298.5h0M171.7 300.1h0M175.1 268.6h0M200.9 291.8h0M197.5 294.9h0M191.9 281.7h0M171.9 272.1h0M172.7 274.1h0M183.4 299.5h0M172.8 287.6h0M197.7 292.4h0M182.4 267.7h0M179.5 301.0h0M190.5 274.7h0M174.5 300.0h0M173.7 269.7h0M183.7 297.7h0M196.3 287.3h0M185.0 299.3h0M174.5 297.5h0M170.1 292.0h0M173.0 281.4h0M189.2 278.5h0M199.9 293.6h0M190.8 278.5h0M180.2 266.3h0M176.5 280.7h0M181.4 270.4h0M193.6 272.7h0M196.3 294.4h0M196.4 290.6h0M187.6 299.8h0M190.0 271.1h0M200.9 290.9h0M183.6 303.1h0M195.7 286.1h0M180.3 300.6h0M189.1 273.8h0M187.1 274.1h0M187.0 270.3h0M190.1 272.2h0M196.6 293.0h0M195.6 295.6h0M179.6 269.1h0M174.7 297.6h0M175.7 270.1h0M183.1 268.5h0M171.4 276.7h0M171.9 270.1h0M187.3 301.2h0M169.7 279.9h0M171.3 273.9h0M175.3 274.3h0M189.3 295.3h0M176.0 299.0h0M171.5 294.9h0M192.8 296.9h0M185.6 270.6h0M191.3 298.7h0" stroke="#e02a2a" stroke-width="1.00" stroke-linecap="round" fill="none" opacity="1"/><path d="M204.7 266.2h0M206.1 278.2h0M195.7 275.6h0M199.4 274.6h0M197.5 278.8h0M208.8 276.0h0M207.7 285.4h0M196.6 277.6h0M204.9 277.4h0M207.3 287.6h0M199.9 272.2h0M204.1 272.5h0M187.5 275.5h0M197.9 279.1h0M206.6 271.9h0M201.2 274.1h0M194.1 290.1h0M194.8 273.4h0M200.9 271.3h0M198.7 278.7h0M190.6 277.3h0M196.3 273.3h0M199.6 274.9h0M193.3 293.5h0M191.2 275.7h0M201.6 288.0h0M212.2 272.4h0M196.7 278.2h0M190.6 285.5h0M212.4 282.5h0M203.0 290.9h0M195.5 282.7h0M200.4 290.4h0M201.3 288.6h0M200.8 274.1h0M202.5 272.8h0M209.1 292.4h0M198.6 280.6h0M196.1 281.2h0M201.1 271.3h0M193.2 277.2h0M189.8 276.5h0M196.6 271.6h0M196.5 278.5h0M199.5 280.3h0M205.2 276.0h0M204.9 267.7h0M197.2 285.1h0M197.1 287.8h0M200.1 285.9h0M199.1 276.9h0M198.3 283.5h0M199.4 275.8h0M199.8 275.9h0M195.8 281.8h0M193.7 273.0h0M206.4 282.6h0M203.2 285.3h0M196.5 280.5h0M197.9 279.0h0M197.2 281.4h0M200.3 280.8h0M198.6 272.9h0M198.0 282.7h0M207.2 284.0h0M204.3 275.8h0M202.6 279.1h0M209.0 279.3h0M205.5 281.2h0M211.3 274.2h0M189.0 286.6h0M199.6 277.2h0M195.8 275.9h0M200.2 276.6h0M204.1 292.6h0M198.1 284.0h0M195.2 274.7h0M195.3 258.3h0M197.6 288.7h0M199.6 276.7h0M197.7 286.6h0M209.3 283.0h0M199.4 278.5h0M195.9 274.5h0M204.5 281.7h0M195.2 276.6h0M202.8 281.0h0M205.9 277.8h0M198.9 280.2h0M195.1 277.2h0M196.2 293.3h0M200.5 273.1h0M203.2 282.1h0M203.2 276.5h0M210.3 280.9h0M204.8 284.4h0M200.3 274.0h0M197.9 270.7h0M205.4 274.7h0M202.3 269.6h0M201.8 273.9h0M204.3 288.4h0M196.1 278.1h0M194.3 276.8h0M201.1 282.6h0M196.9 277.9h0M193.9 281.6h0M199.1 275.0h0M199.8 283.5h0M205.4 286.6h0M195.2 290.1h0M198.9 274.7h0M209.1 275.3h0M209.0 284.9h0M205.3 285.0h0M201.5 278.6h0M203.3 276.0h0M199.6 285.2h0M200.8 269.4h0M197.1 285.5h0" stroke="#9040a0" stroke-width="0.90" stroke-linecap="round" fill="none" opacity="1"/><path d="M197.3 289.9h0M194.1 288.6h0M193.6 292.2h0M195.4 290.9h0M196.3 285.8h0M197.5 289.7h0M202.1 293.6h0M196.3 295.5h0M198.2 292.0h0M199.5 282.5h0M202.3 293.9h0M196.4 292.7h0M198.0 296.1h0M194.6 296.0h0M196.0 296.4h0M202.7 287.9h0M198.2 291.4h0M191.8 289.9h0M199.7 287.3h0M205.6 286.8h0M193.4 286.6h0M195.7 296.3h0M197.6 288.1h0M197.3 291.7h0M200.7 291.0h0M196.2 290.2h0M195.8 295.2h0M200.9 302.0h0M198.3 289.6h0M195.7 285.8h0M198.9 290.2h0M202.4 292.2h0M198.1 287.9h0M195.9 292.9h0M195.9 291.6h0M192.0 300.9h0M199.9 289.9h0M200.5 286.4h0M200.7 290.9h0M200.9 287.1h0M199.7 285.9h0M197.4 295.5h0M200.9 282.9h0M191.9 287.7h0M196.6 291.4h0M202.5 283.4h0M196.8 289.2h0M192.0 283.5h0M199.9 296.5h0M193.0 298.3h0M198.3 288.8h0M199.3 293.7h0M196.2 292.2h0M191.1 292.2h0M200.4 290.3h0M199.4 288.1h0M195.9 292.4h0M197.4 285.0h0M195.3 298.5h0M196.9 290.5h0M196.3 292.0h0M197.3 289.6h0M199.0 288.9h0M200.6 289.9h0M200.6 290.1h0M193.8 287.0h0M201.6 293.2h0M201.3 290.1h0M192.7 284.5h0M195.3 293.8h0M201.9 284.0h0M197.9 293.3h0M197.7 290.1h0M198.8 297.2h0M194.0 297.4h0M200.0 288.8h0M196.6 290.1h0M203.8 289.0h0M202.7 295.0h0M191.8 288.5h0" stroke="#c03070" stroke-width="0.90" stroke-linecap="round" fill="none" opacity="1"/><text x="196.5" y="255.9" font-size="7.96" font-weight="bold" fill="#000" stroke="#000" stroke-width="0.2" textLength="38.5" lengthAdjust="spacingAndGlyphs">CD7+ CD11b-</text><path d="M182.5 387.8h0M184.9 370.5h0M198.4 376.1h0M173.9 389.6h0M174.4 386.6h0M184.5 387.2h0M185.8 370.7h0M173.1 371.2h0M188.7 381.7h0M173.5 365.8h0M179.8 388.0h0M199.8 367.1h0M182.9 375.2h0M196.3 356.1h0M190.3 380.5h0M184.7 382.0h0M179.5 370.6h0M183.3 398.4h0M189.8 388.8h0M190.6 362.8h0M187.1 388.4h0M178.2 373.0h0M186.5 375.6h0M176.1 387.7h0M173.3 377.7h0M180.7 376.2h0M184.4 376.9h0M185.3 383.0h0M167.7 389.1h0M192.8 381.3h0M177.1 390.3h0M188.2 388.1h0M184.8 400.6h0M188.5 372.6h0M174.9 389.6h0M187.5 378.7h0M181.5 384.5h0M179.6 371.9h0M191.2 379.4h0M182.8 373.7h0M187.5 380.2h0M176.4 387.2h0M186.9 380.5h0M185.1 388.1h0M183.6 360.7h0M182.3 396.1h0M191.2 372.8h0M198.9 366.1h0M180.9 376.8h0M191.7 396.7h0M195.5 373.5h0M189.3 379.8h0M185.1 396.3h0M189.6 396.9h0M193.1 369.9h0M187.5 384.2h0M167.9 374.3h0M197.2 387.8h0M184.3 407.3h0M184.4 378.5h0M181.5 374.7h0M185.9 380.4h0M176.8 395.7h0M176.5 379.8h0M177.1 385.8h0M183.2 379.3h0M186.1 391.6h0M193.3 389.6h0M187.1 379.2h0M171.6 369.9h0M178.2 367.7h0M181.5 372.8h0M184.1 391.5h0M174.0 369.3h0M182.1 382.9h0M175.1 388.2h0M174.5 400.9h0M184.2 399.0h0M182.2 376.8h0M179.3 372.7h0M191.5 363.0h0M192.6 389.8h0M184.6 388.2h0M190.1 393.2h0M179.3 383.6h0M181.7 381.2h0M184.9 376.3h0M189.9 380.7h0M186.9 389.2h0M192.3 357.3h0M194.2 361.4h0M184.4 385.1h0M186.9 399.2h0M190.9 366.6h0M183.3 408.3h0M180.0 387.4h0M181.8 380.4h0M184.1 384.8h0M186.3 403.2h0M178.9 385.1h0M192.9 368.7h0M180.5 392.5h0M192.0 387.4h0M193.6 382.6h0M188.5 383.8h0M176.6 364.2h0M179.6 376.9h0M190.3 390.2h0M189.8 388.9h0M171.3 376.7h0M169.9 375.4h0M193.9 362.4h0M183.4 393.0h0M187.3 368.7h0M189.0 402.7h0M200.6 375.3h0M172.7 376.6h0M198.0 378.2h0M173.2 376.7h0M184.4 395.5h0M190.1 392.8h0M182.5 400.1h0M191.7 390.4h0M185.2 372.3h0M175.8 391.4h0M172.2 396.5h0M186.5 377.2h0M182.5 374.9h0M188.7 401.4h0M183.5 374.1h0M183.9 394.3h0M180.5 384.7h0M190.0 390.1h0M192.2 370.4h0M178.4 388.6h0M189.3 376.7h0M199.9 399.0h0M191.1 392.3h0M193.2 369.1h0M187.5 371.7h0M181.7 367.8h0M179.7 384.3h0M191.0 388.2h0M181.9 381.8h0M186.8 377.5h0M194.0 363.6h0M185.2 408.0h0M189.0 371.7h0M181.3 373.2h0M189.7 383.7h0M180.7 391.9h0M183.2 378.1h0M184.3 378.7h0M179.6 372.3h0M190.7 362.3h0M180.2 402.1h0M192.1 381.4h0M181.7 377.9h0M174.0 400.2h0M183.9 379.9h0M182.0 403.5h0M172.7 385.1h0M190.0 373.6h0M189.9 368.4h0M192.0 365.9h0M189.1 361.8h0M193.0 361.5h0M196.6 365.4h0M183.8 382.8h0M185.1 382.0h0M195.8 380.4h0M184.0 408.9h0M181.0 367.9h0M180.2 380.9h0M177.3 371.0h0M174.7 389.9h0M193.6 397.4h0M201.7 386.2h0M186.5 369.7h0M189.6 377.8h0M190.4 386.0h0M182.4 384.1h0M172.9 377.1h0M175.6 391.3h0M180.3 367.5h0M191.4 362.7h0M193.3 369.5h0M177.4 367.0h0M192.0 375.8h0M182.7 382.5h0M184.2 396.8h0M195.8 368.5h0M177.8 362.7h0M189.7 388.3h0M176.4 379.8h0M183.4 388.5h0M166.6 376.5h0M186.6 392.3h0M184.9 375.9h0M202.2 385.2h0M179.2 395.9h0M173.8 389.2h0M190.7 373.2h0M182.8 388.2h0M176.7 368.9h0M175.4 399.5h0M189.5 389.4h0M187.1 380.5h0M165.8 390.0h0M176.5 404.0h0M186.6 365.3h0M186.4 381.1h0M181.1 374.5h0M180.4 382.5h0M189.2 381.5h0M192.7 358.6h0M186.3 395.2h0M187.0 371.3h0M177.8 398.6h0M197.7 376.5h0M174.9 392.5h0M179.8 382.7h0M172.6 360.7h0M179.5 389.8h0M171.0 375.6h0M176.0 390.0h0M189.0 395.1h0M181.0 391.2h0M194.5 383.7h0M195.7 392.1h0M180.3 382.9h0M176.9 378.0h0M175.0 388.2h0M177.6 375.2h0M195.4 359.9h0M182.6 388.6h0M179.8 399.9h0M189.4 368.4h0M187.2 396.7h0M187.4 383.3h0M178.3 385.5h0M186.1 389.3h0M199.4 366.1h0M184.9 375.2h0M179.9 387.8h0M193.9 381.3h0M191.3 391.6h0M186.4 383.1h0M183.5 395.6h0" stroke="#e04040" stroke-width="0.90" stroke-linecap="round" fill="none" opacity="1"/><path d="M175.8 365.5C177.2 363.5 179 362.4 180.9 361.9C182.8 361.4 185.3 361.5 187.1 362.4C188.9 363.4 190.7 365.2 191.8 367.6C192.8 370 193.1 373.4 193.3 376.9C193.5 380.3 193.2 384.9 192.8 388.2C192.4 391.5 191.9 394.4 190.7 396.5C189.6 398.5 188.1 399.9 186.1 400.6C184.1 401.3 180.8 401.5 178.9 400.6C176.9 399.7 175.3 398 174.2 395.4C173.1 392.9 172.4 388.7 172.2 385.1C171.9 381.5 172.1 377 172.7 373.8C173.3 370.5 174.4 367.5 175.8 365.5Z" fill="#ffa8a8" opacity="0.8" filter="url(#b08)"/><path d="M177 368.1C178.1 366.5 179.7 365.5 181.3 365.1C182.9 364.7 184.9 364.8 186.4 365.5C188 366.3 189.5 367.8 190.3 369.8C191.2 371.9 191.5 374.7 191.6 377.6C191.7 380.5 191.5 384.3 191.2 387C190.8 389.8 190.4 392.2 189.5 393.9C188.5 395.6 187.2 396.8 185.6 397.4C183.9 397.9 181.2 398.1 179.6 397.4C177.9 396.7 176.6 395.2 175.7 393.1C174.8 390.9 174.2 387.5 174 384.5C173.8 381.5 173.9 377.7 174.4 375C174.9 372.3 175.8 369.8 177 368.1Z" fill="#ff1010" filter="url(#b03)"/><path d="M186.7 398.9h0M192.1 369.8h0M192.8 382.9h0M186.3 399.2h0M180.3 365.9h0M172.5 384.8h0M190.6 371.4h0M178.4 398.6h0M183.5 397.4h0M190.6 391.9h0M179.3 397.3h0M187.7 366.0h0M186.3 398.1h0M182.4 400.1h0M176.9 367.5h0M190.3 368.6h0M174.5 392.4h0M192.8 379.5h0M181.3 365.3h0M174.4 374.1h0M186.0 398.0h0M182.2 363.9h0M179.3 363.2h0M192.2 383.3h0M174.3 386.9h0M185.8 398.1h0M173.9 390.2h0M173.1 376.0h0M181.8 399.6h0M181.6 362.6h0M191.4 377.1h0M174.7 390.8h0M182.4 363.1h0M188.4 398.2h0M192.8 376.1h0M179.6 365.3h0M188.7 367.7h0M186.5 398.2h0M173.7 374.4h0M182.4 364.4h0M191.6 373.4h0M175.9 367.8h0M181.6 399.9h0M189.6 392.5h0M181.2 399.6h0M175.3 395.1h0M191.6 378.6h0M192.1 380.7h0M191.7 390.1h0M179.3 399.1h0M179.0 398.0h0M186.7 396.3h0M178.7 400.2h0M193.0 381.4h0M191.3 367.6h0M174.2 393.5h0M190.7 371.5h0M188.4 397.2h0M190.8 393.0h0M192.2 371.2h0M192.5 385.9h0M178.0 364.4h0M178.5 398.2h0M172.4 381.8h0M173.0 376.9h0M192.0 382.6h0M190.9 390.3h0M178.2 365.1h0M190.0 395.5h0M180.1 363.6h0M178.6 364.6h0M178.3 366.2h0M174.0 386.8h0M180.9 363.5h0M191.4 386.3h0M175.6 393.8h0M186.2 363.7h0M176.3 394.8h0M191.5 372.6h0M174.6 392.4h0M191.5 390.1h0M190.8 373.9h0M192.3 373.6h0M189.2 394.6h0M189.9 369.5h0M191.7 378.5h0M191.4 369.5h0M174.9 370.8h0M176.6 367.5h0M183.5 362.3h0M192.5 382.6h0M175.4 393.5h0M177.3 366.2h0M191.5 369.8h0M173.5 390.4h0M188.0 366.1h0M188.5 368.1h0M188.7 366.0h0M187.9 398.1h0M174.8 371.6h0M174.4 394.3h0M191.4 380.0h0M191.6 376.7h0M191.3 389.5h0M189.7 394.4h0M185.4 397.1h0M177.7 397.3h0M173.6 373.4h0M179.5 365.4h0M183.7 365.5h0M174.0 370.4h0M174.6 387.2h0M172.5 385.3h0M179.0 366.6h0M173.9 380.9h0M186.1 364.8h0M192.4 374.0h0M185.7 365.6h0M175.6 368.5h0M186.0 365.2h0M189.7 395.4h0M174.7 387.4h0M181.8 399.8h0M179.6 397.5h0M181.2 398.7h0M173.0 380.6h0M187.1 365.8h0M185.4 400.6h0M177.0 395.8h0M185.9 400.6h0M173.4 375.9h0M182.0 400.4h0M178.4 395.8h0M188.8 366.4h0M177.3 395.6h0M187.9 396.9h0M175.9 366.2h0M178.3 395.8h0M192.3 373.1h0M178.2 367.0h0M178.0 364.0h0M191.7 391.4h0M190.0 393.5h0M173.4 389.2h0M176.2 369.9h0M189.0 396.9h0M176.0 394.6h0M177.1 394.6h0M188.2 367.3h0M173.6 374.2h0M192.2 381.2h0M176.1 368.7h0M184.4 397.0h0M181.0 399.7h0M188.3 397.5h0M191.6 377.3h0M192.8 388.2h0M175.2 391.5h0M191.5 381.3h0M180.3 364.5h0M172.9 385.0h0M191.5 393.0h0M176.4 397.6h0M173.6 374.6h0M178.4 367.4h0M186.8 363.4h0M185.9 364.7h0M177.7 398.2h0M187.9 398.2h0M181.2 362.6h0M174.9 372.7h0M179.6 366.5h0M191.7 390.3h0M177.1 397.9h0M178.7 398.4h0M173.4 379.5h0M191.2 374.3h0M173.0 388.6h0M178.2 397.2h0M179.4 400.5h0M186.6 399.0h0M191.8 389.8h0M172.4 382.9h0M192.3 387.8h0M190.1 392.9h0M175.1 395.7h0M187.7 395.5h0M175.0 395.7h0M172.6 376.6h0M186.6 363.9h0M176.7 368.9h0M190.6 366.8h0M180.6 397.2h0M174.8 394.0h0M188.1 395.1h0M193.1 379.3h0M174.9 394.9h0M174.1 370.6h0M181.0 398.7h0M192.8 380.8h0M180.1 365.6h0M190.9 391.9h0M173.0 382.9h0M185.4 365.5h0M176.4 369.9h0M174.1 379.1h0M188.9 394.1h0M174.2 380.5h0M176.6 366.1h0M174.5 388.1h0M173.2 377.2h0M183.0 399.5h0M187.4 398.1h0M173.8 377.5h0M192.4 381.9h0M180.0 362.6h0M191.4 378.0h0M186.0 398.4h0M176.6 367.2h0M173.2 379.2h0M180.5 365.7h0M188.4 365.2h0M188.3 364.7h0M174.5 377.1h0M174.8 370.0h0M191.6 374.3h0M190.9 392.7h0M175.0 367.5h0M189.5 394.6h0M176.3 366.8h0M192.9 375.8h0M172.9 383.9h0M189.8 392.0h0M189.2 366.2h0M190.1 368.9h0M174.9 367.9h0M172.7 375.5h0M187.7 395.2h0M179.9 363.4h0M173.0 381.7h0M182.3 363.3h0M179.8 399.1h0M174.1 384.6h0M190.0 366.2h0M183.3 365.3h0M177.5 365.2h0M190.3 395.3h0M172.5 385.9h0M175.3 366.9h0M188.5 367.8h0M188.0 366.3h0M192.2 387.5h0M192.4 386.1h0M176.8 368.6h0M174.2 390.8h0M173.5 375.4h0M173.9 377.3h0M184.4 362.5h0M186.7 397.3h0M180.9 364.3h0M172.3 384.1h0M173.9 376.3h0M188.9 397.6h0M178.9 364.9h0M176.2 394.9h0M188.5 396.6h0M184.1 363.9h0M172.9 380.3h0M188.6 395.8h0M174.3 370.2h0M173.6 385.3h0M191.7 387.1h0M189.8 393.8h0M175.1 390.6h0M191.1 386.7h0M190.1 369.8h0M181.1 365.1h0M185.2 365.4h0M174.0 370.4h0M184.3 400.2h0M181.4 397.2h0M173.8 392.1h0M179.7 363.3h0M190.3 393.6h0M178.5 363.7h0M173.9 386.7h0M192.2 373.1h0M190.0 393.3h0M192.5 382.9h0M183.7 400.1h0M179.0 399.9h0M186.1 362.8h0M175.9 396.5h0M176.9 368.9h0M181.7 399.3h0M179.5 400.2h0M181.5 364.9h0M191.2 388.3h0M173.0 373.7h0M178.4 396.6h0" stroke="#ff1010" stroke-width="1.00" stroke-linecap="round" fill="none" opacity="1"/><path d="M190.0 369.6h0M189.7 396.0h0M182.9 361.6h0M179.4 363.2h0M179.3 399.1h0M173.0 390.7h0M172.4 379.9h0M174.8 393.4h0M173.5 377.2h0M174.7 372.8h0M191.6 388.0h0M179.6 399.7h0M187.7 396.4h0M193.4 377.7h0M181.4 361.8h0M193.2 385.3h0M175.3 393.2h0M186.8 397.1h0M190.1 369.3h0M172.8 376.6h0M174.2 380.6h0M184.3 364.5h0M192.6 387.1h0M178.9 399.4h0M191.9 380.7h0M176.3 397.3h0M183.9 363.1h0M189.3 369.1h0M180.6 364.1h0M173.5 373.9h0M192.3 375.1h0M177.3 364.2h0M174.3 372.0h0M186.9 400.9h0M185.2 364.0h0M180.2 399.2h0M185.9 397.6h0M173.3 375.1h0M192.6 391.4h0M191.4 372.3h0M185.3 400.1h0M174.0 393.2h0M186.5 362.8h0M173.4 392.1h0M187.6 362.2h0M192.7 371.6h0M190.4 369.5h0M174.4 375.7h0M191.6 380.3h0M176.6 366.6h0M172.6 376.4h0M184.9 365.3h0M178.3 367.3h0M193.1 386.0h0M172.8 376.4h0M191.3 372.2h0M186.5 396.3h0M177.3 364.9h0M188.2 365.4h0M186.7 400.8h0M172.2 380.3h0M187.1 396.0h0M181.4 362.0h0M177.8 363.2h0M174.1 376.9h0M191.0 387.4h0M193.1 379.4h0M190.0 395.3h0M185.6 398.1h0M183.1 399.1h0M190.0 390.8h0M187.4 363.4h0M178.0 367.5h0M186.2 400.5h0M191.4 385.8h0M189.5 366.9h0M173.4 370.6h0M173.2 378.5h0M180.6 363.0h0M174.2 383.8h0M191.9 392.7h0M175.5 390.8h0M192.0 384.7h0M173.6 370.0h0M186.4 398.0h0M184.0 400.0h0M192.8 377.3h0M175.4 367.5h0M172.1 381.6h0M172.8 388.9h0M174.7 373.8h0M191.4 389.4h0M191.5 376.3h0M173.1 390.3h0M174.3 378.6h0M173.4 374.1h0M193.3 385.9h0M187.7 397.2h0M189.0 365.2h0M172.5 383.9h0" stroke="#d04040" stroke-width="0.90" stroke-linecap="round" fill="none" opacity="1"/><path d="M172.5 375.4h0M186.0 396.4h0M194.2 383.1h0M191.7 387.0h0M191.0 398.2h0M194.3 377.0h0M190.8 391.1h0M171.8 388.5h0M173.0 375.9h0M189.8 369.4h0M177.9 399.9h0M189.1 365.5h0M190.4 390.9h0M193.2 374.6h0M186.1 396.7h0M192.3 371.0h0M172.3 389.8h0M187.7 363.2h0M189.8 399.2h0M176.9 396.5h0M185.2 362.2h0M188.2 397.4h0M190.1 370.8h0M171.0 370.3h0M186.4 359.6h0M184.5 401.5h0M178.9 365.4h0M180.7 364.1h0M176.8 399.3h0M190.9 392.8h0M191.0 372.6h0M191.9 394.1h0M175.3 392.5h0M191.3 396.1h0M192.5 383.5h0M190.4 387.2h0M189.0 366.0h0M194.7 384.9h0M174.3 372.6h0M170.1 377.8h0M175.9 377.9h0M175.0 364.7h0M185.2 362.7h0M177.1 401.5h0M179.2 363.3h0M175.1 365.3h0M190.5 369.2h0M189.1 399.0h0M188.5 390.5h0M182.4 361.5h0M177.6 364.8h0M172.1 374.8h0M180.8 362.6h0M194.7 373.9h0M182.4 401.4h0M185.4 399.0h0M182.8 398.1h0M181.5 360.0h0M175.1 371.8h0M174.3 369.6h0M192.8 393.6h0M179.4 400.2h0M194.0 377.2h0M189.5 399.8h0M180.8 365.3h0M180.8 400.2h0M177.0 369.4h0M188.4 397.8h0M191.7 377.3h0M185.4 362.5h0M185.1 364.2h0M174.6 371.0h0M186.3 362.5h0M183.5 362.5h0M174.5 369.7h0M188.9 364.5h0M171.5 377.7h0M192.5 362.7h0M189.8 367.7h0M191.7 387.0h0M170.5 380.3h0M178.7 399.4h0M174.4 383.2h0M179.6 399.0h0M177.2 402.0h0M180.1 363.7h0M175.6 399.5h0M183.3 398.8h0M174.0 393.6h0M175.7 394.4h0M191.5 376.7h0M176.9 364.7h0M175.3 387.1h0M173.8 389.6h0M182.2 360.0h0M175.7 390.7h0M171.9 382.1h0M193.8 386.2h0M184.1 363.4h0M174.2 393.7h0M175.8 366.7h0M179.4 396.6h0M182.8 398.3h0M178.5 361.1h0M193.4 377.7h0M173.9 393.7h0M176.7 398.5h0M192.2 380.2h0M190.9 397.1h0M171.6 383.0h0M172.2 383.4h0M188.4 362.2h0M181.0 396.9h0M189.3 399.9h0M176.2 397.2h0M181.8 399.2h0M191.5 377.7h0M194.0 376.2h0M191.0 372.7h0M175.4 374.8h0M188.3 367.0h0M187.7 398.8h0M177.7 368.6h0M179.7 363.5h0M178.6 372.1h0M185.3 400.2h0M188.2 363.8h0M173.0 391.3h0M170.8 383.9h0M170.5 376.9h0M188.7 393.8h0M191.1 392.2h0M191.3 393.4h0M179.3 364.0h0M183.4 362.0h0M175.3 394.4h0M172.2 380.1h0M170.6 385.1h0M173.4 383.0h0M186.5 363.0h0M186.0 403.5h0M174.1 379.9h0M178.6 364.0h0M175.6 395.4h0M179.7 361.6h0M178.7 396.3h0M184.5 362.8h0M173.7 386.8h0M176.0 375.9h0M193.2 385.8h0M172.8 386.1h0M180.3 364.0h0M188.7 398.7h0M182.8 364.1h0M188.6 365.3h0M186.2 398.3h0M188.7 373.4h0M190.6 366.5h0M179.3 364.3h0M179.1 364.0h0M178.9 365.2h0M192.0 389.4h0M184.1 398.3h0M171.5 384.5h0M175.9 397.7h0M191.2 369.4h0M184.0 401.1h0M190.2 376.8h0M185.1 361.9h0M191.2 376.2h0M174.5 372.1h0M194.6 377.7h0M175.0 382.9h0M182.2 397.7h0M176.2 392.9h0M178.3 363.6h0M176.0 394.0h0M191.1 374.6h0M177.3 401.9h0M192.9 375.6h0" stroke="#ff2020" stroke-width="1.00" stroke-linecap="round" fill="none" opacity="1"/><ellipse cx="207" cy="388" rx="12.3" ry="13.3" transform="rotate(0 207 388)" fill="none" stroke="#333" stroke-width="0.7" opacity="1"/><path d="M208.7 393.0h0M210.1 395.0h0M207.5 380.2h0M201.7 385.2h0M208.9 393.0h0M193.3 373.3h0M212.4 375.7h0M212.4 381.1h0M206.2 383.4h0M202.7 395.2h0M197.3 398.0h0M200.1 387.3h0M212.6 368.8h0M203.9 394.8h0M214.2 384.5h0M206.8 388.9h0M216.1 388.6h0M215.1 379.1h0M212.2 380.8h0M205.0 388.7h0M204.0 378.8h0M215.4 392.2h0M198.7 374.5h0M205.5 388.9h0M207.9 390.6h0M207.1 383.8h0M193.0 391.4h0M201.4 380.6h0M206.6 396.6h0M215.5 380.9h0M207.4 386.8h0M197.9 395.5h0M198.6 394.1h0M211.4 390.3h0M195.5 377.6h0M200.5 386.0h0M206.0 379.1h0M221.8 383.9h0M198.2 396.1h0M227.1 385.9h0" stroke="#c08080" stroke-width="0.80" stroke-linecap="round" fill="none" opacity="1"/><text x="199.4" y="356.3" font-size="8.38" font-weight="bold" fill="#000" stroke="#000" stroke-width="0.2" textLength="39.4" lengthAdjust="spacingAndGlyphs">CD7+ CD11b-</text><path d="M309.5 276.3h0M311.2 281.3h0M355.0 291.7h0M315.8 275.0h0M329.7 290.0h0M297.6 287.3h0M308.0 270.8h0M336.2 297.9h0M311.7 292.9h0M323.0 284.8h0M338.4 297.6h0M319.8 282.5h0M332.5 299.6h0M360.5 304.1h0M332.4 284.3h0M328.9 291.2h0M347.2 301.0h0M341.3 305.8h0M341.9 304.8h0M359.6 293.0h0M354.1 280.8h0M342.0 260.0h0M337.4 283.3h0M342.4 270.0h0M323.9 289.3h0M342.8 272.7h0M353.0 287.8h0M339.6 283.4h0M354.4 282.8h0M343.1 277.9h0M344.1 284.5h0M320.1 282.0h0M355.3 286.9h0M318.8 273.1h0M338.1 258.6h0M342.5 288.9h0M326.3 287.2h0M307.4 301.0h0M336.3 285.8h0M315.2 279.3h0M366.6 275.6h0M293.9 274.2h0M337.2 280.8h0M302.2 287.3h0M322.8 270.0h0M359.5 285.8h0M333.3 276.0h0M308.1 281.5h0M304.5 272.2h0M329.1 286.9h0M344.0 280.8h0M332.7 272.3h0M338.6 285.2h0M320.3 290.9h0M331.7 285.1h0M326.3 282.3h0M330.6 264.3h0M330.6 279.5h0" stroke="#9a9a9a" stroke-width="0.80" stroke-linecap="round" fill="none" opacity="1"/><path d="M365.1 282.8h0M358.4 278.8h0M350.3 277.0h0M358.8 270.3h0M359.4 274.7h0M361.5 271.5h0M358.9 277.2h0M356.6 273.8h0M359.0 284.1h0M365.0 271.0h0M366.2 277.9h0M360.6 273.7h0M364.7 264.0h0M360.8 276.8h0M359.9 274.9h0M362.2 274.4h0M360.7 275.0h0M369.3 281.8h0M359.0 277.0h0M363.8 279.5h0M361.3 270.1h0M358.2 263.6h0M361.8 276.9h0M358.7 268.0h0M368.2 277.9h0M357.9 273.2h0M359.8 269.4h0M354.8 274.1h0M357.7 276.7h0M357.1 271.1h0M363.6 276.3h0M355.1 267.8h0M361.4 275.0h0M357.7 265.8h0M361.6 272.3h0M359.1 269.1h0M361.4 270.9h0M364.8 273.0h0M360.9 274.5h0M357.3 269.0h0M364.3 264.9h0M366.4 266.8h0M363.6 276.3h0M364.2 286.1h0M361.3 278.3h0M362.0 281.6h0M359.0 281.1h0M360.2 274.8h0M362.3 277.7h0M362.1 269.1h0M364.1 272.6h0M364.8 278.4h0M360.4 275.7h0M361.1 277.8h0M357.5 274.4h0M365.9 281.4h0M364.1 284.2h0M361.0 276.8h0M361.2 267.6h0M366.5 262.6h0M369.8 275.7h0M363.6 283.4h0M364.6 278.4h0M368.0 275.8h0M358.0 281.7h0M358.1 278.7h0M362.5 279.3h0M360.0 269.9h0M354.3 272.2h0M361.2 274.1h0M360.3 265.1h0M357.6 267.4h0M366.1 272.4h0M360.8 263.5h0M361.5 275.4h0M357.0 267.5h0M370.2 278.2h0M364.1 278.1h0M361.5 276.2h0M364.0 271.9h0M353.9 269.6h0M365.0 270.3h0M356.3 277.1h0M366.0 270.9h0M364.7 280.0h0M369.2 274.0h0M362.8 263.3h0M358.0 275.4h0M364.0 276.4h0M359.4 279.8h0M363.2 275.1h0M361.9 270.0h0M361.1 263.6h0M357.5 271.1h0M359.7 273.8h0M360.0 268.9h0M362.6 275.9h0M360.1 267.5h0M363.0 261.3h0M357.8 271.6h0M362.4 266.0h0M362.2 269.4h0M360.7 273.5h0M352.2 273.9h0M354.7 278.4h0M357.7 283.2h0M367.3 281.1h0M360.1 277.9h0M358.4 281.9h0M359.7 272.4h0M361.3 278.5h0M360.9 280.0h0M361.3 273.0h0M359.0 272.5h0M362.6 274.7h0M357.0 272.0h0M361.7 263.8h0M360.8 264.6h0M362.8 273.8h0M356.4 270.8h0M362.2 279.1h0M357.0 273.9h0M361.3 273.6h0M356.3 271.4h0M368.7 267.0h0M361.3 279.8h0M361.8 275.8h0M364.5 293.5h0M362.3 269.4h0M360.4 276.3h0M362.6 278.7h0M362.4 276.7h0M363.3 282.3h0M363.8 262.4h0M362.2 285.3h0M358.1 277.8h0M363.0 272.5h0M360.2 262.9h0M359.2 269.1h0M365.4 270.1h0M363.8 265.1h0M359.1 265.4h0M367.8 276.9h0M359.0 274.6h0M365.2 268.8h0M363.9 288.8h0M364.1 282.3h0M372.5 283.1h0M354.9 264.9h0M364.4 271.7h0M361.9 272.7h0M358.3 267.9h0M366.8 274.0h0M365.2 269.6h0M363.0 275.7h0M355.5 275.1h0M364.0 267.7h0M358.6 275.8h0M353.8 274.7h0M363.3 266.2h0M367.9 267.1h0M357.2 275.2h0M359.5 271.0h0M361.5 271.6h0M360.0 276.8h0M358.0 283.3h0M361.9 271.1h0M357.0 269.1h0M359.3 270.2h0M360.0 274.2h0M364.7 267.9h0M357.0 263.8h0M359.5 275.8h0M359.8 281.6h0M357.7 270.0h0M358.0 267.9h0M366.2 280.9h0M359.4 274.9h0M361.3 271.0h0M357.1 284.8h0M370.5 278.0h0M359.7 281.3h0M360.9 268.7h0M359.3 277.4h0M362.4 269.5h0M359.9 273.2h0M360.3 264.4h0M360.3 283.6h0M362.1 267.4h0M362.1 274.0h0" stroke="#b878e0" stroke-width="0.90" stroke-linecap="round" fill="none" opacity="1"/><path d="M308.2 300.4h0M310.6 297.3h0M320.9 303.2h0M327.6 307.7h0M307.1 304.2h0M306.1 297.4h0M316.2 301.0h0M315.4 298.4h0M330.4 303.4h0M298.6 299.2h0M326.6 298.8h0M309.5 301.6h0M314.7 301.5h0M323.9 297.6h0M322.6 309.8h0M333.3 308.2h0M296.6 305.8h0M328.4 308.6h0M322.3 306.3h0M323.3 296.8h0M306.6 302.0h0M319.8 299.4h0M303.8 311.0h0M313.5 307.0h0M313.0 304.7h0M306.7 302.4h0M316.0 299.7h0M317.6 302.1h0M311.0 302.0h0M314.0 307.5h0M298.9 297.1h0M301.4 301.0h0M333.4 302.1h0M319.9 300.9h0M319.4 309.3h0M319.9 307.6h0M318.9 301.4h0M319.3 299.6h0M327.0 301.6h0M310.5 300.7h0M308.5 302.1h0M305.8 301.9h0M316.7 303.1h0M314.0 299.4h0M311.7 309.9h0M314.0 302.3h0M304.3 300.7h0M319.2 296.2h0M324.1 290.5h0M309.3 304.0h0M298.5 290.9h0M311.4 301.3h0M330.8 301.1h0M322.8 301.2h0M306.2 301.8h0M305.8 306.8h0M330.0 302.3h0M306.2 300.8h0M305.6 307.9h0M331.8 308.4h0M323.5 306.3h0M298.7 305.0h0M329.4 310.6h0M327.7 301.8h0M306.7 301.3h0M302.7 300.3h0M332.4 294.2h0M314.1 303.0h0M299.9 304.6h0M302.6 296.8h0M323.3 310.7h0M298.1 299.6h0M294.5 307.5h0M317.4 302.4h0M319.1 304.5h0M315.2 302.7h0M313.4 302.2h0M339.4 300.9h0M298.5 300.4h0M337.7 304.7h0M327.2 296.1h0M316.4 302.7h0M318.7 308.9h0M303.7 302.3h0M329.9 305.2h0M295.9 306.4h0M316.5 307.8h0M316.6 304.7h0M313.3 301.3h0M305.7 302.1h0M316.8 303.1h0M305.0 295.1h0M314.7 301.1h0M319.3 304.5h0M330.8 296.9h0M315.7 298.5h0M300.9 303.5h0M319.7 301.8h0M318.4 297.7h0M321.7 305.8h0M318.9 302.6h0M301.3 297.4h0M310.4 303.0h0M313.5 299.3h0M325.6 304.6h0M320.0 299.7h0M325.0 297.6h0M318.7 303.5h0M313.5 300.5h0M303.9 298.3h0M320.8 303.3h0M319.7 306.4h0M301.6 306.4h0M312.8 308.6h0M315.1 301.6h0M316.3 293.7h0M313.8 298.7h0M301.1 303.3h0M304.8 301.8h0M318.2 307.7h0M308.2 309.7h0M301.9 304.4h0M305.4 302.5h0M300.4 301.9h0M314.1 311.0h0M308.8 301.6h0M331.2 303.3h0M326.1 302.2h0M320.0 308.9h0M308.9 315.2h0M306.4 301.5h0M313.6 305.7h0M300.9 306.2h0M329.3 297.0h0M302.3 296.3h0M311.1 299.5h0M326.1 299.6h0M319.7 299.3h0M304.5 299.2h0M327.1 303.9h0M297.1 300.1h0M325.4 301.2h0M316.7 298.0h0M302.2 308.7h0M316.6 296.5h0M295.3 301.2h0M307.7 294.6h0M324.4 303.6h0M302.5 298.9h0M306.6 302.5h0M316.7 307.4h0M310.1 302.3h0M317.9 298.1h0M333.3 297.6h0M297.1 307.6h0M318.8 298.4h0M324.4 307.9h0M329.8 300.6h0M320.9 301.5h0M334.0 298.3h0M317.3 307.8h0M326.3 299.0h0M310.8 301.3h0M322.1 293.6h0M318.9 301.1h0M300.3 307.9h0M317.2 307.6h0M317.9 302.2h0M309.5 292.6h0M306.9 305.3h0M321.7 300.7h0M303.7 304.4h0M324.8 303.9h0M309.5 309.4h0M326.8 298.2h0M321.9 290.7h0M293.7 302.9h0M317.1 309.9h0M330.9 299.2h0M300.1 303.5h0M321.3 297.6h0M320.5 307.6h0M311.2 304.8h0M302.4 302.3h0M311.9 298.8h0M326.1 308.7h0M328.2 305.3h0M303.3 301.0h0M317.8 291.2h0M322.7 299.3h0M309.5 304.3h0M305.6 307.0h0M335.7 300.0h0M323.4 300.7h0M320.1 297.8h0M318.1 304.8h0M312.0 308.9h0M309.6 302.3h0M319.9 300.7h0M300.4 301.8h0M315.3 292.7h0M320.8 303.5h0M320.8 299.3h0M317.3 301.1h0M312.3 299.7h0M310.6 293.9h0M312.7 301.9h0M297.3 306.2h0M318.7 303.0h0M304.8 303.7h0M307.9 301.7h0M300.5 305.7h0M341.0 303.7h0M317.7 298.4h0M310.9 300.5h0M313.8 301.7h0M313.6 302.1h0M326.8 300.2h0M323.0 294.2h0M322.3 301.3h0M324.2 298.7h0M305.6 307.2h0M313.7 304.2h0M317.1 297.2h0M321.0 296.7h0M316.5 300.3h0M313.0 308.5h0M316.3 305.1h0M327.7 310.3h0M310.9 301.5h0M326.8 307.2h0M301.5 308.7h0M323.5 301.0h0M308.7 303.9h0M319.8 303.4h0M325.6 293.6h0M330.8 304.0h0M322.0 307.1h0M305.5 306.3h0M317.4 300.8h0M314.3 310.1h0M333.2 307.5h0M318.7 297.7h0M305.6 299.5h0M304.7 300.1h0M310.7 299.1h0M324.2 300.5h0M328.6 300.2h0M296.5 295.5h0M319.7 299.2h0M331.6 301.1h0M298.5 304.9h0M318.9 293.8h0M315.4 305.5h0M308.5 310.8h0M312.8 304.9h0M337.6 305.0h0M306.1 302.9h0M308.7 301.0h0M305.2 302.3h0M330.7 306.0h0M313.7 307.7h0M300.8 299.3h0M302.3 293.0h0M298.4 292.2h0M316.7 293.3h0M314.6 295.6h0M305.3 302.8h0M318.7 301.1h0M320.6 303.4h0M327.0 303.4h0M315.3 299.2h0M326.2 299.2h0M314.3 300.8h0M337.5 302.3h0M309.7 307.4h0M310.4 303.8h0M338.0 305.0h0M302.7 301.3h0M315.3 297.6h0M323.1 302.0h0M318.0 300.0h0M309.3 304.0h0M316.4 300.3h0M306.7 299.5h0M329.7 302.3h0M324.3 294.1h0M314.9 302.4h0M310.2 310.5h0" stroke="#3030d0" stroke-width="0.90" stroke-linecap="round" fill="none" opacity="1"/><path d="M298.2 297.1C299.1 296 301.3 296.1 303 296.2C304.8 296.2 307.3 296.8 308.9 297.6C310.5 298.4 312.3 299.6 312.8 301C313.3 302.4 313 304.7 311.8 305.9C310.7 307.1 307.9 308.1 306 308.3C304 308.6 301.5 308.3 300.1 307.4C298.7 306.5 298 304.7 297.7 303C297.4 301.3 297.3 298.3 298.2 297.1Z" fill="#3030e0" opacity="1" filter="url(#b08)"/><path d="M299.7 298.3C300.4 297.4 302.1 297.5 303.5 297.5C304.8 297.6 306.7 298 308 298.6C309.2 299.3 310.6 300.2 311 301.3C311.3 302.3 311.1 304.1 310.2 305C309.3 306 307.2 306.7 305.7 306.9C304.2 307.1 302.3 306.8 301.2 306.1C300.1 305.5 299.6 304.1 299.3 302.8C299.1 301.5 299 299.1 299.7 298.3Z" fill="#1010ff" filter="url(#b03)"/><path d="M302.1 297.8h0M301.2 298.5h0M305.5 306.4h0M309.6 306.3h0M302.5 302.4h0M298.4 299.5h0M303.6 302.4h0M302.4 299.2h0M307.8 299.3h0M305.5 301.1h0M304.6 307.7h0M309.2 301.4h0M305.5 302.5h0M306.8 297.7h0M300.1 302.9h0M309.0 299.0h0M299.1 301.9h0M303.1 308.0h0M301.6 303.2h0M307.4 304.0h0M299.7 302.6h0M297.9 303.3h0M303.5 304.5h0M307.3 304.6h0M309.7 303.1h0M298.6 301.6h0M305.4 304.6h0M304.1 300.2h0M304.4 297.0h0M302.0 296.2h0M306.0 304.2h0M304.5 301.9h0M308.2 300.3h0M308.4 299.7h0M308.0 301.3h0M307.0 305.7h0M307.4 301.4h0M310.5 299.8h0M303.4 299.1h0M303.2 307.4h0M301.8 302.3h0M311.2 305.2h0M299.1 302.0h0M301.7 296.4h0M309.2 300.8h0M310.3 299.6h0M305.5 300.2h0M303.8 300.2h0M301.8 307.1h0M300.1 299.2h0M312.3 301.6h0M304.9 307.0h0M311.9 304.5h0M298.7 297.7h0M309.7 304.1h0M307.0 306.7h0M307.0 308.0h0M301.6 301.1h0M308.0 305.5h0M300.0 299.1h0M303.8 303.0h0M305.2 297.6h0M308.4 304.9h0M302.3 299.6h0M309.9 306.4h0M301.1 304.1h0M299.1 299.4h0M311.1 304.5h0M311.7 301.2h0M310.5 305.7h0M299.5 306.1h0M306.8 303.0h0M306.3 307.8h0M302.4 305.9h0M303.4 305.1h0M302.6 300.8h0M307.3 299.6h0M304.4 301.7h0M304.1 300.3h0M308.4 298.7h0M310.2 300.8h0M299.8 302.0h0M298.0 297.6h0M305.7 302.7h0M310.8 299.9h0M299.5 300.2h0M309.0 306.5h0M311.5 305.0h0M310.2 305.3h0M308.1 305.2h0M309.8 299.1h0M307.4 297.7h0M308.1 301.4h0M308.7 298.5h0M309.7 299.2h0M305.9 307.6h0M304.1 299.1h0M309.3 307.0h0M301.5 307.5h0M305.3 302.3h0M298.0 303.4h0M305.9 305.3h0M309.2 302.8h0M300.2 305.3h0M304.5 296.6h0M300.6 297.0h0M298.4 298.8h0M305.9 301.0h0M305.2 302.1h0M300.2 303.7h0M307.9 298.2h0M302.1 296.2h0M312.7 302.1h0M305.3 303.1h0M309.3 302.5h0M308.4 300.7h0M307.7 301.5h0M311.5 301.5h0M300.6 301.1h0M301.6 301.0h0M305.1 308.0h0M304.6 303.5h0M310.6 304.9h0M303.8 300.7h0M306.1 304.0h0M302.7 305.9h0M298.2 297.9h0M309.8 299.6h0M305.4 300.4h0M303.4 305.0h0M303.2 305.8h0M304.1 307.7h0M301.6 297.7h0M307.5 300.6h0M304.6 305.9h0M304.2 298.7h0M308.1 304.0h0M310.4 304.7h0M311.5 304.6h0M303.8 305.2h0M299.1 301.9h0M312.4 302.2h0M312.4 300.8h0M300.3 301.7h0M307.1 305.5h0M299.2 303.2h0M304.3 297.0h0M305.7 299.7h0M299.8 304.2h0M300.1 297.3h0M301.1 303.5h0M301.3 302.8h0M301.8 301.5h0M311.8 302.7h0M304.5 304.4h0M300.8 307.3h0M297.6 303.2h0M311.8 302.7h0M310.2 306.2h0M304.4 301.5h0M300.6 298.3h0M299.0 299.8h0M304.5 308.0h0M302.3 307.3h0M300.5 306.6h0M301.2 296.9h0M302.4 297.1h0M305.6 306.7h0M306.2 305.6h0M303.6 305.8h0" stroke="#1a1ad8" stroke-width="1.00" stroke-linecap="round" fill="none" opacity="1"/><path d="M332.2 300.2h0M337.0 301.4h0M333.4 298.3h0M337.7 298.1h0M332.5 301.3h0M330.8 300.9h0M326.6 297.2h0M328.2 299.2h0M334.9 300.2h0M333.4 297.3h0M328.2 300.7h0M330.3 301.1h0M332.6 297.8h0M337.5 298.7h0M337.3 298.4h0M331.4 297.4h0M333.5 297.1h0M339.5 298.1h0M339.3 299.8h0M336.9 298.1h0M336.6 298.4h0M334.1 297.6h0M331.4 296.7h0M329.7 301.3h0M334.4 300.8h0M338.3 298.0h0M338.3 301.3h0M327.2 297.8h0M331.3 299.8h0M332.7 298.4h0M327.4 299.4h0M337.1 298.6h0M339.6 300.1h0M327.4 297.0h0M332.7 297.4h0M327.9 301.4h0M327.5 299.6h0M327.5 298.2h0M330.0 299.3h0M330.4 300.7h0M330.7 296.9h0M335.9 298.9h0M330.1 300.3h0M331.1 302.0h0M338.9 300.5h0M327.1 299.4h0M329.7 299.4h0M326.5 297.4h0M335.3 300.0h0M329.5 298.4h0M333.3 297.8h0M335.0 298.0h0M327.5 298.8h0M334.6 297.8h0M329.7 297.4h0M332.8 300.8h0M327.7 297.2h0M328.8 298.8h0M335.1 299.6h0M333.7 302.3h0M331.8 297.2h0M334.4 301.7h0M329.2 300.7h0M328.1 301.1h0M327.1 300.2h0M329.5 299.6h0M336.9 298.3h0M335.6 298.4h0M327.6 298.8h0M333.8 301.5h0M329.5 301.0h0M331.6 300.4h0M329.6 300.5h0M334.1 302.3h0M331.8 296.9h0M332.8 299.6h0M336.0 297.8h0M332.5 301.3h0M335.2 298.5h0M334.1 298.2h0M330.0 300.0h0M334.4 300.8h0M336.8 298.1h0M328.9 296.9h0M337.6 298.8h0M330.2 300.8h0M334.4 300.1h0M331.0 301.9h0M336.3 299.4h0M334.8 300.8h0M331.0 299.7h0M328.7 300.5h0M337.3 300.3h0M334.2 300.5h0M339.4 299.4h0M328.0 301.2h0M337.6 298.7h0M328.4 299.3h0M331.2 299.5h0M332.7 300.9h0M338.6 301.5h0M331.6 297.0h0M332.8 300.0h0M338.4 299.3h0M335.8 299.1h0M335.7 297.9h0M328.1 300.6h0M329.8 298.5h0M331.3 300.6h0M328.4 299.6h0M333.4 297.1h0M329.1 300.4h0M331.3 297.4h0M331.5 301.5h0M329.7 301.8h0M328.9 297.4h0M331.1 296.8h0M328.8 297.9h0M335.2 297.1h0M337.2 298.9h0M327.4 301.6h0M330.0 299.4h0M338.9 299.9h0M327.4 300.4h0M329.1 299.3h0M326.8 297.1h0M336.3 301.4h0M331.5 300.6h0M330.0 299.2h0M328.2 301.1h0" stroke="#1a1ad8" stroke-width="1.00" stroke-linecap="round" fill="none" opacity="1"/><path d="M318.5 290C319.2 288.1 319.6 285.8 322 284.5C324.4 283.2 329.3 282.5 333 282.3C336.7 282.1 341.3 282.4 344 283.5C346.7 284.6 348.3 286.9 349 289C349.7 291.1 349 294 348 296C347 298 345.7 300 343 301C340.3 302 335.7 302.1 332 302C328.3 301.9 323.3 301.5 321 300.5C318.7 299.5 318.4 297.8 318 296C317.6 294.2 317.8 291.9 318.5 290Z" fill="none" stroke="#333" stroke-width="0.7" opacity="1"/><path d="M299 290.8C299.8 289.4 301.2 288.6 303.5 288C305.7 287.4 309.8 287.4 312.4 287.4C315 287.4 317.8 286.9 319.1 288C320.4 289.1 321.4 292.6 320.3 294.2C319.1 295.7 315.2 296.7 312.4 297.5C309.6 298.4 305.8 299.4 303.5 299.2C301.1 299 299.2 297.8 298.4 296.4C297.7 295 298.1 292.2 299 290.8Z" fill="#ff8080" opacity="0.85" filter="url(#b08)"/><path d="M300 291C300.8 289.8 302 289 304 288.5C306 288 309.7 288 312 288C314.3 288 316.8 287.5 318 288.5C319.2 289.5 320 292.6 319 294C318 295.4 314.5 296.2 312 297C309.5 297.8 306.1 298.7 304 298.5C301.9 298.3 300.2 297.2 299.5 296C298.8 294.8 299.2 292.2 300 291Z" fill="#ff1010" filter="url(#b03)"/><path d="M307.6 288.1h0M318.8 288.2h0M305.9 288.3h0M301.1 297.2h0M318.9 289.0h0M319.7 293.7h0M319.2 288.3h0M319.6 291.4h0M300.0 296.6h0M303.0 298.1h0M304.7 288.2h0M298.8 296.5h0M311.7 297.6h0M318.1 288.4h0M303.5 299.0h0M318.5 292.4h0M299.5 290.9h0M303.3 297.9h0M299.6 293.4h0M319.4 294.2h0M300.2 296.2h0M312.8 287.5h0M316.9 288.2h0M312.1 297.3h0M307.2 298.3h0M314.3 296.0h0M312.0 287.5h0M300.2 291.2h0M308.1 298.0h0M319.2 293.6h0M312.6 296.8h0M299.5 291.5h0M317.3 295.1h0M312.4 296.9h0M301.8 289.4h0M299.8 294.4h0M299.0 291.9h0M300.2 290.8h0M318.7 288.8h0M299.8 296.5h0M319.0 293.8h0M316.5 287.9h0M301.5 289.6h0M317.2 294.8h0M314.9 296.4h0M300.6 290.0h0M319.9 294.1h0M301.2 290.0h0M299.6 295.9h0M313.1 287.6h0M307.3 287.8h0M310.1 297.9h0M307.3 298.4h0M300.1 296.5h0M309.7 287.7h0M303.7 288.3h0M317.3 294.8h0M318.3 289.3h0M310.2 297.8h0M299.6 295.4h0M299.8 296.1h0M298.7 295.3h0M299.8 295.0h0M300.0 291.5h0M318.5 288.7h0M318.7 288.5h0M318.7 292.8h0M299.3 296.2h0M313.0 296.6h0M300.9 290.5h0M312.8 297.1h0M300.5 296.7h0M312.4 297.1h0M319.5 291.0h0M298.7 296.0h0M299.1 292.4h0M299.2 293.9h0M317.2 295.1h0M311.2 297.3h0M299.8 292.5h0M310.3 288.1h0M319.4 294.5h0M312.7 296.6h0M300.3 297.4h0M306.8 288.2h0M299.4 296.5h0M298.7 294.5h0M319.8 291.8h0M317.4 294.9h0M319.4 290.3h0M313.3 297.0h0M310.1 297.7h0M301.2 297.9h0M317.7 288.0h0M298.8 296.5h0M310.0 288.0h0M316.9 288.2h0M304.8 298.8h0M315.7 295.6h0M319.7 294.1h0M303.0 298.7h0M313.4 297.0h0M305.0 298.2h0M316.6 295.1h0M315.3 288.3h0M308.2 297.9h0M301.1 297.7h0M303.0 298.6h0M309.9 297.6h0M309.9 297.6h0M314.8 295.9h0M299.3 296.8h0M300.2 291.4h0M314.1 296.6h0M300.6 296.8h0M311.7 287.9h0M306.9 288.0h0M299.8 293.5h0M298.9 294.2h0M302.3 297.6h0M317.8 288.4h0M303.8 288.1h0M318.4 288.8h0M318.7 289.9h0M299.1 296.6h0M303.4 289.0h0M313.3 287.8h0M313.8 287.8h0M318.3 294.7h0M316.0 287.8h0M303.4 288.9h0M299.7 295.7h0M318.4 290.3h0M318.4 288.7h0M310.3 297.4h0M303.0 288.5h0M306.1 298.4h0M316.0 295.9h0M299.8 296.9h0M301.2 290.1h0M300.7 290.5h0M312.3 288.1h0M301.7 297.9h0M304.0 288.4h0M313.7 296.5h0M303.7 288.3h0M316.4 295.4h0M299.8 295.9h0M318.3 288.6h0M318.9 292.7h0M316.7 288.4h0M318.6 290.3h0M310.1 287.6h0M318.0 295.1h0M318.9 291.4h0M315.6 295.8h0M319.7 293.2h0M307.2 297.9h0M314.1 296.4h0M308.5 288.3h0M301.5 290.3h0M309.4 287.8h0M302.8 298.4h0M319.0 292.1h0M306.5 288.1h0M318.6 288.1h0M316.1 295.3h0M304.0 298.3h0M299.4 291.5h0M304.2 288.0h0M312.2 287.9h0M310.5 297.2h0M319.0 288.0h0M318.4 291.9h0M318.7 291.3h0M299.2 290.7h0M318.2 290.1h0M313.2 288.1h0M319.4 293.6h0M312.6 297.0h0M320.0 293.4h0M299.9 296.3h0M298.6 295.9h0M319.1 293.3h0M306.8 298.2h0M318.4 288.5h0M318.9 293.8h0M307.5 298.3h0M306.7 298.1h0M313.4 296.7h0M305.8 298.2h0M303.8 288.3h0M299.7 291.1h0M299.2 291.2h0M319.3 290.4h0M315.9 288.2h0M302.8 298.2h0M304.8 298.9h0M309.8 288.1h0M308.7 297.9h0" stroke="#ff1010" stroke-width="1.00" stroke-linecap="round" fill="none" opacity="1"/><path d="M304.0 288.4h0M301.6 298.1h0M305.4 298.9h0M300.5 290.2h0M298.9 294.8h0M312.3 287.3h0M316.5 287.9h0M311.8 287.7h0M298.7 294.9h0M318.3 294.7h0M305.9 288.0h0M319.5 289.6h0M301.4 289.7h0M299.4 295.7h0M319.2 294.7h0M311.9 297.1h0M316.8 294.9h0M305.2 287.9h0M300.6 289.6h0M298.3 296.8h0M318.9 293.2h0M312.6 297.6h0M319.3 294.2h0M299.0 296.1h0M306.9 298.6h0M299.5 292.0h0M316.3 287.8h0M302.1 297.7h0M302.5 289.2h0M318.7 290.2h0M298.7 292.1h0M301.2 290.1h0M309.2 287.9h0M308.7 288.2h0M320.0 294.5h0M303.1 288.0h0M317.5 288.0h0M303.6 298.5h0M319.6 292.9h0M298.6 291.9h0M315.6 287.8h0M299.0 294.1h0M298.7 294.4h0M301.3 289.8h0M302.7 289.2h0M309.8 297.5h0M316.5 287.6h0M311.2 288.1h0M319.0 291.8h0M319.3 290.1h0M318.6 294.1h0M311.9 287.8h0M298.6 296.6h0M314.9 288.4h0M302.7 289.5h0M320.1 293.1h0M306.7 288.3h0M319.6 293.6h0M316.7 295.6h0M308.6 298.4h0" stroke="#b03050" stroke-width="0.90" stroke-linecap="round" fill="none" opacity="1"/><path d="M318.3 288.8C319.5 287.6 325.2 288.3 328.3 288.4C331.3 288.5 334.3 288.8 336.5 289.3C338.6 289.8 340.5 290.6 341 291.6C341.5 292.6 341 294.4 339.7 295.2C338.3 296 335.9 296.5 332.8 296.6C329.7 296.6 323.4 296.9 321 295.7C318.6 294.4 317.1 290 318.3 288.8Z" fill="#ff7070" opacity="0.8" filter="url(#b08)"/><path d="M321.2 289.6C322.2 288.7 326.6 289.2 328.9 289.3C331.3 289.3 333.6 289.6 335.2 290C336.9 290.4 338.3 291 338.7 291.7C339.1 292.5 338.7 293.9 337.7 294.5C336.6 295.2 334.8 295.5 332.4 295.6C330 295.6 325.2 295.9 323.3 294.9C321.5 293.9 320.3 290.5 321.2 289.6Z" fill="#ff1010" filter="url(#b03)"/><path d="M318.5 290.2h0M321.6 295.8h0M327.4 295.6h0M322.0 291.4h0M325.4 293.8h0M337.2 291.3h0M330.6 289.8h0M339.4 291.4h0M322.8 293.3h0M330.4 288.8h0M334.1 292.8h0M325.1 289.5h0M335.5 294.4h0M334.5 294.4h0M327.9 292.9h0M336.5 291.2h0M338.2 295.3h0M321.4 291.3h0M320.5 290.8h0M332.8 292.2h0M334.6 294.0h0M332.2 296.7h0M334.3 292.5h0M329.5 290.8h0M320.8 293.8h0M328.4 293.2h0M326.6 288.4h0M333.6 291.5h0M325.3 291.3h0M321.6 293.4h0M335.6 291.6h0M339.3 293.7h0M324.8 291.2h0M320.2 289.2h0M325.8 293.4h0M334.0 289.4h0M323.1 293.5h0M341.1 293.6h0M324.1 293.5h0M330.9 292.3h0M341.1 291.9h0M329.4 293.8h0M317.5 288.7h0M333.0 290.0h0M320.7 295.3h0M339.1 291.5h0M321.9 290.3h0M325.3 292.1h0M339.8 295.1h0M330.1 292.2h0M320.9 292.1h0M338.1 291.6h0M329.0 294.3h0M328.3 295.8h0M328.8 291.7h0M340.6 292.3h0M327.8 290.8h0M334.2 292.2h0M321.3 289.1h0M328.2 293.9h0M324.9 292.9h0M336.0 288.9h0M326.5 293.8h0M318.8 288.9h0M328.9 289.9h0M329.1 295.7h0M325.5 294.6h0M332.8 293.8h0M336.3 289.9h0M339.4 292.0h0M331.6 296.0h0M330.9 290.5h0M338.7 293.5h0M322.7 294.8h0M326.0 295.7h0M331.7 289.1h0M330.6 294.6h0M322.9 291.9h0M322.4 291.3h0M339.2 295.3h0M337.2 294.4h0M336.6 293.9h0M337.5 291.3h0M327.5 290.3h0M329.9 292.7h0M335.1 291.0h0M332.0 291.0h0M334.1 294.5h0M334.5 295.8h0M318.8 292.7h0M329.1 289.3h0M320.7 292.0h0M336.6 295.1h0M340.5 291.4h0M328.4 289.7h0M335.4 294.8h0M319.1 290.4h0M323.8 294.6h0M322.3 288.5h0M334.0 294.8h0M340.1 290.6h0M324.4 296.3h0M329.3 295.0h0M331.3 292.8h0M334.1 291.6h0M325.2 294.9h0M335.5 291.8h0M318.1 288.7h0M331.5 288.5h0M335.3 293.6h0M326.9 288.6h0M338.9 292.7h0M332.8 296.7h0M321.4 288.6h0M336.1 289.9h0M320.9 296.0h0M327.6 292.7h0M329.1 291.9h0M336.2 292.0h0M326.1 292.6h0M340.5 295.4h0M320.3 291.7h0M323.8 288.6h0M329.9 292.8h0M335.9 294.0h0M320.9 293.4h0M331.5 290.6h0M328.5 294.2h0M332.8 292.2h0M321.3 292.5h0M329.2 291.0h0M337.8 294.8h0M323.2 292.0h0M323.6 290.4h0M321.1 291.7h0M328.4 292.4h0M319.5 294.3h0M320.3 292.0h0M332.6 290.1h0M322.3 291.4h0M335.9 292.2h0M322.5 295.4h0M339.1 292.9h0M330.2 296.1h0M333.6 291.8h0M324.8 289.1h0M320.3 291.5h0M337.0 293.5h0M326.9 294.9h0M329.2 288.7h0M322.9 290.9h0M324.4 290.6h0M331.5 290.8h0M328.0 291.6h0M332.9 293.8h0M324.5 289.6h0M320.5 295.2h0M330.9 294.0h0M320.3 295.6h0M328.1 293.7h0M327.6 291.3h0M326.4 296.2h0M325.4 292.9h0M333.6 292.5h0M330.7 294.9h0M336.1 291.8h0M328.0 291.7h0M327.8 293.1h0M336.0 292.7h0M321.6 289.9h0M333.0 290.8h0M325.4 292.2h0M324.9 291.0h0M340.0 294.9h0M332.7 294.6h0M318.1 290.1h0M321.6 294.9h0M326.0 291.1h0M339.5 293.8h0M326.6 292.9h0M332.4 289.8h0M340.0 291.7h0M336.2 293.7h0M320.1 295.0h0M320.4 290.1h0M334.1 295.9h0M334.6 295.6h0M329.4 289.8h0M325.0 288.6h0M332.4 293.2h0M332.1 292.4h0M321.0 291.8h0M327.7 294.7h0M328.1 291.6h0M336.3 292.3h0M326.6 289.3h0M329.2 289.3h0M324.6 289.7h0M323.7 293.5h0M320.9 293.4h0M326.2 288.2h0M327.8 290.7h0M319.5 294.3h0M339.8 292.2h0M326.7 295.7h0M325.6 290.4h0M320.1 295.3h0M324.6 294.2h0M328.4 292.3h0M329.8 288.8h0M329.4 290.3h0M338.0 291.3h0M328.3 289.5h0M338.3 292.4h0M331.6 292.5h0M320.4 288.4h0M323.3 294.9h0M333.1 292.1h0M335.3 295.5h0M339.1 292.6h0M336.9 295.8h0M339.5 294.3h0M332.3 291.3h0M330.8 296.4h0M340.6 291.3h0M335.2 291.0h0M336.9 289.5h0M324.6 288.7h0M330.5 289.7h0M317.2 289.0h0M332.1 291.5h0M322.2 293.8h0M321.3 294.3h0M327.7 290.6h0M320.9 288.3h0M338.0 292.5h0M324.5 293.2h0M319.8 291.8h0M331.3 290.9h0M334.2 290.7h0M321.2 290.1h0M326.2 294.3h0M321.3 295.2h0M335.1 290.9h0M334.3 294.9h0M338.9 293.7h0M336.3 293.8h0M335.4 296.0h0M339.6 294.1h0M321.1 292.3h0M319.5 292.5h0M336.3 290.3h0M324.2 290.0h0M329.3 296.4h0M335.8 296.0h0M324.1 288.8h0M318.3 289.3h0M327.6 291.2h0M326.1 294.1h0M326.7 291.9h0M332.9 292.0h0M326.4 295.6h0M327.9 290.6h0M339.1 294.0h0M329.1 294.7h0M332.8 296.7h0M325.9 294.6h0M330.9 290.3h0M320.7 295.0h0M327.0 289.7h0M320.8 288.5h0M323.8 293.1h0M338.7 292.5h0M329.8 292.9h0M334.6 295.3h0M331.8 295.0h0M319.0 293.0h0M321.8 295.8h0M334.0 293.6h0M336.4 295.4h0M332.9 295.1h0M324.7 296.0h0M333.5 294.5h0M327.7 288.5h0M331.9 294.3h0M327.2 294.7h0M339.4 290.2h0M332.2 292.9h0M319.2 291.0h0M335.9 291.0h0M334.5 291.7h0M321.5 292.7h0M337.1 289.4h0M334.4 296.7h0M338.9 294.5h0M328.3 294.0h0M330.7 290.7h0M336.5 295.7h0M330.7 295.4h0M333.5 293.5h0" stroke="#ff1a1a" stroke-width="1.00" stroke-linecap="round" fill="none" opacity="1"/><path d="M339.2 293.5h0M308.5 287.8h0M306.0 299.3h0M298.3 295.2h0M339.7 289.5h0M302.8 297.7h0M310.4 288.6h0M317.6 296.4h0M300.5 290.7h0M303.2 297.2h0M313.1 296.9h0M310.0 297.3h0M318.0 288.3h0M304.1 293.5h0M335.6 287.0h0M311.3 290.8h0M307.4 296.1h0M304.4 289.9h0M316.8 289.4h0M332.1 288.2h0M326.4 287.0h0M302.5 289.2h0M331.5 294.7h0M304.4 296.7h0M300.6 297.2h0M301.1 291.9h0M341.8 293.7h0M303.4 289.2h0M309.2 289.1h0M300.1 296.6h0M313.3 288.5h0M342.6 289.6h0M315.8 289.6h0M318.2 294.8h0M308.0 288.8h0M308.4 287.8h0M314.7 295.0h0M336.1 289.3h0M340.3 290.0h0M311.1 287.5h0M299.4 295.6h0M308.3 287.5h0M304.4 287.4h0M337.5 290.7h0M341.8 295.6h0M315.8 288.2h0M309.7 298.0h0M305.3 289.2h0M321.6 292.6h0M300.6 297.2h0M339.5 293.8h0M336.2 289.7h0M315.6 286.1h0M314.7 288.8h0M341.0 291.9h0M302.5 297.0h0M304.1 298.5h0M342.7 291.6h0M310.1 293.2h0M338.8 295.0h0M341.5 290.4h0M332.6 294.7h0M322.2 288.8h0M319.5 292.9h0M303.9 286.1h0M301.5 288.9h0M318.0 291.1h0M315.8 290.9h0M303.2 298.1h0M310.3 288.0h0M298.2 289.2h0M339.7 294.9h0M308.2 297.1h0M304.6 297.3h0M300.2 290.2h0M339.9 288.7h0M318.0 289.4h0M309.9 297.2h0M309.8 297.3h0M306.5 298.3h0M299.4 290.3h0M306.9 293.0h0M311.9 296.7h0M339.9 291.0h0M313.8 289.3h0M306.1 296.2h0M336.1 291.5h0M303.2 287.0h0M301.2 297.7h0M303.9 287.9h0M340.7 292.8h0M311.6 294.4h0M327.6 290.9h0M331.0 287.1h0M318.9 291.0h0M311.8 293.1h0M339.6 291.6h0M307.6 286.1h0M316.7 289.5h0M341.6 293.4h0M337.2 290.3h0M313.0 296.6h0M318.4 289.5h0M327.1 288.3h0M304.2 295.4h0M339.0 290.7h0M304.2 293.9h0M317.5 289.5h0M316.4 287.8h0M308.1 299.9h0M337.7 288.9h0M309.7 297.5h0M317.8 294.7h0M302.3 292.2h0M304.1 288.1h0M333.0 294.1h0M317.9 286.0h0M304.8 297.9h0M306.2 287.4h0M313.5 291.9h0M313.5 287.9h0M300.7 289.3h0M340.9 289.6h0M339.2 291.7h0M313.0 288.5h0M319.7 289.2h0M308.5 287.8h0M305.3 298.9h0M334.6 289.0h0M301.6 291.9h0M340.8 293.2h0M319.0 293.8h0M317.1 286.6h0M301.4 287.9h0M317.4 295.6h0M315.3 289.1h0M322.9 289.5h0M317.8 293.2h0M322.2 288.8h0M301.3 289.7h0M317.1 288.5h0M307.9 288.3h0M339.8 294.9h0M299.7 296.6h0M317.4 290.2h0M317.3 286.8h0M307.3 294.7h0M329.8 287.2h0M307.5 293.2h0M308.8 297.9h0M311.7 294.3h0M342.9 292.5h0M319.1 294.7h0M319.7 292.8h0M334.8 288.6h0M307.8 289.8h0M305.1 298.2h0M333.9 293.2h0M302.4 297.2h0M334.1 295.1h0M319.1 291.4h0M315.1 291.0h0M325.0 288.2h0M304.4 298.7h0M311.5 298.3h0M340.9 295.6h0M340.2 294.8h0M340.3 288.2h0M303.1 288.1h0M306.2 286.8h0M308.2 296.9h0M300.6 291.4h0M313.0 289.8h0M315.5 287.5h0M336.3 288.4h0M318.6 294.2h0M317.9 287.7h0M312.4 288.4h0M317.2 290.9h0M310.3 297.5h0M303.3 288.8h0M315.7 286.6h0M313.2 289.9h0M317.0 287.5h0M342.5 295.1h0M339.3 293.9h0M300.9 297.5h0M332.3 289.8h0M304.7 288.4h0M317.4 294.6h0M339.6 289.4h0M309.8 292.3h0M303.4 298.6h0M339.6 294.6h0M318.6 293.6h0M310.2 299.8h0M304.5 297.2h0M310.1 287.5h0M319.0 294.6h0M306.9 290.3h0" stroke="#e02020" stroke-width="1.00" stroke-linecap="round" fill="none" opacity="1"/><text x="322" y="256" font-size="7.96" font-weight="bold" fill="#000" stroke="#000" stroke-width="0.2" textLength="40.4" lengthAdjust="spacingAndGlyphs">CD11c+ CD64-</text><path d="M329.5 397.8h0M344.1 392.1h0M333.4 388.1h0M325.6 382.3h0M316.2 375.3h0M321.7 376.6h0M335.6 368.0h0M312.1 375.4h0M324.2 374.4h0M337.8 391.9h0M341.9 384.5h0M325.9 381.3h0M341.5 385.2h0M331.4 375.4h0M351.0 362.7h0M328.7 387.2h0M329.7 390.5h0M317.4 376.6h0M338.8 377.1h0M328.9 378.6h0M311.9 368.2h0M339.5 375.4h0M347.5 394.9h0M311.9 384.5h0M325.5 382.4h0M326.9 375.4h0M320.8 365.2h0M304.5 381.0h0M320.7 378.9h0M337.1 380.6h0M357.9 369.2h0M326.3 392.5h0M340.1 372.4h0M327.2 377.4h0M322.5 393.5h0M317.3 390.9h0M334.0 384.4h0M331.2 370.8h0M314.2 390.8h0M313.3 401.6h0M331.1 375.1h0M334.0 378.2h0M321.4 381.5h0M339.6 393.8h0M322.5 388.4h0M337.6 384.1h0M320.8 394.7h0M327.7 379.6h0M299.2 369.5h0M324.8 379.0h0M343.0 385.8h0M323.2 394.3h0M299.5 371.8h0M327.8 391.3h0M335.6 389.2h0M322.0 391.7h0M304.3 396.4h0M347.8 379.7h0M334.2 378.5h0M316.1 376.8h0M322.2 385.2h0M328.4 381.5h0M308.1 383.2h0M340.8 376.1h0M312.2 399.3h0M324.2 382.4h0M323.3 379.1h0M303.0 402.4h0M322.1 371.4h0M321.0 367.2h0M311.6 378.5h0M313.7 374.4h0M321.8 380.7h0M322.1 359.2h0M314.7 388.2h0M307.9 380.6h0M311.6 397.1h0M337.1 380.0h0M296.8 396.0h0M317.5 378.8h0M311.6 384.4h0M344.4 377.5h0M314.4 381.2h0M333.7 378.3h0M299.4 389.7h0M330.3 371.5h0M322.1 393.1h0M327.0 382.9h0M330.5 384.2h0M325.0 380.5h0M325.4 371.5h0M296.8 380.5h0M329.5 395.1h0M332.6 382.9h0M323.5 386.0h0M325.4 378.0h0M329.2 382.9h0M327.8 380.0h0M346.3 367.7h0M307.4 402.3h0M329.1 377.5h0M323.4 394.5h0M324.6 376.3h0M322.1 366.3h0M326.7 364.7h0M317.3 376.7h0M320.9 369.3h0M313.6 384.8h0M312.3 385.9h0M314.7 381.6h0M324.1 390.7h0M307.9 388.4h0M314.2 384.4h0M329.6 385.6h0M316.4 377.0h0M317.7 385.7h0M330.7 388.2h0M323.9 390.5h0M319.0 378.9h0M302.5 401.1h0M315.5 375.4h0M298.7 385.9h0M344.1 386.1h0M306.8 389.0h0M327.5 377.9h0M348.0 398.5h0M344.3 384.9h0M327.2 383.2h0M316.4 376.0h0M335.3 392.9h0M312.3 388.3h0M313.7 369.7h0M324.8 393.2h0M330.5 398.4h0M350.6 380.2h0M342.5 381.9h0M336.5 366.0h0M344.3 377.6h0M298.3 403.9h0M325.4 380.2h0M324.5 383.6h0M330.4 388.9h0M309.5 391.2h0M336.0 389.1h0M341.2 369.0h0M320.2 387.0h0M316.7 379.5h0M330.2 384.5h0M306.3 397.2h0M313.8 390.1h0M317.1 392.2h0M321.3 382.6h0M298.3 383.3h0M331.4 391.0h0M311.6 364.5h0M321.5 381.6h0M305.8 398.4h0M328.3 383.9h0M312.2 387.1h0M319.1 384.7h0M356.0 382.6h0M335.1 373.3h0M322.6 380.3h0M333.3 374.1h0M325.6 377.8h0M324.1 391.5h0M318.4 391.6h0M325.1 369.8h0M327.3 382.0h0M355.7 390.0h0M324.5 384.3h0M333.8 383.7h0M344.4 384.9h0M307.9 376.0h0M313.5 382.9h0M328.9 391.5h0M331.4 384.3h0M335.9 391.2h0M321.7 393.2h0M339.0 373.3h0M317.6 379.6h0M325.9 371.9h0M323.4 399.4h0M337.8 385.5h0M323.0 391.9h0M327.4 391.6h0M315.0 391.7h0M323.3 382.2h0M332.2 379.8h0M330.9 374.6h0M315.8 388.4h0M333.4 383.5h0M331.2 371.1h0M323.9 380.6h0M304.8 383.4h0M318.1 380.1h0M335.2 384.1h0M340.1 387.0h0M334.5 381.0h0M313.9 393.0h0M324.2 385.7h0M320.7 370.4h0M326.1 400.6h0M331.3 379.8h0M337.8 385.8h0M326.5 381.8h0M335.1 381.1h0M334.8 384.8h0M308.1 377.5h0M316.7 387.2h0M326.8 383.7h0M331.5 359.8h0M344.0 372.6h0M310.0 391.2h0M328.0 366.5h0M341.2 372.3h0M337.1 373.5h0M314.3 389.1h0M330.8 383.3h0M344.3 391.4h0M316.2 369.5h0M330.4 384.3h0M324.7 387.5h0M321.5 395.6h0M303.9 372.6h0M346.9 370.5h0M332.5 367.9h0M348.7 381.1h0M310.4 370.9h0M315.1 384.8h0M359.9 376.5h0M318.0 380.7h0M346.8 381.2h0M319.5 378.2h0M328.4 394.6h0M316.1 389.1h0M319.8 382.7h0M327.2 386.1h0M334.8 386.3h0M318.0 383.7h0M344.8 391.6h0M330.7 371.6h0M325.7 372.3h0M318.3 378.0h0M321.8 374.9h0M339.9 397.8h0M315.9 392.7h0M312.2 371.5h0M308.6 384.6h0M326.4 398.7h0M311.7 397.6h0M328.6 393.8h0M323.1 386.8h0M307.4 393.0h0M324.4 374.5h0M316.3 385.6h0M351.5 371.2h0M323.7 381.4h0M319.3 365.4h0M342.1 388.3h0M312.2 392.8h0M316.7 372.2h0M320.8 391.3h0M338.3 383.1h0M322.6 379.9h0M312.7 385.3h0M337.4 385.7h0M346.9 378.6h0M329.8 393.5h0M320.2 388.5h0M312.4 390.1h0M322.1 387.4h0M332.2 381.1h0M321.2 383.4h0M343.8 379.0h0M322.5 387.0h0M322.9 382.2h0M321.7 388.5h0M325.8 388.0h0M300.0 389.1h0M359.3 383.0h0M297.3 393.7h0M333.6 374.5h0M340.2 391.9h0M326.5 368.8h0M321.4 394.3h0M319.3 391.6h0M327.5 375.8h0M325.6 382.7h0M326.4 404.1h0M331.2 393.2h0M310.1 375.8h0M314.9 395.2h0M322.3 386.2h0M336.3 378.6h0M310.4 389.7h0M333.6 382.4h0" stroke="#cc5050" stroke-width="0.90" stroke-linecap="round" fill="none" opacity="1"/><path d="M340.7 360.9C340.9 359.1 341.6 357.5 343.5 356.2C345.4 355 349 353.9 352 353.4C355 352.9 358.9 353.2 361.4 353.4C363.9 353.5 365.8 352.9 367.1 354.3C368.3 355.7 368.8 358.8 369 362C369.2 365.1 368.5 369.8 368.1 373.2C367.6 376.7 366.8 380.5 366.2 382.7C365.5 384.9 365.2 385.9 364.3 386.5C363.3 387.2 362.1 387.5 360.5 386.5C358.9 385.6 356.8 383.1 354.8 380.9C352.7 378.7 350.3 375.4 348.2 373.2C346.2 371 343.8 369.6 342.5 367.6C341.2 365.5 340.5 362.8 340.7 360.9Z" fill="#c070f0" opacity="1" filter="url(#b08)"/><path d="M341.6 361.4C341.8 359.6 342.5 358.1 344.3 356.9C346 355.7 349.4 354.7 352.2 354.3C355.1 353.8 358.8 354.1 361.2 354.3C363.5 354.4 365.3 353.8 366.5 355.1C367.7 356.5 368.1 359.3 368.3 362.3C368.5 365.3 367.9 369.7 367.4 373C367 376.2 366.2 379.8 365.6 381.9C365 384 364.7 384.9 363.8 385.5C362.9 386.1 361.8 386.4 360.3 385.5C358.8 384.6 356.8 382.3 354.9 380.2C353 378.1 350.7 375.1 348.7 373C346.8 370.9 344.5 369.6 343.3 367.6C342.1 365.7 341.4 363.2 341.6 361.4Z" fill="#b432f4" filter="url(#b03)"/><path d="M355.3 373.2h0M361.9 377.5h0M350.3 371.9h0M342.9 361.2h0M363.2 380.5h0M357.4 357.6h0M355.9 379.2h0M354.7 357.6h0M345.0 364.7h0M360.9 357.6h0M358.5 362.8h0M360.5 362.9h0M349.1 369.5h0M356.8 370.9h0M363.3 372.4h0M353.6 360.1h0M359.2 382.8h0M358.8 368.3h0M351.2 356.1h0M357.3 370.6h0M358.3 357.2h0M355.7 374.5h0M355.6 364.7h0M355.9 375.4h0M350.6 373.4h0M354.1 375.1h0M345.9 359.4h0M366.8 359.7h0M355.0 374.3h0M365.9 367.1h0M349.9 358.9h0M352.2 359.8h0M354.9 373.3h0M350.0 362.3h0M351.7 366.6h0M361.0 357.3h0M366.1 357.4h0M364.3 362.6h0M362.4 380.0h0M347.9 365.9h0M361.0 380.4h0M358.7 381.5h0M352.5 355.5h0M356.2 372.7h0M352.0 365.0h0M364.7 381.4h0M359.9 372.7h0M365.1 356.3h0M366.6 365.0h0M365.5 362.0h0M349.4 362.5h0M360.7 364.9h0M361.5 379.7h0M357.0 356.3h0M354.9 370.3h0M357.1 378.9h0M345.0 367.3h0M354.9 377.8h0M364.8 370.8h0M360.7 375.1h0M360.8 357.5h0M359.5 368.8h0M357.9 376.9h0M364.8 360.6h0M362.4 373.0h0M351.1 365.8h0M351.4 370.7h0M360.2 361.5h0M346.6 369.1h0M358.5 374.7h0M358.3 372.1h0M366.6 362.1h0M351.4 357.0h0M356.0 359.4h0M347.2 364.0h0M349.4 362.8h0M358.8 359.5h0M362.7 376.5h0M350.5 372.7h0M350.5 363.4h0M345.4 365.2h0M353.2 370.4h0M359.8 360.9h0M345.1 359.3h0M365.6 377.4h0M363.9 358.9h0M365.6 363.1h0M347.4 366.6h0M357.0 364.9h0M347.1 363.7h0M353.8 370.6h0M354.8 359.1h0M348.9 372.3h0M362.0 367.5h0M363.9 364.6h0M364.4 369.6h0M358.6 382.8h0M353.3 376.5h0M352.2 367.9h0M353.2 360.7h0M360.7 361.6h0M346.0 367.5h0M357.5 356.0h0M350.8 364.0h0M358.9 380.3h0M361.9 379.7h0M357.5 376.1h0M365.3 366.0h0M347.6 358.6h0M347.9 359.8h0M361.9 382.5h0M344.5 358.4h0M362.9 360.3h0M352.9 361.3h0M366.7 361.6h0M351.2 367.5h0M347.2 357.9h0M350.2 358.2h0M353.8 361.6h0M344.9 358.0h0" stroke="#d8a0f8" stroke-width="0.90" stroke-linecap="round" fill="none" opacity="0.8"/><path d="M356.6 381.7h0M358.2 384.7h0M355.7 381.7h0M359.8 384.8h0M349.8 374.2h0M355.5 355.6h0M342.3 356.6h0M357.0 380.8h0M369.8 367.5h0M365.8 384.1h0M361.8 385.3h0M367.7 373.5h0M359.0 383.8h0M356.1 380.4h0M357.0 381.3h0M362.0 386.5h0M367.9 371.8h0M355.8 380.7h0M365.1 383.2h0M366.6 361.7h0M355.2 383.1h0M364.9 384.8h0M349.9 353.9h0M364.1 384.3h0M365.9 384.8h0M364.4 384.6h0M356.4 355.5h0M365.8 381.9h0M368.4 363.7h0M351.0 377.6h0M364.6 385.3h0M351.2 353.9h0M355.7 381.5h0M368.4 368.0h0M365.7 382.4h0M346.7 357.1h0M354.3 381.3h0M362.0 355.1h0M356.9 383.0h0M350.8 354.6h0M367.0 371.0h0M363.0 386.2h0M370.3 362.4h0M347.1 371.2h0M368.9 365.7h0M349.8 355.9h0M366.9 373.8h0M367.3 356.0h0M361.6 353.6h0M341.9 358.8h0M362.3 385.6h0M360.1 353.6h0M343.4 368.7h0M359.6 383.7h0M343.5 356.9h0M368.3 364.5h0M368.2 360.7h0M355.2 382.6h0M356.2 381.4h0M361.4 386.2h0M342.9 358.2h0M350.2 373.2h0M367.7 357.9h0M350.1 375.3h0M342.3 359.4h0M347.8 355.2h0M361.0 385.1h0M343.6 358.2h0M355.0 352.5h0M342.0 364.9h0M367.2 359.6h0M343.0 358.7h0M342.5 365.9h0M368.6 360.7h0M367.8 362.2h0M362.0 386.2h0M369.2 362.4h0M351.9 376.4h0M351.8 354.2h0M368.3 360.2h0M367.4 361.1h0M360.3 385.4h0M360.7 387.1h0M368.6 361.0h0M348.8 374.3h0M341.8 358.7h0M342.1 360.2h0M369.0 372.9h0M347.9 372.3h0M340.7 361.0h0M354.7 380.5h0M354.4 353.3h0M346.8 355.7h0M341.6 365.4h0M362.2 386.1h0M347.5 372.8h0M365.8 385.0h0M345.6 355.4h0M352.0 376.3h0M357.2 381.9h0M343.2 356.5h0M367.4 366.8h0M361.5 354.6h0M346.7 355.9h0M342.3 366.5h0M347.6 371.9h0M368.3 361.0h0M350.4 375.4h0M364.9 354.3h0M364.7 355.1h0M350.0 354.5h0M365.7 376.0h0M347.5 371.6h0M362.0 385.0h0M365.9 384.8h0M365.4 354.4h0M342.3 365.4h0M363.1 353.4h0M362.0 385.5h0M358.2 354.9h0M368.2 371.0h0M344.7 366.9h0M365.8 353.9h0M363.0 354.6h0M361.5 385.2h0M360.9 354.3h0M355.0 379.4h0M364.2 386.4h0M363.1 353.7h0M356.5 380.5h0M344.4 356.3h0M357.2 382.9h0M342.6 357.4h0M368.5 373.2h0M350.7 376.2h0M341.9 359.9h0M364.6 354.1h0M355.5 380.5h0M346.6 370.1h0M368.5 365.5h0M367.2 356.4h0M358.8 354.3h0M342.1 359.6h0M368.1 359.4h0M344.6 357.8h0M360.0 382.1h0M349.8 355.1h0M366.2 354.3h0M342.6 360.8h0M366.5 384.3h0M363.5 386.3h0M354.9 380.0h0M366.1 356.2h0M347.1 371.8h0M343.2 356.8h0M360.0 385.1h0M346.4 369.6h0M347.7 374.2h0M356.3 354.6h0M359.1 354.0h0M367.9 355.4h0M349.9 375.0h0M361.5 353.9h0M365.8 380.9h0M342.4 364.9h0M368.0 363.1h0M362.7 384.6h0M368.4 366.6h0M342.7 357.7h0M366.9 354.8h0M348.6 355.1h0M352.3 352.7h0M367.5 357.4h0M366.7 373.3h0M343.0 359.9h0M344.3 367.0h0M360.8 385.7h0M369.2 372.8h0M358.8 387.3h0M344.2 368.2h0M341.8 361.3h0M363.3 354.0h0M363.7 385.7h0M348.2 372.3h0M343.9 369.0h0M365.6 378.3h0M368.3 365.3h0M364.8 354.5h0M369.5 368.0h0M363.7 384.1h0M363.5 355.4h0M354.6 380.9h0M362.9 354.7h0M361.6 385.6h0M351.7 374.3h0M358.5 384.2h0M362.8 386.0h0M350.9 373.0h0M362.7 385.0h0M340.7 362.9h0M364.9 385.5h0M360.9 386.2h0M368.0 364.1h0M367.9 357.2h0M347.8 370.9h0M345.3 355.4h0M363.4 354.5h0M366.3 384.1h0M365.1 382.7h0M366.5 379.1h0M345.6 355.0h0M366.4 375.8h0M363.0 354.6h0M348.8 374.7h0M344.0 367.6h0M368.2 357.6h0M363.3 385.5h0M344.9 370.3h0M368.2 370.9h0M368.9 370.2h0" stroke="#b030f0" stroke-width="1.00" stroke-linecap="round" fill="none" opacity="1"/><path d="M309.7 386.4C310.5 384.9 311.8 382.5 313.6 381.4C315.5 380.2 318 380 320.7 379.3C323.4 378.6 327 377.6 329.9 377.3C332.7 376.9 335.9 376.3 337.9 377.3C339.9 378.3 341.6 381.2 342 383.4C342.3 385.6 341.5 388.6 339.9 390.5C338.4 392.3 335.7 393.6 332.9 394.5C330 395.3 326 395.4 322.8 395.4C319.6 395.4 316 395.3 313.6 394.5C311.3 393.6 309.3 391.8 308.6 390.5C307.9 389.1 308.8 387.9 309.7 386.4Z" fill="#ffa0a0" opacity="0.8" filter="url(#b08)"/><path d="M312.4 386.4C313.1 385.2 314.1 383.2 315.6 382.3C317.1 381.3 319.2 381.1 321.4 380.6C323.7 380 326.6 379.2 328.9 378.9C331.3 378.6 333.9 378.1 335.5 378.9C337.2 379.8 338.6 382.1 338.9 383.9C339.1 385.7 338.4 388.2 337.2 389.7C335.9 391.3 333.7 392.3 331.4 393C329 393.7 325.7 393.8 323.1 393.8C320.5 393.8 317.6 393.7 315.6 393C313.7 392.3 312 390.8 311.5 389.7C311 388.6 311.7 387.6 312.4 386.4Z" fill="#ff1010" filter="url(#b03)"/><path d="M334.7 377.9h0M338.9 381.4h0M340.4 388.9h0M313.5 382.2h0M323.9 394.9h0M326.9 394.3h0M330.6 378.9h0M336.4 390.2h0M339.5 383.2h0M319.7 394.7h0M328.0 393.2h0M314.3 382.3h0M316.5 394.1h0M338.9 384.8h0M316.5 381.5h0M312.8 383.9h0M309.6 386.9h0M339.7 386.1h0M339.8 390.3h0M330.6 394.4h0M309.5 387.5h0M312.2 390.3h0M311.2 392.3h0M313.4 384.9h0M309.5 387.7h0M315.4 394.0h0M332.7 378.0h0M338.7 382.1h0M338.0 380.1h0M337.5 379.5h0M328.3 393.7h0M330.6 378.8h0M340.2 383.2h0M328.7 377.9h0M315.8 381.8h0M323.7 379.6h0M314.3 381.8h0M340.1 383.7h0M331.4 394.0h0M316.2 382.1h0M330.4 394.6h0M338.1 378.3h0M336.1 379.9h0M338.0 388.5h0M329.1 378.3h0M314.9 393.2h0M314.8 383.5h0M333.5 378.1h0M337.3 391.0h0M339.9 381.0h0M340.8 385.3h0M323.0 378.9h0M335.9 391.5h0M312.9 385.4h0M318.8 393.3h0M314.8 392.3h0M323.6 378.9h0M340.5 385.1h0M327.5 394.5h0M314.6 383.9h0M338.9 389.5h0M336.4 378.7h0M338.5 384.3h0M311.3 387.4h0M314.3 392.4h0M316.8 380.9h0M313.2 382.7h0M340.5 387.4h0M311.2 390.2h0M320.2 380.3h0M337.8 379.8h0M341.2 384.9h0M308.9 389.6h0M332.9 393.9h0M321.2 394.0h0M339.2 388.0h0M336.8 378.1h0M338.9 391.0h0M330.7 379.1h0M317.4 393.4h0M324.7 394.2h0M341.3 384.1h0M312.1 393.0h0M310.3 390.5h0M314.6 381.7h0M322.6 393.7h0M326.5 394.5h0M310.7 389.7h0M338.4 384.6h0M339.3 381.0h0M337.2 388.5h0M312.8 391.5h0M334.1 392.8h0M331.4 377.6h0M310.5 390.9h0M317.2 393.5h0M337.1 389.0h0M310.4 387.4h0M331.3 393.8h0M340.3 381.9h0M314.0 392.7h0M330.4 378.5h0M339.1 383.3h0M323.4 394.1h0M338.3 381.1h0M336.1 390.4h0M311.9 390.3h0M315.2 381.0h0M312.6 385.5h0M325.0 394.5h0M327.3 393.7h0M340.1 381.8h0M315.6 381.6h0M318.4 394.4h0M312.1 387.7h0M328.8 379.1h0M340.0 384.1h0M318.2 381.2h0M337.7 381.6h0M333.1 378.5h0M337.6 378.3h0M336.6 377.4h0M340.1 384.7h0M328.4 378.0h0M317.2 393.2h0M318.3 393.9h0M311.0 390.0h0M327.3 393.9h0M340.3 382.8h0M316.1 381.6h0M316.9 381.9h0M338.7 386.8h0M313.7 394.2h0M335.3 392.2h0M338.4 389.9h0M339.9 389.6h0M332.5 392.4h0M339.8 380.9h0M312.8 391.5h0M311.0 385.7h0M330.1 379.0h0M337.8 379.4h0M335.5 379.5h0M337.4 391.8h0M320.8 380.8h0M316.7 381.4h0M313.0 383.3h0M341.0 384.7h0M337.0 378.3h0M321.1 394.3h0M311.2 392.1h0M323.5 378.9h0M336.8 381.3h0M336.2 392.1h0M336.8 379.0h0M337.5 389.8h0M330.5 378.3h0M338.3 385.2h0M338.9 386.2h0M311.3 389.3h0M314.6 394.3h0M313.4 393.2h0M317.7 393.7h0M314.6 392.0h0M334.4 392.6h0M331.3 392.9h0M337.8 377.5h0M311.8 387.4h0M340.3 384.3h0M310.8 387.2h0M312.0 385.1h0M331.3 378.7h0M338.6 387.7h0M315.1 383.2h0M332.9 378.0h0M312.3 385.8h0M335.4 377.4h0M312.6 385.9h0M325.6 393.5h0M311.4 392.3h0M310.1 388.9h0M315.2 382.3h0M337.7 389.7h0M339.0 383.5h0M337.9 386.4h0M312.1 391.9h0M338.7 383.5h0M311.4 387.6h0M337.0 381.1h0M325.9 379.6h0M324.9 379.2h0M330.1 394.4h0M312.9 383.8h0M322.1 380.5h0M316.4 381.3h0M320.5 379.6h0M322.6 379.8h0M333.1 393.0h0M317.3 394.2h0M326.2 393.9h0M324.6 394.0h0M323.3 393.6h0M336.0 391.6h0M333.5 379.0h0M333.7 391.7h0M328.2 394.2h0M323.9 394.6h0M338.7 385.5h0M331.2 393.4h0M321.4 393.6h0M335.2 391.4h0M323.7 379.6h0M336.6 378.8h0M339.7 386.9h0M340.2 389.0h0M340.5 381.5h0M341.1 383.4h0M339.9 381.1h0M310.8 391.5h0M311.2 390.4h0M315.6 393.6h0M332.1 379.1h0M338.1 386.0h0M320.0 393.3h0M314.4 383.8h0M336.0 391.2h0M323.0 379.6h0M313.6 394.0h0M312.5 386.1h0M330.8 394.4h0M317.8 381.3h0M330.6 394.6h0M310.8 391.5h0M339.4 389.3h0M315.5 381.9h0M327.7 378.3h0M321.2 395.1h0M339.5 380.3h0M338.7 388.0h0M331.1 377.9h0M336.7 378.1h0M314.1 393.5h0M337.2 378.5h0M332.7 393.1h0M329.0 393.8h0M321.7 394.2h0M309.8 386.5h0M329.7 377.5h0M312.5 384.1h0M341.3 383.5h0M325.3 379.1h0M341.3 385.3h0M334.2 392.4h0M340.4 386.5h0M330.1 377.6h0M330.1 377.7h0M312.7 382.9h0M309.1 388.4h0M338.2 380.5h0M315.5 381.8h0M339.3 386.4h0M337.0 389.4h0M317.4 393.5h0M340.5 387.8h0M338.0 383.3h0M315.2 381.1h0M318.9 380.8h0M332.1 394.3h0M332.9 393.9h0M313.7 384.6h0M316.7 381.6h0M312.4 383.1h0M337.3 378.8h0M310.2 391.1h0M318.6 393.5h0M334.7 391.5h0M318.6 381.5h0M309.1 389.3h0M310.4 391.5h0M328.6 393.8h0" stroke="#ff1010" stroke-width="1.00" stroke-linecap="round" fill="none" opacity="1"/><path d="M335.4 378.0h0M312.9 382.6h0M317.4 394.4h0M340.7 388.9h0M312.1 392.7h0M336.8 379.7h0M320.9 395.0h0M336.4 391.8h0M321.5 379.8h0M338.9 378.3h0M317.5 394.8h0M332.1 393.0h0M341.4 386.7h0M336.3 380.6h0M328.6 378.8h0M317.9 381.7h0M334.3 391.1h0M309.4 391.7h0M324.3 379.6h0M326.9 395.1h0M311.5 390.4h0M308.3 388.6h0M338.1 387.4h0M336.6 381.2h0M339.1 389.7h0M335.8 376.9h0M337.1 391.4h0M338.1 391.9h0M336.6 392.1h0M331.0 377.4h0M336.4 390.3h0M335.1 378.3h0M337.7 381.7h0M341.4 381.8h0M341.7 383.1h0M311.2 386.0h0M340.1 385.5h0M339.1 383.2h0M323.1 378.7h0M319.9 393.5h0M327.8 378.2h0M334.9 391.7h0M338.7 389.9h0M337.1 391.0h0M330.5 378.7h0M322.8 380.1h0M322.7 395.1h0M332.4 392.4h0M321.3 379.5h0M334.9 393.9h0M316.2 381.5h0M318.1 393.5h0M315.0 392.7h0M341.2 387.9h0M314.1 391.6h0M324.0 394.9h0M331.6 394.2h0M338.0 380.6h0M324.9 379.9h0M335.1 378.4h0M337.7 387.0h0M329.2 378.6h0M331.0 377.9h0M332.2 393.0h0M312.3 383.3h0M310.2 384.9h0M310.4 387.6h0M339.2 378.0h0M338.8 378.6h0M340.3 387.6h0M313.2 385.8h0M336.7 389.8h0M330.7 393.8h0M324.6 395.2h0M332.7 377.1h0M324.7 379.6h0M322.0 394.3h0M314.4 383.8h0M323.1 379.0h0M310.2 388.4h0M336.6 392.1h0M315.4 392.6h0M324.7 393.7h0M313.0 381.7h0M337.9 389.6h0M309.2 391.0h0M329.3 394.8h0M313.5 394.2h0M311.8 391.8h0M311.4 389.4h0" stroke="#c04040" stroke-width="0.90" stroke-linecap="round" fill="none" opacity="1"/><path d="M331.6 389.6h0M334.8 378.3h0M330.1 394.0h0M342.0 381.7h0M311.3 392.8h0M338.5 387.2h0M327.7 392.4h0M336.4 376.0h0M316.4 393.1h0M335.7 375.4h0M316.7 392.3h0M338.6 387.0h0M319.0 393.3h0M312.0 386.8h0M317.7 396.6h0M330.0 377.2h0M330.3 377.8h0M316.1 380.6h0M311.2 382.2h0M340.9 392.7h0M313.6 376.8h0M314.2 390.9h0M330.6 395.8h0M312.0 394.0h0M314.3 383.6h0M315.1 380.0h0M319.4 381.6h0M313.1 383.4h0M330.3 379.0h0M312.4 391.7h0M332.7 393.3h0M316.8 390.9h0M322.3 380.6h0M311.7 390.1h0M309.6 385.5h0M337.8 378.6h0M335.9 377.4h0M314.0 381.0h0M339.5 389.5h0M321.9 379.0h0M310.2 388.3h0M339.6 377.0h0M325.9 395.7h0M338.8 389.3h0M322.3 380.3h0M323.4 393.5h0M321.3 395.7h0M337.9 393.8h0M317.9 397.4h0M330.7 393.7h0M339.5 380.4h0M310.5 393.4h0M333.7 379.9h0M318.9 392.9h0M322.4 382.6h0M318.1 380.0h0M311.4 389.9h0M326.6 374.5h0M317.0 384.3h0M338.6 385.2h0M317.9 395.9h0M312.8 387.1h0M330.0 378.4h0M325.5 374.2h0M324.0 394.5h0M321.9 379.2h0M313.9 382.1h0M308.8 390.5h0M328.6 380.9h0M314.4 381.2h0M317.3 392.5h0M338.9 389.4h0M321.5 379.8h0M315.3 387.0h0M337.7 377.0h0M328.9 378.2h0M313.1 389.5h0M319.0 378.9h0M332.5 393.1h0M313.7 384.2h0M339.8 381.6h0M314.8 396.1h0M339.2 379.3h0M312.8 387.1h0M314.7 393.8h0M311.4 385.9h0M339.2 386.9h0M339.1 383.1h0M316.6 377.0h0M333.6 393.8h0M323.7 376.3h0M340.5 381.8h0M325.8 380.5h0M342.0 382.0h0M309.8 390.6h0M312.1 391.0h0M311.2 389.9h0M336.1 394.1h0M334.8 376.8h0M331.5 379.1h0M309.5 384.7h0M329.0 395.0h0M343.1 390.3h0M339.0 389.1h0M321.9 394.6h0M334.7 375.8h0M329.3 393.0h0M328.7 379.7h0M317.7 380.9h0M320.7 395.5h0M340.4 378.1h0M326.3 380.2h0M340.4 394.3h0M328.5 377.1h0M325.5 379.1h0M341.2 384.0h0M332.7 394.3h0M320.3 378.8h0M328.6 392.3h0M325.3 382.7h0M318.3 383.7h0M339.5 382.6h0M340.5 390.0h0M332.9 378.6h0M333.6 378.4h0M329.6 377.2h0M323.5 393.7h0M329.6 376.7h0M342.4 385.7h0M317.3 382.9h0M332.0 395.4h0M340.5 393.9h0M331.4 379.4h0M340.8 387.8h0M316.4 394.7h0M315.4 393.6h0M313.7 390.0h0M309.9 389.7h0M330.0 393.2h0M326.5 378.0h0M317.3 393.8h0M330.7 394.5h0M311.5 385.2h0M334.8 392.8h0M337.9 391.8h0M316.3 386.4h0M311.4 385.2h0M324.8 398.1h0M328.4 393.5h0M327.3 394.8h0" stroke="#e02020" stroke-width="1.00" stroke-linecap="round" fill="none" opacity="1"/><ellipse cx="335.5" cy="386" rx="16.5" ry="13.6" transform="rotate(0 335.5 386)" fill="none" stroke="#333" stroke-width="0.7" opacity="1"/><text x="324.8" y="347" font-size="7.96" font-weight="bold" fill="#000" stroke="#000" stroke-width="0.2" textLength="42.2" lengthAdjust="spacingAndGlyphs">CD11c+ CD64-</text><path d="M475 240.6h4" stroke="#222" stroke-width="1.6"/><path d="M461.5 281.8h0M463.9 278.2h0M482.2 284.3h0M471.3 283.4h0M476.9 284.4h0M455.2 282.4h0M475.1 279.9h0M466.1 278.0h0M463.6 281.7h0M463.3 286.7h0M467.7 283.5h0M462.0 286.6h0M463.6 279.6h0M476.3 276.1h0M462.6 281.4h0M476.9 279.5h0M468.3 277.9h0M466.0 279.1h0M479.7 281.8h0M469.2 278.5h0M458.5 285.6h0M471.3 278.1h0M464.7 279.4h0M463.5 285.2h0M476.0 287.8h0M462.1 280.9h0M456.0 280.5h0M468.8 279.7h0M459.8 279.3h0M479.6 291.6h0M469.8 282.2h0M461.6 287.7h0M469.4 282.1h0M472.8 277.9h0M458.4 282.2h0M468.1 274.9h0M467.7 276.5h0M481.6 283.4h0M452.1 278.9h0M468.2 285.2h0M483.2 282.1h0M477.1 284.3h0M459.1 285.5h0M456.5 280.4h0M471.9 279.7h0M468.0 281.5h0M476.1 281.1h0M463.5 286.0h0M452.0 283.0h0M461.0 280.8h0M452.7 283.2h0M472.3 277.8h0M474.5 286.3h0M459.2 282.4h0M468.3 285.7h0M456.0 282.1h0M467.9 279.2h0M469.5 285.8h0M477.7 281.1h0M470.7 286.1h0M468.3 275.1h0M471.7 281.1h0M464.8 280.2h0M478.0 281.1h0M463.3 278.1h0M458.8 282.4h0M469.0 284.4h0M473.9 276.9h0M473.3 279.1h0M475.3 274.5h0M463.2 284.7h0M445.7 274.1h0M471.4 281.5h0M481.9 284.0h0M471.8 279.2h0M473.9 282.5h0M464.7 281.8h0M465.6 282.2h0M471.4 280.9h0M482.0 275.2h0M486.7 280.0h0M470.8 278.9h0M468.4 278.2h0M475.5 284.7h0M462.4 286.5h0M460.6 290.0h0M469.8 265.8h0M473.6 284.3h0M478.9 279.2h0M469.3 273.6h0M463.5 274.6h0M459.6 280.8h0M470.9 279.0h0M474.9 286.8h0M478.8 279.9h0M477.6 282.7h0M469.0 284.5h0M476.4 282.2h0M480.5 274.0h0M473.3 283.6h0M455.2 282.4h0M477.6 281.7h0M472.8 286.2h0M476.5 280.7h0M467.7 282.2h0M491.8 279.1h0M474.8 282.7h0M483.5 271.3h0M461.2 279.6h0M469.3 274.4h0M471.3 276.0h0M460.3 280.8h0M471.4 285.4h0M479.6 286.3h0M478.8 280.2h0M472.3 275.8h0M477.0 280.4h0M477.5 282.1h0M463.4 278.4h0M466.2 286.1h0M467.3 279.6h0M482.4 283.4h0M462.0 286.8h0M461.0 279.9h0M476.4 281.5h0M458.4 283.7h0M480.1 280.1h0M472.1 280.9h0M464.9 276.7h0M484.2 279.7h0" stroke="#b878d0" stroke-width="0.90" stroke-linecap="round" fill="none" opacity="1"/><path d="M477.3 286.3h0M476.6 278.1h0M471.1 280.4h0M475.3 282.8h0M474.8 279.5h0M475.1 277.0h0M474.2 284.8h0M479.9 275.0h0M476.0 281.6h0M473.1 277.4h0M476.2 278.1h0M482.2 280.7h0M481.4 279.1h0M475.4 279.7h0M480.0 282.4h0M479.7 277.3h0M476.5 279.3h0M474.9 280.1h0M473.4 279.7h0M478.5 284.7h0M476.5 281.1h0M481.0 282.4h0M471.8 277.9h0M479.8 283.3h0M477.0 281.9h0M477.0 276.8h0M481.4 279.4h0M475.7 282.0h0M477.9 278.8h0M479.0 276.9h0M479.6 275.7h0M475.3 279.3h0M478.8 283.4h0M478.4 277.5h0M481.4 278.1h0M473.9 276.5h0M469.0 282.0h0M474.9 282.6h0M479.9 277.8h0M477.6 281.8h0M480.8 278.9h0M480.1 277.6h0M477.6 279.7h0M480.9 280.7h0M474.6 279.8h0M480.5 282.6h0M473.2 277.9h0M476.0 284.7h0M477.4 279.0h0M478.7 282.4h0M479.1 281.2h0M475.6 279.3h0M477.8 278.9h0M477.9 282.0h0M474.7 281.5h0M475.0 282.4h0M479.0 277.3h0M475.0 278.5h0M473.3 280.2h0M478.6 280.5h0" stroke="#a060c0" stroke-width="0.90" stroke-linecap="round" fill="none" opacity="1"/><path d="M432 272L436.5 264.3L441 262.6L450.5 262.6L455 269L455 277.5L452 282.2L435 282.2L431.4 276.5Z" fill="none" stroke="#333" stroke-width="0.7" opacity="1"/><ellipse cx="439.3" cy="305.6" rx="5.8" ry="6.8" transform="rotate(0 439.3 305.6)" fill="#3030e0" opacity="1" filter="url(#b08)"/><ellipse cx="439.3" cy="305.6" rx="4.6" ry="5.4" transform="rotate(0 439.3 305.6)" fill="#1010ff" filter="url(#b03)"/><path d="M437.5 311.4h0M440.8 298.9h0M442.5 301.0h0M439.9 299.5h0M443.5 308.4h0M439.5 299.7h0M437.4 311.6h0M436.2 311.8h0M439.6 299.9h0M441.7 310.3h0M433.8 304.3h0M442.3 310.3h0M434.5 306.0h0M432.4 307.2h0M443.1 311.8h0M435.1 301.3h0M444.9 308.3h0M439.5 312.1h0M443.2 305.6h0M444.5 309.0h0M435.8 309.6h0M434.0 305.2h0M436.0 311.2h0M435.0 305.7h0M442.1 310.3h0M441.4 299.6h0M434.8 310.1h0M434.3 302.1h0M442.9 311.4h0M436.0 299.2h0M444.3 306.3h0M434.0 309.3h0M445.5 304.4h0M438.2 312.3h0M445.0 306.2h0M435.2 305.6h0M439.5 299.2h0M438.2 298.8h0M434.9 304.1h0M442.7 303.1h0M443.1 301.4h0M435.4 309.5h0M439.6 299.8h0M443.7 303.2h0M445.4 303.4h0M435.2 301.9h0M441.7 300.5h0M443.2 308.1h0M441.1 298.3h0M443.8 301.7h0M443.5 311.3h0M435.3 308.3h0M434.3 302.6h0M439.2 310.0h0M437.2 310.6h0M437.3 298.2h0M433.2 307.6h0M433.8 302.8h0M434.9 302.0h0M442.5 309.9h0M445.6 303.0h0M440.5 297.2h0M440.9 311.9h0M443.7 300.7h0M436.7 311.8h0M440.1 312.0h0M441.7 312.8h0M442.7 311.1h0M436.0 311.4h0M442.7 298.2h0M433.2 303.9h0M438.2 311.0h0M443.2 300.6h0M437.6 311.7h0M433.6 309.0h0M444.8 304.4h0M444.7 308.7h0M443.5 310.2h0M434.3 308.4h0M433.1 303.3h0M435.8 300.4h0M439.2 311.3h0M434.7 309.3h0M443.4 311.2h0M443.0 301.0h0M437.1 299.4h0M440.0 311.1h0M437.7 301.8h0M434.4 304.0h0M444.1 303.0h0M438.5 310.7h0M443.9 306.3h0M442.8 309.2h0M444.8 309.4h0M442.9 300.7h0M442.0 312.3h0M439.7 311.9h0M434.4 299.9h0M443.5 301.9h0M438.1 312.5h0M439.4 311.4h0M433.1 306.0h0M435.6 306.7h0M433.7 305.8h0M441.5 299.8h0M436.0 300.8h0M440.1 311.7h0M438.7 312.2h0M440.3 311.6h0M444.7 305.4h0M434.2 305.1h0M444.9 304.9h0M436.6 299.5h0M442.9 301.9h0M434.6 307.4h0M439.3 312.4h0M446.2 310.7h0M439.5 311.3h0M436.7 301.7h0M444.8 305.9h0M440.7 301.4h0M433.5 306.7h0M434.0 300.8h0M440.6 311.0h0M434.6 305.0h0M444.8 310.1h0M437.1 310.8h0M443.8 302.2h0M436.4 311.9h0M435.2 302.8h0M441.6 310.8h0M437.3 310.5h0M433.6 309.3h0M438.8 311.5h0M444.5 309.9h0M440.8 312.1h0M443.2 299.4h0M443.8 300.6h0M438.0 312.1h0M440.6 312.8h0" stroke="#2020d0" stroke-width="1.00" stroke-linecap="round" fill="none" opacity="1"/><path d="M439.5 298.5h0M441.6 293.2h0M438.1 292.7h0M440.0 296.4h0M440.1 295.7h0M438.8 287.5h0M438.1 292.3h0M441.1 294.9h0M439.2 293.2h0M444.0 289.8h0M440.5 292.1h0M437.7 284.6h0M439.3 304.8h0M440.3 292.3h0M441.3 295.2h0M440.5 292.2h0M438.9 299.1h0M440.6 289.7h0M438.6 290.9h0M439.8 296.1h0M439.4 295.4h0M438.7 295.4h0M437.9 295.8h0M438.6 292.1h0M443.2 295.8h0M440.6 293.0h0M439.7 292.3h0M437.3 289.2h0M436.8 286.5h0M438.8 294.9h0M438.2 293.8h0M440.3 288.1h0M441.5 292.6h0M439.3 299.1h0M438.8 291.2h0M443.0 297.5h0M441.6 297.8h0M441.0 298.8h0M439.3 294.6h0M440.2 294.4h0M439.1 287.0h0M439.5 292.9h0M441.0 294.1h0M439.2 294.7h0M436.9 296.3h0M439.8 286.5h0M441.8 295.3h0M441.9 297.3h0M440.2 286.9h0M441.3 292.4h0M440.1 291.8h0M438.0 294.7h0M438.8 288.0h0M442.4 293.0h0M440.1 290.2h0M440.3 296.0h0M441.5 293.3h0M440.8 294.7h0M442.2 292.2h0M438.3 296.1h0M438.9 294.5h0M438.8 295.7h0M438.9 294.4h0M440.1 292.1h0M442.4 293.5h0M438.5 293.7h0M441.3 295.1h0M439.8 294.3h0M443.1 291.7h0M438.3 299.2h0" stroke="#6060c0" stroke-width="0.90" stroke-linecap="round" fill="none" opacity="1"/><path d="M452.3 279C452.3 280.3 452.1 281.7 451.7 282.9C451.4 284.1 450.8 285.3 450.2 286.3C449.5 287.3 448.7 288.2 447.8 288.8C446.9 289.5 445.9 289.9 444.9 290.2C443.9 290.4 442.7 290.4 441.7 290.2C440.7 289.9 439.7 289.5 438.8 288.8C437.9 288.2 437.1 287.3 436.4 286.3C435.8 285.3 435.2 284.1 434.9 282.9C434.5 281.7 434.3 280.3 434.3 279C434.3 277.7 434.5 276.3 434.9 275.1C435.2 273.9 435.8 272.7 436.4 271.7C437.1 270.7 437.9 269.8 438.8 269.2C439.7 268.5 440.7 268.1 441.7 267.8C442.7 267.6 443.9 267.6 444.9 267.8C445.9 268.1 446.9 268.5 447.8 269.2C448.7 269.8 449.5 270.7 450.2 271.7C450.8 272.7 451.4 273.9 451.7 275.1C452.1 276.3 452.3 277.7 452.3 279Z" fill="#ff9a9a" opacity="0.8" filter="url(#b08)"/><path d="M450.9 279C450.9 280.1 450.7 281.3 450.4 282.3C450.1 283.3 449.7 284.3 449.1 285.2C448.6 286 447.9 286.8 447.1 287.3C446.3 287.9 445.5 288.3 444.6 288.5C443.8 288.6 442.8 288.6 442 288.5C441.1 288.3 440.3 287.9 439.5 287.3C438.7 286.8 438 286 437.5 285.2C436.9 284.3 436.5 283.3 436.2 282.3C435.9 281.3 435.7 280.1 435.7 279C435.7 277.9 435.9 276.7 436.2 275.7C436.5 274.7 436.9 273.7 437.5 272.8C438 272 438.7 271.2 439.5 270.7C440.3 270.1 441.1 269.7 442 269.5C442.8 269.4 443.8 269.4 444.6 269.5C445.5 269.7 446.3 270.1 447.1 270.7C447.9 271.2 448.6 272 449.1 272.8C449.7 273.7 450.1 274.7 450.4 275.7C450.7 276.7 450.9 277.9 450.9 279Z" fill="#ff1010" filter="url(#b03)"/><path d="M449.3 273.6h0M435.1 278.5h0M434.9 282.9h0M436.1 283.5h0M436.8 285.4h0M444.4 289.6h0M440.8 287.8h0M449.3 287.0h0M443.7 269.5h0M451.6 279.6h0M448.9 270.7h0M442.6 289.1h0M445.8 288.8h0M437.9 287.1h0M447.8 270.5h0M439.4 269.6h0M445.8 289.0h0M437.6 285.0h0M451.9 279.0h0M451.2 277.1h0M451.3 278.2h0M450.1 283.6h0M435.6 273.7h0M436.5 275.0h0M448.7 286.1h0M440.0 269.7h0M438.7 270.6h0M436.8 273.7h0M434.6 279.1h0M436.6 283.5h0M435.9 278.7h0M445.1 268.3h0M442.3 268.3h0M450.5 281.2h0M448.0 288.4h0M443.8 288.5h0M436.8 285.4h0M444.8 290.0h0M448.9 272.6h0M444.3 268.3h0M440.9 288.7h0M435.4 274.3h0M436.9 283.8h0M436.4 273.3h0M451.0 280.5h0M451.0 278.7h0M439.3 287.7h0M436.1 276.8h0M447.8 269.8h0M436.3 273.4h0M451.4 275.7h0M444.8 288.8h0M436.6 273.1h0M448.6 271.6h0M440.3 288.1h0M435.2 282.6h0M451.1 275.8h0M450.0 271.9h0M437.5 272.1h0M450.0 273.8h0M448.8 286.0h0M449.3 270.9h0M444.4 269.6h0M451.5 283.2h0M447.0 288.4h0M436.7 285.3h0M436.2 274.1h0M440.2 269.3h0M451.4 278.8h0M437.3 272.0h0M435.9 277.3h0M442.6 288.8h0M440.3 270.3h0M445.0 269.9h0M438.2 270.6h0M443.1 289.5h0M450.7 274.8h0M435.9 283.1h0M448.6 285.5h0M441.9 269.5h0M436.2 276.3h0M446.5 270.0h0M437.1 284.5h0M442.5 289.6h0M447.8 271.4h0M438.6 270.2h0M441.1 288.8h0M447.8 270.5h0M442.7 268.1h0M448.6 285.6h0M439.7 288.0h0M435.5 281.9h0M451.2 275.7h0M436.2 284.5h0M450.7 275.1h0M443.8 268.1h0M435.2 279.3h0M437.3 286.4h0M443.5 269.0h0M434.8 276.9h0M450.5 275.6h0M446.6 288.0h0M447.7 287.9h0M437.4 285.0h0M443.5 289.6h0M449.0 285.3h0M437.3 273.4h0M451.9 277.8h0M435.8 277.7h0M451.2 274.4h0M438.1 285.7h0M436.2 272.7h0M451.8 277.9h0M449.3 285.0h0M436.2 272.7h0M441.6 268.3h0M444.8 268.8h0M439.5 270.2h0M450.1 285.7h0M450.3 275.2h0M441.0 288.6h0M449.8 286.5h0M445.8 288.8h0M443.4 289.4h0M450.0 283.6h0M443.4 268.1h0M436.1 276.7h0M436.4 283.4h0M437.9 287.3h0M435.7 280.6h0M435.7 279.8h0M447.7 287.1h0M443.7 288.4h0M436.3 282.1h0M436.5 283.3h0M450.9 283.1h0M448.3 286.9h0M445.0 289.9h0M448.1 286.7h0M436.7 286.4h0M449.0 270.9h0M451.9 279.8h0M445.8 269.4h0M444.7 269.3h0M448.7 271.8h0M437.9 270.5h0M436.6 284.2h0M438.5 286.4h0M449.2 285.4h0M444.6 289.9h0M436.5 271.8h0M449.8 285.8h0M434.8 281.4h0M448.8 286.7h0M449.5 283.9h0M436.7 274.7h0M435.2 282.5h0M443.7 288.8h0M441.0 268.3h0M434.9 278.4h0M435.2 279.5h0M451.9 281.0h0M439.8 287.8h0M436.7 274.1h0M448.8 271.3h0M434.7 277.5h0M447.7 271.3h0M440.9 270.0h0M439.8 288.2h0M438.8 286.5h0M443.6 268.4h0M435.2 283.1h0M440.9 288.9h0M434.9 279.8h0M449.8 273.9h0M438.0 285.7h0M448.2 271.8h0M449.1 270.9h0M449.2 273.4h0M451.5 278.9h0M436.2 275.3h0M435.2 277.0h0M437.1 273.8h0M451.3 282.2h0M437.5 271.2h0M435.8 273.4h0M447.9 269.8h0M446.9 270.8h0M445.2 288.2h0M437.4 270.8h0M435.0 276.8h0M449.6 286.4h0M451.4 282.7h0M443.3 268.1h0M438.0 286.2h0M435.9 285.1h0M435.4 281.4h0M450.7 281.6h0M438.7 288.0h0M451.7 278.5h0M445.4 268.8h0M438.8 269.8h0M438.2 287.6h0M434.6 279.7h0M436.4 273.2h0M451.5 280.1h0M448.0 270.7h0M435.0 280.3h0M451.3 283.7h0M435.8 274.0h0M435.8 284.9h0M441.5 267.9h0M448.2 286.5h0M443.6 289.0h0M441.2 288.8h0M440.3 288.0h0M448.1 271.1h0M439.4 270.5h0M448.8 286.4h0M451.2 276.0h0M448.2 272.0h0M451.9 279.0h0M437.0 273.2h0M436.5 275.4h0M437.8 271.6h0M448.4 272.0h0M440.6 288.3h0M438.6 270.1h0M441.5 287.9h0M449.6 286.4h0M440.7 288.6h0M451.0 277.4h0M446.8 269.1h0M437.3 286.0h0M448.8 286.2h0M436.1 280.7h0M440.1 270.1h0M448.9 272.6h0M441.2 288.2h0M447.5 288.1h0" stroke="#ff1010" stroke-width="1.00" stroke-linecap="round" fill="none" opacity="1"/><path d="M450.3 284.7h0M435.7 281.1h0M451.8 274.7h0M451.0 284.3h0M452.2 282.9h0M438.7 271.3h0M449.1 273.3h0M448.5 271.2h0M438.9 269.8h0M434.4 275.5h0M448.2 270.5h0M443.7 289.1h0M448.5 286.7h0M437.6 286.3h0M436.4 282.7h0M435.6 280.7h0M440.8 269.8h0M450.5 273.3h0M447.3 271.0h0M435.2 279.0h0M439.9 289.4h0M435.3 275.9h0M441.7 267.5h0M438.0 287.9h0M443.1 267.4h0M451.5 282.0h0M435.8 284.6h0M448.5 286.7h0M435.7 276.0h0M450.4 273.8h0M434.6 274.7h0M435.3 280.4h0M438.3 270.0h0M438.3 272.1h0M449.0 273.0h0M452.1 280.8h0M438.4 288.7h0M443.0 288.9h0M437.1 284.1h0M435.6 283.4h0M434.6 280.1h0M448.3 287.2h0M441.1 269.8h0M441.3 288.9h0M446.4 269.4h0M452.1 280.4h0M436.3 273.2h0M450.6 275.4h0M435.6 284.5h0M452.3 281.8h0M438.8 269.1h0M449.3 286.2h0M449.9 283.6h0M447.6 287.2h0M449.3 286.8h0M438.6 289.1h0M441.2 289.0h0M438.9 287.1h0M448.6 288.4h0M444.0 268.5h0M451.5 274.2h0M442.6 269.3h0M449.1 286.8h0M441.3 269.8h0M451.3 278.1h0M450.4 274.7h0M438.4 286.6h0M449.4 271.9h0M443.8 267.5h0M434.6 280.8h0" stroke="#c04040" stroke-width="0.90" stroke-linecap="round" fill="none" opacity="1"/><path d="M438.3 286.5h0M437.5 288.4h0M441.2 292.3h0M440.2 287.8h0M439.6 290.2h0M442.4 290.5h0M444.5 287.7h0M441.9 283.3h0M440.6 280.8h0M441.7 291.1h0M440.7 287.0h0M438.4 288.4h0M441.5 293.1h0M443.1 290.8h0M438.4 289.4h0M441.7 288.8h0M439.9 285.5h0M442.2 287.7h0M441.5 287.5h0M443.1 291.7h0M444.0 290.9h0M441.2 289.1h0M442.1 286.6h0M441.4 284.6h0M439.6 288.1h0M441.5 290.8h0M445.0 288.7h0M440.6 289.0h0M442.7 289.3h0M440.8 288.9h0M442.2 291.6h0M436.7 287.2h0M443.3 291.4h0M440.6 292.7h0M440.2 291.5h0M439.2 290.0h0M443.8 290.4h0M438.5 288.0h0M439.9 288.5h0M439.9 292.6h0M444.9 288.8h0M438.5 290.3h0M438.6 288.3h0M440.9 289.9h0M440.1 289.7h0M441.1 291.1h0M442.0 287.5h0M436.6 286.2h0M437.1 287.9h0M439.2 289.3h0M438.4 292.4h0M441.8 291.4h0M439.1 289.3h0M441.7 288.7h0M439.8 287.6h0M440.3 286.4h0M443.7 291.9h0M440.4 290.3h0M441.9 286.7h0M437.8 290.1h0" stroke="#e03030" stroke-width="0.90" stroke-linecap="round" fill="none" opacity="1"/><text x="433.7" y="255.3" font-size="7.12" font-weight="bold" fill="#000" stroke="#000" stroke-width="0.2" textLength="41.9" lengthAdjust="spacingAndGlyphs">CD14- CD123+</text><path d="M450.7 374.9h0M439.7 361.0h0M439.5 385.1h0M454.0 356.5h0M452.4 366.1h0M451.1 350.9h0M454.2 390.0h0M437.3 364.6h0M441.0 365.4h0M441.2 386.4h0M438.0 372.7h0M431.7 377.3h0M460.8 375.4h0M442.7 369.5h0M435.9 372.5h0M453.9 380.7h0M442.0 362.8h0M445.4 378.2h0M460.1 387.6h0M444.5 373.7h0M453.5 370.2h0M460.4 371.1h0M442.2 373.4h0M442.7 360.5h0M450.9 368.0h0M433.2 383.6h0M430.9 358.4h0M455.6 363.2h0M446.9 387.9h0M450.0 381.7h0M433.5 369.2h0M448.3 367.3h0M440.6 364.2h0M446.1 379.6h0M448.8 367.4h0M454.3 368.4h0M448.1 366.8h0M450.6 365.1h0M450.3 362.9h0M459.1 372.3h0M457.3 363.6h0M444.2 376.8h0M460.0 356.9h0M456.4 374.9h0M443.9 367.8h0M443.1 376.6h0M442.8 373.0h0M449.5 383.6h0M452.2 372.3h0M449.8 383.2h0M446.2 370.4h0M444.7 357.1h0M443.2 365.6h0M438.1 379.9h0M443.1 378.5h0M454.3 374.2h0M450.8 386.2h0M438.0 387.6h0M443.8 364.5h0M453.6 371.0h0M444.2 374.0h0M440.3 375.3h0M449.0 370.6h0M460.9 377.6h0M433.0 375.8h0M442.2 368.9h0M444.2 364.7h0M454.5 370.6h0M444.7 365.8h0M437.0 372.1h0M456.7 388.6h0M446.7 381.6h0M450.1 382.1h0M436.7 365.7h0M453.8 371.3h0M468.0 361.2h0M454.5 366.1h0M440.9 366.5h0M450.0 368.0h0" stroke="#d06060" stroke-width="0.90" stroke-linecap="round" fill="none" opacity="1"/><path d="M435.2 361.3L440.5 353.6L455.4 353.6L459.6 361.3L458.4 370.3L455.4 373.9L439.9 373.9L434.6 369.1Z" fill="none" stroke="#333" stroke-width="0.7" opacity="1"/><path d="M459.9 384.5C459.9 385.8 459.7 387.1 459.2 388.3C458.7 389.4 458 390.6 457.1 391.6C456.2 392.5 455.1 393.4 454 394C452.8 394.7 451.4 395.1 450.1 395.3C448.7 395.6 447.3 395.6 445.9 395.3C444.6 395.1 443.2 394.7 442 394C440.9 393.4 439.8 392.5 438.9 391.6C438 390.6 437.3 389.4 436.8 388.3C436.3 387.1 436.1 385.8 436.1 384.5C436.1 383.2 436.3 381.9 436.8 380.7C437.3 379.6 438 378.4 438.9 377.4C439.8 376.5 440.9 375.6 442 375C443.2 374.3 444.6 373.9 445.9 373.7C447.3 373.4 448.7 373.4 450.1 373.7C451.4 373.9 452.8 374.3 454 375C455.1 375.6 456.2 376.5 457.1 377.4C458 378.4 458.7 379.6 459.2 380.7C459.7 381.9 459.9 383.2 459.9 384.5Z" fill="#ffb0b0" opacity="0.8" filter="url(#b08)"/><path d="M457.3 384.5C457.3 385.5 457.1 386.5 456.7 387.4C456.4 388.4 455.8 389.3 455.1 390C454.4 390.8 453.6 391.5 452.6 391.9C451.7 392.4 450.7 392.8 449.6 393C448.6 393.1 447.4 393.1 446.4 393C445.3 392.8 444.3 392.4 443.4 391.9C442.4 391.5 441.6 390.8 440.9 390C440.2 389.3 439.6 388.4 439.3 387.4C438.9 386.5 438.7 385.5 438.7 384.5C438.7 383.5 438.9 382.5 439.3 381.6C439.6 380.6 440.2 379.7 440.9 379C441.6 378.2 442.4 377.5 443.4 377.1C444.3 376.6 445.3 376.2 446.4 376C447.4 375.9 448.6 375.9 449.6 376C450.7 376.2 451.7 376.6 452.6 377.1C453.6 377.5 454.4 378.2 455.1 379C455.8 379.7 456.4 380.6 456.7 381.6C457.1 382.5 457.3 383.5 457.3 384.5Z" fill="#ff1010" filter="url(#b03)"/><path d="M448.3 395.1h0M454.9 376.6h0M455.4 390.0h0M453.0 391.4h0M439.0 388.9h0M439.1 381.7h0M447.7 393.0h0M449.7 394.7h0M442.9 374.8h0M457.2 390.8h0M448.0 394.2h0M459.0 384.7h0M456.6 387.8h0M454.9 391.5h0M447.5 375.8h0M438.8 387.6h0M454.6 378.7h0M439.5 381.4h0M455.3 391.0h0M452.3 374.6h0M439.3 380.6h0M450.3 375.3h0M436.9 381.9h0M441.8 377.2h0M455.5 376.9h0M455.4 377.7h0M457.3 386.3h0M448.4 374.3h0M456.1 378.8h0M442.4 392.1h0M459.7 384.4h0M459.1 385.9h0M438.6 378.9h0M455.8 378.8h0M457.6 384.8h0M459.2 386.2h0M450.8 375.7h0M455.1 379.1h0M439.1 379.7h0M451.6 392.9h0M443.4 394.0h0M454.9 393.3h0M454.9 376.4h0M439.5 378.2h0M441.1 392.6h0M456.4 390.7h0M440.6 391.5h0M448.1 374.5h0M454.2 376.2h0M442.3 376.8h0M458.7 388.8h0M456.6 382.0h0M441.1 392.4h0M454.8 379.0h0M458.3 382.7h0M437.4 384.3h0M438.2 389.8h0M455.9 392.1h0M448.6 375.6h0M456.9 389.1h0M458.8 388.3h0M440.2 392.0h0M457.6 384.8h0M448.9 375.1h0M438.6 384.6h0M456.2 390.3h0M446.1 374.3h0M439.2 390.1h0M450.1 394.8h0M448.9 395.2h0M455.2 391.5h0M440.0 377.1h0M444.3 393.1h0M441.9 376.8h0M437.4 379.9h0M454.1 393.4h0M456.4 377.7h0M444.4 393.9h0M442.7 377.5h0M441.0 392.5h0M453.6 391.1h0M443.7 375.2h0M445.5 392.5h0M457.5 379.7h0M453.3 377.1h0M459.5 385.5h0M452.5 394.1h0M453.6 376.4h0M452.7 375.2h0M447.0 376.1h0M456.5 390.1h0M455.8 376.9h0M445.1 392.4h0M448.4 374.1h0M455.8 390.1h0M439.4 380.8h0M438.7 386.7h0M442.9 376.1h0M443.6 392.1h0M440.8 378.4h0M450.2 374.6h0M457.2 381.9h0M441.5 390.5h0M442.4 375.7h0M447.8 374.6h0M448.6 394.7h0M441.6 393.6h0M456.3 379.0h0M441.1 391.3h0M436.4 384.1h0M442.0 392.1h0M459.7 383.7h0M451.9 375.0h0M451.9 393.2h0M456.0 377.1h0M443.6 394.3h0M459.0 382.4h0M457.1 391.1h0M451.8 375.8h0M445.9 395.1h0M456.8 381.6h0M456.2 377.9h0M442.2 377.2h0M448.5 373.9h0M438.0 385.2h0M442.3 391.8h0M438.5 380.6h0M449.6 375.5h0M459.1 381.6h0M443.6 392.6h0M443.3 375.5h0M455.3 391.2h0M450.9 393.5h0M439.9 376.9h0M440.0 390.2h0M454.1 393.7h0M444.2 392.2h0M437.1 388.5h0M458.2 381.5h0M453.1 375.2h0M455.0 378.2h0M445.9 394.8h0M443.2 393.6h0M446.2 394.4h0M439.9 379.9h0M453.2 376.9h0M458.4 384.7h0M456.5 377.4h0M437.0 384.4h0M453.4 391.4h0M438.5 389.7h0M442.2 376.0h0M441.9 376.5h0M437.7 379.5h0M450.3 374.8h0M450.5 394.8h0M438.2 387.3h0M438.9 385.5h0M446.2 394.2h0M455.3 379.3h0M456.7 391.7h0M439.3 382.4h0M444.1 377.0h0M456.5 380.2h0M439.5 389.7h0M452.6 375.6h0M449.2 375.2h0M437.8 388.3h0M443.8 377.0h0M456.7 381.4h0M440.3 376.6h0M446.7 393.2h0M454.9 377.3h0M449.1 376.0h0M454.1 391.8h0M453.9 375.6h0M443.3 375.6h0M454.0 375.2h0M455.3 379.7h0M449.9 393.9h0M454.8 378.5h0M455.8 390.3h0M452.4 394.1h0M437.6 389.3h0M444.3 393.4h0M451.6 375.5h0M454.2 376.4h0M450.0 395.2h0M443.9 392.3h0M449.8 374.3h0M438.6 381.3h0M454.6 376.6h0M437.5 383.9h0M459.1 387.9h0M456.9 380.6h0M448.0 375.7h0M447.4 394.4h0M446.0 393.2h0M438.8 378.1h0M455.9 380.3h0M453.4 391.7h0M437.8 387.4h0M441.0 377.2h0M446.2 374.6h0M446.4 375.7h0M453.9 375.9h0M457.8 383.4h0M437.9 379.8h0M437.1 387.3h0M437.5 388.9h0M446.4 373.8h0M440.7 390.5h0M457.9 383.0h0M455.7 391.2h0M453.5 391.3h0M449.7 374.2h0M450.2 395.0h0M458.2 382.9h0M438.2 383.4h0M441.5 392.3h0M444.3 392.6h0M445.5 393.7h0M443.2 391.7h0M458.2 381.1h0M456.7 381.4h0M444.5 394.7h0M438.9 387.2h0M443.3 393.1h0M440.6 379.0h0M459.1 386.2h0M447.4 375.6h0M456.0 389.2h0M456.2 379.7h0M439.6 381.3h0M449.0 394.0h0M444.3 374.9h0M451.8 375.6h0M438.8 386.9h0M452.6 393.6h0M448.4 375.1h0M454.6 377.2h0M456.3 380.2h0M456.7 388.2h0M444.6 392.6h0M442.2 376.5h0M457.2 388.7h0M438.6 387.0h0M452.4 375.9h0M437.1 384.2h0M446.1 394.2h0M445.1 376.5h0M456.8 388.7h0M440.3 391.2h0M456.6 389.3h0M438.1 380.4h0M445.5 374.4h0M439.2 377.6h0M441.0 379.0h0M451.0 376.1h0M448.0 374.6h0M457.0 387.8h0M449.6 376.0h0M459.6 383.1h0M439.2 391.7h0M447.2 375.0h0M459.6 383.2h0M458.8 386.3h0M441.4 392.5h0M454.7 392.5h0M452.6 393.9h0M438.5 383.1h0M457.0 382.4h0M457.2 380.2h0M441.2 390.6h0M443.0 377.4h0M440.0 392.4h0M446.0 374.0h0M453.3 376.0h0M439.5 380.6h0M438.1 385.8h0M441.5 390.2h0M439.1 386.6h0M456.4 378.2h0M438.9 386.6h0M454.1 393.3h0M458.0 381.7h0M457.6 386.4h0M444.6 376.1h0M454.8 377.7h0M445.2 374.8h0M453.2 393.4h0M454.0 393.5h0M447.3 376.2h0M455.6 378.5h0M454.8 391.9h0M446.8 393.6h0M446.7 394.2h0M452.6 376.6h0M438.5 379.6h0M457.2 382.0h0M454.7 392.4h0M457.8 386.8h0M450.4 374.8h0M442.1 392.8h0M451.4 392.7h0M452.5 393.7h0M445.5 373.9h0M445.9 376.1h0M437.1 381.0h0M437.5 382.2h0M440.3 392.2h0M458.4 381.4h0M458.1 382.5h0M454.4 392.1h0M439.4 389.3h0M445.1 393.6h0M438.9 389.3h0M459.5 384.2h0M443.0 392.6h0M446.4 394.3h0M442.7 374.9h0M439.2 388.1h0M450.3 392.8h0M448.7 375.9h0M438.4 382.2h0M455.2 393.0h0M459.0 386.0h0M451.7 392.4h0M458.8 385.7h0M437.1 383.4h0" stroke="#ff1010" stroke-width="1.00" stroke-linecap="round" fill="none" opacity="1"/><path d="M459.8 380.7h0M439.9 380.1h0M453.8 392.1h0M442.4 376.0h0M457.6 383.0h0M439.3 378.9h0M437.1 384.0h0M439.3 376.8h0M438.9 389.7h0M438.5 390.6h0M438.9 389.5h0M444.5 375.1h0M438.8 388.9h0M444.7 393.2h0M449.6 394.2h0M439.1 378.0h0M438.2 379.9h0M445.3 394.7h0M453.4 376.8h0M445.1 393.0h0M447.8 394.5h0M443.9 377.0h0M445.6 395.1h0M457.8 383.4h0M443.5 393.6h0M438.4 379.0h0M440.3 379.5h0M455.5 376.9h0M445.5 395.7h0M444.7 395.4h0M440.7 377.4h0M440.9 376.5h0M447.1 395.3h0M446.2 395.9h0M452.6 392.2h0M438.9 384.9h0M453.8 377.3h0M458.0 379.8h0M441.0 392.8h0M438.4 384.2h0M456.9 379.7h0M446.9 394.1h0M458.6 380.9h0M436.6 381.1h0M437.9 381.1h0M439.0 389.7h0M452.4 377.0h0M436.2 387.5h0M436.8 387.7h0M438.9 391.9h0M436.2 383.7h0M448.1 375.2h0M444.5 393.8h0M454.2 374.9h0M459.9 385.2h0M438.0 388.9h0M449.6 393.4h0M453.4 393.6h0M443.4 376.2h0M443.9 374.4h0M446.6 373.2h0M441.7 375.5h0M449.6 373.8h0M446.7 395.4h0M440.3 390.9h0M456.3 391.9h0M456.5 381.5h0M451.2 375.7h0M442.6 376.8h0M456.5 389.6h0M438.9 389.5h0M444.4 375.1h0M440.7 390.6h0M452.8 374.3h0M456.7 390.0h0M438.1 387.4h0M449.1 395.5h0M437.2 384.9h0M436.1 382.8h0M456.2 379.6h0M442.0 376.0h0M438.2 391.1h0M449.4 393.5h0M457.3 379.5h0M459.1 384.5h0M458.6 386.8h0M438.5 388.3h0M456.5 389.2h0M452.4 375.1h0M457.6 380.0h0M458.9 389.7h0M436.5 385.9h0M456.8 381.2h0M458.5 387.3h0M438.3 386.6h0M446.2 373.8h0M457.3 382.4h0M454.3 374.8h0M437.2 381.2h0M437.1 384.9h0" stroke="#d04848" stroke-width="0.90" stroke-linecap="round" fill="none" opacity="1"/><path d="M460.7 382.1h0M433.7 385.5h0M435.4 377.9h0M436.4 384.8h0M459.0 389.3h0M439.2 393.6h0M433.6 390.5h0M438.7 394.0h0M460.0 378.4h0M452.7 393.6h0M439.8 394.1h0M434.6 387.6h0M442.6 393.9h0M459.4 384.1h0M457.3 382.6h0M454.0 395.2h0M452.2 374.1h0M458.9 388.1h0M434.2 385.3h0M436.5 376.3h0M438.2 392.9h0M434.2 381.3h0M444.4 395.3h0M439.6 373.0h0M444.7 371.1h0M444.1 393.4h0M446.1 371.0h0M457.1 393.6h0M456.1 395.8h0M446.0 372.0h0M447.7 396.6h0M439.3 375.0h0M445.0 396.0h0M444.0 372.8h0M438.5 373.0h0M451.1 392.8h0M452.9 371.9h0M438.3 388.6h0M459.4 376.5h0M436.5 388.6h0M457.0 389.9h0M447.5 395.2h0M455.1 391.8h0M455.3 372.6h0M436.3 385.2h0M447.1 369.8h0M443.6 372.7h0M434.4 386.7h0M444.4 371.3h0M460.5 382.0h0M460.4 379.6h0M435.0 385.6h0M435.2 378.1h0M453.2 371.6h0M443.4 378.0h0M462.9 386.9h0M442.6 394.9h0M435.1 390.8h0M444.6 396.9h0M452.6 394.1h0M460.7 388.2h0M446.4 370.1h0M443.5 393.9h0M446.6 397.5h0M444.2 373.8h0M460.7 383.4h0M442.0 371.1h0M461.3 382.5h0M445.8 396.3h0M436.2 389.6h0M451.4 395.2h0M436.0 389.9h0M459.0 393.9h0M450.9 372.0h0M459.0 386.3h0M435.4 391.3h0M452.2 395.2h0M436.4 383.7h0M453.7 393.8h0M438.5 373.6h0M461.0 382.3h0M449.0 370.3h0M460.9 386.6h0M438.6 392.6h0M441.3 395.5h0M457.4 390.6h0M440.0 371.7h0M438.0 376.7h0M443.7 372.0h0M434.4 387.7h0M439.8 392.7h0M436.3 385.2h0M437.6 392.2h0M452.7 375.9h0M433.0 384.5h0M456.7 387.5h0M443.8 395.2h0M457.6 379.0h0M449.4 394.8h0M442.3 376.2h0M459.9 381.7h0M435.0 389.7h0M434.2 381.4h0M441.0 393.9h0M435.0 391.7h0M458.3 378.1h0M437.9 388.9h0M456.0 376.7h0M461.5 385.0h0M455.9 371.3h0M437.7 388.9h0M456.3 391.0h0M459.9 377.6h0M434.1 375.4h0M456.3 394.6h0M433.7 388.3h0M438.6 373.3h0M458.9 384.5h0M435.1 381.8h0M457.2 373.4h0M451.5 397.0h0M458.7 391.0h0M456.2 390.9h0M458.6 388.7h0M434.7 384.0h0M460.7 383.8h0M459.3 383.9h0M439.1 371.8h0M440.8 396.5h0M446.9 396.4h0M441.8 393.5h0M433.7 379.7h0M435.1 386.7h0M456.1 396.5h0M453.0 376.0h0M450.4 369.7h0M437.0 388.7h0M455.8 379.4h0M449.5 394.0h0M460.9 387.8h0M459.4 382.1h0M432.7 382.0h0M458.8 391.6h0M434.8 378.8h0M453.8 395.4h0M458.2 389.2h0M463.0 383.7h0M433.7 383.8h0M458.8 381.9h0M434.9 383.5h0M436.5 388.5h0M433.5 382.4h0M457.5 376.3h0M441.9 374.6h0M435.5 387.7h0M435.1 384.8h0M458.4 394.8h0M461.3 387.8h0M442.1 397.9h0M438.8 371.1h0M434.6 386.0h0M434.9 387.0h0M457.1 390.8h0M458.8 383.6h0M457.6 389.1h0M437.1 376.7h0M434.0 391.7h0M435.2 387.3h0M445.9 396.5h0M445.7 393.9h0M438.5 376.8h0M446.6 372.8h0M452.4 372.5h0M436.6 378.9h0M435.7 380.3h0M459.6 381.4h0M457.7 388.0h0M448.3 371.3h0M439.6 392.8h0M456.6 387.5h0M437.3 377.7h0M436.1 377.8h0M450.2 397.0h0M453.4 372.2h0M439.2 377.5h0M458.0 389.8h0M458.0 386.5h0M459.0 377.3h0M447.3 395.0h0M441.6 393.7h0M441.4 372.9h0M435.2 389.7h0M458.9 390.0h0M441.2 392.6h0M461.8 384.1h0M452.4 371.9h0M435.9 387.4h0M454.8 373.1h0M436.3 385.5h0M446.2 371.2h0M440.1 373.3h0M459.4 383.6h0M440.8 374.2h0M437.7 373.9h0M441.3 391.1h0M454.1 392.7h0M438.7 393.6h0M436.3 381.6h0M442.2 392.3h0M457.3 377.4h0M453.6 395.0h0M456.5 376.2h0M460.8 388.2h0M451.2 371.3h0M436.9 377.1h0M449.6 397.4h0M459.1 387.3h0M459.9 390.9h0M451.3 371.0h0M444.2 371.3h0" stroke="#ff3030" stroke-width="0.90" stroke-linecap="round" fill="none" opacity="1"/><path d="M449.0 365.1h0M442.8 362.3h0M445.1 367.6h0M439.7 369.1h0M444.9 364.0h0M444.5 373.2h0M446.4 364.4h0M446.8 369.5h0M446.7 368.1h0M441.7 364.3h0M444.7 372.0h0M445.2 372.7h0M450.1 364.8h0M447.4 365.2h0M443.5 369.6h0M445.7 366.1h0M450.0 362.0h0M440.2 365.8h0M449.2 367.9h0M446.1 369.5h0M446.9 364.4h0M447.0 369.8h0M441.2 371.7h0M451.3 370.1h0M444.0 366.5h0M446.4 365.9h0M443.8 368.4h0M441.9 366.0h0M443.0 369.0h0M448.0 372.3h0M445.9 371.7h0M444.4 368.8h0M449.3 366.7h0M444.6 370.5h0M445.5 369.3h0M444.9 369.2h0M450.7 370.0h0M448.5 371.2h0M442.6 364.2h0M446.5 363.9h0M446.2 366.1h0M443.9 365.8h0M449.4 364.3h0M451.7 365.1h0M445.1 373.9h0M445.9 370.8h0M446.2 368.3h0M448.4 367.6h0M445.6 363.8h0M444.4 366.7h0" stroke="#e06060" stroke-width="0.80" stroke-linecap="round" fill="none" opacity="1"/><text x="438" y="345.4" font-size="7.12" font-weight="bold" fill="#000" stroke="#000" stroke-width="0.2" textLength="41.3" lengthAdjust="spacingAndGlyphs">CD14- CD123+</text></g></svg></body></html>
